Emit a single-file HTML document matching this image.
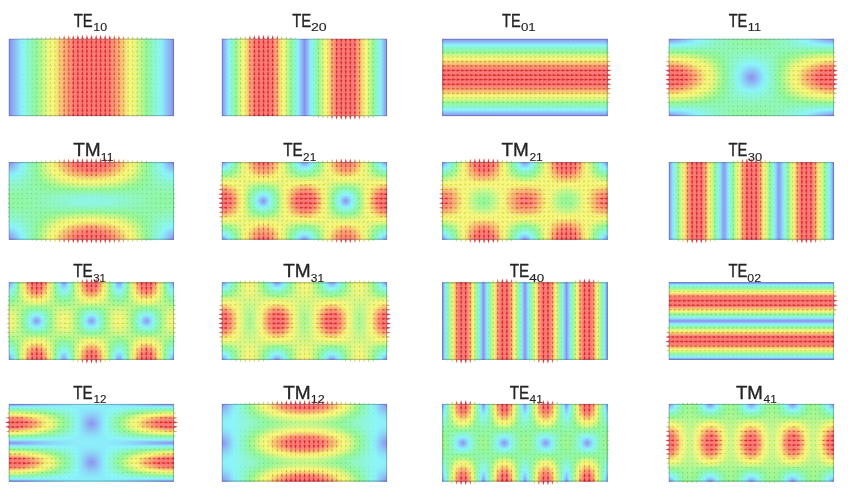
<!DOCTYPE html>
<html><head><meta charset="utf-8"><title>Rectangular waveguide modes</title>
<style>
html,body{margin:0;padding:0;background:#fff}
#r{position:relative;width:848px;height:493px;overflow:hidden;background:#fff;font-family:"Liberation Sans",sans-serif}
.p{position:absolute;overflow:hidden}
.p i{display:block;height:1px;position:relative}
.p i::before,.p i::after{content:"";position:absolute;top:0;height:1px;width:83px}
.p i::before{left:0;background:linear-gradient(90deg,var(--g))}
.p i::after{right:0;background:linear-gradient(270deg,var(--g))}
svg{position:absolute;left:0;top:0}
text{font-family:"Liberation Sans",sans-serif;fill:#222}
.aa{--g:#8e96f1,#8e9cf1,#8ea5f2,#8db0f3,#8dbaf4,#8dc5f5,#8dcff6,#8dd9f7,#8ce3f8,#8cedf9,#8cf5f9,#8df5f1,#8ef5e9,#8ff5e1,#8ff5da,#90f5d3,#91f5cc,#91f6c6,#92f6c1,#93f6bc,#93f6b7,#93f6b3,#94f6af,#94f6ac,#94f6aa,#95f6a8,#95f6a7,#95f6a6,#95f6a6}
.ab{--g:#8ea7f2,#8da9f3,#8daff3,#8db7f4,#8dc0f5,#8dc9f6,#8dd3f7,#8cdcf8,#8ce6f9,#8ceff9,#8cf5f7,#8df5ef,#8ef5e7,#8ff5e0,#8ff5d9,#90f5d2,#91f5cc,#91f6c6,#92f6c0,#93f6bb,#93f6b7,#93f6b3,#94f6b0,#94f6ad,#94f6aa,#95f6a8,#95f6a7,#95f6a6,#95f6a6}
.ac{--g:#8db8f4,#8db9f4,#8dbdf5,#8dc3f5,#8dcaf6,#8dd1f7,#8dd9f7,#8ce2f8,#8ceaf9,#8cf3fa,#8df5f4,#8df5ed,#8ef5e5,#8ff5de,#90f5d7,#90f5d1,#91f5cb,#92f6c5,#92f6c0,#93f6bb,#93f6b7,#93f6b3,#94f6b0,#94f6ad,#94f6ab,#95f6a9,#95f6a8,#95f6a7,#95f6a7}
.ad{--g:#8dc9f6,#8dcaf6,#8dccf6,#8dd0f6,#8dd6f7,#8cdcf8,#8ce3f8,#8ceaf9,#8cf1fa,#8cf5f7,#8df5f0,#8ef5e9,#8ff5e2,#8ff5dc,#90f5d5,#90f5cf,#91f6ca,#92f6c4,#92f6c0,#93f6bb,#93f6b7,#93f6b3,#94f6b0,#94f6ae,#94f6ab,#94f6aa,#95f6a8,#95f6a8,#95f6a8}
.ae{--g:#8dd9f7,#8ddaf7,#8cdcf8,#8cdff8,#8ce3f8,#8ce8f9,#8cedf9,#8cf3fa,#8cf5f6,#8df5f0,#8ef5ea,#8ef5e4,#8ff5de,#90f5d8,#90f5d3,#91f5cd,#91f6c8,#92f6c3,#92f6bf,#93f6bb,#93f6b7,#93f6b4,#94f6b1,#94f6ae,#94f6ac,#94f6ab,#94f6aa,#95f6a9,#95f6a9}
.af{--g:#8ceaf9,#8ceaf9,#8cecf9,#8ceef9,#8cf1fa,#8cf5fa,#8cf5f6,#8df5f2,#8df5ed,#8ef5e8,#8ef5e3,#8ff5de,#8ff5d9,#90f5d4,#90f5cf,#91f5cb,#91f6c6,#92f6c2,#92f6be,#93f6ba,#93f6b7,#93f6b4,#94f6b1,#94f6af,#94f6ad,#94f6ac,#94f6ab,#94f6aa,#94f6aa}
.ag{--g:#8cf5f5,#8df5f5,#8df5f4,#8df5f3,#8df5f0,#8df5ee,#8ef5eb,#8ef5e7,#8ef5e4,#8ff5e0,#8ff5dc,#90f5d8,#90f5d4,#90f5d0,#91f5cc,#91f6c8,#92f6c4,#92f6c0,#92f6bd,#93f6ba,#93f6b7,#93f6b4,#94f6b2,#94f6b0,#94f6af,#94f6ad,#94f6ad,#94f6ac,#94f6ac}
.ah{--g:#8ef5e7,#8ef5e6,#8ef5e6,#8ef5e5,#8ef5e3,#8ff5e1,#8ff5df,#8ff5dd,#8ff5da,#90f5d7,#90f5d4,#90f5d1,#91f5ce,#91f6ca,#91f6c7,#92f6c4,#92f6c1,#92f6be,#93f6bc,#93f6b9,#93f6b7,#93f6b5,#93f6b3,#94f6b2,#94f6b0,#94f6af,#94f6af,#94f6ae,#94f6ae}
.ai{--g:#90f5d8,#90f5d8,#90f5d7,#90f5d7,#90f5d6,#90f5d4,#90f5d3,#90f5d1,#90f5cf,#91f5ce,#91f5cb,#91f6c9,#91f6c7,#92f6c5,#92f6c3,#92f6c0,#92f6be,#92f6bc,#93f6ba,#93f6b9,#93f6b7,#93f6b5,#93f6b4,#93f6b3,#94f6b2,#94f6b1,#94f6b1,#94f6b1,#94f6b0}
.aj{--g:#91f6c9,#91f6c9,#91f6c9,#91f6c9,#91f6c8,#91f6c8,#91f6c7,#91f6c6,#92f6c5,#92f6c4,#92f6c3,#92f6c1,#92f6c0,#92f6bf,#92f6be,#92f6bc,#93f6bb,#93f6ba,#93f6b9,#93f6b8,#93f6b7,#93f6b6,#93f6b5,#93f6b5,#93f6b4,#93f6b4,#93f6b3,#93f6b3,#93f6b3}
.ak{--g:#93f6bb,#93f6bb,#93f6bb,#93f6bb,#93f6bb,#93f6bb,#93f6bb,#93f6ba,#93f6ba,#93f6ba,#93f6ba,#93f6b9,#93f6b9,#93f6b9,#93f6b9,#93f6b8,#93f6b8,#93f6b8,#93f6b7,#93f6b7,#93f6b7,#93f6b7,#93f6b6,#93f6b6,#93f6b6,#93f6b6,#93f6b6,#93f6b6,#93f6b6}
.al{--g:#94f6ad,#94f6ad,#94f6ad,#94f6ae,#94f6ae,#94f6ae,#94f6ae,#94f6af,#94f6af,#94f6b0,#94f6b1,#94f6b1,#94f6b2,#94f6b2,#93f6b3,#93f6b4,#93f6b4,#93f6b5,#93f6b6,#93f6b6,#93f6b7,#93f6b7,#93f6b8,#93f6b8,#93f6b9,#93f6b9,#93f6b9,#93f6b9,#93f6b9}
.am{--g:#96f69f,#96f6a0,#95f6a0,#95f6a0,#95f6a1,#95f6a2,#95f6a2,#95f6a4,#95f6a5,#95f6a6,#95f6a7,#95f6a9,#94f6aa,#94f6ac,#94f6ae,#94f6af,#94f6b1,#94f6b2,#93f6b4,#93f6b5,#93f6b7,#93f6b8,#93f6b9,#93f6ba,#93f6bb,#93f6bc,#93f6bc,#92f6bc,#92f6bd}
.an{--g:#a1f698,#a1f698,#a1f698,#a0f699,#9ff699,#9df699,#9bf69a,#99f69a,#97f69b,#96f69c,#96f69e,#95f6a0,#95f6a3,#95f6a5,#95f6a8,#94f6aa,#94f6ad,#94f6b0,#94f6b2,#93f6b5,#93f6b7,#93f6b9,#93f6bb,#92f6bc,#92f6be,#92f6bf,#92f6c0,#92f6c0,#92f6c0}
.ao{--g:#b2f694,#b1f694,#b1f695,#b0f695,#aef695,#acf696,#aaf696,#a7f697,#a4f698,#a1f698,#9ef699,#9af69a,#96f69b,#96f69f,#95f6a2,#95f6a6,#94f6a9,#94f6ad,#94f6b0,#93f6b4,#93f6b7,#93f6ba,#92f6bc,#92f6bf,#92f6c1,#92f6c2,#92f6c3,#92f6c4,#92f6c4}
.ap{--g:#c2f691,#c1f691,#c1f691,#bff691,#bef692,#bbf692,#b8f693,#b5f694,#b1f694,#adf695,#a9f696,#a4f698,#9ff699,#9af69a,#96f69c,#95f6a1,#95f6a5,#94f6aa,#94f6ae,#94f6b3,#93f6b7,#93f6bb,#92f6be,#92f6c1,#92f6c4,#91f6c6,#91f6c7,#91f6c8,#91f6c8}
.aq{--g:#d1f68d,#d1f68d,#d0f68d,#cef68d,#ccf68e,#caf68f,#c6f68f,#c2f690,#bef691,#b9f693,#b4f694,#aef695,#a8f697,#a2f698,#9bf69a,#96f69c,#95f6a2,#95f6a7,#94f6ac,#94f6b2,#93f6b7,#93f6bc,#92f6c0,#92f6c4,#91f6c7,#91f6ca,#91f5cb,#91f5cd,#91f5cd}
.ar{--g:#e0f689,#e0f689,#dff68a,#ddf68a,#dbf68b,#d8f68b,#d4f68c,#d0f68d,#cbf68e,#c5f690,#bff691,#b8f693,#b1f694,#aaf696,#a2f698,#9bf69a,#96f69e,#95f6a4,#94f6ab,#94f6b1,#93f6b7,#92f6bc,#92f6c2,#91f6c6,#91f6ca,#91f5ce,#90f5d0,#90f5d1,#90f5d2}
.as{--g:#eff686,#eef686,#edf686,#ebf687,#e9f687,#e5f688,#e1f689,#dcf68a,#d7f68c,#d0f68d,#caf68f,#c2f690,#baf692,#b2f694,#a9f696,#a0f698,#97f69b,#95f6a1,#95f6a9,#94f6b0,#93f6b7,#92f6bd,#92f6c4,#91f6c9,#91f5ce,#90f5d2,#90f5d4,#90f5d6,#90f5d6}
.at{--g:#f6f684,#f6f684,#f6f684,#f6f684,#f6f684,#f2f685,#eef686,#e8f687,#e2f689,#dbf68a,#d4f68c,#ccf68e,#c3f690,#baf692,#b0f695,#a6f697,#9cf69a,#96f69e,#95f6a7,#94f6af,#93f6b7,#92f6be,#92f6c5,#91f5cc,#90f5d1,#90f5d6,#8ff5d9,#8ff5db,#8ff5dc}
.au{--g:#f6f684,#f6f684,#f6f684,#f6f684,#f6f684,#f6f684,#f6f684,#f4f684,#edf686,#e6f688,#def68a,#d5f68c,#cbf68e,#c1f691,#b7f693,#acf696,#a1f698,#96f69c,#95f6a5,#94f6ae,#93f6b7,#92f6bf,#91f6c7,#91f5cf,#90f5d5,#8ff5da,#8ff5de,#8ff5e0,#8ff5e1}
.av{--g:#f6f084,#f6f184,#f6f384,#f6f684,#f6f684,#f6f684,#f6f684,#f6f684,#f6f684,#f0f685,#e7f688,#def68a,#d4f68c,#c9f68f,#bdf692,#b1f694,#a5f697,#99f69a,#95f6a3,#94f6ad,#93f6b7,#92f6c0,#91f6c9,#90f5d1,#90f5d9,#8ff5df,#8ef5e3,#8ef5e6,#8ef5e6}
.aw{--g:#f7e182,#f7e282,#f7e482,#f7e783,#f6ec83,#f6f284,#f6f684,#f6f684,#f6f684,#f6f684,#f0f685,#e6f688,#dbf68a,#d0f68d,#c4f690,#b7f693,#aaf696,#9cf69a,#95f6a1,#94f6ac,#93f6b7,#92f6c1,#91f5cb,#90f5d4,#8ff5dc,#8ef5e3,#8ef5e8,#8ef5eb,#8df5ec}
.ax{--g:#f7d281,#f7d381,#f7d581,#f7d882,#f7dd82,#f7e482,#f6eb83,#f6f484,#f6f684,#f6f684,#f6f684,#eef686,#e3f689,#d7f68c,#caf68f,#bcf692,#aef695,#9ff699,#96f69f,#94f6ab,#93f6b7,#92f6c2,#91f5cd,#90f5d7,#8ff5e0,#8ef5e8,#8df5ee,#8df5f1,#8df5f2}
.ay{--g:#f8c480,#f8c580,#f8c780,#f7cb80,#f7d081,#f7d781,#f7df82,#f6e883,#f6f384,#f6f684,#f6f684,#f6f684,#eaf687,#ddf68a,#cff68d,#c1f691,#b2f694,#a3f698,#96f69e,#94f6aa,#93f6b7,#92f6c3,#91f5cf,#8ff5da,#8ef5e4,#8df5ed,#8df5f3,#8cf5f7,#8cf5f8}
.az{--g:#f8b77f,#f8b87f,#f8ba7f,#f8be7f,#f8c380,#f7ca80,#f7d381,#f7dd82,#f6e883,#f6f484,#f6f684,#f6f684,#f1f685,#e3f689,#d5f68c,#c5f690,#b6f693,#a5f697,#96f69c,#95f6a9,#93f6b7,#92f6c4,#90f5d1,#8ff5dd,#8ef5e8,#8df5f1,#8cf5f9,#8cf2fa,#8cf0fa}
.ba{--g:#f9ab7e,#f8ab7e,#f8ae7e,#f8b27e,#f8b87f,#f8bf7f,#f8c780,#f7d281,#f7dd82,#f6eb83,#f6f684,#f6f684,#f6f684,#e9f687,#daf68b,#caf68f,#b9f693,#a8f697,#97f69b,#95f6a8,#93f6b7,#92f6c5,#90f5d2,#8ff5e0,#8ef5ec,#8cf5f6,#8cf0fa,#8cebf9,#8ce9f9}
.bb{--g:#f99f7d,#f9a07d,#f9a37d,#f9a77d,#f8ad7e,#f8b47f,#f8bd7f,#f8c880,#f7d481,#f7e182,#f6f084,#f6f684,#f6f684,#eef686,#def68a,#cef68e,#bdf692,#abf696,#99f69a,#95f6a8,#93f6b7,#92f6c5,#90f5d4,#8ff5e2,#8df5ef,#8cf4fa,#8ceaf9,#8ce4f8,#8ce2f8}
.bc{--g:#f9957c,#f9967c,#f9987c,#f99d7d,#f9a37d,#f9aa7e,#f8b47e,#f8be7f,#f7cb80,#f7d982,#f6e883,#f6f684,#f6f684,#f3f685,#e3f689,#d2f68d,#c0f691,#adf695,#9af69a,#95f6a7,#93f6b7,#91f6c6,#90f5d6,#8ef5e5,#8df5f3,#8ceff9,#8ce4f8,#8cddf8,#8ddbf7}
.bd{--g:#fa8b7b,#fa8c7b,#f98f7b,#f9937c,#f9997c,#f9a17d,#f9ab7e,#f8b67f,#f8c380,#f7d181,#f7e182,#f6f384,#f6f684,#f6f684,#e7f688,#d5f68c,#c3f690,#b0f695,#9cf69a,#95f6a6,#93f6b7,#91f6c7,#90f5d7,#8ef5e7,#8cf5f6,#8ceaf9,#8cdef8,#8dd6f7,#8dd4f7}
.be{--g:#fa837a,#fa847a,#fa867b,#fa8b7b,#f9917c,#f9997c,#f9a37d,#f8af7e,#f8bc7f,#f7ca80,#f7db82,#f6ec83,#f6f684,#f6f684,#eaf687,#d8f68b,#c5f690,#b2f694,#9df699,#95f6a6,#93f6b7,#91f6c8,#90f5d9,#8ef5e9,#8cf5fa,#8ce5f8,#8dd8f7,#8dcff6,#8dccf6}
.bf{--g:#fa7e7a,#fa7e7a,#fa7f7a,#fa847a,#fa8a7b,#f9927c,#f99c7d,#f9a87d,#f8b57f,#f8c480,#f7d581,#f6e783,#f6f684,#f6f684,#edf686,#dbf68b,#c8f68f,#b3f694,#9ff699,#95f6a5,#93f6b6,#91f6c8,#8ff5da,#8ef5eb,#8cf2fa,#8ce1f8,#8dd2f7,#8dc8f6,#8dc5f5}
.bg{--g:#fa7e7a,#fa7e7a,#fa7e7a,#fa7e7a,#fa847a,#fa8c7b,#f9967c,#f9a27d,#f8b07e,#f8bf7f,#f7d081,#f7e282,#f6f684,#f6f684,#f0f685,#ddf68a,#caf68f,#b5f694,#a0f699,#95f6a5,#93f6b6,#91f6c9,#8ff5db,#8df5ed,#8ceff9,#8cddf8,#8dccf6,#8dc1f5,#8dbdf5}
.bh{--g:#fa7e7a,#fa7e7a,#fa7e7a,#fa7e7a,#fa7e7a,#fa877b,#f9917c,#f99d7d,#f9ab7e,#f8ba7f,#f7cc80,#f7de82,#f6f384,#f6f684,#f2f685,#dff689,#cbf68e,#b6f693,#a1f698,#95f6a4,#93f6b6,#91f6c9,#8ff5dc,#8df5ef,#8cedf9,#8dd9f7,#8dc7f6,#8dbaf4,#8db6f4}
.bi{--g:#fa7e7a,#fa7e7a,#fa7e7a,#fa7e7a,#fa7e7a,#fa827a,#fa8d7b,#f9997c,#f9a77d,#f8b77f,#f8c880,#f7db82,#f6f083,#f6f684,#f4f684,#e1f689,#cdf68e,#b7f693,#a1f698,#95f6a4,#93f6b6,#91f6c9,#8ff5dd,#8df5f0,#8cebf9,#8dd6f7,#8dc2f5,#8db3f4,#8daef3}
.bj{--g:#fa7e7a,#fa7e7a,#fa7e7a,#fa7e7a,#fa7e7a,#fa7f7a,#fa897b,#f9967c,#f9a47d,#f8b47e,#f8c580,#f7d882,#f6ed83,#f6f684,#f6f684,#e2f689,#cef68e,#b8f693,#a2f698,#95f6a4,#93f6b6,#91f6ca,#8ff5dd,#8df5f1,#8ce9f9,#8dd3f7,#8dbef5,#8dacf3,#8ea6f2}
.bk{--g:#fa7e7a,#fa7e7a,#fa7e7a,#fa7e7a,#fa7e7a,#fa7e7a,#fa877b,#f9947c,#f9a27d,#f8b27e,#f8c380,#f7d781,#f6ec83,#f6f684,#f6f684,#e3f688,#cff68d,#b9f693,#a3f698,#95f6a3,#93f6b6,#91f6ca,#8ff5de,#8df5f2,#8ce7f9,#8dd1f7,#8dbbf4,#8ea7f2,#8e9ef2}
.bl{--g:#fa7e7a,#fa7e7a,#fa7e7a,#fa7e7a,#fa7e7a,#fa7e7a,#fa867b,#f9927c,#f9a07d,#f8b07e,#f8c280,#f7d681,#f6ea83,#f6f684,#f6f684,#e4f688,#cff68d,#b9f693,#a3f698,#95f6a3,#93f6b6,#91f6ca,#8ff5de,#8df5f3,#8ce7f9,#8dd0f6,#8db9f4,#8ea3f2,#8e97f1}
.bm{--g:#fa7e7a,#fa7e7a,#fa7e7a,#fa7e7a,#fa7e7a,#fa7e7a,#fa857b,#f9927c,#f9a07d,#f8b07e,#f8c280,#f7d581,#f6ea83,#f6f684,#f6f684,#e4f688,#cff68d,#b9f692,#a3f698,#95f6a3,#93f6b6,#91f6ca,#8ff5de,#8df5f3,#8ce6f9,#8dd0f6,#8db9f4,#8ea1f2,#8e92f0}
.bn{--g:#8e92f0,#8ea6f2,#8dbdf5,#8dd4f7,#8ceaf9,#8df5ef,#8ff5db,#91f6c7,#93f6b3,#95f6a0,#a7f697,#bdf692,#d3f68c,#e7f688,#f6f684,#f6f684,#f7e783,#f7d281,#f8bf7f,#f8ad7e,#f99e7d,#f9907b,#fa837a,#fa7e7a,#fa7e7a,#fa7e7a,#fa7e7a,#fa7e7a,#fa7e7a}
.bo{--g:#8e9af1,#8da8f3,#8dbef5,#8dd4f7,#8cebf9,#8df5ef,#8ff5db,#91f6c7,#93f6b3,#95f6a0,#a7f697,#bdf692,#d2f68d,#e7f688,#f6f684,#f6f684,#f6e783,#f7d281,#f8bf7f,#f8ae7e,#f99e7d,#f9907c,#fa847b,#fa7e7a,#fa7e7a,#fa7e7a,#fa7e7a,#fa7e7a,#fa7e7a}
.bp{--g:#8ea2f2,#8dacf3,#8dc0f5,#8dd6f7,#8cecf9,#8df5ee,#8ff5da,#91f6c6,#93f6b3,#95f6a0,#a6f697,#bdf692,#d2f68d,#e6f688,#f6f684,#f6f684,#f6e883,#f7d481,#f8c180,#f8af7e,#f9a07d,#f9927c,#fa867b,#fa7e7a,#fa7e7a,#fa7e7a,#fa7e7a,#fa7e7a,#fa7e7a}
.bq{--g:#8da9f3,#8db2f3,#8dc3f5,#8dd8f7,#8cedf9,#8df5ed,#8ff5da,#91f6c6,#93f6b3,#95f6a1,#a6f697,#bcf692,#d1f68d,#e5f688,#f6f684,#f6f684,#f6ea83,#f7d681,#f8c380,#f8b27e,#f9a27d,#f9947c,#fa887b,#fa7e7a,#fa7e7a,#fa7e7a,#fa7e7a,#fa7e7a,#fa7e7a}
.br{--g:#8db1f3,#8db8f4,#8dc7f6,#8ddbf7,#8ceff9,#8df5ec,#8ff5d9,#91f6c6,#93f6b3,#95f6a1,#a5f697,#bbf692,#d0f68d,#e4f688,#f6f684,#f6f684,#f6ed83,#f7d882,#f8c680,#f8b57f,#f9a57d,#f9987c,#fa8c7b,#fa827a,#fa7e7a,#fa7e7a,#fa7e7a,#fa7e7a,#fa7e7a}
.bs{--g:#8db9f4,#8dbef5,#8dccf6,#8cdef8,#8cf1fa,#8ef5eb,#90f5d8,#92f6c5,#93f6b3,#95f6a1,#a5f698,#baf692,#cff68d,#e2f689,#f5f684,#f6f684,#f6f083,#f7dc82,#f7c980,#f8b87f,#f9a97e,#f99c7c,#f9907b,#fa867b,#fa7e7a,#fa7e7a,#fa7e7a,#fa7e7a,#fa7e7a}
.bt{--g:#8dc0f5,#8dc5f5,#8dd1f7,#8ce2f8,#8cf4fa,#8ef5e9,#90f5d7,#92f6c5,#93f6b3,#95f6a1,#a4f698,#b9f693,#cdf68e,#e1f689,#f3f685,#f6f684,#f6f384,#f7df82,#f7cd81,#f8bd7f,#f8ae7e,#f9a07d,#f9957c,#fa8b7b,#fa837a,#fa7e7a,#fa7e7a,#fa7e7a,#fa7e7a}
.bu{--g:#8dc8f6,#8dccf6,#8dd7f7,#8ce6f9,#8cf5f8,#8ef5e7,#90f5d6,#92f6c4,#93f6b3,#95f6a2,#a3f698,#b7f693,#cbf68e,#def68a,#f0f685,#f6f684,#f6f684,#f7e482,#f7d281,#f8c280,#f8b37e,#f9a67d,#f99b7c,#f9917c,#fa897b,#fa837a,#fa7f7a,#fa7e7a,#fa7e7a}
.bv{--g:#8dcff6,#8dd3f7,#8cdcf8,#8ceaf9,#8cf5f5,#8ef5e5,#90f5d5,#92f6c4,#93f6b3,#95f6a2,#a2f698,#b6f693,#c9f68f,#dcf68a,#edf686,#f6f684,#f6f684,#f6e983,#f7d881,#f8c880,#f8b97f,#f8ac7e,#f9a17d,#f9987c,#f9907b,#fa8a7b,#fa867b,#fa837a,#fa837a}
.bw{--g:#8dd7f7,#8ddaf7,#8ce2f8,#8ceff9,#8df5f2,#8ef5e3,#90f5d3,#92f6c3,#93f6b3,#95f6a3,#a0f699,#b4f694,#c7f68f,#d9f68b,#eaf687,#f6f684,#f6f684,#f6ef83,#f7de82,#f7ce81,#f8c07f,#f8b37e,#f9a87e,#f99f7d,#f9987c,#f9927c,#f98e7b,#fa8b7b,#fa8b7b}
.bx{--g:#8cdef8,#8ce0f8,#8ce8f9,#8cf3fa,#8df5ef,#8ff5e1,#90f5d2,#92f6c2,#94f6b3,#95f6a3,#9ff699,#b2f694,#c4f690,#d6f68c,#e7f688,#f6f684,#f6f684,#f6f584,#f7e483,#f7d581,#f8c780,#f8bb7f,#f8b07e,#f9a77d,#f9a07d,#f99a7c,#f9967c,#f9947c,#f9937c}
.by{--g:#8ce5f8,#8ce7f9,#8ceef9,#8cf5f7,#8ef5eb,#8ff5de,#90f5d0,#92f6c1,#94f6b3,#95f6a4,#9df699,#b0f695,#c1f691,#d2f68d,#e3f689,#f2f685,#f6f684,#f6f684,#f6ec83,#f7dd82,#f7cf81,#f8c480,#f8b97f,#f8b07e,#f9a97e,#f9a47d,#f9a07d,#f99e7d,#f99d7d}
.bz{--g:#8cecf9,#8ceef9,#8cf4fa,#8df5f3,#8ef5e8,#8ff5dc,#91f5ce,#92f6c1,#94f6b2,#95f6a4,#9cf69a,#adf695,#bef691,#cff68d,#def68a,#edf686,#f6f684,#f6f684,#f6f484,#f7e583,#f7d882,#f7cd81,#f8c380,#f8ba7f,#f8b37e,#f8ae7e,#f9aa7e,#f9a87d,#f9a77d}
.ca{--g:#8cf3fa,#8cf4fa,#8cf5f6,#8df5ee,#8ef5e4,#8ff5d9,#91f5cd,#92f6c0,#94f6b2,#95f6a5,#9af69a,#abf696,#bbf692,#cbf68e,#daf68b,#e8f687,#f6f684,#f6f684,#f6f684,#f6ee83,#f7e282,#f7d781,#f7cd81,#f8c580,#f8be7f,#f8b97f,#f8b57f,#f8b37e,#f8b27e}
.cb{--g:#8cf5f6,#8df5f5,#8df5f0,#8ef5e9,#8ff5e1,#90f5d6,#91f5cb,#92f6bf,#94f6b2,#95f6a6,#99f69a,#a8f697,#b8f693,#c7f68f,#d5f68c,#e3f689,#f0f685,#f6f684,#f6f684,#f6f684,#f6ec83,#f7e182,#f7d881,#f7d081,#f7c980,#f8c480,#f8c180,#f8bf7f,#f8be7f}
.cc{--g:#8df5f0,#8df5ef,#8ef5eb,#8ef5e5,#8ff5dd,#90f5d3,#91f6c9,#92f6be,#94f6b2,#95f6a6,#97f69b,#a6f697,#b4f694,#c2f690,#d0f68d,#ddf68a,#e9f687,#f5f684,#f6f684,#f6f684,#f6f684,#f6ec83,#f7e382,#f7dc82,#f7d581,#f7d181,#f7cd81,#f7cb80,#f7cb80}
.cd{--g:#8ef5ea,#8ef5e9,#8ef5e6,#8ff5e0,#8ff5d9,#90f5d1,#91f6c7,#92f6bd,#94f6b2,#95f6a7,#96f69c,#a3f698,#b0f695,#bef691,#cbf68e,#d7f68b,#e3f689,#eef686,#f6f684,#f6f684,#f6f684,#f6f684,#f6ef83,#f6e883,#f7e282,#f7de82,#f7da82,#f7d982,#f7d882}
.ce{--g:#8ef5e5,#8ef5e4,#8ff5e1,#8ff5dc,#90f5d6,#91f5ce,#92f6c5,#93f6bc,#94f6b2,#95f6a8,#96f69d,#a0f699,#adf696,#b9f693,#c5f690,#d1f68d,#dcf68a,#e6f688,#f0f685,#f6f684,#f6f684,#f6f684,#f6f684,#f6f584,#f6ef83,#f6eb83,#f6e883,#f7e683,#f7e683}
.cf{--g:#8ff5df,#8ff5df,#8ff5dc,#90f5d8,#90f5d2,#91f5cb,#92f6c3,#93f6bb,#94f6b2,#95f6a9,#96f69f,#9df699,#a9f697,#b4f694,#c0f691,#caf68e,#d5f68c,#def68a,#e7f687,#f0f685,#f6f684,#f6f684,#f6f684,#f6f684,#f6f684,#f6f684,#f6f684,#f6f584,#f6f484}
.cg{--g:#8ff5da,#8ff5d9,#90f5d7,#90f5d3,#91f5ce,#91f6c8,#92f6c1,#93f6ba,#94f6b2,#94f6a9,#95f6a1,#9af69a,#a5f697,#aff695,#baf692,#c4f690,#cdf68e,#d6f68c,#dff68a,#e7f688,#eef686,#f4f685,#f6f684,#f6f684,#f6f684,#f6f684,#f6f684,#f6f684,#f6f684}
.ch{--g:#90f5d5,#90f5d5,#90f5d3,#90f5cf,#91f5cb,#92f6c6,#92f6c0,#93f6b9,#94f6b2,#94f6aa,#95f6a2,#97f69b,#a1f698,#aaf696,#b4f694,#bdf692,#c6f690,#cef68e,#d6f68c,#ddf68a,#e3f688,#e9f687,#eef686,#f3f685,#f6f684,#f6f684,#f6f684,#f6f684,#f6f684}
.ci{--g:#90f5d0,#90f5d0,#91f5ce,#91f5cb,#91f6c8,#92f6c3,#92f6be,#93f6b8,#94f6b1,#94f6ab,#95f6a4,#96f69d,#9df699,#a5f697,#aef695,#b6f693,#bef691,#c6f690,#cdf68e,#d3f68c,#d9f68b,#def68a,#e3f689,#e7f688,#eaf687,#edf686,#eef686,#f0f686,#f0f685}
.cj{--g:#91f5cc,#91f5cb,#91f6ca,#91f6c8,#92f6c4,#92f6c1,#93f6bc,#93f6b7,#94f6b1,#94f6ac,#95f6a5,#96f69f,#98f69a,#a0f699,#a8f697,#aff695,#b6f693,#bdf692,#c3f690,#c9f68f,#cef68d,#d3f68c,#d7f68b,#dbf68a,#def68a,#e0f689,#e2f689,#e3f689,#e3f689}
.ck{--g:#91f6c8,#91f6c7,#91f6c6,#92f6c4,#92f6c1,#92f6be,#93f6ba,#93f6b6,#94f6b1,#94f6ac,#95f6a7,#95f6a2,#96f69c,#9bf69a,#a2f698,#a8f697,#aef695,#b4f694,#baf692,#bff691,#c4f690,#c8f68f,#ccf68e,#cff68d,#d1f68d,#d3f68c,#d5f68c,#d6f68c,#d6f68c}
.cl{--g:#92f6c3,#92f6c3,#92f6c2,#92f6c1,#92f6be,#93f6bc,#93f6b9,#93f6b5,#94f6b1,#94f6ad,#95f6a9,#95f6a4,#96f6a0,#96f69b,#9cf69a,#a1f698,#a6f697,#acf696,#b0f695,#b5f694,#b9f693,#bdf692,#c0f691,#c2f690,#c5f690,#c7f68f,#c8f68f,#c8f68f,#c9f68f}
.cm{--g:#92f6c0,#92f6bf,#92f6bf,#92f6bd,#93f6bc,#93f6b9,#93f6b7,#93f6b4,#94f6b1,#94f6ae,#94f6aa,#95f6a6,#95f6a3,#96f69f,#96f69b,#9af69a,#9ff699,#a3f698,#a7f697,#abf696,#aef695,#b1f695,#b4f694,#b6f693,#b8f693,#b9f693,#baf692,#bbf692,#bbf692}
.cn{--g:#93f6bc,#93f6bc,#93f6bb,#93f6ba,#93f6b9,#93f6b7,#93f6b5,#93f6b3,#94f6b1,#94f6ae,#94f6ac,#95f6a9,#95f6a6,#95f6a3,#95f6a0,#96f69d,#97f69b,#9af69a,#9df699,#a0f699,#a3f698,#a5f697,#a8f697,#aaf696,#abf696,#acf696,#adf695,#aef695,#aef695}
.co{--g:#93f6b9,#93f6b9,#93f6b8,#93f6b7,#93f6b7,#93f6b5,#93f6b4,#94f6b3,#94f6b1,#94f6af,#94f6ad,#94f6ab,#95f6a9,#95f6a7,#95f6a5,#95f6a3,#95f6a0,#96f69f,#96f69d,#96f69b,#98f69a,#9af69a,#9cf69a,#9df699,#9ef699,#9ff699,#a0f699,#a0f699,#a0f699}
.cp{--g:#93f6b6,#93f6b5,#93f6b5,#93f6b5,#93f6b4,#93f6b4,#94f6b3,#94f6b2,#94f6b1,#94f6b0,#94f6ae,#94f6ad,#94f6ac,#94f6aa,#95f6a9,#95f6a8,#95f6a6,#95f6a5,#95f6a4,#95f6a3,#95f6a2,#95f6a1,#95f6a0,#96f69f,#96f69f,#96f69e,#96f69e,#96f69e,#96f69e}
.cq{--g:#94f6b3,#94f6b3,#94f6b3,#94f6b2,#94f6b2,#94f6b2,#94f6b2,#94f6b1,#94f6b1,#94f6b0,#94f6b0,#94f6af,#94f6ae,#94f6ae,#94f6ad,#94f6ad,#94f6ac,#94f6ab,#94f6ab,#94f6aa,#94f6aa,#94f6aa,#95f6a9,#95f6a9,#95f6a9,#95f6a8,#95f6a8,#95f6a8,#95f6a8}
.cr{--g:#94f6b0,#94f6b0,#94f6b0,#94f6b0,#94f6b0,#94f6b0,#94f6b0,#94f6b0,#94f6b1,#94f6b1,#94f6b1,#94f6b1,#94f6b1,#94f6b1,#94f6b1,#94f6b1,#94f6b1,#94f6b2,#94f6b2,#94f6b2,#94f6b2,#94f6b2,#94f6b2,#94f6b2,#94f6b2,#94f6b2,#94f6b2,#94f6b2,#94f6b2}
.cs{--g:#94f6ae,#94f6ae,#94f6ae,#94f6ae,#94f6af,#94f6af,#94f6af,#94f6b0,#94f6b0,#94f6b1,#94f6b2,#94f6b3,#93f6b3,#93f6b4,#93f6b5,#93f6b6,#93f6b6,#93f6b7,#93f6b8,#93f6b9,#93f6b9,#93f6ba,#93f6bb,#93f6bb,#93f6bb,#93f6bc,#93f6bc,#93f6bc,#93f6bc}
.ct{--g:#94f6ac,#94f6ac,#94f6ac,#94f6ad,#94f6ad,#94f6ae,#94f6ae,#94f6af,#94f6b0,#94f6b2,#93f6b3,#93f6b4,#93f6b5,#93f6b7,#93f6b8,#93f6ba,#93f6bb,#92f6bc,#92f6be,#92f6bf,#92f6c0,#92f6c1,#92f6c2,#92f6c3,#92f6c4,#92f6c5,#92f6c5,#92f6c5,#92f6c5}
.cu{--g:#94f6aa,#94f6aa,#94f6ab,#94f6ab,#94f6ac,#94f6ad,#94f6ae,#94f6af,#94f6b0,#94f6b2,#93f6b4,#93f6b5,#93f6b7,#93f6b9,#93f6bb,#92f6bd,#92f6bf,#92f6c1,#92f6c3,#92f6c5,#91f6c7,#91f6c8,#91f6ca,#91f5cb,#91f5cc,#91f5cd,#91f5ce,#91f5ce,#91f5ce}
.cv{--g:#95f6a9,#95f6a9,#95f6a9,#94f6aa,#94f6ab,#94f6ac,#94f6ad,#94f6af,#94f6b0,#94f6b2,#93f6b4,#93f6b6,#93f6b9,#93f6bb,#92f6be,#92f6c0,#92f6c3,#92f6c5,#91f6c8,#91f6ca,#91f5cc,#91f5ce,#90f5d0,#90f5d2,#90f5d3,#90f5d4,#90f5d5,#90f5d5,#90f5d6}
.cw{--g:#95f6a8,#95f6a8,#95f6a8,#95f6a9,#94f6aa,#94f6ab,#94f6ad,#94f6ae,#94f6b0,#94f6b2,#93f6b5,#93f6b7,#93f6ba,#92f6bd,#92f6c0,#92f6c3,#92f6c6,#91f6c9,#91f5cc,#91f5ce,#90f5d1,#90f5d3,#90f5d6,#90f5d8,#8ff5d9,#8ff5db,#8ff5db,#8ff5dc,#8ff5dc}
.cx{--g:#95f6a7,#95f6a7,#95f6a7,#95f6a8,#95f6a9,#94f6ab,#94f6ac,#94f6ae,#94f6b0,#94f6b3,#93f6b5,#93f6b8,#93f6bb,#92f6be,#92f6c1,#92f6c5,#91f6c8,#91f5cb,#91f5cf,#90f5d2,#90f5d5,#90f5d7,#8ff5da,#8ff5dc,#8ff5de,#8ff5df,#8ff5e1,#8ff5e1,#8ff5e1}
.cy{--g:#95f6a6,#95f6a6,#95f6a7,#95f6a8,#95f6a9,#94f6aa,#94f6ac,#94f6ae,#94f6b0,#93f6b3,#93f6b6,#93f6b9,#93f6bc,#92f6bf,#92f6c2,#91f6c6,#91f6ca,#91f5cd,#90f5d1,#90f5d4,#90f5d7,#8ff5da,#8ff5dd,#8ff5df,#8ff5e1,#8ef5e3,#8ef5e4,#8ef5e5,#8ef5e5}
.cz{--g:#95f6a6,#95f6a6,#95f6a6,#95f6a7,#95f6a8,#94f6aa,#94f6ac,#94f6ae,#94f6b0,#93f6b3,#93f6b6,#93f6b9,#93f6bc,#92f6bf,#92f6c3,#91f6c7,#91f6ca,#91f5ce,#90f5d2,#90f5d5,#90f5d8,#8ff5dc,#8ff5de,#8ff5e1,#8ef5e3,#8ef5e5,#8ef5e6,#8ef5e7,#8ef5e7}
.da{--g:#8e96f1,#8dbbf4,#8ce5f8,#8ff5e2,#92f6bc,#98f69a,#c2f691,#e8f687,#f6f684,#f7dc82,#f8bd7f,#f9a47d,#f9937c,#fa887b,#fa857b,#fa8a7b,#f9957c,#f9a87e,#f8c280,#f7e282,#f6f684,#e2f689,#bbf692,#96f69f,#92f6c3,#8ef5e8,#8cdef8,#8db3f4,#8e99f1}
.db{--g:#8ea7f2,#8dc0f5,#8ce8f9,#8ff5e0,#93f6bc,#99f69a,#c2f690,#e8f687,#f6f684,#f7dd82,#f8be7f,#f9a57d,#f9947c,#fa897b,#fa867b,#fa8b7b,#f9967c,#f9a97e,#f8c280,#f7e382,#f6f684,#e2f689,#bbf692,#96f69e,#92f6c2,#8ef5e6,#8ce1f8,#8dbaf4,#8da8f3}
.dc{--g:#8db7f4,#8dcaf6,#8ceef9,#8ff5dd,#93f6ba,#9af69a,#c3f690,#e8f687,#f6f684,#f7de82,#f8bf7f,#f9a77d,#f9957c,#fa8b7b,#fa887b,#fa8c7b,#f9987c,#f9aa7e,#f8c480,#f7e382,#f6f684,#e2f689,#bcf692,#96f69d,#92f6c0,#8ef5e3,#8ce7f9,#8dc5f5,#8db8f4}
.dd{--g:#8dc8f6,#8dd6f7,#8cf5fa,#8ff5d9,#93f6b7,#9cf699,#c4f690,#e8f687,#f6f684,#f7df82,#f8c180,#f9a97e,#f9987c,#f98e7b,#fa8b7b,#f98f7b,#f99a7c,#f8ad7e,#f8c580,#f7e583,#f6f684,#e2f689,#bdf692,#96f69b,#92f6bd,#8ff5df,#8ceff9,#8dd2f7,#8dc8f6}
.de{--g:#8dd8f7,#8ce3f8,#8df5f2,#90f5d3,#93f6b3,#9ff699,#c5f690,#e8f687,#f6f684,#f7e182,#f8c380,#f8ac7e,#f99b7c,#f9927c,#f98f7b,#f9937c,#f99e7d,#f8b07e,#f8c880,#f7e683,#f6f684,#e3f689,#bff691,#99f69a,#93f6b9,#90f5d9,#8cf5f6,#8ce0f8,#8dd9f7}
.df{--g:#8ce9f9,#8cf2fa,#8ef5e8,#91f5cd,#94f6af,#a3f698,#c7f68f,#e9f687,#f6f684,#f7e382,#f8c680,#f8b07e,#f9a07d,#f9967c,#f9937c,#f9977c,#f9a27d,#f8b37e,#f7cb80,#f6e883,#f6f684,#e3f689,#c1f691,#9cf69a,#93f6b4,#90f5d2,#8df5ec,#8ceff9,#8ce9f9}
.dg{--g:#8cf5f7,#8df5f0,#8ff5de,#92f6c5,#94f6aa,#a6f697,#c9f68f,#e9f687,#f6f684,#f7e683,#f7ca80,#f8b57f,#f9a57d,#f99c7c,#f9997c,#f99d7d,#f9a77d,#f8b87f,#f7ce81,#f6eb83,#f6f684,#e4f688,#c3f690,#a1f698,#94f6af,#91f6ca,#8ff5e1,#8df5f2,#8cf5f6}
.dh{--g:#8ef5e8,#8ff5e2,#90f5d3,#92f6bd,#95f6a4,#abf696,#cbf68e,#e9f687,#f6f684,#f6e983,#f7cf81,#f8ba7f,#f9ab7e,#f9a27d,#f99f7d,#f9a37d,#f8ad7e,#f8bd7f,#f7d381,#f6ee83,#f6f684,#e4f688,#c6f690,#a5f697,#95f6a9,#92f6c1,#90f5d6,#8ef5e4,#8ef5e8}
.di{--g:#8ff5d9,#90f5d5,#91f6c7,#93f6b4,#96f69e,#b0f695,#cdf68e,#eaf687,#f6f684,#f6ec83,#f7d481,#f8c07f,#f8b27e,#f9a97e,#f9a77d,#f9aa7e,#f8b47e,#f8c380,#f7d781,#f6f184,#f6f684,#e5f688,#c8f68f,#abf696,#95f6a2,#93f6b8,#91f6ca,#90f5d6,#8ff5d9}
.dj{--g:#91f5cb,#91f6c7,#93f6bc,#94f6ab,#9af69a,#b5f694,#d0f68d,#eaf687,#f6f684,#f6f084,#f7d982,#f8c780,#f8b97f,#f8b17e,#f8af7e,#f8b27e,#f8bb7f,#f7c980,#f7dd82,#f6f584,#f6f684,#e6f688,#cbf68e,#b0f695,#96f69b,#94f6af,#92f6be,#91f6c8,#91f5cb}
.dk{--g:#92f6bd,#93f6ba,#94f6b0,#95f6a2,#a3f698,#bbf692,#d3f68c,#eaf687,#f6f684,#f6f484,#f7df82,#f7ce81,#f8c280,#f8ba7f,#f8b87f,#f8bb7f,#f8c480,#f7d181,#f7e282,#f6f684,#f6f684,#e7f688,#cff68d,#b6f693,#9ff699,#95f6a5,#94f6b2,#93f6bb,#92f6bd}
.dl{--g:#94f6af,#94f6ac,#95f6a5,#99f69a,#acf696,#c0f691,#d6f68c,#ebf687,#f6f684,#f6f684,#f7e683,#f7d681,#f7cb80,#f8c480,#f8c280,#f8c580,#f7cd81,#f7d982,#f6e983,#f6f684,#f6f684,#e8f687,#d2f68d,#bdf692,#a8f697,#96f69b,#95f6a6,#94f6ad,#94f6af}
.dm{--g:#95f6a2,#96f69f,#99f69a,#a5f697,#b5f694,#c7f68f,#d9f68b,#ecf687,#f6f684,#f6f684,#f6ed83,#f7df82,#f7d581,#f7cf81,#f7cd81,#f7d081,#f7d681,#f7e182,#f6f083,#f6f684,#f6f684,#e8f687,#d6f68c,#c4f690,#b2f694,#a3f698,#97f69b,#95f6a0,#95f6a2}
.dn{--g:#9ef699,#a1f698,#a7f697,#b1f694,#bef691,#cdf68e,#ddf68a,#ecf686,#f6f684,#f6f684,#f6f484,#f6e883,#f7e082,#f7da82,#f7d982,#f7db82,#f7e182,#f6ea83,#f6f684,#f6f684,#f6f684,#eaf687,#daf68b,#caf68e,#bcf692,#aff695,#a6f697,#a0f699,#9ef699}
.do{--g:#aff695,#b0f695,#b5f693,#bdf692,#c8f68f,#d3f68c,#e0f689,#edf686,#f6f684,#f6f684,#f6f684,#f6f284,#f6eb83,#f7e783,#f7e583,#f6e783,#f6ec83,#f6f484,#f6f684,#f6f684,#f6f684,#ebf687,#def68a,#d1f68d,#c6f690,#bcf692,#b4f694,#b0f695,#aff695}
.dp{--g:#bff691,#c0f691,#c4f690,#c9f68f,#d1f68d,#daf68b,#e4f688,#edf686,#f6f684,#f6f684,#f6f684,#f6f684,#f6f684,#f6f484,#f6f384,#f6f484,#f6f684,#f6f684,#f6f684,#f6f684,#f5f684,#ecf686,#e2f689,#d8f68b,#d0f68d,#c8f68f,#c3f690,#bff691,#bff691}
.dq{--g:#cef68e,#cff68d,#d1f68d,#d5f68c,#daf68b,#e1f689,#e7f688,#eef686,#f5f684,#f6f684,#f6f684,#f6f684,#f6f684,#f6f684,#f6f684,#f6f684,#f6f684,#f6f684,#f6f684,#f6f684,#f3f685,#edf686,#e6f688,#dff689,#daf68b,#d5f68c,#d1f68d,#cff68d,#cef68e}
.dr{--g:#ddf68a,#ddf68a,#dff68a,#e1f689,#e4f688,#e7f688,#ebf687,#eff686,#f2f685,#f6f684,#f6f684,#f6f684,#f6f684,#f6f684,#f6f684,#f6f684,#f6f684,#f6f684,#f6f684,#f5f684,#f2f685,#eef686,#eaf687,#e6f688,#e3f688,#e1f689,#dff68a,#ddf68a,#ddf68a}
.ds{--g:#ebf687,#ecf687,#ecf686,#ecf686,#edf686,#eef686,#eef686,#eff686,#f0f685,#f1f685,#f1f685,#f2f685,#f2f685,#f3f685,#f3f685,#f3f685,#f2f685,#f2f685,#f1f685,#f1f685,#f0f685,#eff686,#eef686,#edf686,#edf686,#ecf686,#ecf686,#ecf687,#ebf687}
.dt{--g:#f6f684,#f6f684,#f6f684,#f6f684,#f6f684,#f4f684,#f2f685,#f0f685,#eef686,#ecf686,#eaf687,#e8f687,#e7f688,#e6f688,#e6f688,#e6f688,#e7f688,#e8f687,#eaf687,#ecf686,#eef686,#f0f685,#f2f685,#f4f684,#f6f684,#f6f684,#f6f684,#f6f684,#f6f684}
.du{--g:#f6f684,#f6f684,#f6f684,#f6f684,#f6f684,#f6f684,#f6f684,#f0f685,#ebf687,#e6f688,#e2f689,#def68a,#dbf68a,#daf68b,#d9f68b,#daf68b,#dcf68a,#dff68a,#e3f689,#e7f688,#ecf686,#f1f685,#f6f684,#f6f684,#f6f684,#f6f684,#f6f684,#f6f684,#f6f684}
.dv{--g:#f6f584,#f6f684,#f6f684,#f6f684,#f6f684,#f6f684,#f6f684,#f1f685,#e9f687,#e1f689,#daf68b,#d4f68c,#cff68d,#ccf68e,#cbf68e,#cdf68e,#d0f68d,#d5f68c,#dbf68a,#e2f689,#eaf687,#f3f685,#f6f684,#f6f684,#f6f684,#f6f684,#f6f684,#f6f684,#f6f584}
.dw{--g:#f7e583,#f7e783,#f6eb83,#f6f284,#f6f684,#f6f684,#f6f684,#f2f685,#e7f688,#dcf68a,#d2f68d,#c9f68f,#c3f690,#bff691,#bdf692,#bff691,#c4f690,#caf68e,#d3f68c,#def68a,#e9f687,#f4f685,#f6f684,#f6f684,#f6f684,#f6f084,#f6ea83,#f7e683,#f7e583}
.dx{--g:#f7d681,#f7d882,#f7dd82,#f7e583,#f6f184,#f6f684,#f6f684,#f2f685,#e4f688,#d6f68c,#caf68f,#bef691,#b6f693,#b0f695,#aff695,#b1f695,#b7f693,#c0f691,#ccf68e,#d9f68b,#e7f688,#f5f684,#f6f684,#f6f684,#f6ef83,#f7e482,#f7dc82,#f7d881,#f7d681}
.dy{--g:#f8c880,#f7ca80,#f7d081,#f7da82,#f6e783,#f6f684,#f6f684,#f3f685,#e2f689,#d1f68d,#c1f691,#b3f694,#a9f697,#a2f698,#a0f699,#a3f698,#aaf696,#b6f693,#c4f690,#d4f68c,#e5f688,#f6f684,#f6f684,#f6f484,#f7e583,#f7d882,#f7cf81,#f7ca80,#f8c880}
.dz{--g:#f8bb7f,#f8bd7f,#f8c480,#f7cf81,#f7de82,#f6f184,#f6f684,#f4f685,#e0f689,#ccf68e,#b9f693,#a8f697,#9bf69a,#96f69e,#96f6a0,#96f69d,#9df699,#abf696,#bcf692,#cff68d,#e3f688,#f6f684,#f6f684,#f6ed83,#f7db82,#f7cd81,#f8c380,#f8bd7f,#f8bb7f}
.ea{--g:#f8af7e,#f8b17e,#f8b97f,#f8c580,#f7d681,#f6ea83,#f6f684,#f4f684,#def68a,#c7f68f,#b1f695,#9df699,#95f6a2,#94f6aa,#94f6ac,#95f6a9,#95f6a0,#a0f698,#b5f694,#cbf68e,#e2f689,#f6f684,#f6f684,#f7e683,#f7d281,#f8c280,#f8b77f,#f8b07e,#f8af7e}
.eb{--g:#f9a37d,#f9a67d,#f8ae7e,#f8bb7f,#f7ce81,#f7e483,#f6f684,#f5f684,#dcf68a,#c2f690,#a9f696,#96f69e,#94f6ac,#93f6b6,#93f6b9,#93f6b5,#94f6aa,#96f69b,#adf695,#c6f68f,#e0f689,#f6f684,#f6f684,#f7e082,#f7ca80,#f8b97f,#f8ac7e,#f9a57d,#f9a37d}
.ec{--g:#f9997c,#f99b7c,#f9a47d,#f8b37e,#f8c680,#f7df82,#f6f684,#f5f684,#daf68b,#bef692,#a2f698,#95f6a6,#93f6b7,#92f6c2,#91f6c6,#92f6c1,#93f6b5,#95f6a3,#a6f697,#c2f690,#dff68a,#f6f684,#f6f684,#f7da82,#f8c280,#f8b07e,#f9a27d,#f99b7c,#f9997c}
.ed{--g:#f98f7b,#f9927c,#f99b7c,#f9aa7e,#f8bf7f,#f7da82,#f6f684,#f6f684,#d8f68b,#b9f693,#9af69a,#94f6af,#92f6c2,#91f5cf,#90f5d3,#91f5cd,#92f6bf,#94f6ab,#9ff699,#bef691,#ddf68a,#f6f684,#f6f384,#f7d581,#f8bb7f,#f9a77d,#f9997c,#f9917c,#f98f7b}
.ee{--g:#fa867b,#fa897b,#f9937c,#f9a37d,#f8b97f,#f7d581,#f6f684,#f6f684,#d6f68c,#b5f694,#96f69d,#93f6b7,#91f5cd,#8ff5dc,#8ff5e1,#8ff5da,#91f6c9,#94f6b3,#99f69a,#bbf692,#dcf68a,#f6f684,#f6f083,#f7d081,#f8b57f,#f9a07d,#f9917c,#fa887b,#fa867b}
.ef{--g:#fa7e7a,#fa827a,#fa8c7b,#f99d7d,#f8b47e,#f7d181,#f6f384,#f6f684,#d5f68c,#b1f694,#95f6a2,#92f6be,#90f5d7,#8ef5e9,#8df5ee,#8ef5e6,#90f5d3,#93f6ba,#96f69d,#b7f693,#dbf68b,#f6f684,#f6ed83,#f7cb80,#f8af7e,#f9997c,#fa8a7b,#fa817a,#fa7e7a}
.eg{--g:#fa7e7a,#fa7e7a,#fa857b,#f9977c,#f8af7e,#f7cd81,#f6f184,#f6f684,#d3f68c,#aef695,#95f6a7,#92f6c5,#8ff5e1,#8df5f5,#8cf3fa,#8df5f3,#8ff5dd,#92f6c0,#95f6a2,#b4f694,#daf68b,#f6f684,#f6eb83,#f8c880,#f9aa7e,#f9937c,#fa837a,#fa7e7a,#fa7e7a}
.eh{--g:#fa7e7a,#fa7e7a,#fa807a,#f9927c,#f9ab7e,#f7ca80,#f6ef83,#f6f684,#d2f68d,#abf696,#94f6ab,#91f5cc,#8ef5ea,#8cedf9,#8ce3f8,#8cf0fa,#8ef5e6,#91f6c6,#95f6a6,#b2f694,#d9f68b,#f6f684,#f6e883,#f8c480,#f9a67d,#f98e7b,#fa7e7a,#fa7e7a,#fa7e7a}
.ei{--g:#fa7e7a,#fa7e7a,#fa7e7a,#f98e7b,#f9a77d,#f8c780,#f6ed83,#f6f684,#d1f68d,#a8f697,#94f6af,#90f5d2,#8df5f3,#8cdff8,#8dd4f7,#8ce3f8,#8df5ee,#91f5cc,#95f6a9,#aff695,#d8f68b,#f6f684,#f7e783,#f8c180,#f9a27d,#fa8a7b,#fa7e7a,#fa7e7a,#fa7e7a}
.ej{--g:#fa7e7a,#fa7e7a,#fa7e7a,#fa8a7b,#f9a47d,#f8c580,#f6ec83,#f6f684,#d0f68d,#a6f697,#94f6b2,#90f5d6,#8cf4fa,#8dd3f7,#8dc5f5,#8dd8f7,#8df5f5,#90f5d0,#94f6ac,#adf695,#d7f68b,#f6f684,#f7e583,#f8bf7f,#f99f7d,#fa877b,#fa7e7a,#fa7e7a,#fa7e7a}
.ek{--g:#fa7e7a,#fa7e7a,#fa7e7a,#fa887b,#f9a27d,#f8c380,#f6eb83,#f6f684,#d0f68d,#a5f698,#93f6b4,#8ff5da,#8ceef9,#8dc7f6,#8db5f4,#8dcdf6,#8cf5fa,#90f5d4,#94f6ae,#acf696,#d7f68b,#f6f684,#f7e483,#f8bd7f,#f99d7d,#fa847b,#fa7e7a,#fa7e7a,#fa7e7a}
.el{--g:#fa7e7a,#fa7e7a,#fa7e7a,#fa867b,#f9a17d,#f8c280,#f6eb83,#f6f684,#cff68d,#a3f698,#93f6b6,#8ff5dd,#8ce9f9,#8dbef5,#8ea6f2,#8dc5f5,#8cf1fa,#90f5d6,#94f6af,#abf696,#d7f68c,#f6f684,#f7e382,#f8bc7f,#f99c7c,#fa827a,#fa7e7a,#fa7e7a,#fa7e7a}
.em{--g:#fa7e7a,#fa7e7a,#fa7e7a,#fa857b,#f9a07d,#f8c280,#f6ea83,#f6f684,#cff68d,#a3f698,#93f6b6,#8ff5de,#8ce7f9,#8db9f4,#8e97f1,#8dc1f5,#8ceef9,#90f5d7,#94f6b0,#abf696,#d6f68c,#f6f684,#f7e382,#f8bc7f,#f99b7c,#fa827a,#fa7e7a,#fa7e7a,#fa7e7a}
.en{--g:#8e96f1,#8dbdf5,#8ceaf9,#8ff5db,#93f6b4,#a5f697,#d1f68d,#f6f684,#f6e983,#f8c180,#f99f7d,#fa857b,#fa7e7a,#fa7e7a,#fa7e7a,#fa7e7a,#fa7e7a,#fa857b,#f99f7d,#f8c180,#f6e983,#f6f684,#d1f68d,#a5f697,#93f6b4,#8ff5db,#8ceaf9,#8dbdf5,#8e96f1}
.eo{--g:#8ea5f2,#8dc2f5,#8cecf9,#8ff5da,#93f6b3,#a6f697,#d2f68d,#f6f684,#f6e983,#f8c180,#f9a07d,#fa867b,#fa7e7a,#fa7e7a,#fa7e7a,#fa7e7a,#fa7e7a,#fa867b,#f9a07d,#f8c180,#f6e983,#f6f684,#d2f68d,#a6f697,#93f6b3,#8ff5da,#8cecf9,#8dc2f5,#8ea5f2}
.ep{--g:#8db5f4,#8dcaf6,#8cf1fa,#90f5d7,#94f6b2,#a7f697,#d2f68d,#f6f684,#f6e983,#f8c280,#f9a17d,#fa877b,#fa7e7a,#fa7e7a,#fa7e7a,#fa7e7a,#fa7e7a,#fa877b,#f9a17d,#f8c280,#f6e983,#f6f684,#d2f68d,#a7f697,#94f6b2,#90f5d7,#8cf1fa,#8dcaf6,#8db5f4}
.eq{--g:#8dc5f5,#8dd5f7,#8cf5f8,#90f5d4,#94f6af,#a9f696,#d3f68c,#f6f684,#f6e983,#f8c380,#f9a27d,#fa897b,#fa7e7a,#fa7e7a,#fa7e7a,#fa7e7a,#fa7e7a,#fa897b,#f9a27d,#f8c380,#f6e983,#f6f684,#d3f68c,#a9f696,#94f6af,#90f5d4,#8cf5f8,#8dd5f7,#8dc5f5}
.er{--g:#8dd4f7,#8ce1f8,#8df5f0,#91f5cf,#94f6ac,#acf696,#d4f68c,#f6f684,#f6ea83,#f8c480,#f9a47d,#fa8b7b,#fa7e7a,#fa7e7a,#fa7e7a,#fa7e7a,#fa7e7a,#fa8b7b,#f9a47d,#f8c480,#f6ea83,#f6f684,#d4f68c,#acf696,#94f6ac,#91f5cf,#8df5f0,#8ce1f8,#8dd4f7}
.es{--g:#8ce3f8,#8ceef9,#8ef5e8,#91f6c9,#95f6a8,#aef695,#d6f68c,#f6f684,#f6eb83,#f8c680,#f9a77d,#f98e7b,#fa7e7a,#fa7e7a,#fa7e7a,#fa7e7a,#fa7e7a,#f98e7b,#f9a77d,#f8c680,#f6eb83,#f6f684,#d6f68c,#aef695,#95f6a8,#91f6c9,#8ef5e8,#8ceef9,#8ce3f8}
.et{--g:#8cf3fa,#8df5f4,#8ff5df,#92f6c3,#95f6a4,#b2f694,#d8f68b,#f6f684,#f6ec83,#f8c880,#f9a97e,#f9917c,#fa807a,#fa7e7a,#fa7e7a,#fa7e7a,#fa807a,#f9917c,#f9a97e,#f8c880,#f6ec83,#f6f684,#d8f68b,#b2f694,#95f6a4,#92f6c3,#8ff5df,#8df5f4,#8cf3fa}
.eu{--g:#8df5ee,#8ef5e7,#90f5d5,#93f6bb,#96f69f,#b6f693,#daf68b,#f6f684,#f6ec83,#f7ca80,#f8ad7e,#f9967c,#fa857b,#fa7e7a,#fa7e7a,#fa7e7a,#fa857b,#f9967c,#f8ad7e,#f7ca80,#f6ec83,#f6f684,#daf68b,#b6f693,#96f69f,#93f6bb,#90f5d5,#8ef5e7,#8df5ee}
.ev{--g:#8ff5e1,#8ff5db,#91f6ca,#93f6b4,#98f69b,#baf692,#dcf68a,#f6f684,#f6ee83,#f7cc81,#f8b17e,#f99a7c,#fa8a7b,#fa807a,#fa7e7a,#fa807a,#fa8a7b,#f99a7c,#f8b17e,#f7cc81,#f6ee83,#f6f684,#dcf68a,#baf692,#98f69b,#93f6b4,#91f6ca,#8ff5db,#8ff5e1}
.ew{--g:#90f5d3,#91f5ce,#92f6c0,#94f6ac,#9ff699,#bff691,#dff68a,#f6f684,#f6ef83,#f7cf81,#f8b57f,#f99f7d,#f9907b,#fa877b,#fa837a,#fa877b,#f9907b,#f99f7d,#f8b57f,#f7cf81,#f6ef83,#f6f684,#dff68a,#bff691,#9ff699,#94f6ac,#92f6c0,#91f5ce,#90f5d3}
.ex{--g:#91f6c6,#92f6c1,#93f6b5,#95f6a3,#a7f697,#c4f690,#e1f689,#f6f684,#f6f084,#f7d281,#f8b97f,#f9a57d,#f9967c,#f98d7b,#fa8a7b,#f98d7b,#f9967c,#f9a57d,#f8b97f,#f7d281,#f6f084,#f6f684,#e1f689,#c4f690,#a7f697,#95f6a3,#93f6b5,#92f6c1,#91f6c6}
.ey{--g:#93f6b9,#93f6b5,#94f6aa,#96f69b,#aff695,#c9f68f,#e4f688,#f6f684,#f6f184,#f7d681,#f8be7f,#f8ab7e,#f99d7d,#f9957c,#f9927c,#f9957c,#f99d7d,#f8ab7e,#f8be7f,#f7d681,#f6f184,#f6f684,#e4f688,#c9f68f,#aff695,#96f69b,#94f6aa,#93f6b5,#93f6b9}
.ez{--g:#94f6ac,#95f6a9,#96f6a0,#a2f698,#b7f693,#cff68d,#e7f688,#f6f684,#f6f384,#f7d982,#f8c480,#f8b27e,#f9a57d,#f99d7d,#f99b7c,#f99d7d,#f9a57d,#f8b27e,#f8c480,#f7d982,#f6f384,#f6f684,#e7f688,#cff68d,#b7f693,#a2f698,#96f6a0,#95f6a9,#94f6ac}
.fa{--g:#96f6a0,#96f69d,#9ef699,#adf696,#bff691,#d4f68c,#eaf687,#f6f684,#f6f584,#f7dd82,#f7c980,#f8b97f,#f8ad7e,#f9a67d,#f9a47d,#f9a67d,#f8ad7e,#f8b97f,#f7c980,#f7dd82,#f6f584,#f6f684,#eaf687,#d4f68c,#bff691,#adf696,#9ef699,#96f69d,#96f6a0}
.fb{--g:#a0f699,#a3f698,#abf696,#b8f693,#c8f68f,#daf68b,#edf686,#f6f684,#f6f684,#f7e182,#f7cf81,#f8c180,#f8b67f,#f8af7e,#f8ad7e,#f8af7e,#f8b67f,#f8c180,#f7cf81,#f7e182,#f6f684,#f6f684,#edf686,#daf68b,#c8f68f,#b8f693,#abf696,#a3f698,#a0f699}
.fc{--g:#aff695,#b1f695,#b8f693,#c3f690,#d1f68d,#e0f689,#f1f685,#f6f684,#f6f684,#f7e583,#f7d581,#f8c880,#f8bf7f,#f8b97f,#f8b77f,#f8b97f,#f8bf7f,#f8c880,#f7d581,#f7e583,#f6f684,#f6f684,#f1f685,#e0f689,#d1f68d,#c3f690,#b8f693,#b1f695,#aff695}
.fd{--g:#bdf692,#bff691,#c5f690,#cef68e,#d9f68b,#e6f688,#f4f684,#f6f684,#f6f684,#f6ea83,#f7dc82,#f7d181,#f8c880,#f8c380,#f8c180,#f8c380,#f8c880,#f7d181,#f7dc82,#f6ea83,#f6f684,#f6f684,#f4f684,#e6f688,#d9f68b,#cef68e,#c5f690,#bff691,#bdf692}
.fe{--g:#cbf68e,#cdf68e,#d1f68d,#d8f68b,#e2f689,#ecf686,#f6f684,#f6f684,#f6f684,#f6ee83,#f7e382,#f7d982,#f7d281,#f7ce81,#f7cc81,#f7ce81,#f7d281,#f7d982,#f7e382,#f6ee83,#f6f684,#f6f684,#f6f684,#ecf686,#e2f689,#d8f68b,#d1f68d,#cdf68e,#cbf68e}
.ff{--g:#d9f68b,#daf68b,#def68a,#e3f689,#eaf687,#f2f685,#f6f684,#f6f684,#f6f684,#f6f384,#f6ea83,#f7e282,#f7dc82,#f7d982,#f7d881,#f7d982,#f7dc82,#f7e282,#f6ea83,#f6f384,#f6f684,#f6f684,#f6f684,#f2f685,#eaf687,#e3f689,#def68a,#daf68b,#d9f68b}
.fg{--g:#e6f688,#e7f688,#e9f687,#edf686,#f2f685,#f6f684,#f6f684,#f6f684,#f6f684,#f6f684,#f6f184,#f6eb83,#f7e783,#f7e483,#f7e382,#f7e483,#f7e783,#f6eb83,#f6f184,#f6f684,#f6f684,#f6f684,#f6f684,#f6f684,#f2f685,#edf686,#e9f687,#e7f688,#e6f688}
.fh{--g:#f3f685,#f3f685,#f5f684,#f6f684,#f6f684,#f6f684,#f6f684,#f6f684,#f6f684,#f6f684,#f6f684,#f6f484,#f6f184,#f6f083,#f6ef83,#f6f083,#f6f184,#f6f484,#f6f684,#f6f684,#f6f684,#f6f684,#f6f684,#f6f684,#f6f684,#f6f684,#f5f684,#f3f685,#f3f685}
.fi{--g:#f6f684,#f6f684,#f6f684,#f6f684,#f6f684,#f6f684,#f6f684,#f6f684,#f6f684,#f6f684,#f6f684,#f6f684,#f6f684,#f6f684,#f6f684,#f6f684,#f6f684,#f6f684,#f6f684,#f6f684,#f6f684,#f6f684,#f6f684,#f6f684,#f6f684,#f6f684,#f6f684,#f6f684,#f6f684}
.fj{--g:#f6f684,#f6f684,#f6f684,#f6f684,#f6f684,#f6f684,#f6f684,#f6f684,#f6f684,#f6f684,#f6f684,#f6f684,#f6f684,#f6f684,#f6f684,#f6f684,#f6f684,#f6f684,#f6f684,#f6f684,#f6f684,#f6f684,#f6f684,#f6f684,#f6f684,#f6f684,#f6f684,#f6f684,#f6f684}
.fk{--g:#f6f384,#f6f384,#f6f484,#f6f684,#f6f684,#f6f684,#f6f684,#f6f684,#f6f684,#f6f684,#f6f684,#f6f684,#f6f684,#f6f684,#f6f684,#f6f684,#f6f684,#f6f684,#f6f684,#f6f684,#f6f684,#f6f684,#f6f684,#f6f684,#f6f684,#f6f684,#f6f484,#f6f384,#f6f384}
.fl{--g:#f7e583,#f7e683,#f6e883,#f6eb83,#f6f083,#f6f584,#f6f684,#f6f684,#f6f684,#f6f684,#f6f684,#f6f684,#f4f684,#f2f685,#f2f685,#f2f685,#f4f684,#f6f684,#f6f684,#f6f684,#f6f684,#f6f684,#f6f684,#f6f584,#f6f083,#f6eb83,#f6e883,#f7e683,#f7e583}
.fm{--g:#f7d982,#f7da82,#f7dd82,#f7e182,#f6e883,#f6ef83,#f6f684,#f6f684,#f6f684,#f6f684,#f6f684,#f0f685,#ecf686,#e9f687,#e8f687,#e9f687,#ecf686,#f0f685,#f6f684,#f6f684,#f6f684,#f6f684,#f6f684,#f6ef83,#f6e883,#f7e182,#f7dd82,#f7da82,#f7d982}
.fn{--g:#f7cd81,#f7ce81,#f7d281,#f7d881,#f7e082,#f6e983,#f6f484,#f6f684,#f6f684,#f6f684,#f0f685,#e9f687,#e3f688,#e0f689,#dff68a,#e0f689,#e3f688,#e9f687,#f0f685,#f6f684,#f6f684,#f6f684,#f6f484,#f6e983,#f7e082,#f7d881,#f7d281,#f7ce81,#f7cd81}
.fo{--g:#f8c280,#f8c480,#f8c880,#f7cf81,#f7d882,#f7e482,#f6f184,#f6f684,#f6f684,#f5f684,#ebf687,#e2f689,#dbf68a,#d7f68b,#d5f68c,#d7f68b,#dbf68a,#e2f689,#ebf687,#f5f684,#f6f684,#f6f684,#f6f184,#f7e482,#f7d882,#f7cf81,#f8c880,#f8c480,#f8c280}
.fp{--g:#f8b87f,#f8ba7f,#f8bf7f,#f8c780,#f7d181,#f7de82,#f6ee83,#f6f684,#f6f684,#f2f685,#e6f688,#dcf68a,#d3f68c,#cef68e,#ccf68e,#cef68e,#d3f68c,#dcf68a,#e6f688,#f2f685,#f6f684,#f6f684,#f6ee83,#f7de82,#f7d181,#f8c780,#f8bf7f,#f8ba7f,#f8b87f}
.fq{--g:#f8af7e,#f8b17e,#f8b67f,#f8bf7f,#f7cb80,#f7da82,#f6eb83,#f6f684,#f6f684,#eff686,#e1f689,#d5f68c,#ccf68e,#c6f690,#c4f690,#c6f690,#ccf68e,#d5f68c,#e1f689,#eff686,#f6f684,#f6f684,#f6eb83,#f7da82,#f7cb80,#f8bf7f,#f8b67f,#f8b17e,#f8af7e}
.fr{--g:#f9a77d,#f9a97e,#f8af7e,#f8b87f,#f8c580,#f7d581,#f6e883,#f6f684,#f6f684,#edf686,#ddf68a,#d0f68d,#c5f690,#bef691,#bcf692,#bef691,#c5f690,#d0f68d,#ddf68a,#edf686,#f6f684,#f6f684,#f6e883,#f7d581,#f8c580,#f8b87f,#f8af7e,#f9a97e,#f9a77d}
.fs{--g:#f99f7d,#f9a27d,#f9a87d,#f8b27e,#f8c080,#f7d281,#f7e683,#f6f684,#f6f684,#eaf687,#d9f68b,#caf68f,#bef691,#b7f693,#b4f694,#b7f693,#bef691,#caf68f,#d9f68b,#eaf687,#f6f684,#f6f684,#f7e683,#f7d281,#f8c080,#f8b27e,#f9a87d,#f9a27d,#f99f7d}
.ft{--g:#f9997c,#f99b7c,#f9a27d,#f8ad7e,#f8bc7f,#f7ce81,#f7e382,#f6f684,#f6f684,#e8f687,#d6f68c,#c5f690,#b8f693,#b0f695,#adf695,#b0f695,#b8f693,#c5f690,#d6f68c,#e8f687,#f6f684,#f6f684,#f7e382,#f7ce81,#f8bc7f,#f8ad7e,#f9a27d,#f99b7c,#f9997c}
.fu{--g:#f9937c,#f9967c,#f99d7d,#f9a87e,#f8b87f,#f7cb80,#f7e282,#f6f684,#f6f684,#e6f688,#d2f68d,#c1f691,#b3f694,#aaf696,#a7f697,#aaf696,#b3f694,#c1f691,#d2f68d,#e6f688,#f6f684,#f6f684,#f7e282,#f7cb80,#f8b87f,#f9a87e,#f99d7d,#f9967c,#f9937c}
.fv{--g:#f98f7b,#f9917c,#f9987c,#f9a47d,#f8b57f,#f8c980,#f7e082,#f6f684,#f6f684,#e5f688,#d0f68d,#bdf692,#aef695,#a5f697,#a1f698,#a5f697,#aef695,#bdf692,#d0f68d,#e5f688,#f6f684,#f6f684,#f7e082,#f8c980,#f8b57f,#f9a47d,#f9987c,#f9917c,#f98f7b}
.fw{--g:#fa8b7b,#f98d7b,#f9957c,#f9a17d,#f8b27e,#f8c780,#f7df82,#f6f684,#f6f684,#e3f688,#cef68e,#baf692,#abf696,#a1f698,#9df699,#a1f698,#abf696,#baf692,#cef68e,#e3f688,#f6f684,#f6f684,#f7df82,#f8c780,#f8b27e,#f9a17d,#f9957c,#f98d7b,#fa8b7b}
.fx{--g:#fa887b,#fa8b7b,#f9927c,#f99f7d,#f8b07e,#f8c580,#f7de82,#f6f684,#f6f684,#e2f689,#ccf68e,#b8f693,#a8f697,#9df699,#9af69a,#9df699,#a8f697,#b8f693,#ccf68e,#e2f689,#f6f684,#f6f684,#f7de82,#f8c580,#f8b07e,#f99f7d,#f9927c,#fa8b7b,#fa887b}
.fy{--g:#fa867b,#fa897b,#f9917c,#f99d7d,#f8af7e,#f8c480,#f7dd82,#f6f684,#f6f684,#e2f689,#cbf68e,#b6f693,#a6f697,#9bf69a,#97f69b,#9bf69a,#a6f697,#b6f693,#cbf68e,#e2f689,#f6f684,#f6f684,#f7dd82,#f8c480,#f8af7e,#f99d7d,#f9917c,#fa897b,#fa867b}
.fz{--g:#fa857b,#fa887b,#f9907b,#f99c7d,#f8ae7e,#f8c480,#f7dd82,#f6f684,#f6f684,#e1f689,#caf68e,#b6f693,#a5f697,#9af69a,#96f69b,#9af69a,#a5f697,#b6f693,#caf68e,#e1f689,#f6f684,#f6f684,#f7dd82,#f8c480,#f8ae7e,#f99c7d,#f9907b,#fa887b,#fa857b}
.ga{--g:#8e94f1,#8dd4f7,#8ff5db,#95f6a0,#d3f68c,#f6f684,#f8bf7f,#f9907b,#fa7e7a,#fa7e7a,#fa7e7a,#fa7e7a,#f9a37d,#f7d982,#f4f684,#b6f693,#93f6ba,#8cf5f6,#8db5f4,#8daef3,#8cf2fa,#92f6c0,#aef695,#eef686,#f7df82,#f9a87d,#fa807a,#fa7e7a,#fa7e7a}
.gb{--g:#8ea0f2,#8dd5f7,#8ff5da,#95f6a0,#d3f68c,#f6f684,#f8bf7f,#f9907c,#fa7e7a,#fa7e7a,#fa7e7a,#fa7e7a,#f9a37d,#f7d982,#f4f684,#b6f693,#93f6b9,#8df5f5,#8db8f4,#8db2f3,#8cf3fa,#92f6c0,#aff695,#eef686,#f7e082,#f9a97e,#fa817a,#fa7e7a,#fa7e7a}
.gc{--g:#8dabf3,#8dd9f7,#8ff5d9,#96f6a0,#d2f68d,#f6f684,#f8c180,#f9927c,#fa7e7a,#fa7e7a,#fa7e7a,#fa7f7a,#f9a57d,#f7da82,#f4f685,#b6f693,#93f6b9,#8df5f3,#8dbef5,#8db9f4,#8cf5fa,#92f6bf,#aff695,#edf686,#f7e182,#f9aa7e,#fa827a,#fa7e7a,#fa7e7a}
.gd{--g:#8db7f4,#8cdef8,#90f5d7,#96f69f,#d2f68d,#f6f684,#f8c380,#f9957c,#fa7e7a,#fa7e7a,#fa7e7a,#fa827a,#f9a77d,#f7dc82,#f3f685,#b6f693,#93f6b8,#8df5f1,#8dc6f5,#8dc1f5,#8cf5f7,#92f6be,#aff695,#edf686,#f7e382,#f8ac7e,#fa857b,#fa7e7a,#fa7e7a}
.ge{--g:#8dc2f5,#8ce4f8,#90f5d5,#96f69e,#d2f68d,#f6f684,#f8c680,#f9987c,#fa7e7a,#fa7e7a,#fa7e7a,#fa867b,#f9aa7e,#f7df82,#f2f685,#b6f693,#93f6b6,#8df5ed,#8dcff6,#8dcbf6,#8df5f3,#93f6bc,#aff695,#ecf686,#f7e583,#f8af7e,#fa897b,#fa7e7a,#fa7e7a}
.gf{--g:#8dcef6,#8cebf9,#90f5d2,#96f69d,#d1f68d,#f6f684,#f8c980,#f99c7d,#fa7f7a,#fa7e7a,#fa7e7a,#fa8a7b,#f8ae7e,#f7e182,#f1f685,#b6f693,#93f6b5,#8ef5e9,#8dd8f7,#8dd5f7,#8df5ee,#93f6ba,#aff695,#ebf687,#f6e883,#f8b37e,#f98d7b,#fa7e7a,#fa7e7a}
.gg{--g:#8dd9f7,#8cf2fa,#91f5cf,#96f69c,#d0f68d,#f6f684,#f7cd81,#f9a17d,#fa857b,#fa7e7a,#fa7e7a,#f98f7b,#f8b37e,#f7e583,#eff686,#b6f693,#94f6b3,#8ef5e4,#8ce2f8,#8cdff8,#8ef5e9,#93f6b8,#b0f695,#e9f687,#f6eb83,#f8b87f,#f9937c,#fa7e7a,#fa7e7a}
.gh{--g:#8ce5f8,#8cf5f5,#91f5cb,#96f69b,#d0f68d,#f6f684,#f7d281,#f9a77d,#fa8b7b,#fa7f7a,#fa827a,#f9967c,#f8b87f,#f6e983,#edf686,#b6f693,#94f6b1,#8ff5df,#8cecf9,#8ce9f9,#8ef5e4,#93f6b6,#b0f695,#e8f687,#f6ef83,#f8bd7f,#f9997c,#fa847a,#fa7e7a}
.gi{--g:#8cf0f9,#8df5ee,#91f6c7,#97f69b,#cff68d,#f6f684,#f7d781,#f8ae7e,#f9937c,#fa877b,#fa8a7b,#f99d7d,#f8be7f,#f6ee83,#ecf687,#b7f693,#94f6ae,#8ff5da,#8cf5f9,#8cf4fa,#8ff5de,#93f6b3,#b1f695,#e6f688,#f6f384,#f8c380,#f9a07d,#fa8b7b,#fa867b}
.gj{--g:#8df5f5,#8ef5e6,#92f6c2,#99f69a,#cef68e,#f6f684,#f7dd82,#f8b57f,#f99b7c,#f98f7b,#f9937c,#f9a57d,#f8c580,#f6f384,#e9f687,#b7f693,#94f6ab,#90f5d4,#8df5f0,#8df5f2,#90f5d8,#94f6b0,#b1f695,#e4f688,#f6f684,#f7ca80,#f9a87d,#f9947c,#f98f7b}
.gk{--g:#8ef5eb,#8ff5de,#92f6be,#9bf69a,#cdf68e,#f6f684,#f7e482,#f8bd7f,#f9a47d,#f9997c,#f99c7d,#f8ae7e,#f7cd81,#f6f684,#e7f688,#b7f693,#95f6a9,#91f5ce,#8ef5e7,#8ef5e8,#90f5d1,#94f6ad,#b2f694,#e2f689,#f6f684,#f7d181,#f8b17e,#f99e7d,#f9997c}
.gl{--g:#8ff5e1,#90f5d6,#93f6b9,#9df699,#ccf68e,#f6f684,#f6eb83,#f8c680,#f8ae7e,#f9a47d,#f9a77d,#f8b77f,#f7d581,#f6f684,#e4f688,#b7f693,#95f6a6,#91f6c7,#8ff5dd,#8ff5df,#91f6ca,#94f6aa,#b2f694,#e0f689,#f6f684,#f7d982,#f8ba7f,#f9a87d,#f9a37d}
.gm{--g:#90f5d7,#91f5ce,#93f6b4,#a0f699,#cbf68e,#f3f685,#f6f284,#f7d081,#f8b97f,#f8af7e,#f8b27e,#f8c280,#f7de82,#f6f684,#e2f689,#b8f693,#95f6a3,#92f6c1,#90f5d4,#90f5d5,#92f6c4,#95f6a6,#b3f694,#ddf68a,#f6f684,#f7e282,#f8c480,#f8b37e,#f8af7e}
.gn{--g:#91f5ce,#92f6c6,#94f6af,#a2f698,#c9f68f,#eff686,#f6f684,#f7da82,#f8c580,#f8bc7f,#f8be7f,#f7cd81,#f6e883,#f6f684,#dff68a,#b8f693,#96f69f,#93f6ba,#91f5cb,#91f5cc,#92f6bd,#95f6a3,#b4f694,#dbf68b,#f6f684,#f6eb83,#f7cf81,#f8bf7f,#f8bb7f}
.go{--g:#92f6c5,#92f6be,#94f6aa,#a4f698,#c8f68f,#ebf687,#f6f684,#f7e683,#f7d281,#f8c980,#f7cb80,#f7d982,#f6f284,#f6f684,#dcf68a,#b8f693,#96f69c,#93f6b4,#92f6c3,#92f6c3,#93f6b6,#96f69f,#b4f694,#d8f68b,#f6f684,#f6f584,#f7db82,#f7cc81,#f8c880}
.gp{--g:#93f6bc,#93f6b6,#95f6a5,#a7f697,#c7f68f,#e6f688,#f6f684,#f6f184,#f7df82,#f7d781,#f7d982,#f7e683,#f6f684,#f6f684,#d8f68b,#b8f693,#99f69a,#94f6ae,#93f6ba,#93f6bb,#94f6af,#96f69b,#b5f694,#d5f68c,#f3f685,#f6f684,#f6e883,#f7da82,#f7d781}
.gq{--g:#93f6b3,#94f6ae,#95f6a0,#a9f696,#c5f690,#e1f689,#f6f684,#f6f684,#f6ed83,#f7e683,#f6e883,#f6f384,#f6f684,#eff686,#d5f68c,#b9f693,#9df699,#95f6a7,#94f6b2,#94f6b2,#95f6a9,#9bf69a,#b6f693,#d2f68d,#edf686,#f6f684,#f6f584,#f6e983,#f7e583}
.gr{--g:#94f6ab,#95f6a7,#96f69b,#acf696,#c4f690,#dcf68a,#f2f685,#f6f684,#f6f684,#f6f584,#f6f684,#f6f684,#f6f684,#e9f687,#d2f68d,#b9f693,#a2f698,#95f6a1,#94f6aa,#94f6aa,#95f6a2,#9ff699,#b6f693,#cff68d,#e6f688,#f6f684,#f6f684,#f6f684,#f6f584}
.gs{--g:#95f6a3,#96f69f,#9df699,#aef695,#c3f690,#d7f68b,#e9f687,#f6f684,#f6f684,#f6f684,#f6f684,#f6f684,#f2f685,#e2f689,#cef68e,#b9f693,#a6f697,#96f69b,#95f6a2,#95f6a2,#96f69c,#a4f698,#b7f693,#ccf68e,#e0f689,#f1f685,#f6f684,#f6f684,#f6f684}
.gt{--g:#96f69b,#99f69a,#a3f698,#b1f695,#c1f691,#d2f68d,#e1f689,#edf686,#f5f684,#f6f684,#f6f684,#f2f685,#e8f687,#daf68b,#caf68e,#baf692,#aaf696,#9ef699,#97f69b,#97f69b,#9df699,#a9f697,#b8f693,#c9f68f,#d9f68b,#e7f688,#f1f685,#f6f684,#f6f684}
.gu{--g:#9ff699,#a2f698,#a9f696,#b3f694,#c0f691,#ccf68e,#d8f68b,#e2f689,#e8f687,#ebf687,#eaf687,#e6f688,#def68a,#d3f68c,#c7f68f,#baf692,#aef695,#a5f697,#a0f699,#a0f699,#a4f698,#adf695,#b9f693,#c5f690,#d2f68d,#ddf68a,#e5f688,#eaf687,#ebf687}
.gv{--g:#a8f697,#aaf696,#aff695,#b6f693,#bef691,#c7f68f,#cff68d,#d6f68c,#dbf68b,#ddf68a,#dcf68a,#d9f68b,#d3f68c,#ccf68e,#c3f690,#baf692,#b2f694,#acf696,#a9f696,#a9f697,#acf696,#b2f694,#b9f693,#c2f690,#cbf68e,#d3f68c,#d8f68b,#dcf68a,#ddf68a}
.gw{--g:#b1f695,#b2f694,#b4f694,#b8f693,#bdf692,#c2f691,#c6f68f,#caf68f,#cdf68e,#cef68e,#cef68e,#ccf68e,#c9f68f,#c4f690,#bff691,#bbf692,#b6f693,#b3f694,#b1f694,#b1f694,#b3f694,#b6f693,#baf692,#bff691,#c4f690,#c8f68f,#cbf68e,#cdf68e,#cef68e}
.gx{--g:#b9f693,#b9f693,#baf692,#baf692,#bbf692,#bcf692,#bdf692,#bef691,#bef691,#bff691,#bef691,#bef691,#bef692,#bdf692,#bcf692,#bbf692,#baf692,#baf692,#b9f693,#b9f693,#baf692,#baf692,#bbf692,#bcf692,#bdf692,#bdf692,#bef691,#bef691,#bff691}
.gy{--g:#c1f691,#c0f691,#bff691,#bdf692,#baf692,#b7f693,#b4f694,#b1f694,#b0f695,#aff695,#aff695,#b0f695,#b2f694,#b5f694,#b8f693,#bbf692,#bef691,#c0f691,#c1f691,#c1f691,#c0f691,#bef691,#bcf692,#b9f693,#b5f693,#b3f694,#b0f695,#aff695,#aff695}
.gz{--g:#c8f68f,#c7f68f,#c4f690,#bff691,#b9f693,#b2f694,#abf696,#a5f697,#a0f699,#9ef699,#9ff699,#a2f698,#a7f697,#aef695,#b5f694,#bcf692,#c1f691,#c6f690,#c8f68f,#c8f68f,#c6f690,#c2f690,#bcf692,#b5f693,#aef695,#a8f697,#a3f698,#9ff699,#9ef699}
.ha{--g:#cff68d,#cdf68e,#c9f68f,#c1f691,#b7f693,#acf696,#a1f698,#98f69b,#96f69f,#95f6a2,#95f6a1,#96f69d,#9cf69a,#a6f697,#b1f694,#bcf692,#c5f690,#cbf68e,#cff68d,#cff68d,#ccf68e,#c6f690,#bdf692,#b2f694,#a7f697,#9df699,#96f69c,#95f6a1,#95f6a2}
.hb{--g:#d5f68c,#d3f68c,#cdf68e,#c3f690,#b6f693,#a7f697,#98f69a,#95f6a4,#94f6ab,#94f6af,#94f6ae,#95f6a8,#96f69f,#9ff699,#aef695,#bcf692,#c8f68f,#d0f68d,#d5f68c,#d5f68c,#d1f68d,#c9f68f,#bdf692,#b0f695,#a1f698,#96f69e,#95f6a7,#94f6ae,#94f6af}
.hc{--g:#dbf68a,#d9f68b,#d1f68d,#c5f690,#b5f694,#a3f698,#95f6a0,#94f6ae,#93f6b8,#92f6bd,#93f6bb,#93f6b4,#95f6a8,#98f69b,#abf696,#bcf692,#cbf68e,#d5f68c,#dbf68b,#dbf68b,#d6f68c,#ccf68e,#bef691,#adf696,#9af69a,#95f6a6,#94f6b3,#93f6bb,#92f6bd}
.hd{--g:#e1f689,#def68a,#d5f68c,#c6f68f,#b4f694,#9ef699,#95f6a7,#93f6b8,#92f6c4,#91f5cb,#91f6c9,#92f6bf,#94f6b0,#96f69f,#a8f697,#bdf692,#cdf68e,#d9f68b,#e0f689,#e0f689,#daf68b,#cff68d,#bff691,#aaf696,#96f69d,#94f6af,#92f6be,#91f6c8,#91f5cb}
.he{--g:#e6f688,#e2f689,#d8f68b,#c8f68f,#b3f694,#9af69a,#94f6ad,#92f6c1,#90f5d1,#8ff5d9,#90f5d7,#91f5cb,#93f6b9,#95f6a4,#a5f697,#bdf692,#d0f68d,#ddf68a,#e4f688,#e5f688,#def68a,#d2f68d,#bff691,#a8f697,#95f6a1,#93f6b6,#91f6c9,#90f5d6,#8ff5d9}
.hf{--g:#eaf687,#e6f688,#dbf68a,#c9f68f,#b2f694,#96f69b,#93f6b3,#91f5cb,#8ff5de,#8ef5e7,#8ef5e5,#90f5d6,#92f6c0,#95f6a8,#a3f698,#bdf692,#d2f68d,#e1f689,#e9f687,#e9f687,#e2f689,#d4f68c,#bff691,#a6f697,#95f6a6,#92f6be,#90f5d4,#8ef5e3,#8ef5e8}
.hg{--g:#eef686,#eaf687,#def68a,#cbf68e,#b1f695,#96f69e,#93f6b9,#90f5d4,#8ef5ea,#8cf5f6,#8df5f2,#8ff5e1,#91f6c8,#94f6ad,#a0f699,#bdf692,#d4f68c,#e4f688,#ecf686,#edf686,#e5f688,#d6f68c,#c0f691,#a4f698,#94f6aa,#92f6c5,#8ff5de,#8df5f1,#8cf5f6}
.hh{--g:#f1f685,#edf686,#e0f689,#ccf68e,#b0f695,#95f6a1,#92f6be,#8ff5dc,#8cf5f6,#8ce9f9,#8ceef9,#8ef5eb,#91f5cf,#94f6b0,#9ef699,#bdf692,#d6f68c,#e7f688,#f0f686,#f0f685,#e8f687,#d8f68b,#c0f691,#a2f698,#94f6ad,#91f5cb,#8ef5e8,#8cf0fa,#8ce9f9}
.hi{--g:#f4f685,#eff686,#e2f689,#cdf68e,#b0f695,#95f6a3,#92f6c2,#8ef5e3,#8cedf9,#8dd9f7,#8ce0f8,#8df5f5,#90f5d4,#93f6b4,#9df699,#bdf692,#d7f68b,#e9f687,#f2f685,#f3f685,#eaf687,#d9f68b,#c1f691,#a1f698,#94f6b0,#90f5d1,#8df5f1,#8ce2f8,#8dd9f7}
.hj{--g:#f6f684,#f1f685,#e4f688,#cdf68e,#aff695,#95f6a4,#91f6c6,#8ef5e9,#8ce2f8,#8dc9f6,#8dd1f7,#8cf2fa,#8ff5d9,#93f6b6,#9bf69a,#bdf692,#d8f68b,#ebf687,#f4f684,#f5f684,#ecf686,#dbf68b,#c1f691,#9ff699,#93f6b3,#90f5d6,#8cf5f9,#8dd4f7,#8dc8f6}
.hk{--g:#f6f684,#f3f685,#e5f688,#cef68e,#aff695,#95f6a6,#91f6c9,#8df5ee,#8dd8f7,#8dbaf4,#8dc4f5,#8ceaf9,#8ff5dd,#93f6b9,#9af69a,#bef692,#d9f68b,#ecf686,#f6f684,#f6f684,#eef686,#dcf68a,#c1f691,#9ef699,#93f6b5,#8ff5d9,#8ceff9,#8dc8f6,#8db8f4}
.hl{--g:#f6f684,#f4f685,#e5f688,#cef68e,#aef695,#95f6a7,#91f6ca,#8df5f2,#8dd1f6,#8daaf3,#8db9f4,#8ce5f8,#8ff5e0,#93f6ba,#9af69a,#bef692,#daf68b,#edf686,#f6f684,#f6f684,#eff686,#dcf68a,#c1f691,#9ef699,#93f6b6,#8ff5dc,#8ceaf9,#8dbef5,#8da8f3}
.hm{--g:#f6f684,#f4f684,#e6f688,#cef68d,#aef695,#95f6a7,#91f5cb,#8df5f4,#8dcdf6,#8e9ef2,#8db2f4,#8ce2f8,#8ff5e1,#93f6bb,#99f69a,#bef692,#daf68b,#edf686,#f6f684,#f6f684,#eff686,#dcf68a,#c1f691,#9ef699,#93f6b7,#8ff5dd,#8ce7f9,#8db8f4,#8e9af1}
.hn{--g:#8e96f1,#8dc0f5,#8ceff9,#90f5d6,#94f6b1,#a4f698,#c6f68f,#e0f689,#f1f685,#f6f684,#f6f684,#ebf687,#d6f68c,#b8f693,#96f69e,#92f6c1,#8ef5e8,#8ddaf7,#8dabf3,#8ea5f2,#8dd5f7,#8df5ed,#92f6c5,#95f6a1,#b4f694,#d3f68c,#e9f687,#f6f684,#f6f684}
.ho{--g:#8ea7f2,#8dc5f5,#8cf1fa,#90f5d5,#94f6b0,#a5f697,#c7f68f,#e0f689,#f1f685,#f6f684,#f6f684,#ebf687,#d6f68c,#b8f693,#96f69d,#92f6c0,#8ef5e7,#8cddf8,#8db3f4,#8daff3,#8dd9f7,#8ef5eb,#92f6c4,#95f6a1,#b5f694,#d3f68c,#e9f687,#f6f684,#f6f684}
.hp{--g:#8db7f4,#8dcef6,#8cf5f9,#90f5d2,#94f6ae,#a6f697,#c7f68f,#e0f689,#f1f685,#f6f684,#f6f684,#ebf687,#d6f68c,#b9f693,#96f69c,#92f6be,#8ef5e3,#8ce4f8,#8dbff5,#8dbdf5,#8cdff8,#8ef5e8,#92f6c2,#96f6a0,#b5f693,#d3f68c,#e9f687,#f5f684,#f6f684}
.hq{--g:#8dc8f6,#8dd9f7,#8df5f3,#91f5cf,#94f6ac,#a7f697,#c7f68f,#e0f689,#f0f685,#f6f684,#f5f684,#eaf687,#d6f68c,#baf692,#96f69b,#93f6bb,#8ff5df,#8cecf9,#8dcef6,#8dccf6,#8ce8f9,#8ef5e3,#92f6bf,#96f69e,#b6f693,#d3f68c,#e8f687,#f5f684,#f6f684}
.hr{--g:#8dd8f7,#8ce6f9,#8ef5eb,#91f6ca,#94f6a9,#a9f696,#c8f68f,#e0f689,#f0f686,#f6f684,#f5f684,#eaf687,#d6f68c,#bbf692,#99f69a,#93f6b8,#8ff5d9,#8cf5f9,#8cddf8,#8ddbf7,#8cf3fa,#8ff5dd,#93f6bb,#96f69c,#b8f693,#d4f68c,#e8f687,#f4f685,#f6f684}
.hs{--g:#8ce9f9,#8cf4fa,#8ef5e3,#92f6c4,#95f6a6,#abf696,#c9f68f,#e0f689,#eff686,#f6f684,#f4f685,#e9f687,#d7f68c,#bcf692,#9cf69a,#93f6b3,#90f5d2,#8df5ef,#8cecf9,#8cebf9,#8df5f1,#90f5d5,#93f6b7,#98f69a,#b9f693,#d4f68c,#e8f687,#f3f685,#f6f684}
.ht{--g:#8cf5f7,#8df5ee,#8ff5d9,#92f6be,#95f6a2,#aef695,#caf68f,#e0f689,#eef686,#f4f684,#f3f685,#e9f687,#d7f68b,#bef691,#a0f699,#94f6ae,#91f6ca,#8ef5e4,#8df5f4,#8df5f5,#8ef5e6,#91f5cd,#94f6b2,#9cf69a,#bbf692,#d4f68c,#e7f688,#f2f685,#f5f684}
.hu{--g:#8ef5e8,#8ff5e1,#91f5cf,#93f6b7,#96f69e,#b1f695,#cbf68e,#dff689,#edf686,#f3f685,#f1f685,#e8f687,#d7f68b,#c0f691,#a4f698,#95f6a9,#92f6c2,#90f5d8,#8ef5e6,#8ef5e7,#8ff5da,#92f6c5,#94f6ac,#a1f698,#bdf692,#d5f68c,#e6f688,#f1f685,#f3f685}
.hv{--g:#8ff5d9,#90f5d4,#92f6c4,#94f6b0,#99f69a,#b4f694,#ccf68e,#dff689,#ecf686,#f1f685,#f0f686,#e7f688,#d7f68b,#c2f690,#a8f697,#95f6a3,#93f6b9,#91f5cc,#90f5d8,#90f5d8,#91f5ce,#93f6bc,#95f6a5,#a5f697,#c0f691,#d5f68c,#e6f688,#eff686,#f1f685}
.hw{--g:#91f5cb,#91f6c6,#93f6ba,#95f6a8,#9ff699,#b8f693,#cef68e,#dff68a,#eaf687,#eff686,#eef686,#e6f688,#d8f68b,#c5f690,#adf695,#96f69d,#94f6b0,#92f6c0,#91f6ca,#91f6ca,#92f6c2,#94f6b2,#96f69f,#abf696,#c2f690,#d6f68c,#e5f688,#edf686,#f0f686}
.hx{--g:#92f6bd,#93f6b9,#94f6af,#96f69f,#a6f697,#bcf692,#cff68d,#dff68a,#e9f687,#eef686,#ecf686,#e5f688,#d8f68b,#c7f68f,#b3f694,#9df699,#95f6a6,#93f6b4,#93f6bc,#92f6bc,#93f6b5,#95f6a8,#9af69a,#b0f695,#c5f690,#d7f68c,#e4f688,#ecf686,#eef686}
.hy{--g:#94f6af,#94f6ac,#95f6a3,#9bf69a,#aef695,#c0f691,#d1f68d,#def68a,#e7f688,#ebf687,#eaf687,#e4f688,#d9f68b,#caf68f,#b8f693,#a5f697,#96f69d,#95f6a8,#94f6ae,#94f6af,#95f6a9,#96f69e,#a3f698,#b6f693,#c8f68f,#d7f68b,#e3f689,#eaf687,#ecf687}
.hz{--g:#95f6a2,#96f69f,#99f69a,#a6f697,#b5f693,#c5f690,#d3f68c,#def68a,#e6f688,#e9f687,#e8f687,#e3f689,#d9f68b,#cdf68e,#bef691,#aef695,#a0f699,#96f69c,#95f6a1,#95f6a1,#96f69d,#9ff699,#adf696,#bcf692,#cbf68e,#d8f68b,#e2f689,#e8f687,#e9f687}
.ia{--g:#9ef699,#a1f698,#a7f697,#b1f694,#bdf692,#c9f68f,#d4f68c,#def68a,#e4f688,#e7f688,#e6f688,#e1f689,#daf68b,#d0f68d,#c4f690,#b8f693,#adf696,#a4f698,#9ff699,#9ff699,#a3f698,#abf696,#b6f693,#c3f690,#cef68d,#d9f68b,#e1f689,#e6f688,#e7f688}
.ib{--g:#aff695,#b0f695,#b5f694,#bcf692,#c5f690,#cef68e,#d6f68c,#ddf68a,#e2f689,#e4f688,#e3f688,#e0f689,#daf68b,#d3f68c,#caf68f,#c1f691,#b9f693,#b3f694,#aff695,#aff695,#b2f694,#b8f693,#c0f691,#c9f68f,#d2f68d,#daf68b,#e0f689,#e3f688,#e4f688}
.ic{--g:#bff691,#c0f691,#c3f690,#c7f68f,#cdf68e,#d3f68c,#d8f68b,#ddf68a,#e0f689,#e1f689,#e1f689,#dff68a,#dbf68a,#d6f68c,#d0f68d,#caf68e,#c5f690,#c1f691,#bff691,#bff691,#c1f691,#c5f690,#caf68f,#cff68d,#d5f68c,#daf68b,#def68a,#e1f689,#e2f689}
.id{--g:#cef68e,#cff68d,#d0f68d,#d2f68d,#d5f68c,#d8f68b,#daf68b,#dcf68a,#def68a,#dff68a,#def68a,#ddf68a,#dcf68a,#d9f68b,#d6f68c,#d3f68c,#d1f68d,#cff68d,#cef68e,#cef68e,#cff68d,#d1f68d,#d3f68c,#d6f68c,#d9f68b,#dbf68a,#ddf68a,#def68a,#dff68a}
.ie{--g:#ddf68a,#ddf68a,#ddf68a,#ddf68a,#ddf68a,#dcf68a,#dcf68a,#dcf68a,#dcf68a,#dcf68a,#dcf68a,#dcf68a,#dcf68a,#dcf68a,#dcf68a,#ddf68a,#ddf68a,#ddf68a,#ddf68a,#ddf68a,#ddf68a,#ddf68a,#ddf68a,#dcf68a,#dcf68a,#dcf68a,#dcf68a,#dcf68a,#dcf68a}
.if{--g:#ebf687,#ebf687,#e9f687,#e7f688,#e4f688,#e1f689,#def68a,#dcf68a,#daf68b,#d9f68b,#d9f68b,#daf68b,#ddf68a,#dff689,#e3f689,#e6f688,#e8f687,#eaf687,#ebf687,#ebf687,#eaf687,#e9f687,#e6f688,#e3f689,#e0f689,#ddf68a,#dbf68b,#d9f68b,#d9f68b}
.ig{--g:#f6f684,#f6f684,#f6f684,#f1f685,#ecf686,#e6f688,#e0f689,#dbf68a,#d8f68b,#d6f68c,#d6f68c,#d9f68b,#ddf68a,#e3f689,#e9f687,#eef686,#f3f685,#f6f684,#f6f684,#f6f684,#f6f684,#f4f684,#eff686,#e9f687,#e3f688,#def68a,#d9f68b,#d7f68c,#d6f68c}
.ih{--g:#f6f684,#f6f684,#f6f684,#f6f684,#f3f685,#ebf687,#e2f689,#dbf68b,#d6f68c,#d3f68c,#d4f68c,#d8f68b,#def68a,#e6f688,#eff686,#f6f684,#f6f684,#f6f684,#f6f684,#f6f684,#f6f684,#f6f684,#f6f684,#f0f686,#e7f688,#dff68a,#d8f68b,#d4f68c,#d3f68c}
.ii{--g:#f6f584,#f6f684,#f6f684,#f6f684,#f6f684,#eff686,#e4f688,#daf68b,#d3f68c,#d0f68d,#d1f68d,#d6f68c,#def68a,#e9f687,#f4f684,#f6f684,#f6f684,#f6f684,#f6f684,#f6f584,#f6f684,#f6f684,#f6f684,#f6f684,#eaf687,#e0f689,#d7f68b,#d1f68d,#d0f68d}
.ij{--g:#f7e583,#f6e883,#f6f083,#f6f684,#f6f684,#f4f685,#e6f688,#daf68b,#d1f68d,#cdf68e,#cef68e,#d5f68c,#dff689,#ecf686,#f6f684,#f6f684,#f6f684,#f6ec83,#f7e683,#f7e683,#f6eb83,#f6f584,#f6f684,#f6f684,#eef686,#e0f689,#d6f68c,#cff68d,#cdf68e}
.ik{--g:#f7d681,#f7da82,#f7e382,#f6f184,#f6f684,#f6f684,#e8f687,#daf68b,#cff68d,#caf68f,#ccf68e,#d3f68c,#e0f689,#eff686,#f6f684,#f6f684,#f6ea83,#f7de82,#f7d781,#f7d781,#f7dd82,#f6e883,#f6f684,#f6f684,#f1f685,#e1f689,#d4f68c,#ccf68e,#caf68f}
.il{--g:#f8c880,#f7cc80,#f7d681,#f7e683,#f6f684,#f6f684,#eaf687,#d9f68b,#cdf68e,#c7f68f,#c9f68f,#d2f68d,#e0f689,#f2f685,#f6f684,#f6f184,#f7de82,#f7d181,#f7c980,#f7c980,#f7d081,#f7dd82,#f6ef83,#f6f684,#f4f684,#e2f689,#d3f68c,#caf68f,#c7f68f}
.im{--g:#f8bb7f,#f8bf7f,#f7ca80,#f7dc82,#f6f384,#f6f684,#ecf687,#d9f68b,#cbf68e,#c4f690,#c6f68f,#d0f68d,#e1f689,#f5f684,#f6f684,#f6e883,#f7d381,#f8c480,#f8bc7f,#f8bc7f,#f8c380,#f7d181,#f7e683,#f6f684,#f6f684,#e3f689,#d2f68d,#c7f68f,#c4f690}
.in{--g:#f8af7e,#f8b37e,#f8bf7f,#f7d381,#f6ec83,#f6f684,#edf686,#d8f68b,#c9f68f,#c2f691,#c4f690,#cff68d,#e1f689,#f6f684,#f6f684,#f7e082,#f7c980,#f8b97f,#f8b07e,#f8b07e,#f8b77f,#f8c780,#f7dd82,#f6f684,#f6f684,#e3f688,#d1f68d,#c5f690,#c1f691}
.io{--g:#f9a37d,#f9a87d,#f8b57f,#f7ca80,#f7e583,#f6f684,#eff686,#d8f68b,#c7f68f,#bff691,#c1f691,#cef68e,#e2f689,#f6f684,#f6f684,#f7d882,#f8c07f,#f8ae7e,#f9a57d,#f9a47d,#f8ac7e,#f8bd7f,#f7d581,#f6f384,#f6f684,#e4f688,#d0f68d,#c2f690,#bff691}
.ip{--g:#f9997c,#f99d7d,#f8ab7e,#f8c280,#f7df82,#f6f684,#f0f685,#d8f68b,#c5f690,#bdf692,#bff691,#cdf68e,#e2f689,#f6f684,#f6f184,#f7d181,#f8b77f,#f9a47d,#f99a7c,#f9997c,#f9a27d,#f8b47f,#f7ce81,#f6ed83,#f6f684,#e5f688,#cff68d,#c0f691,#bcf692}
.iq{--g:#f98f7b,#f9947c,#f9a37d,#f8ba7f,#f7d982,#f6f684,#f2f685,#d7f68b,#c4f690,#baf692,#bdf692,#cbf68e,#e3f689,#f6f684,#f6ec83,#f7ca80,#f8af7e,#f99b7c,#f9907c,#f9907b,#f9997c,#f8ac7e,#f8c780,#f6e883,#f6f684,#e5f688,#cef68e,#bef691,#baf692}
.ir{--g:#fa867b,#fa8b7b,#f99b7c,#f8b37e,#f7d381,#f6f684,#f3f685,#d7f68b,#c2f690,#b8f693,#bbf692,#caf68e,#e3f689,#f6f684,#f6e783,#f8c480,#f9a77d,#f9937c,#fa887b,#fa877b,#f9917c,#f9a57d,#f8c180,#f7e382,#f6f684,#e6f688,#cdf68e,#bcf692,#b8f693}
.is{--g:#fa7e7a,#fa847a,#f9947c,#f8ad7e,#f7cf81,#f6f584,#f4f684,#d7f68b,#c1f691,#b6f693,#b9f693,#caf68f,#e3f688,#f6f684,#f7e482,#f8bf7f,#f9a17d,#fa8b7b,#fa807a,#fa7f7a,#fa897b,#f99e7d,#f8bb7f,#f7df82,#f6f684,#e6f688,#ccf68e,#baf692,#b6f693}
.it{--g:#fa7e7a,#fa7e7a,#f98d7b,#f9a87d,#f7ca80,#f6f284,#f5f684,#d7f68b,#c0f691,#b4f694,#b8f693,#c9f68f,#e4f688,#f6f684,#f7e082,#f8ba7f,#f99b7c,#fa857b,#fa7e7a,#fa7e7a,#fa837a,#f9987c,#f8b67f,#f7dc82,#f6f684,#e7f688,#cbf68e,#b9f693,#b4f694}
.iu{--g:#fa7e7a,#fa7e7a,#fa887b,#f9a37d,#f8c780,#f6f083,#f6f684,#d7f68c,#bef691,#b3f694,#b6f693,#c8f68f,#e4f688,#f6f684,#f7dd82,#f8b67f,#f9967c,#fa7f7a,#fa7e7a,#fa7e7a,#fa7e7a,#f9937c,#f8b27e,#f7d982,#f6f684,#e7f688,#cbf68e,#b7f693,#b2f694}
.iv{--g:#fa7e7a,#fa7e7a,#fa847a,#f99f7d,#f8c480,#f6ee83,#f6f684,#d6f68c,#bef692,#b1f694,#b5f694,#c7f68f,#e4f688,#f6f684,#f7da82,#f8b27e,#f9927c,#fa7e7a,#fa7e7a,#fa7e7a,#fa7e7a,#f98f7b,#f8af7e,#f7d681,#f6f684,#e8f687,#caf68f,#b6f693,#b1f695}
.iw{--g:#fa7e7a,#fa7e7a,#fa807a,#f99c7d,#f8c180,#f6ec83,#f6f684,#d6f68c,#bdf692,#b0f695,#b4f694,#c7f68f,#e4f688,#f6f684,#f7d882,#f8b07e,#f98e7b,#fa7e7a,#fa7e7a,#fa7e7a,#fa7e7a,#fa8b7b,#f8ac7e,#f7d481,#f6f684,#e8f687,#caf68f,#b5f693,#b0f695}
.ix{--g:#fa7e7a,#fa7e7a,#fa7e7a,#f99a7c,#f8bf7f,#f6eb83,#f6f684,#d6f68c,#bcf692,#b0f695,#b3f694,#c6f68f,#e4f688,#f6f684,#f7d781,#f8ae7e,#fa8c7b,#fa7e7a,#fa7e7a,#fa7e7a,#fa7e7a,#fa897b,#f9aa7e,#f7d281,#f6f684,#e8f687,#c9f68f,#b5f694,#aff695}
.iy{--g:#fa7e7a,#fa7e7a,#fa7e7a,#f9987c,#f8be7f,#f6ea83,#f6f684,#d6f68c,#bcf692,#aff695,#b3f694,#c6f68f,#e5f688,#f6f684,#f7d681,#f8ac7e,#fa8a7b,#fa7e7a,#fa7e7a,#fa7e7a,#fa7e7a,#fa877b,#f9a87e,#f7d181,#f6f684,#e8f687,#c9f68f,#b4f694,#aff695}
.iz{--g:#fa7e7a,#fa7e7a,#fa7e7a,#f9977c,#f8bd7f,#f6ea83,#f6f684,#d6f68c,#bcf692,#aff695,#b3f694,#c6f68f,#e5f688,#f6f684,#f7d581,#f8ac7e,#fa897b,#fa7e7a,#fa7e7a,#fa7e7a,#fa7e7a,#fa867b,#f9a77d,#f7d181,#f6f684,#e8f687,#c9f68f,#b4f694,#aef695}
.ja{--g:#8e9ff2,#8e9ff2,#8ea2f2,#8ea5f2,#8da9f3,#8dadf3,#8db2f3,#8db6f4,#8dbbf4,#8dbff5,#8dc4f5,#8dc8f6,#8dccf6,#8dd0f6,#8dd4f7,#8dd8f7,#8ddbf7,#8cdef8,#8ce1f8,#8ce4f8,#8ce6f9,#8ce8f9,#8ceaf9,#8cecf9,#8cedf9,#8ceef9,#8ceff9,#8ceff9,#8ceff9}
.jb{--g:#8dc0f5,#8dc0f5,#8dc1f5,#8dc2f5,#8dc3f5,#8dc5f5,#8dc7f6,#8dc9f6,#8dcbf6,#8dcef6,#8dd1f6,#8dd3f7,#8dd6f7,#8dd8f7,#8ddbf7,#8cddf8,#8ce0f8,#8ce2f8,#8ce4f8,#8ce6f9,#8ce8f9,#8ce9f9,#8cebf9,#8cecf9,#8cedf9,#8ceef9,#8ceef9,#8ceef9,#8ceef9}
.jc{--g:#8ce0f8,#8ce0f8,#8ce1f8,#8ce1f8,#8ce1f8,#8ce1f8,#8ce2f8,#8ce2f8,#8ce3f8,#8ce4f8,#8ce4f8,#8ce5f8,#8ce6f9,#8ce6f9,#8ce7f9,#8ce8f9,#8ce9f9,#8ce9f9,#8ceaf9,#8ceaf9,#8cebf9,#8cecf9,#8cecf9,#8cecf9,#8cedf9,#8cedf9,#8cedf9,#8cedf9,#8cedf9}
.jd{--g:#8df5ef,#8df5ef,#8df5f0,#8df5f0,#8df5f0,#8df5f1,#8df5f1,#8df5f2,#8df5f3,#8df5f4,#8df5f5,#8cf5f5,#8cf5f7,#8cf5f8,#8cf5f9,#8cf5fa,#8cf4fa,#8cf3fa,#8cf2fa,#8cf1fa,#8cf0f9,#8ceff9,#8ceef9,#8cedf9,#8cecf9,#8cecf9,#8cecf9,#8cebf9,#8cebf9}
.je{--g:#90f5d2,#90f5d2,#90f5d3,#90f5d3,#90f5d4,#90f5d5,#90f5d7,#90f5d9,#8ff5da,#8ff5dc,#8ff5df,#8ff5e1,#8ef5e4,#8ef5e6,#8ef5e9,#8df5ec,#8df5ef,#8df5f2,#8df5f4,#8cf5f7,#8cf5fa,#8cf3fa,#8cf0fa,#8ceef9,#8cecf9,#8cebf9,#8ceaf9,#8ce9f9,#8ce9f9}
.jf{--g:#93f6b6,#93f6b6,#93f6b7,#93f6b8,#93f6b9,#93f6bb,#92f6bd,#92f6bf,#92f6c2,#92f6c5,#91f6c9,#91f5cc,#90f5d0,#90f5d4,#90f5d9,#8ff5dd,#8ff5e2,#8ef5e6,#8ef5eb,#8df5f0,#8df5f4,#8cf5f8,#8cf3fa,#8ceff9,#8cecf9,#8ce9f9,#8ce7f9,#8ce6f9,#8ce6f9}
.jg{--g:#96f69b,#96f69b,#96f69c,#96f69d,#96f69f,#95f6a1,#95f6a4,#95f6a7,#94f6ab,#94f6af,#93f6b3,#93f6b8,#92f6bd,#92f6c3,#91f6c8,#91f5ce,#90f5d4,#8ff5db,#8ff5e1,#8ef5e7,#8df5ee,#8df5f4,#8cf5f9,#8cf0fa,#8cebf9,#8ce7f9,#8ce4f8,#8ce3f8,#8ce2f8}
.jh{--g:#b7f693,#b6f693,#b5f694,#b3f694,#b1f695,#adf695,#a9f696,#a4f698,#9ff699,#99f69a,#96f69e,#95f6a4,#94f6ab,#94f6b1,#93f6b8,#92f6c0,#91f6c7,#91f5cf,#90f5d7,#8ff5df,#8ef5e7,#8df5ef,#8cf5f6,#8cf2fa,#8cebf9,#8ce5f8,#8ce1f8,#8cdff8,#8cdef8}
.ji{--g:#d6f68c,#d5f68c,#d4f68c,#d2f68d,#cff68d,#cbf68e,#c6f690,#c0f691,#baf692,#b3f694,#abf696,#a2f698,#99f69a,#95f6a1,#95f6a9,#94f6b1,#93f6bb,#92f6c4,#91f5cd,#90f5d7,#8ff5e1,#8ef5ea,#8df5f3,#8cf3fa,#8ceaf9,#8ce3f8,#8cdef8,#8ddaf7,#8dd9f7}
.jj{--g:#f3f685,#f2f685,#f1f685,#eef686,#ebf687,#e6f688,#e1f689,#daf68b,#d3f68c,#cbf68e,#c2f690,#b9f693,#aef695,#a3f698,#97f69b,#95f6a4,#94f6ae,#93f6b9,#92f6c4,#91f5cf,#8ff5da,#8ef5e5,#8df5f0,#8cf4fa,#8ceaf9,#8ce1f8,#8ddaf7,#8dd5f7,#8dd4f7}
.jk{--g:#f6f684,#f6f684,#f6f684,#f6f684,#f6f684,#f6f684,#f6f684,#f3f685,#ebf687,#e2f689,#d8f68b,#cdf68e,#c2f690,#b6f693,#a8f697,#9bf69a,#95f6a3,#94f6af,#93f6bb,#91f6c7,#90f5d4,#8ff5e1,#8df5ed,#8cf5f9,#8ce9f9,#8cdef8,#8dd6f7,#8dd0f6,#8dcef6}
.jl{--g:#f7de82,#f7de82,#f7e182,#f7e583,#f6ea83,#f6f184,#f6f684,#f6f684,#f6f684,#f6f684,#ecf686,#e1f689,#d4f68c,#c7f68f,#b8f693,#a9f696,#9af69a,#95f6a5,#94f6b3,#92f6c0,#91f5ce,#8ff5dc,#8ef5ea,#8cf5f8,#8ce9f9,#8cdcf8,#8dd1f7,#8dcaf6,#8dc8f6}
.jm{--g:#f8c280,#f8c280,#f8c580,#f8c980,#f7ce81,#f7d681,#f7de82,#f6e983,#f6f484,#f6f684,#f6f684,#f2f685,#e4f688,#d6f68c,#c7f68f,#b7f693,#a6f697,#96f69d,#94f6ab,#93f6ba,#91f6c9,#90f5d8,#8ef5e8,#8cf5f7,#8ce8f9,#8dd9f7,#8dcdf6,#8dc4f5,#8dc2f5}
.jn{--g:#f9a97e,#f9aa7e,#f8ac7e,#f8b07e,#f8b67f,#f8be7f,#f8c780,#f7d281,#f7df82,#f6ec83,#f6f684,#f6f684,#f3f685,#e4f688,#d3f68c,#c2f690,#b0f695,#9ef699,#95f6a4,#93f6b4,#92f6c4,#90f5d5,#8ef5e5,#8cf5f6,#8ce8f9,#8dd7f7,#8dc9f6,#8dbef5,#8dbbf4}
.jo{--g:#f9947c,#f9947c,#f9977c,#f99c7c,#f9a27d,#f9aa7e,#f8b37e,#f8bf7f,#f7cc80,#f7da82,#f6ea83,#f6f684,#f6f684,#eff686,#def68a,#ccf68e,#baf692,#a6f697,#96f69e,#94f6af,#92f6c0,#90f5d2,#8ef5e3,#8df5f5,#8ce7f9,#8dd5f7,#8dc4f5,#8db8f4,#8db4f4}
.jp{--g:#fa827a,#fa837a,#fa867b,#fa8a7b,#f9917c,#f9997c,#f9a37d,#f8af7e,#f8bc7f,#f7cb80,#f7dc82,#f6ee83,#f6f684,#f6f684,#e7f687,#d5f68c,#c1f691,#adf695,#98f69b,#94f6ab,#92f6bd,#91f5cf,#8ff5e1,#8df5f4,#8ce7f9,#8dd3f7,#8dc1f5,#8db2f3,#8dadf3}
.jq{--g:#fa7e7a,#fa7e7a,#fa7e7a,#fa7e7a,#fa837a,#fa8c7b,#f9967c,#f9a27d,#f8b07e,#f8bf7f,#f7d181,#f7e382,#f6f684,#f6f684,#eff686,#dbf68a,#c7f68f,#b2f694,#9df699,#95f6a8,#93f6ba,#91f5cd,#8ff5e0,#8df5f4,#8ce7f9,#8dd2f7,#8dbdf5,#8dacf3,#8ea6f2}
.jr{--g:#fa7e7a,#fa7e7a,#fa7e7a,#fa7e7a,#fa7e7a,#fa827a,#fa8d7b,#f9997c,#f9a77d,#f8b77f,#f8c880,#f7db82,#f6f084,#f6f684,#f4f685,#e0f689,#ccf68e,#b6f693,#a0f699,#95f6a5,#93f6b8,#91f5cb,#8ff5df,#8df5f3,#8ce7f9,#8dd1f6,#8dbbf4,#8ea7f2,#8e9ef2}
.js{--g:#fa7e7a,#fa7e7a,#fa7e7a,#fa7e7a,#fa7e7a,#fa7e7a,#fa877b,#f9947c,#f9a27d,#f8b27e,#f8c380,#f7d781,#f6ec83,#f6f684,#f6f684,#e3f689,#cef68d,#b9f693,#a2f698,#95f6a4,#93f6b7,#91f6ca,#8ff5de,#8df5f3,#8ce6f9,#8dd0f6,#8db9f4,#8ea3f2,#8e97f1}
.jt{--g:#fa7e7a,#fa7e7a,#fa7e7a,#fa7e7a,#fa7e7a,#fa7e7a,#fa857b,#f9927c,#f9a07d,#f8b07e,#f8c280,#f7d581,#f6ea83,#f6f684,#f6f684,#e4f688,#cff68d,#b9f692,#a3f698,#95f6a3,#93f6b6,#91f6ca,#8ff5de,#8df5f3,#8ce6f9,#8dd0f6,#8db9f4,#8ea1f2,#8e92f0}
.ju{--g:#fa7e7a,#fa7e7a,#fa7e7a,#fa7e7a,#fa7e7a,#fa7e7a,#fa877b,#f9947c,#f9a27d,#f8b27e,#f8c380,#f7d781,#f6ec83,#f6f684,#f6f684,#e3f689,#cef68d,#b9f693,#a2f698,#95f6a4,#93f6b7,#91f6ca,#8ff5de,#8df5f3,#8ce6f9,#8dd0f6,#8db9f4,#8ea3f2,#8e97f1}
.jv{--g:#fa7e7a,#fa7e7a,#fa7e7a,#fa7e7a,#fa7e7a,#fa827a,#fa8d7b,#f9997c,#f9a77d,#f8b77f,#f8c880,#f7db82,#f6f084,#f6f684,#f4f685,#e0f689,#ccf68e,#b6f693,#a0f699,#95f6a5,#93f6b8,#91f5cb,#8ff5df,#8df5f3,#8ce7f9,#8dd1f6,#8dbbf4,#8ea7f2,#8e9ef2}
.jw{--g:#fa7e7a,#fa7e7a,#fa7e7a,#fa7e7a,#fa837a,#fa8c7b,#f9967c,#f9a27d,#f8b07e,#f8bf7f,#f7d181,#f7e382,#f6f684,#f6f684,#eff686,#dbf68a,#c7f68f,#b2f694,#9df699,#95f6a8,#93f6ba,#91f5cd,#8ff5e0,#8df5f4,#8ce7f9,#8dd2f7,#8dbdf5,#8dacf3,#8ea6f2}
.jx{--g:#fa827a,#fa837a,#fa867b,#fa8a7b,#f9917c,#f9997c,#f9a37d,#f8af7e,#f8bc7f,#f7cb80,#f7dc82,#f6ee83,#f6f684,#f6f684,#e7f687,#d5f68c,#c1f691,#adf695,#98f69b,#94f6ab,#92f6bd,#91f5cf,#8ff5e1,#8df5f4,#8ce7f9,#8dd3f7,#8dc1f5,#8db2f3,#8dadf3}
.jy{--g:#f9947c,#f9947c,#f9977c,#f99c7c,#f9a27d,#f9aa7e,#f8b37e,#f8bf7f,#f7cc80,#f7da82,#f6ea83,#f6f684,#f6f684,#eff686,#def68a,#ccf68e,#baf692,#a6f697,#96f69e,#94f6af,#92f6c0,#90f5d2,#8ef5e3,#8df5f5,#8ce7f9,#8dd5f7,#8dc4f5,#8db8f4,#8db4f4}
.jz{--g:#f9a97e,#f9aa7e,#f8ac7e,#f8b07e,#f8b67f,#f8be7f,#f8c780,#f7d281,#f7df82,#f6ec83,#f6f684,#f6f684,#f3f685,#e4f688,#d3f68c,#c2f690,#b0f695,#9ef699,#95f6a4,#93f6b4,#92f6c4,#90f5d5,#8ef5e5,#8cf5f6,#8ce8f9,#8dd7f7,#8dc9f6,#8dbef5,#8dbbf4}
.ka{--g:#f8c280,#f8c280,#f8c580,#f8c980,#f7ce81,#f7d681,#f7de82,#f6e983,#f6f484,#f6f684,#f6f684,#f2f685,#e4f688,#d6f68c,#c7f68f,#b7f693,#a6f697,#96f69d,#94f6ab,#93f6ba,#91f6c9,#90f5d8,#8ef5e8,#8cf5f7,#8ce8f9,#8dd9f7,#8dcdf6,#8dc4f5,#8dc2f5}
.kb{--g:#f7de82,#f7de82,#f7e182,#f7e583,#f6ea83,#f6f184,#f6f684,#f6f684,#f6f684,#f6f684,#ecf686,#e1f689,#d4f68c,#c7f68f,#b8f693,#a9f696,#9af69a,#95f6a5,#94f6b3,#92f6c0,#91f5ce,#8ff5dc,#8ef5ea,#8cf5f8,#8ce9f9,#8cdcf8,#8dd1f7,#8dcaf6,#8dc8f6}
.kc{--g:#f6f684,#f6f684,#f6f684,#f6f684,#f6f684,#f6f684,#f6f684,#f3f685,#ebf687,#e2f689,#d8f68b,#cdf68e,#c2f690,#b6f693,#a8f697,#9bf69a,#95f6a3,#94f6af,#93f6bb,#91f6c7,#90f5d4,#8ff5e1,#8df5ed,#8cf5f9,#8ce9f9,#8cdef8,#8dd6f7,#8dd0f6,#8dcef6}
.kd{--g:#f3f685,#f2f685,#f1f685,#eef686,#ebf687,#e6f688,#e1f689,#daf68b,#d3f68c,#cbf68e,#c2f690,#b9f693,#aef695,#a3f698,#97f69b,#95f6a4,#94f6ae,#93f6b9,#92f6c4,#91f5cf,#8ff5da,#8ef5e5,#8df5f0,#8cf4fa,#8ceaf9,#8ce1f8,#8ddaf7,#8dd5f7,#8dd4f7}
.ke{--g:#d6f68c,#d5f68c,#d4f68c,#d2f68d,#cff68d,#cbf68e,#c6f690,#c0f691,#baf692,#b3f694,#abf696,#a2f698,#99f69a,#95f6a1,#95f6a9,#94f6b1,#93f6bb,#92f6c4,#91f5cd,#90f5d7,#8ff5e1,#8ef5ea,#8df5f3,#8cf3fa,#8ceaf9,#8ce3f8,#8cdef8,#8ddaf7,#8dd9f7}
.kf{--g:#b7f693,#b6f693,#b5f694,#b3f694,#b1f695,#adf695,#a9f696,#a4f698,#9ff699,#99f69a,#96f69e,#95f6a4,#94f6ab,#94f6b1,#93f6b8,#92f6c0,#91f6c7,#91f5cf,#90f5d7,#8ff5df,#8ef5e7,#8df5ef,#8cf5f6,#8cf2fa,#8cebf9,#8ce5f8,#8ce1f8,#8cdff8,#8cdef8}
.kg{--g:#96f69b,#96f69b,#96f69c,#96f69d,#96f69f,#95f6a1,#95f6a4,#95f6a7,#94f6ab,#94f6af,#93f6b3,#93f6b8,#92f6bd,#92f6c3,#91f6c8,#91f5ce,#90f5d4,#8ff5db,#8ff5e1,#8ef5e7,#8df5ee,#8df5f4,#8cf5f9,#8cf0fa,#8cebf9,#8ce7f9,#8ce4f8,#8ce3f8,#8ce2f8}
.kh{--g:#93f6b6,#93f6b6,#93f6b7,#93f6b8,#93f6b9,#93f6bb,#92f6bd,#92f6bf,#92f6c2,#92f6c5,#91f6c9,#91f5cc,#90f5d0,#90f5d4,#90f5d9,#8ff5dd,#8ff5e2,#8ef5e6,#8ef5eb,#8df5f0,#8df5f4,#8cf5f8,#8cf3fa,#8ceff9,#8cecf9,#8ce9f9,#8ce7f9,#8ce6f9,#8ce6f9}
.ki{--g:#90f5d2,#90f5d2,#90f5d3,#90f5d3,#90f5d4,#90f5d5,#90f5d7,#90f5d9,#8ff5da,#8ff5dc,#8ff5df,#8ff5e1,#8ef5e4,#8ef5e6,#8ef5e9,#8df5ec,#8df5ef,#8df5f2,#8df5f4,#8cf5f7,#8cf5fa,#8cf3fa,#8cf0fa,#8ceef9,#8cecf9,#8cebf9,#8ceaf9,#8ce9f9,#8ce9f9}
.kj{--g:#8df5ef,#8df5ef,#8df5f0,#8df5f0,#8df5f0,#8df5f1,#8df5f1,#8df5f2,#8df5f3,#8df5f4,#8df5f5,#8cf5f5,#8cf5f7,#8cf5f8,#8cf5f9,#8cf5fa,#8cf4fa,#8cf3fa,#8cf2fa,#8cf1fa,#8cf0f9,#8ceff9,#8ceef9,#8cedf9,#8cecf9,#8cecf9,#8cecf9,#8cebf9,#8cebf9}
.kk{--g:#8ce0f8,#8ce0f8,#8ce1f8,#8ce1f8,#8ce1f8,#8ce1f8,#8ce2f8,#8ce2f8,#8ce3f8,#8ce4f8,#8ce4f8,#8ce5f8,#8ce6f9,#8ce6f9,#8ce7f9,#8ce8f9,#8ce9f9,#8ce9f9,#8ceaf9,#8ceaf9,#8cebf9,#8cecf9,#8cecf9,#8cecf9,#8cedf9,#8cedf9,#8cedf9,#8cedf9,#8cedf9}
.kl{--g:#8dc0f5,#8dc0f5,#8dc1f5,#8dc2f5,#8dc3f5,#8dc5f5,#8dc7f6,#8dc9f6,#8dcbf6,#8dcef6,#8dd1f6,#8dd3f7,#8dd6f7,#8dd8f7,#8ddbf7,#8cddf8,#8ce0f8,#8ce2f8,#8ce4f8,#8ce6f9,#8ce8f9,#8ce9f9,#8cebf9,#8cecf9,#8cedf9,#8ceef9,#8ceef9,#8ceef9,#8ceef9}
.km{--g:#8e9ff2,#8e9ff2,#8ea2f2,#8ea5f2,#8da9f3,#8dadf3,#8db2f3,#8db6f4,#8dbbf4,#8dbff5,#8dc4f5,#8dc8f6,#8dccf6,#8dd0f6,#8dd4f7,#8dd8f7,#8ddbf7,#8cdef8,#8ce1f8,#8ce4f8,#8ce6f9,#8ce8f9,#8ceaf9,#8cecf9,#8cedf9,#8ceef9,#8ceff9,#8ceff9,#8ceff9}
.kn{--g:#8e92f0,#8ea6f2,#8dbdf5,#8dd3f7,#8ceaf9,#8df5ef,#8ff5db,#91f6c7,#93f6b3,#95f6a0,#a7f697,#bdf692,#d3f68c,#e7f688,#f6f684,#f6f684,#f7e783,#f7d281,#f8bf7f,#f8ad7e,#f99e7d,#f9907b,#fa847a,#fa7e7a,#fa7e7a,#fa7e7a,#fa7e7a,#fa7e7a,#fa7e7a}
.ko{--g:#8e9af1,#8da8f3,#8dbef5,#8dd4f7,#8cebf9,#8df5ef,#8ff5db,#91f6c7,#93f6b4,#95f6a1,#a6f697,#bcf692,#d2f68d,#e6f688,#f6f684,#f6f684,#f6e983,#f7d481,#f8c180,#f8b07e,#f9a07d,#f9927c,#fa867b,#fa7e7a,#fa7e7a,#fa7e7a,#fa7e7a,#fa7e7a,#fa7e7a}
.kp{--g:#8ea1f2,#8dacf3,#8dc0f5,#8dd5f7,#8cebf9,#8df5ef,#8ff5db,#91f6c8,#93f6b5,#95f6a2,#a4f698,#baf692,#cff68d,#e4f688,#f6f684,#f6f684,#f6ec83,#f7d881,#f8c580,#f8b47e,#f9a47d,#f9977c,#fa8b7b,#fa817a,#fa7e7a,#fa7e7a,#fa7e7a,#fa7e7a,#fa7e7a}
.kq{--g:#8da9f3,#8db1f3,#8dc3f5,#8dd7f7,#8cecf9,#8df5ef,#8ff5dc,#91f6c9,#93f6b6,#95f6a3,#a2f698,#b7f693,#ccf68e,#e0f689,#f3f685,#f6f684,#f6f284,#f7de82,#f7cb80,#f8ba7f,#f8ab7e,#f99e7d,#f9927c,#fa887b,#fa807a,#fa7e7a,#fa7e7a,#fa7e7a,#fa7e7a}
.kr{--g:#8db0f3,#8db7f4,#8dc6f5,#8dd9f7,#8cedf9,#8df5ef,#8ff5dc,#91f6ca,#93f6b7,#95f6a6,#9ff699,#b4f694,#c8f68f,#dcf68a,#eef686,#f6f684,#f6f684,#f7e683,#f7d381,#f8c380,#f8b47e,#f9a77d,#f99b7c,#f9917c,#fa897b,#fa837a,#fa7f7a,#fa7e7a,#fa7e7a}
.ks{--g:#8db8f4,#8dbdf5,#8dcaf6,#8ddbf7,#8ceef9,#8df5ef,#8ff5dd,#91f5cb,#93f6b9,#95f6a8,#9bf69a,#aff695,#c3f690,#d6f68c,#e8f687,#f6f684,#f6f684,#f6ef83,#f7dd82,#f7cd81,#f8bf7f,#f8b27e,#f9a67d,#f99d7d,#f9957c,#f98f7b,#fa8b7b,#fa887b,#fa887b}
.kt{--g:#8dbff5,#8dc3f5,#8dcef6,#8cdef8,#8ceff9,#8df5ef,#8ff5de,#91f5cd,#93f6bc,#94f6ab,#96f69b,#aaf696,#bdf692,#d0f68d,#e1f689,#f2f685,#f6f684,#f6f684,#f6e983,#f7d982,#f7cb80,#f8be7f,#f8b37e,#f9aa7e,#f9a37d,#f99d7d,#f9997c,#f9967c,#f9967c}
.ku{--g:#8dc5f5,#8dc9f6,#8dd3f7,#8ce0f8,#8cf0fa,#8df5ef,#8ff5df,#91f5cf,#92f6be,#94f6ae,#96f69f,#a4f698,#b7f693,#c8f68f,#d9f68b,#e9f687,#f6f684,#f6f684,#f6f684,#f7e783,#f7d982,#f7cd81,#f8c280,#f8b97f,#f8b27e,#f8ac7e,#f9a87e,#f9a67d,#f9a67d}
.kv{--g:#8dcbf6,#8dcff6,#8dd7f7,#8ce3f8,#8cf2fa,#8df5ef,#8ff5e0,#90f5d0,#92f6c1,#94f6b2,#95f6a3,#9ef699,#aff695,#c0f691,#d0f68d,#e0f689,#eef686,#f6f684,#f6f684,#f6f584,#f6e883,#f7dd82,#f7d381,#f7ca80,#f8c380,#f8bd7f,#f8ba7f,#f8b77f,#f8b77f}
.kw{--g:#8dd1f7,#8dd4f7,#8ddbf7,#8ce6f9,#8cf3fa,#8df5ef,#8ff5e1,#90f5d2,#92f6c4,#93f6b6,#95f6a8,#97f69b,#a8f697,#b8f693,#c7f68f,#d6f68c,#e3f688,#f0f685,#f6f684,#f6f684,#f6f684,#f6ee83,#f7e482,#f7dc82,#f7d581,#f7d081,#f7cc81,#f7ca80,#f7c980}
.kx{--g:#8dd7f7,#8dd9f7,#8cdff8,#8ce9f9,#8cf4fa,#8df5ef,#8ff5e2,#90f5d5,#91f6c7,#93f6ba,#94f6ad,#96f6a0,#a0f699,#aff695,#bef692,#cbf68e,#d8f68b,#e5f688,#f0f685,#f6f684,#f6f684,#f6f684,#f6f684,#f6ee83,#f6e883,#f7e382,#f7df82,#f7dd82,#f7dd82}
.ky{--g:#8cdcf8,#8cdef8,#8ce3f8,#8cebf9,#8cf5f9,#8df5ee,#8ef5e3,#90f5d7,#91f6ca,#92f6be,#94f6b1,#95f6a5,#98f69b,#a6f697,#b4f694,#c1f691,#cdf68e,#d9f68b,#e3f688,#edf686,#f6f684,#f6f684,#f6f684,#f6f684,#f6f684,#f6f684,#f6f384,#f6f184,#f6f184}
.kz{--g:#8ce0f8,#8ce2f8,#8ce6f9,#8ceef9,#8cf5f8,#8df5ee,#8ef5e4,#90f5d9,#91f5cd,#92f6c2,#93f6b6,#94f6ab,#95f6a0,#9df699,#aaf696,#b6f693,#c2f690,#cdf68e,#d7f68b,#e0f689,#e8f687,#f0f686,#f6f684,#f6f684,#f6f684,#f6f684,#f6f684,#f6f684,#f6f684}
.la{--g:#8ce4f8,#8ce5f8,#8ceaf9,#8cf0fa,#8cf5f7,#8df5ee,#8ef5e5,#8ff5da,#90f5d0,#92f6c5,#93f6bb,#94f6b0,#95f6a6,#96f69c,#a1f698,#acf696,#b7f693,#c1f691,#cbf68e,#d3f68c,#dbf68a,#e2f689,#e8f687,#edf686,#f2f685,#f5f684,#f6f684,#f6f684,#f6f684}
.lb{--g:#8ce7f9,#8ce9f9,#8cecf9,#8cf2fa,#8cf5f6,#8df5ee,#8ef5e5,#8ff5dc,#90f5d2,#91f6c9,#92f6bf,#93f6b5,#94f6ab,#95f6a2,#98f69a,#a3f698,#adf695,#b7f693,#c0f691,#c8f68f,#cff68d,#d6f68c,#dbf68a,#e0f689,#e4f688,#e7f688,#e9f687,#ebf687,#ebf687}
.lc{--g:#8ceaf9,#8cebf9,#8ceef9,#8cf3fa,#8cf5f5,#8df5ee,#8ef5e6,#8ff5de,#90f5d5,#91f5cc,#92f6c2,#93f6b9,#94f6b0,#95f6a8,#96f69f,#9bf69a,#a4f698,#adf695,#b6f693,#bdf692,#c4f690,#caf68e,#d0f68d,#d4f68c,#d8f68b,#dbf68a,#ddf68a,#def68a,#dff68a}
.ld{--g:#8cecf9,#8cedf9,#8cf0fa,#8cf5fa,#8df5f5,#8df5ee,#8ef5e7,#8ff5df,#90f5d6,#91f5ce,#92f6c5,#92f6bd,#93f6b4,#94f6ac,#95f6a4,#96f69d,#9df699,#a5f697,#adf695,#b5f694,#bbf692,#c1f691,#c6f68f,#cbf68e,#cef68e,#d1f68d,#d3f68c,#d4f68c,#d4f68c}
.le{--g:#8ceef9,#8ceff9,#8cf1fa,#8cf5f9,#8df5f4,#8df5ee,#8ef5e7,#8ff5e0,#90f5d8,#90f5d0,#91f6c8,#92f6bf,#93f6b7,#94f6b0,#95f6a8,#95f6a1,#97f69b,#a0f699,#a7f697,#aef695,#b4f694,#baf692,#bff691,#c3f690,#c7f68f,#c9f68f,#cbf68e,#ccf68e,#cdf68e}
.lf{--g:#8ceff9,#8cf0f9,#8cf2fa,#8cf5f9,#8df5f4,#8df5ee,#8ef5e7,#8ff5e0,#90f5d9,#90f5d1,#91f6c9,#92f6c1,#93f6b9,#94f6b2,#94f6aa,#95f6a3,#96f69d,#9cf69a,#a3f698,#aaf696,#b0f695,#b6f693,#bbf692,#bff691,#c2f690,#c5f690,#c6f68f,#c7f68f,#c8f68f}
.lg{--g:#8ceff9,#8cf0fa,#8cf2fa,#8cf5f9,#8df5f4,#8df5ee,#8ef5e7,#8ff5e0,#8ff5d9,#90f5d1,#91f6c9,#92f6c2,#93f6ba,#94f6b2,#94f6ab,#95f6a4,#96f69e,#9bf69a,#a2f698,#a9f697,#aff695,#b4f694,#b9f693,#bdf692,#c0f691,#c3f690,#c5f690,#c6f690,#c6f690}
.lh{--g:#8ceff9,#8cf0f9,#8cf2fa,#8cf5f9,#8df5f4,#8df5ee,#8ef5e7,#8ff5e0,#90f5d9,#90f5d1,#91f6c9,#92f6c1,#93f6b9,#94f6b2,#94f6aa,#95f6a3,#96f69d,#9cf69a,#a3f698,#aaf696,#b0f695,#b6f693,#bbf692,#bff691,#c2f690,#c5f690,#c6f68f,#c7f68f,#c8f68f}
.li{--g:#8ceef9,#8ceff9,#8cf1fa,#8cf5f9,#8df5f4,#8df5ee,#8ef5e7,#8ff5e0,#90f5d8,#90f5d0,#91f6c8,#92f6bf,#93f6b7,#94f6b0,#95f6a8,#95f6a1,#97f69b,#a0f699,#a7f697,#aef695,#b4f694,#baf692,#bff691,#c3f690,#c7f68f,#c9f68f,#cbf68e,#ccf68e,#cdf68e}
.lj{--g:#8cecf9,#8cedf9,#8cf0fa,#8cf5fa,#8df5f5,#8df5ee,#8ef5e7,#8ff5df,#90f5d6,#91f5ce,#92f6c5,#92f6bd,#93f6b4,#94f6ac,#95f6a4,#96f69d,#9df699,#a5f697,#adf695,#b5f694,#bbf692,#c1f691,#c6f68f,#cbf68e,#cef68e,#d1f68d,#d3f68c,#d4f68c,#d4f68c}
.lk{--g:#8ceaf9,#8cebf9,#8ceef9,#8cf3fa,#8cf5f5,#8df5ee,#8ef5e6,#8ff5de,#90f5d5,#91f5cc,#92f6c2,#93f6b9,#94f6b0,#95f6a8,#96f69f,#9bf69a,#a4f698,#adf695,#b6f693,#bdf692,#c4f690,#caf68e,#d0f68d,#d4f68c,#d8f68b,#dbf68a,#ddf68a,#def68a,#dff68a}
.ll{--g:#8ce7f9,#8ce9f9,#8cecf9,#8cf2fa,#8cf5f6,#8df5ee,#8ef5e5,#8ff5dc,#90f5d2,#91f6c9,#92f6bf,#93f6b5,#94f6ab,#95f6a2,#98f69a,#a3f698,#adf695,#b7f693,#c0f691,#c8f68f,#cff68d,#d6f68c,#dbf68a,#e0f689,#e4f688,#e7f688,#e9f687,#ebf687,#ebf687}
.lm{--g:#8ce4f8,#8ce5f8,#8ceaf9,#8cf0fa,#8cf5f7,#8df5ee,#8ef5e5,#8ff5da,#90f5d0,#92f6c5,#93f6bb,#94f6b0,#95f6a6,#96f69c,#a1f698,#acf696,#b7f693,#c1f691,#cbf68e,#d3f68c,#dbf68a,#e2f689,#e8f687,#edf686,#f2f685,#f5f684,#f6f684,#f6f684,#f6f684}
.ln{--g:#8ce0f8,#8ce2f8,#8ce6f9,#8ceef9,#8cf5f8,#8df5ee,#8ef5e4,#90f5d9,#91f5cd,#92f6c2,#93f6b6,#94f6ab,#95f6a0,#9df699,#aaf696,#b6f693,#c2f690,#cdf68e,#d7f68b,#e0f689,#e8f687,#f0f686,#f6f684,#f6f684,#f6f684,#f6f684,#f6f684,#f6f684,#f6f684}
.lo{--g:#8cdcf8,#8cdef8,#8ce3f8,#8cebf9,#8cf5f9,#8df5ee,#8ef5e3,#90f5d7,#91f6ca,#92f6be,#94f6b1,#95f6a5,#98f69b,#a6f697,#b4f694,#c1f691,#cdf68e,#d9f68b,#e3f688,#edf686,#f6f684,#f6f684,#f6f684,#f6f684,#f6f684,#f6f684,#f6f384,#f6f184,#f6f184}
.lp{--g:#8dd7f7,#8dd9f7,#8cdff8,#8ce9f9,#8cf4fa,#8df5ef,#8ff5e2,#90f5d5,#91f6c7,#93f6ba,#94f6ad,#96f6a0,#a0f699,#aff695,#bef692,#cbf68e,#d8f68b,#e5f688,#f0f685,#f6f684,#f6f684,#f6f684,#f6f684,#f6ee83,#f6e883,#f7e382,#f7df82,#f7dd82,#f7dd82}
.lq{--g:#8dd1f7,#8dd4f7,#8ddbf7,#8ce6f9,#8cf3fa,#8df5ef,#8ff5e1,#90f5d2,#92f6c4,#93f6b6,#95f6a8,#97f69b,#a8f697,#b8f693,#c7f68f,#d6f68c,#e3f688,#f0f685,#f6f684,#f6f684,#f6f684,#f6ee83,#f7e482,#f7dc82,#f7d581,#f7d081,#f7cc81,#f7ca80,#f7c980}
.lr{--g:#8dcbf6,#8dcff6,#8dd7f7,#8ce3f8,#8cf2fa,#8df5ef,#8ff5e0,#90f5d0,#92f6c1,#94f6b2,#95f6a3,#9ef699,#aff695,#c0f691,#d0f68d,#e0f689,#eef686,#f6f684,#f6f684,#f6f584,#f6e883,#f7dd82,#f7d381,#f7ca80,#f8c380,#f8bd7f,#f8ba7f,#f8b77f,#f8b77f}
.ls{--g:#8dc5f5,#8dc9f6,#8dd3f7,#8ce0f8,#8cf0fa,#8df5ef,#8ff5df,#91f5cf,#92f6be,#94f6ae,#96f69f,#a4f698,#b7f693,#c8f68f,#d9f68b,#e9f687,#f6f684,#f6f684,#f6f684,#f7e783,#f7d982,#f7cd81,#f8c280,#f8b97f,#f8b27e,#f8ac7e,#f9a87e,#f9a67d,#f9a67d}
.lt{--g:#8dbff5,#8dc3f5,#8dcef6,#8cdef8,#8ceff9,#8df5ef,#8ff5de,#91f5cd,#93f6bc,#94f6ab,#96f69b,#aaf696,#bdf692,#d0f68d,#e1f689,#f2f685,#f6f684,#f6f684,#f6e983,#f7d982,#f7cb80,#f8be7f,#f8b37e,#f9aa7e,#f9a37d,#f99d7d,#f9997c,#f9967c,#f9967c}
.lu{--g:#8db8f4,#8dbdf5,#8dcaf6,#8ddbf7,#8ceef9,#8df5ef,#8ff5dd,#91f5cb,#93f6b9,#95f6a8,#9bf69a,#aff695,#c3f690,#d6f68c,#e8f687,#f6f684,#f6f684,#f6ef83,#f7dd82,#f7cd81,#f8bf7f,#f8b27e,#f9a67d,#f99d7d,#f9957c,#f98f7b,#fa8b7b,#fa887b,#fa887b}
.lv{--g:#8db0f3,#8db7f4,#8dc6f5,#8dd9f7,#8cedf9,#8df5ef,#8ff5dc,#91f6ca,#93f6b7,#95f6a6,#9ff699,#b4f694,#c8f68f,#dcf68a,#eef686,#f6f684,#f6f684,#f7e683,#f7d381,#f8c380,#f8b47e,#f9a77d,#f99b7c,#f9917c,#fa897b,#fa837a,#fa7f7a,#fa7e7a,#fa7e7a}
.lw{--g:#8da9f3,#8db1f3,#8dc3f5,#8dd7f7,#8cecf9,#8df5ef,#8ff5dc,#91f6c9,#93f6b6,#95f6a3,#a2f698,#b7f693,#ccf68e,#e0f689,#f3f685,#f6f684,#f6f284,#f7de82,#f7cb80,#f8ba7f,#f8ab7e,#f99e7d,#f9927c,#fa887b,#fa807a,#fa7e7a,#fa7e7a,#fa7e7a,#fa7e7a}
.lx{--g:#8ea1f2,#8dacf3,#8dc0f5,#8dd5f7,#8cebf9,#8df5ef,#8ff5db,#91f6c8,#93f6b5,#95f6a2,#a4f698,#baf692,#cff68d,#e4f688,#f6f684,#f6f684,#f6ec83,#f7d881,#f8c580,#f8b47e,#f9a47d,#f9977c,#fa8b7b,#fa817a,#fa7e7a,#fa7e7a,#fa7e7a,#fa7e7a,#fa7e7a}
.ly{--g:#8e9af1,#8da8f3,#8dbef5,#8dd4f7,#8cebf9,#8df5ef,#8ff5db,#91f6c7,#93f6b4,#95f6a1,#a6f697,#bcf692,#d2f68d,#e6f688,#f6f684,#f6f684,#f6e983,#f7d481,#f8c180,#f8b07e,#f9a07d,#f9927c,#fa867b,#fa7e7a,#fa7e7a,#fa7e7a,#fa7e7a,#fa7e7a,#fa7e7a}
.lz{--g:#8e92f0,#8ea6f2,#8dbdf5,#8dd3f7,#8ceaf9,#8df5ef,#8ff5db,#91f6c7,#93f6b3,#95f6a0,#a7f697,#bdf692,#d3f68c,#e7f688,#f6f684,#f6f684,#f7e783,#f7d281,#f8bf7f,#f8ad7e,#f99e7d,#f9907b,#fa847a,#fa7e7a,#fa7e7a,#fa7e7a,#fa7e7a,#fa7e7a,#fa7e7a}
.ma{--g:#8e92f0,#8ceaf9,#93f6b4,#d1f68d,#f6e983,#f99f7d,#fa7e7a,#fa7e7a,#fa7e7a,#f99f7d,#f6e983,#d1f68d,#93f6b4,#8ceaf9,#8e92f0,#8ceaf9,#93f6b4,#d1f68d,#f6e983,#f99f7d,#fa7e7a,#fa7e7a,#fa7e7a,#f99f7d,#f6e983,#d1f68d,#93f6b4,#8ceaf9,#8e92f0}
.mb{--g:#8e9bf1,#8ceaf9,#93f6b4,#d1f68d,#f6e983,#f9a07d,#fa7e7a,#fa7e7a,#fa7e7a,#f9a07d,#f6e983,#d1f68d,#93f6b4,#8ceaf9,#8e9bf1,#8ceaf9,#93f6b4,#d1f68d,#f6e983,#f9a07d,#fa7e7a,#fa7e7a,#fa7e7a,#f9a07d,#f6e983,#d1f68d,#93f6b4,#8ceaf9,#8e9bf1}
.mc{--g:#8ea4f2,#8cecf9,#93f6b4,#d0f68d,#f6eb83,#f9a27d,#fa7e7a,#fa7e7a,#fa7e7a,#f9a27d,#f6eb83,#d0f68d,#93f6b4,#8cecf9,#8ea4f2,#8cecf9,#93f6b4,#d0f68d,#f6eb83,#f9a27d,#fa7e7a,#fa7e7a,#fa7e7a,#f9a27d,#f6eb83,#d0f68d,#93f6b4,#8cecf9,#8ea4f2}
.md{--g:#8dadf3,#8ceef9,#93f6b4,#d0f68d,#f6ec83,#f9a47d,#fa7e7a,#fa7e7a,#fa7e7a,#f9a47d,#f6ec83,#d0f68d,#93f6b4,#8ceef9,#8dadf3,#8ceef9,#93f6b4,#d0f68d,#f6ec83,#f9a47d,#fa7e7a,#fa7e7a,#fa7e7a,#f9a47d,#f6ec83,#d0f68d,#93f6b4,#8ceef9,#8dadf3}
.me{--g:#8db5f4,#8cf0fa,#93f6b4,#cff68d,#f6ef83,#f9a87d,#fa7e7a,#fa7e7a,#fa7e7a,#f9a87d,#f6ef83,#cff68d,#93f6b4,#8cf0fa,#8db5f4,#8cf0fa,#93f6b4,#cff68d,#f6ef83,#f9a87d,#fa7e7a,#fa7e7a,#fa7e7a,#f9a87d,#f6ef83,#cff68d,#93f6b4,#8cf0fa,#8db5f4}
.mf{--g:#8dbef5,#8cf3fa,#93f6b3,#cdf68e,#f6f284,#f8ac7e,#fa807a,#fa7e7a,#fa807a,#f8ac7e,#f6f284,#cdf68e,#93f6b3,#8cf3fa,#8dbef5,#8cf3fa,#93f6b3,#cdf68e,#f6f284,#f8ac7e,#fa807a,#fa7e7a,#fa807a,#f8ac7e,#f6f284,#cdf68e,#93f6b3,#8cf3fa,#8dbef5}
.mg{--g:#8dc7f5,#8cf5f9,#93f6b3,#ccf68e,#f6f684,#f8b17e,#fa867b,#fa7e7a,#fa867b,#f8b17e,#f6f684,#ccf68e,#93f6b3,#8cf5f9,#8dc7f5,#8cf5f9,#93f6b3,#ccf68e,#f6f684,#f8b17e,#fa867b,#fa7e7a,#fa867b,#f8b17e,#f6f684,#ccf68e,#93f6b3,#8cf5f9,#8dc7f5}
.mh{--g:#8dcff6,#8cf5f5,#94f6b3,#caf68f,#f6f684,#f8b77f,#fa8c7b,#fa7e7a,#fa8c7b,#f8b77f,#f6f684,#caf68f,#94f6b3,#8cf5f5,#8dcff6,#8cf5f5,#94f6b3,#caf68f,#f6f684,#f8b77f,#fa8c7b,#fa7e7a,#fa8c7b,#f8b77f,#f6f684,#caf68f,#94f6b3,#8cf5f5,#8dcff6}
.mi{--g:#8dd7f7,#8df5f2,#94f6b2,#c8f68f,#f6f684,#f8bd7f,#f9947c,#fa867b,#f9947c,#f8bd7f,#f6f684,#c8f68f,#94f6b2,#8df5f2,#8dd7f7,#8df5f2,#94f6b2,#c8f68f,#f6f684,#f8bd7f,#f9947c,#fa867b,#f9947c,#f8bd7f,#f6f684,#c8f68f,#94f6b2,#8df5f2,#8dd7f7}
.mj{--g:#8ce0f8,#8df5ee,#94f6b2,#c5f690,#f6f684,#f8c580,#f99c7d,#f98f7b,#f99c7d,#f8c580,#f6f684,#c5f690,#94f6b2,#8df5ee,#8ce0f8,#8df5ee,#94f6b2,#c5f690,#f6f684,#f8c580,#f99c7d,#f98f7b,#f99c7d,#f8c580,#f6f684,#c5f690,#94f6b2,#8df5ee,#8ce0f8}
.mk{--g:#8ce8f9,#8ef5e9,#94f6b1,#c3f690,#f6f684,#f7cd81,#f9a67d,#f9997c,#f9a67d,#f7cd81,#f6f684,#c3f690,#94f6b1,#8ef5e9,#8ce8f9,#8ef5e9,#94f6b1,#c3f690,#f6f684,#f7cd81,#f9a67d,#f9997c,#f9a67d,#f7cd81,#f6f684,#c3f690,#94f6b1,#8ef5e9,#8ce8f9}
.ml{--g:#8cf0f9,#8ef5e5,#94f6b1,#c0f691,#f6f684,#f7d681,#f8b07e,#f9a37d,#f8b07e,#f7d681,#f6f684,#c0f691,#94f6b1,#8ef5e5,#8cf0f9,#8ef5e5,#94f6b1,#c0f691,#f6f684,#f7d681,#f8b07e,#f9a37d,#f8b07e,#f7d681,#f6f684,#c0f691,#94f6b1,#8ef5e5,#8cf0f9}
.mm{--g:#8cf5f8,#8ff5e1,#94f6b0,#bdf692,#f6f684,#f7df82,#f8bb7f,#f8af7e,#f8bb7f,#f7df82,#f6f684,#bdf692,#94f6b0,#8ff5e1,#8cf5f8,#8ff5e1,#94f6b0,#bdf692,#f6f684,#f7df82,#f8bb7f,#f8af7e,#f8bb7f,#f7df82,#f6f684,#bdf692,#94f6b0,#8ff5e1,#8cf5f8}
.mn{--g:#8df5f1,#8ff5dc,#94f6b0,#baf692,#f1f685,#f6ea83,#f8c780,#f8bb7f,#f8c780,#f6ea83,#f1f685,#baf692,#94f6b0,#8ff5dc,#8df5f1,#8ff5dc,#94f6b0,#baf692,#f1f685,#f6ea83,#f8c780,#f8bb7f,#f8c780,#f6ea83,#f1f685,#baf692,#94f6b0,#8ff5dc,#8df5f1}
.mo{--g:#8ef5ea,#90f5d8,#94f6af,#b7f693,#ebf687,#f6f584,#f7d481,#f8c880,#f7d481,#f6f584,#ebf687,#b7f693,#94f6af,#90f5d8,#8ef5ea,#90f5d8,#94f6af,#b7f693,#ebf687,#f6f584,#f7d481,#f8c880,#f7d481,#f6f584,#ebf687,#b7f693,#94f6af,#90f5d8,#8ef5ea}
.mp{--g:#8ef5e3,#90f5d3,#94f6ae,#b3f694,#e4f688,#f6f684,#f7e182,#f7d681,#f7e182,#f6f684,#e4f688,#b3f694,#94f6ae,#90f5d3,#8ef5e3,#90f5d3,#94f6ae,#b3f694,#e4f688,#f6f684,#f7e182,#f7d681,#f7e182,#f6f684,#e4f688,#b3f694,#94f6ae,#90f5d3,#8ef5e3}
.mq{--g:#8ff5dd,#91f5cf,#94f6ae,#b0f695,#ddf68a,#f6f684,#f6ef83,#f7e583,#f6ef83,#f6f684,#ddf68a,#b0f695,#94f6ae,#91f5cf,#8ff5dd,#91f5cf,#94f6ae,#b0f695,#ddf68a,#f6f684,#f6ef83,#f7e583,#f6ef83,#f6f684,#ddf68a,#b0f695,#94f6ae,#91f5cf,#8ff5dd}
.mr{--g:#90f5d7,#91f6ca,#94f6ad,#acf696,#d6f68c,#f6f684,#f6f684,#f6f584,#f6f684,#f6f684,#d6f68c,#acf696,#94f6ad,#91f6ca,#90f5d7,#91f6ca,#94f6ad,#acf696,#d6f68c,#f6f684,#f6f684,#f6f584,#f6f684,#f6f684,#d6f68c,#acf696,#94f6ad,#91f6ca,#90f5d7}
.ms{--g:#90f5d0,#91f6c6,#94f6ac,#a8f697,#cef68e,#edf686,#f6f684,#f6f684,#f6f684,#edf686,#cef68e,#a8f697,#94f6ac,#91f6c6,#90f5d0,#91f6c6,#94f6ac,#a8f697,#cef68e,#edf686,#f6f684,#f6f684,#f6f684,#edf686,#cef68e,#a8f697,#94f6ac,#91f6c6,#90f5d0}
.mt{--g:#91f5cb,#92f6c2,#94f6ac,#a4f698,#c6f68f,#e2f689,#f3f685,#f6f684,#f3f685,#e2f689,#c6f68f,#a4f698,#94f6ac,#92f6c2,#91f5cb,#92f6c2,#94f6ac,#a4f698,#c6f68f,#e2f689,#f3f685,#f6f684,#f3f685,#e2f689,#c6f68f,#a4f698,#94f6ac,#92f6c2,#91f5cb}
.mu{--g:#92f6c5,#92f6be,#94f6ab,#a0f699,#bef691,#d6f68c,#e6f688,#ebf687,#e6f688,#d6f68c,#bef691,#a0f699,#94f6ab,#92f6be,#92f6c5,#92f6be,#94f6ab,#a0f699,#bef691,#d6f68c,#e6f688,#ebf687,#e6f688,#d6f68c,#bef691,#a0f699,#94f6ab,#92f6be,#92f6c5}
.mv{--g:#92f6c0,#93f6ba,#94f6aa,#9cf69a,#b6f693,#cbf68e,#d8f68b,#ddf68a,#d8f68b,#cbf68e,#b6f693,#9cf69a,#94f6aa,#93f6ba,#92f6c0,#93f6ba,#94f6aa,#9cf69a,#b6f693,#cbf68e,#d8f68b,#ddf68a,#d8f68b,#cbf68e,#b6f693,#9cf69a,#94f6aa,#93f6ba,#92f6c0}
.mw{--g:#93f6ba,#93f6b6,#94f6aa,#98f69b,#adf695,#bff691,#caf68f,#cef68e,#caf68f,#bff691,#adf695,#98f69b,#94f6aa,#93f6b6,#93f6ba,#93f6b6,#94f6aa,#98f69b,#adf695,#bff691,#caf68f,#cef68e,#caf68f,#bff691,#adf695,#98f69b,#94f6aa,#93f6b6,#93f6ba}
.mx{--g:#93f6b6,#94f6b2,#95f6a9,#96f69d,#a4f698,#b2f694,#bbf692,#bff691,#bbf692,#b2f694,#a4f698,#96f69d,#95f6a9,#94f6b2,#93f6b6,#94f6b2,#95f6a9,#96f69d,#a4f698,#b2f694,#bbf692,#bff691,#bbf692,#b2f694,#a4f698,#96f69d,#95f6a9,#94f6b2,#93f6b6}
.my{--g:#94f6b1,#94f6af,#95f6a8,#96f6a0,#9cf69a,#a6f697,#acf696,#aff695,#acf696,#a6f697,#9cf69a,#96f6a0,#95f6a8,#94f6af,#94f6b1,#94f6af,#95f6a8,#96f6a0,#9cf69a,#a6f697,#acf696,#aff695,#acf696,#a6f697,#9cf69a,#96f6a0,#95f6a8,#94f6af,#94f6b1}
.mz{--g:#94f6ad,#94f6ab,#95f6a8,#95f6a3,#96f69d,#99f69a,#9df699,#9ef699,#9df699,#99f69a,#96f69d,#95f6a3,#95f6a8,#94f6ab,#94f6ad,#94f6ab,#95f6a8,#95f6a3,#96f69d,#99f69a,#9df699,#9ef699,#9df699,#99f69a,#96f69d,#95f6a3,#95f6a8,#94f6ab,#94f6ad}
.na{--g:#95f6a9,#95f6a8,#95f6a7,#95f6a6,#95f6a4,#95f6a3,#95f6a2,#95f6a2,#95f6a2,#95f6a3,#95f6a4,#95f6a6,#95f6a7,#95f6a8,#95f6a9,#95f6a8,#95f6a7,#95f6a6,#95f6a4,#95f6a3,#95f6a2,#95f6a2,#95f6a2,#95f6a3,#95f6a4,#95f6a6,#95f6a7,#95f6a8,#95f6a9}
.nb{--g:#95f6a5,#95f6a5,#95f6a7,#95f6a9,#94f6ab,#94f6ad,#94f6af,#94f6af,#94f6af,#94f6ad,#94f6ab,#95f6a9,#95f6a7,#95f6a5,#95f6a5,#95f6a5,#95f6a7,#95f6a9,#94f6ab,#94f6ad,#94f6af,#94f6af,#94f6af,#94f6ad,#94f6ab,#95f6a9,#95f6a7,#95f6a5,#95f6a5}
.nc{--g:#95f6a1,#95f6a3,#95f6a6,#94f6ac,#94f6b2,#93f6b7,#93f6bc,#92f6bd,#93f6bc,#93f6b7,#94f6b2,#94f6ac,#95f6a6,#95f6a3,#95f6a1,#95f6a3,#95f6a6,#94f6ac,#94f6b2,#93f6b7,#93f6bc,#92f6bd,#93f6bc,#93f6b7,#94f6b2,#94f6ac,#95f6a6,#95f6a3,#95f6a1}
.nd{--g:#96f69e,#95f6a0,#95f6a6,#94f6ae,#93f6b8,#92f6c2,#91f6c9,#91f5cb,#91f6c9,#92f6c2,#93f6b8,#94f6ae,#95f6a6,#95f6a0,#96f69e,#95f6a0,#95f6a6,#94f6ae,#93f6b8,#92f6c2,#91f6c9,#91f5cb,#91f6c9,#92f6c2,#93f6b8,#94f6ae,#95f6a6,#95f6a0,#96f69e}
.ne{--g:#96f69b,#96f69e,#95f6a5,#94f6b1,#92f6be,#91f5cc,#90f5d6,#8ff5d9,#90f5d6,#91f5cc,#92f6be,#94f6b1,#95f6a5,#96f69e,#96f69b,#96f69e,#95f6a5,#94f6b1,#92f6be,#91f5cc,#90f5d6,#8ff5d9,#90f5d6,#91f5cc,#92f6be,#94f6b1,#95f6a5,#96f69e,#96f69b}
.nf{--g:#99f69a,#96f69c,#95f6a5,#93f6b3,#92f6c4,#90f5d5,#8ef5e3,#8ef5e8,#8ef5e3,#90f5d5,#92f6c4,#93f6b3,#95f6a5,#96f69c,#99f69a,#96f69c,#95f6a5,#93f6b3,#92f6c4,#90f5d5,#8ef5e3,#8ef5e8,#8ef5e3,#90f5d5,#92f6c4,#93f6b3,#95f6a5,#96f69c,#99f69a}
.ng{--g:#9cf69a,#97f69b,#95f6a5,#93f6b5,#91f6c9,#8ff5df,#8df5f0,#8cf5f7,#8df5f0,#8ff5df,#91f6c9,#93f6b5,#95f6a5,#97f69b,#9cf69a,#97f69b,#95f6a5,#93f6b5,#91f6c9,#8ff5df,#8df5f0,#8cf5f7,#8df5f0,#8ff5df,#91f6c9,#93f6b5,#95f6a5,#97f69b,#9cf69a}
.nh{--g:#9ef699,#99f69a,#95f6a4,#93f6b7,#91f5ce,#8ef5e7,#8cf2fa,#8ce9f9,#8cf2fa,#8ef5e7,#91f5ce,#93f6b7,#95f6a4,#99f69a,#9ef699,#99f69a,#95f6a4,#93f6b7,#91f5ce,#8ef5e7,#8cf2fa,#8ce9f9,#8cf2fa,#8ef5e7,#91f5ce,#93f6b7,#95f6a4,#99f69a,#9ef699}
.ni{--g:#a0f699,#9bf69a,#95f6a4,#93f6b8,#90f5d2,#8df5ef,#8ce5f8,#8dd8f7,#8ce5f8,#8df5ef,#90f5d2,#93f6b8,#95f6a4,#9bf69a,#a0f699,#9bf69a,#95f6a4,#93f6b8,#90f5d2,#8df5ef,#8ce5f8,#8dd8f7,#8ce5f8,#8df5ef,#90f5d2,#93f6b8,#95f6a4,#9bf69a,#a0f699}
.nj{--g:#a2f698,#9cf69a,#95f6a4,#93f6ba,#90f5d6,#8cf5f6,#8dd8f7,#8dc8f6,#8dd8f7,#8cf5f6,#90f5d6,#93f6ba,#95f6a4,#9cf69a,#a2f698,#9cf69a,#95f6a4,#93f6ba,#90f5d6,#8cf5f6,#8dd8f7,#8dc8f6,#8dd8f7,#8cf5f6,#90f5d6,#93f6ba,#95f6a4,#9cf69a,#a2f698}
.nk{--g:#a3f698,#9df699,#95f6a4,#93f6bb,#90f5d9,#8cf3fa,#8dcdf6,#8db7f4,#8dcdf6,#8cf3fa,#90f5d9,#93f6bb,#95f6a4,#9df699,#a3f698,#9df699,#95f6a4,#93f6bb,#90f5d9,#8cf3fa,#8dcdf6,#8db7f4,#8dcdf6,#8cf3fa,#90f5d9,#93f6bb,#95f6a4,#9df699,#a3f698}
.nl{--g:#a4f698,#9ef699,#95f6a4,#93f6bb,#8ff5da,#8ceff9,#8dc4f5,#8ea7f2,#8dc4f5,#8ceff9,#8ff5da,#93f6bb,#95f6a4,#9ef699,#a4f698,#9ef699,#95f6a4,#93f6bb,#8ff5da,#8ceff9,#8dc4f5,#8ea7f2,#8dc4f5,#8ceff9,#8ff5da,#93f6bb,#95f6a4,#9ef699,#a4f698}
.nm{--g:#a4f698,#9ef699,#95f6a4,#93f6bb,#8ff5db,#8cedf9,#8dbff5,#8e96f1,#8dbff5,#8cedf9,#8ff5db,#93f6bb,#95f6a4,#9ef699,#a4f698,#9ef699,#95f6a4,#93f6bb,#8ff5db,#8cedf9,#8dbff5,#8e96f1,#8dbff5,#8cedf9,#8ff5db,#93f6bb,#95f6a4,#9ef699,#a4f698}
.nn{--g:#8e96f1,#8dc0f5,#8ceef9,#8ff5db,#93f6bb,#95f6a3,#9ff699,#a4f698,#9df699,#95f6a5,#92f6bd,#8ff5de,#8ceaf9,#8dbcf4,#8e97f1,#8dc4f5,#8cf1fa,#90f5d8,#93f6b8,#95f6a1,#9ff699,#a4f698,#9cf69a,#95f6a6,#92f6c0,#8ff5e1,#8ce6f9,#8db8f4,#8e9af1}
.no{--g:#8ea7f2,#8dc5f5,#8cf0fa,#8ff5d9,#93f6ba,#95f6a3,#9ff699,#a5f698,#9ef699,#95f6a4,#92f6bc,#8ff5dc,#8cecf9,#8dc1f5,#8ea7f2,#8dc8f6,#8cf4fa,#90f5d7,#93f6b8,#95f6a1,#a0f699,#a4f698,#9cf699,#95f6a6,#92f6bf,#8ff5df,#8ce9f9,#8dbef5,#8da8f3}
.np{--g:#8db7f4,#8dcdf6,#8cf4fa,#90f5d7,#93f6b9,#95f6a2,#9ff699,#a5f697,#9ef699,#95f6a3,#93f6bb,#8ff5da,#8cf1fa,#8dcaf6,#8db8f4,#8dd1f6,#8cf5f7,#90f5d4,#93f6b7,#95f6a0,#a0f699,#a5f697,#9df699,#95f6a5,#92f6bd,#8ff5dd,#8ceef9,#8dc8f6,#8db8f4}
.nq{--g:#8dc8f6,#8dd9f7,#8df5f5,#90f5d4,#93f6b7,#95f6a1,#a0f699,#a5f697,#9ff699,#95f6a2,#93f6b9,#90f5d6,#8cf5f7,#8dd6f7,#8dc8f6,#8cdbf8,#8df5f2,#90f5d1,#93f6b5,#96f69f,#a1f698,#a5f697,#9ef699,#95f6a4,#93f6bb,#8ff5d9,#8cf5fa,#8dd4f7,#8dc8f6}
.nr{--g:#8dd8f7,#8ce6f8,#8df5ed,#90f5cf,#93f6b4,#96f6a0,#a1f698,#a6f697,#a0f699,#95f6a1,#93f6b6,#90f5d2,#8df5f0,#8ce4f8,#8dd8f7,#8ce8f9,#8ef5eb,#91f5cd,#94f6b2,#96f69e,#a2f698,#a6f697,#9ff699,#95f6a3,#93f6b9,#90f5d4,#8df5f2,#8ce2f8,#8dd9f7}
.ns{--g:#8ce9f9,#8cf3fa,#8ef5e5,#91f6ca,#94f6b1,#96f69e,#a2f698,#a7f697,#a1f698,#96f69f,#93f6b3,#91f5cc,#8ef5e7,#8cf1fa,#8ce9f9,#8cf5fa,#8ef5e3,#91f6c8,#94f6af,#96f69d,#a3f698,#a7f697,#a0f699,#95f6a1,#93f6b5,#91f5cf,#8ef5e9,#8cf0fa,#8ce9f9}
.nt{--g:#8cf5f7,#8df5ef,#8ff5dc,#92f6c4,#94f6ae,#96f69c,#a3f698,#a8f697,#a2f698,#96f69d,#94f6af,#91f6c6,#8ff5dd,#8df5f0,#8cf5f7,#8df5ee,#8ff5da,#92f6c2,#94f6ac,#96f69b,#a4f698,#a7f697,#a1f698,#96f69f,#94f6b1,#91f6c8,#8ff5df,#8df5f1,#8cf5f6}
.nu{--g:#8ef5e8,#8ff5e2,#90f5d2,#92f6bd,#94f6aa,#98f69b,#a4f698,#a9f697,#a4f698,#96f69b,#94f6ab,#92f6bf,#90f5d3,#8ef5e3,#8ef5e8,#8ff5e1,#90f5d0,#93f6bc,#95f6a8,#99f69a,#a5f697,#a8f697,#a3f698,#96f69c,#94f6ad,#92f6c1,#90f5d5,#8ef5e4,#8ef5e8}
.nv{--g:#8ff5d9,#90f5d4,#91f6c7,#93f6b6,#95f6a5,#9bf69a,#a6f697,#aaf696,#a5f697,#99f69a,#95f6a7,#93f6b8,#91f6c9,#90f5d5,#8ff5d9,#90f5d4,#91f6c6,#93f6b5,#95f6a4,#9cf69a,#a7f697,#aaf696,#a5f698,#98f69b,#95f6a8,#93f6b9,#91f6ca,#90f5d6,#8ff5d9}
.nw{--g:#91f5cb,#91f6c7,#92f6bd,#94f6af,#95f6a1,#9ef699,#a8f697,#abf696,#a7f697,#9df699,#95f6a2,#94f6b0,#92f6be,#91f6c8,#91f5cb,#91f6c7,#93f6bc,#94f6ae,#96f69f,#9ff699,#a8f697,#abf696,#a6f697,#9cf69a,#95f6a3,#94f6b1,#92f6bf,#91f6c8,#91f5cb}
.nx{--g:#92f6bd,#93f6ba,#94f6b2,#95f6a7,#96f69c,#a2f698,#aaf696,#acf696,#a9f696,#a1f698,#96f69c,#95f6a8,#93f6b3,#93f6bb,#92f6bd,#93f6ba,#94f6b1,#95f6a6,#96f69b,#a2f698,#aaf696,#acf696,#a9f697,#a0f699,#96f69d,#95f6a9,#93f6b4,#93f6bb,#92f6bd}
.ny{--g:#94f6af,#94f6ad,#95f6a7,#96f69f,#9cf69a,#a5f697,#acf696,#aef695,#abf696,#a5f697,#9bf69a,#96f6a0,#95f6a8,#94f6ad,#94f6af,#94f6ad,#95f6a7,#96f69e,#9df699,#a6f697,#acf696,#aef695,#abf696,#a4f698,#9af69a,#95f6a0,#95f6a8,#94f6ae,#94f6af}
.nz{--g:#95f6a2,#95f6a0,#96f69c,#9bf69a,#a3f698,#a9f696,#aef695,#aff695,#adf695,#a9f696,#a2f698,#9bf69a,#96f69d,#95f6a0,#95f6a2,#95f6a0,#96f69c,#9cf69a,#a3f698,#aaf696,#aef695,#aff695,#adf695,#a8f697,#a2f698,#9af69a,#96f69d,#95f6a1,#95f6a2}
.oa{--g:#9ef699,#9ff699,#a2f698,#a6f697,#aaf696,#adf695,#b0f695,#b1f695,#b0f695,#adf695,#a9f696,#a5f697,#a2f698,#9ff699,#9ef699,#9ff699,#a2f698,#a6f697,#aaf696,#aef695,#b0f695,#b1f695,#b0f695,#adf696,#a9f696,#a5f697,#a1f698,#9ff699,#9ef699}
.ob{--g:#aff695,#aff695,#aff695,#b0f695,#b1f695,#b2f694,#b2f694,#b2f694,#b2f694,#b2f694,#b1f695,#b0f695,#aff695,#aff695,#aff695,#aff695,#aff695,#b0f695,#b1f695,#b2f694,#b2f694,#b2f694,#b2f694,#b2f694,#b1f695,#b0f695,#aff695,#aff695,#aff695}
.oc{--g:#bff691,#bef691,#bdf692,#baf692,#b8f693,#b6f693,#b4f694,#b4f694,#b5f694,#b6f693,#b8f693,#bbf692,#bdf692,#bef691,#bff691,#bef691,#bcf692,#baf692,#b8f693,#b6f693,#b4f694,#b4f694,#b5f694,#b6f693,#b8f693,#bbf692,#bdf692,#bef691,#bff691}
.od{--g:#cef68e,#cdf68e,#caf68f,#c5f690,#bff691,#baf692,#b7f693,#b6f693,#b7f693,#bbf692,#c0f691,#c5f690,#caf68f,#cdf68e,#cef68e,#cdf68e,#c9f68f,#c4f690,#bff691,#baf692,#b7f693,#b6f693,#b7f693,#bbf692,#c0f691,#c6f690,#caf68e,#cdf68e,#cef68e}
.oe{--g:#ddf68a,#dbf68a,#d6f68c,#cff68d,#c6f68f,#bff691,#b9f693,#b7f693,#baf692,#bff691,#c7f68f,#cff68d,#d7f68b,#dcf68a,#ddf68a,#dbf68a,#d6f68c,#cef68e,#c6f690,#bef691,#b9f693,#b7f693,#baf692,#c0f691,#c8f68f,#d0f68d,#d7f68b,#dcf68a,#ddf68a}
.of{--g:#ebf687,#e9f687,#e2f689,#d9f68b,#cdf68e,#c3f690,#bcf692,#b9f693,#bcf692,#c4f690,#cef68d,#daf68b,#e3f689,#eaf687,#ebf687,#e9f687,#e2f689,#d8f68b,#ccf68e,#c2f690,#bbf692,#b9f693,#bdf692,#c5f690,#cff68d,#daf68b,#e4f688,#eaf687,#ebf687}
.og{--g:#f6f684,#f6f684,#eef686,#e2f689,#d4f68c,#c7f68f,#bef691,#bbf692,#bff691,#c8f68f,#d6f68c,#e3f688,#eff686,#f6f684,#f6f684,#f6f684,#eef686,#e1f689,#d3f68c,#c6f68f,#bef692,#bbf692,#bff691,#c9f68f,#d7f68b,#e5f688,#f0f685,#f6f684,#f6f684}
.oh{--g:#f6f684,#f6f684,#f6f684,#ecf686,#dbf68a,#ccf68e,#c0f691,#bdf692,#c1f691,#cdf68e,#ddf68a,#edf686,#f6f684,#f6f684,#f6f684,#f6f684,#f6f684,#eaf687,#daf68b,#caf68e,#c0f691,#bdf692,#c2f690,#cef68e,#def68a,#eef686,#f6f684,#f6f684,#f6f684}
.oi{--g:#f6f584,#f6f684,#f6f684,#f5f684,#e2f689,#d0f68d,#c3f690,#bef691,#c4f690,#d1f68d,#e3f688,#f6f684,#f6f684,#f6f684,#f6f584,#f6f684,#f6f684,#f3f685,#e0f689,#cef68d,#c2f690,#bef691,#c4f690,#d3f68c,#e5f688,#f6f684,#f6f684,#f6f684,#f6f584}
.oj{--g:#f7e583,#f6eb83,#f6f684,#f6f684,#e8f687,#d4f68c,#c5f690,#c0f691,#c6f690,#d5f68c,#eaf687,#f6f684,#f6f684,#f6ea83,#f7e583,#f6ec83,#f6f684,#f6f684,#e6f688,#d2f68d,#c4f690,#c0f691,#c7f68f,#d7f68b,#ecf686,#f6f684,#f6f684,#f6e983,#f7e583}
.ok{--g:#f7d681,#f7dc82,#f6ed83,#f6f684,#eef686,#d8f68b,#c7f68f,#c2f691,#c8f68f,#d9f68b,#f0f685,#f6f684,#f6eb83,#f7db82,#f7d681,#f7dd82,#f6ef83,#f6f684,#ecf686,#d6f68c,#c6f68f,#c2f691,#c9f68f,#dbf68a,#f2f685,#f6f684,#f6ea83,#f7da82,#f7d781}
.ol{--g:#f8c880,#f7cf81,#f7e182,#f6f684,#f4f684,#dbf68a,#c9f68f,#c3f690,#cbf68e,#ddf68a,#f6f684,#f6f684,#f7df82,#f7ce81,#f8c880,#f7d081,#f7e382,#f6f684,#f2f685,#daf68b,#c8f68f,#c3f690,#ccf68e,#dff689,#f6f684,#f6f684,#f7dd82,#f7cd81,#f8c880}
.om{--g:#f8bb7f,#f8c280,#f7d581,#f6f384,#f6f684,#dff689,#ccf68e,#c5f690,#cdf68e,#e1f689,#f6f684,#f6f084,#f7d381,#f8c180,#f8bb7f,#f8c380,#f7d881,#f6f684,#f6f684,#ddf68a,#caf68e,#c5f690,#cef68e,#e3f688,#f6f684,#f6ee83,#f7d181,#f8c07f,#f8bb7f}
.on{--g:#f8af7e,#f8b67f,#f7cb80,#f6ea83,#f6f684,#e2f689,#cef68e,#c6f68f,#cff68d,#e5f688,#f6f684,#f6e783,#f8c880,#f8b57f,#f8af7e,#f8b77f,#f7cd81,#f6ed83,#f6f684,#e0f689,#ccf68e,#c6f68f,#d0f68d,#e7f688,#f6f684,#f7e483,#f8c680,#f8b47e,#f8af7e}
.oo{--g:#f9a37d,#f9ab7e,#f8c180,#f7e282,#f6f684,#e6f688,#cff68d,#c8f68f,#d1f68d,#e8f687,#f6f684,#f7df82,#f8be7f,#f9aa7e,#f9a37d,#f8ac7e,#f8c380,#f7e583,#f6f684,#e3f688,#cef68e,#c8f68f,#d2f68d,#eaf687,#f6f684,#f7db82,#f8bc7f,#f9a87e,#f9a37d}
.op{--g:#f9997c,#f9a07d,#f8b77f,#f7da82,#f6f684,#e9f687,#d1f68d,#c9f68f,#d3f68c,#ebf687,#f6f684,#f7d781,#f8b57f,#f99f7d,#f9997c,#f9a27d,#f8ba7f,#f7dd82,#f6f684,#e6f688,#d0f68d,#c9f68f,#d4f68c,#eef686,#f6f684,#f7d381,#f8b27e,#f99e7d,#f9997c}
.oq{--g:#f98f7b,#f9977c,#f8af7e,#f7d381,#f6f684,#ebf687,#d3f68c,#caf68f,#d4f68c,#eef686,#f6f684,#f7cf81,#f8ac7e,#f9967c,#f98f7b,#f9987c,#f8b17e,#f7d681,#f6f684,#e9f687,#d1f68d,#caf68f,#d6f68c,#f1f685,#f6f684,#f7cc80,#f9aa7e,#f9957c,#f98f7b}
.or{--g:#fa867b,#f98f7b,#f9a77d,#f7cc81,#f6f684,#eef686,#d4f68c,#cbf68e,#d6f68c,#f1f685,#f6f584,#f8c980,#f9a47d,#f98d7b,#fa867b,#f9907b,#f9aa7e,#f7d081,#f6f684,#ebf687,#d3f68c,#cbf68e,#d8f68b,#f3f685,#f6f184,#f8c580,#f9a27d,#fa8c7b,#fa867b}
.os{--g:#fa7e7a,#fa877b,#f9a07d,#f8c680,#f6f584,#f0f685,#d6f68c,#ccf68e,#d7f68b,#f3f685,#f6f184,#f8c380,#f99d7d,#fa857b,#fa7e7a,#fa887b,#f9a37d,#f7ca80,#f6f684,#eef686,#d4f68c,#ccf68e,#d9f68b,#f6f684,#f6ed83,#f8bf7f,#f99b7c,#fa847b,#fa7e7a}
.ot{--g:#fa7e7a,#fa807a,#f99a7c,#f8c180,#f6f184,#f2f685,#d7f68b,#cdf68e,#d8f68b,#f5f684,#f6ed83,#f8be7f,#f9977c,#fa7f7a,#fa7e7a,#fa827a,#f99d7d,#f8c580,#f6f584,#eff686,#d5f68c,#cdf68e,#daf68b,#f6f684,#f6e983,#f8ba7f,#f9957c,#fa7e7a,#fa7e7a}
.ou{--g:#fa7e7a,#fa7e7a,#f9957c,#f8bd7f,#f6ed83,#f4f684,#d8f68b,#cef68e,#daf68b,#f6f684,#f6e983,#f8b97f,#f9927c,#fa7e7a,#fa7e7a,#fa7e7a,#f9987c,#f8c180,#f6f284,#f1f685,#d6f68c,#cef68e,#dbf68a,#f6f684,#f7e583,#f8b57f,#f98f7b,#fa7e7a,#fa7e7a}
.ov{--g:#fa7e7a,#fa7e7a,#f9907c,#f8b97f,#f6eb83,#f5f684,#d9f68b,#cef68e,#daf68b,#f6f684,#f7e683,#f8b57f,#f98e7b,#fa7e7a,#fa7e7a,#fa7e7a,#f9937c,#f8bd7f,#f6ef83,#f2f685,#d7f68b,#cef68d,#dcf68a,#f6f684,#f7e282,#f8b27e,#fa8b7b,#fa7e7a,#fa7e7a}
.ow{--g:#fa7e7a,#fa7e7a,#fa8d7b,#f8b67f,#f6e883,#f6f684,#d9f68b,#cff68d,#dbf68a,#f6f684,#f7e483,#f8b27e,#fa8a7b,#fa7e7a,#fa7e7a,#fa7e7a,#f9907b,#f8ba7f,#f6ed83,#f4f685,#d8f68b,#cff68d,#ddf68a,#f6f684,#f7e082,#f8af7e,#fa877b,#fa7e7a,#fa7e7a}
.ox{--g:#fa7e7a,#fa7e7a,#fa8a7b,#f8b47f,#f7e783,#f6f684,#daf68b,#cff68d,#dcf68a,#f6f684,#f7e282,#f8b07e,#fa877b,#fa7e7a,#fa7e7a,#fa7e7a,#f98d7b,#f8b87f,#f6eb83,#f4f684,#d8f68b,#cff68d,#def68a,#f6f684,#f7de82,#f8ac7e,#fa847b,#fa7e7a,#fa7e7a}
.oy{--g:#fa7e7a,#fa7e7a,#fa887b,#f8b37e,#f7e683,#f6f684,#daf68b,#cff68d,#dcf68a,#f6f684,#f7e182,#f8af7e,#fa867b,#fa7e7a,#fa7e7a,#fa7e7a,#fa8c7b,#f8b77f,#f6ea83,#f5f684,#d8f68b,#d0f68d,#def68a,#f6f684,#f7dd82,#f9ab7e,#fa837a,#fa7e7a,#fa7e7a}
.oz{--g:#fa7e7a,#fa7e7a,#fa887b,#f8b27e,#f7e583,#f6f684,#daf68b,#d0f68d,#dcf68a,#f6f684,#f7e182,#f8ae7e,#fa857b,#fa7e7a,#fa7e7a,#fa7e7a,#fa8b7b,#f8b67f,#f6e983,#f5f684,#d9f68b,#d0f68d,#def68a,#f6f684,#f7dc82,#f9aa7e,#fa827a,#fa7e7a,#fa7e7a}
</style></head><body><div id="r">
<div class="p" style="left:9px;top:39px;width:165px;height:77px;background:linear-gradient(90deg,#8e8ef0,#8e9ef2,#8daef3,#8dbef5,#8dcef6,#8cdef8,#8ceef9,#8df5f2,#8ef5e4,#90f5d5,#91f6c8,#93f6ba,#94f6ac,#96f69f,#a1f698,#b1f695,#c0f691,#cff68d,#def68a,#ecf686,#f6f684,#f6f684,#f6f684,#f7e683,#f7d881,#f7ca80,#f8bd7f,#f8b17e,#f9a57d,#f99b7c,#f9917c,#fa887b,#fa807a,#fa7e7a,#fa7e7a,#fa7e7a,#fa7e7a,#fa7e7a,#fa7e7a,#fa7e7a,#fa7e7a,#fa7e7a,#fa7e7a,#fa7e7a,#fa7e7a,#fa7e7a,#fa7e7a,#fa7e7a,#fa807a,#fa887b,#f9917c,#f99b7c,#f9a57d,#f8b17e,#f8bd7f,#f7ca80,#f7d881,#f7e683,#f6f684,#f6f684,#f6f684,#ecf686,#def68a,#cff68d,#c0f691,#b1f695,#a1f698,#96f69f,#94f6ac,#93f6ba,#91f6c8,#90f5d5,#8ef5e4,#8df5f2,#8ceef9,#8cdef8,#8dcef6,#8dbef5,#8daef3,#8e9ef2,#8e8ef0)"></div>
<div class="p" style="left:222px;top:39px;width:165px;height:77px;background:linear-gradient(90deg,#8e8ef0,#8daef3,#8dcef6,#8ceef9,#8ef5e4,#91f6c8,#94f6ac,#a1f698,#c0f691,#def68a,#f6f684,#f6f684,#f7d881,#f8bd7f,#f9a57d,#f9917c,#fa807a,#fa7e7a,#fa7e7a,#fa7e7a,#fa7e7a,#fa7e7a,#fa7e7a,#fa7e7a,#fa807a,#f9917c,#f9a57d,#f8bd7f,#f7d881,#f6f684,#f6f684,#def68a,#c0f691,#a1f698,#94f6ac,#91f6c8,#8ef5e4,#8ceef9,#8dcef6,#8daef3,#8e8ef0,#8daef3,#8dcef6,#8ceef9,#8ef5e4,#91f6c8,#94f6ac,#a1f698,#c0f691,#def68a,#f6f684,#f6f684,#f7d881,#f8bd7f,#f9a57d,#f9917c,#fa807a,#fa7e7a,#fa7e7a,#fa7e7a,#fa7e7a,#fa7e7a,#fa7e7a,#fa7e7a,#fa807a,#f9917c,#f9a57d,#f8bd7f,#f7d881,#f6f684,#f6f684,#def68a,#c0f691,#a1f698,#94f6ac,#91f6c8,#8ef5e4,#8ceef9,#8dcef6,#8daef3,#8e8ef0)"></div>
<div class="p" style="left:442px;top:39px;width:166px;height:77px;background:linear-gradient(180deg,#8e8ef0,#8e9ef2,#8daef3,#8dbef5,#8dcef6,#8cdef8,#8ceef9,#8df5f2,#8ef5e4,#90f5d5,#91f6c8,#93f6ba,#94f6ac,#96f69f,#a1f698,#b1f695,#c0f691,#cff68d,#def68a,#ecf686,#f6f684,#f6f684,#f6f684,#f7e683,#f7d881,#f7ca80,#f8bd7f,#f8b17e,#f9a57d,#f99b7c,#f9917c,#fa887b,#fa807a,#fa7e7a,#fa7e7a,#fa7e7a,#fa7e7a,#fa7e7a,#fa7e7a,#fa7e7a,#fa7e7a,#fa7e7a,#fa7e7a,#fa7e7a,#fa7e7a,#fa7e7a,#fa7e7a,#fa7e7a,#fa807a,#fa887b,#f9917c,#f99b7c,#f9a57d,#f8b17e,#f8bd7f,#f7ca80,#f7d881,#f7e683,#f6f684,#f6f684,#f6f684,#ecf686,#def68a,#cff68d,#c0f691,#b1f695,#a1f698,#96f69f,#94f6ac,#93f6ba,#91f6c8,#90f5d5,#8ef5e4,#8df5f2,#8ceef9,#8cdef8,#8dcef6,#8dbef5,#8daef3,#8e9ef2,#8e8ef0)"></div>
<div class="p" style="left:669px;top:39px;width:165px;height:77px"><i class="aa"></i><i class="ab"></i><i class="ac"></i><i class="ad"></i><i class="ae"></i><i class="af"></i><i class="ag"></i><i class="ah"></i><i class="ai"></i><i class="aj"></i><i class="ak"></i><i class="al"></i><i class="am"></i><i class="an"></i><i class="ao"></i><i class="ap"></i><i class="aq"></i><i class="ar"></i><i class="as"></i><i class="at"></i><i class="au"></i><i class="av"></i><i class="aw"></i><i class="ax"></i><i class="ay"></i><i class="az"></i><i class="ba"></i><i class="bb"></i><i class="bc"></i><i class="bd"></i><i class="be"></i><i class="bf"></i><i class="bg"></i><i class="bh"></i><i class="bi"></i><i class="bj"></i><i class="bk"></i><i class="bl"></i><i class="bm"></i><i class="bl"></i><i class="bk"></i><i class="bj"></i><i class="bi"></i><i class="bh"></i><i class="bg"></i><i class="bf"></i><i class="be"></i><i class="bd"></i><i class="bc"></i><i class="bb"></i><i class="ba"></i><i class="az"></i><i class="ay"></i><i class="ax"></i><i class="aw"></i><i class="av"></i><i class="au"></i><i class="at"></i><i class="as"></i><i class="ar"></i><i class="aq"></i><i class="ap"></i><i class="ao"></i><i class="an"></i><i class="am"></i><i class="al"></i><i class="ak"></i><i class="aj"></i><i class="ai"></i><i class="ah"></i><i class="ag"></i><i class="af"></i><i class="ae"></i><i class="ad"></i><i class="ac"></i><i class="ab"></i><i class="aa"></i></div>
<div class="p" style="left:9px;top:162px;width:165px;height:78px"><i class="bn"></i><i class="bo"></i><i class="bp"></i><i class="bq"></i><i class="br"></i><i class="bs"></i><i class="bt"></i><i class="bu"></i><i class="bv"></i><i class="bw"></i><i class="bx"></i><i class="by"></i><i class="bz"></i><i class="ca"></i><i class="cb"></i><i class="cc"></i><i class="cd"></i><i class="ce"></i><i class="cf"></i><i class="cg"></i><i class="ch"></i><i class="ci"></i><i class="cj"></i><i class="ck"></i><i class="cl"></i><i class="cm"></i><i class="cn"></i><i class="co"></i><i class="cp"></i><i class="cq"></i><i class="cr"></i><i class="cs"></i><i class="ct"></i><i class="cu"></i><i class="cv"></i><i class="cw"></i><i class="cx"></i><i class="cy"></i><i class="cz"></i><i class="cz"></i><i class="cy"></i><i class="cx"></i><i class="cw"></i><i class="cv"></i><i class="cu"></i><i class="ct"></i><i class="cs"></i><i class="cr"></i><i class="cq"></i><i class="cp"></i><i class="co"></i><i class="cn"></i><i class="cm"></i><i class="cl"></i><i class="ck"></i><i class="cj"></i><i class="ci"></i><i class="ch"></i><i class="cg"></i><i class="cf"></i><i class="ce"></i><i class="cd"></i><i class="cc"></i><i class="cb"></i><i class="ca"></i><i class="bz"></i><i class="by"></i><i class="bx"></i><i class="bw"></i><i class="bv"></i><i class="bu"></i><i class="bt"></i><i class="bs"></i><i class="br"></i><i class="bq"></i><i class="bp"></i><i class="bo"></i><i class="bn"></i></div>
<div class="p" style="left:222px;top:162px;width:165px;height:78px"><i class="da"></i><i class="db"></i><i class="dc"></i><i class="dd"></i><i class="de"></i><i class="df"></i><i class="dg"></i><i class="dh"></i><i class="di"></i><i class="dj"></i><i class="dk"></i><i class="dl"></i><i class="dm"></i><i class="dn"></i><i class="do"></i><i class="dp"></i><i class="dq"></i><i class="dr"></i><i class="ds"></i><i class="dt"></i><i class="du"></i><i class="dv"></i><i class="dw"></i><i class="dx"></i><i class="dy"></i><i class="dz"></i><i class="ea"></i><i class="eb"></i><i class="ec"></i><i class="ed"></i><i class="ee"></i><i class="ef"></i><i class="eg"></i><i class="eh"></i><i class="ei"></i><i class="ej"></i><i class="ek"></i><i class="el"></i><i class="em"></i><i class="em"></i><i class="el"></i><i class="ek"></i><i class="ej"></i><i class="ei"></i><i class="eh"></i><i class="eg"></i><i class="ef"></i><i class="ee"></i><i class="ed"></i><i class="ec"></i><i class="eb"></i><i class="ea"></i><i class="dz"></i><i class="dy"></i><i class="dx"></i><i class="dw"></i><i class="dv"></i><i class="du"></i><i class="dt"></i><i class="ds"></i><i class="dr"></i><i class="dq"></i><i class="dp"></i><i class="do"></i><i class="dn"></i><i class="dm"></i><i class="dl"></i><i class="dk"></i><i class="dj"></i><i class="di"></i><i class="dh"></i><i class="dg"></i><i class="df"></i><i class="de"></i><i class="dd"></i><i class="dc"></i><i class="db"></i><i class="da"></i></div>
<div class="p" style="left:442px;top:162px;width:166px;height:78px"><i class="en"></i><i class="eo"></i><i class="ep"></i><i class="eq"></i><i class="er"></i><i class="es"></i><i class="et"></i><i class="eu"></i><i class="ev"></i><i class="ew"></i><i class="ex"></i><i class="ey"></i><i class="ez"></i><i class="fa"></i><i class="fb"></i><i class="fc"></i><i class="fd"></i><i class="fe"></i><i class="ff"></i><i class="fg"></i><i class="fh"></i><i class="fi"></i><i class="fj"></i><i class="fk"></i><i class="fl"></i><i class="fm"></i><i class="fn"></i><i class="fo"></i><i class="fp"></i><i class="fq"></i><i class="fr"></i><i class="fs"></i><i class="ft"></i><i class="fu"></i><i class="fv"></i><i class="fw"></i><i class="fx"></i><i class="fy"></i><i class="fz"></i><i class="fz"></i><i class="fy"></i><i class="fx"></i><i class="fw"></i><i class="fv"></i><i class="fu"></i><i class="ft"></i><i class="fs"></i><i class="fr"></i><i class="fq"></i><i class="fp"></i><i class="fo"></i><i class="fn"></i><i class="fm"></i><i class="fl"></i><i class="fk"></i><i class="fj"></i><i class="fi"></i><i class="fh"></i><i class="fg"></i><i class="ff"></i><i class="fe"></i><i class="fd"></i><i class="fc"></i><i class="fb"></i><i class="fa"></i><i class="ez"></i><i class="ey"></i><i class="ex"></i><i class="ew"></i><i class="ev"></i><i class="eu"></i><i class="et"></i><i class="es"></i><i class="er"></i><i class="eq"></i><i class="ep"></i><i class="eo"></i><i class="en"></i></div>
<div class="p" style="left:669px;top:162px;width:165px;height:78px;background:linear-gradient(90deg,#8e8ef0,#8dbef5,#8ceef9,#90f5d5,#94f6ac,#b1f695,#def68a,#f6f684,#f7d881,#f8b17e,#f9917c,#fa7e7a,#fa7e7a,#fa7e7a,#fa7e7a,#fa7e7a,#fa807a,#f99b7c,#f8bd7f,#f7e683,#f6f684,#cff68d,#a1f698,#93f6ba,#8ef5e4,#8cdef8,#8daef3,#8e9ef2,#8dcef6,#8df5f2,#91f6c8,#96f69f,#c0f691,#ecf686,#f6f684,#f7ca80,#f9a57d,#fa887b,#fa7e7a,#fa7e7a,#fa7e7a,#fa7e7a,#fa7e7a,#fa887b,#f9a57d,#f7ca80,#f6f684,#ecf686,#c0f691,#96f69f,#91f6c8,#8df5f2,#8dcef6,#8e9ef2,#8daef3,#8cdef8,#8ef5e4,#93f6ba,#a1f698,#cff68d,#f6f684,#f7e683,#f8bd7f,#f99b7c,#fa807a,#fa7e7a,#fa7e7a,#fa7e7a,#fa7e7a,#fa7e7a,#f9917c,#f8b17e,#f7d881,#f6f684,#def68a,#b1f695,#94f6ac,#90f5d5,#8ceef9,#8dbef5,#8e8ef0)"></div>
<div class="p" style="left:9px;top:282px;width:165px;height:78px"><i class="ga"></i><i class="gb"></i><i class="gc"></i><i class="gd"></i><i class="ge"></i><i class="gf"></i><i class="gg"></i><i class="gh"></i><i class="gi"></i><i class="gj"></i><i class="gk"></i><i class="gl"></i><i class="gm"></i><i class="gn"></i><i class="go"></i><i class="gp"></i><i class="gq"></i><i class="gr"></i><i class="gs"></i><i class="gt"></i><i class="gu"></i><i class="gv"></i><i class="gw"></i><i class="gx"></i><i class="gy"></i><i class="gz"></i><i class="ha"></i><i class="hb"></i><i class="hc"></i><i class="hd"></i><i class="he"></i><i class="hf"></i><i class="hg"></i><i class="hh"></i><i class="hi"></i><i class="hj"></i><i class="hk"></i><i class="hl"></i><i class="hm"></i><i class="hm"></i><i class="hl"></i><i class="hk"></i><i class="hj"></i><i class="hi"></i><i class="hh"></i><i class="hg"></i><i class="hf"></i><i class="he"></i><i class="hd"></i><i class="hc"></i><i class="hb"></i><i class="ha"></i><i class="gz"></i><i class="gy"></i><i class="gx"></i><i class="gw"></i><i class="gv"></i><i class="gu"></i><i class="gt"></i><i class="gs"></i><i class="gr"></i><i class="gq"></i><i class="gp"></i><i class="go"></i><i class="gn"></i><i class="gm"></i><i class="gl"></i><i class="gk"></i><i class="gj"></i><i class="gi"></i><i class="gh"></i><i class="gg"></i><i class="gf"></i><i class="ge"></i><i class="gd"></i><i class="gc"></i><i class="gb"></i><i class="ga"></i></div>
<div class="p" style="left:222px;top:282px;width:165px;height:78px"><i class="hn"></i><i class="ho"></i><i class="hp"></i><i class="hq"></i><i class="hr"></i><i class="hs"></i><i class="ht"></i><i class="hu"></i><i class="hv"></i><i class="hw"></i><i class="hx"></i><i class="hy"></i><i class="hz"></i><i class="ia"></i><i class="ib"></i><i class="ic"></i><i class="id"></i><i class="ie"></i><i class="if"></i><i class="ig"></i><i class="ih"></i><i class="ii"></i><i class="ij"></i><i class="ik"></i><i class="il"></i><i class="im"></i><i class="in"></i><i class="io"></i><i class="ip"></i><i class="iq"></i><i class="ir"></i><i class="is"></i><i class="it"></i><i class="iu"></i><i class="iv"></i><i class="iw"></i><i class="ix"></i><i class="iy"></i><i class="iz"></i><i class="iz"></i><i class="iy"></i><i class="ix"></i><i class="iw"></i><i class="iv"></i><i class="iu"></i><i class="it"></i><i class="is"></i><i class="ir"></i><i class="iq"></i><i class="ip"></i><i class="io"></i><i class="in"></i><i class="im"></i><i class="il"></i><i class="ik"></i><i class="ij"></i><i class="ii"></i><i class="ih"></i><i class="ig"></i><i class="if"></i><i class="ie"></i><i class="id"></i><i class="ic"></i><i class="ib"></i><i class="ia"></i><i class="hz"></i><i class="hy"></i><i class="hx"></i><i class="hw"></i><i class="hv"></i><i class="hu"></i><i class="ht"></i><i class="hs"></i><i class="hr"></i><i class="hq"></i><i class="hp"></i><i class="ho"></i><i class="hn"></i></div>
<div class="p" style="left:442px;top:282px;width:166px;height:78px;background:linear-gradient(90deg,#8e8ef0,#8dcef6,#8ef5e4,#94f6ac,#c0f691,#f6f684,#f7d881,#f9a57d,#fa807a,#fa7e7a,#fa7e7a,#fa7e7a,#fa807a,#f9a57d,#f7d881,#f6f684,#c0f691,#94f6ac,#8ef5e4,#8dcef6,#8e8ef0,#8dcef6,#8ef5e4,#94f6ac,#c0f691,#f6f684,#f7d881,#f9a57d,#fa807a,#fa7e7a,#fa7e7a,#fa7e7a,#fa807a,#f9a57d,#f7d881,#f6f684,#c0f691,#94f6ac,#8ef5e4,#8dcef6,#8e8ef0,#8dcef6,#8ef5e4,#94f6ac,#c0f691,#f6f684,#f7d881,#f9a57d,#fa807a,#fa7e7a,#fa7e7a,#fa7e7a,#fa807a,#f9a57d,#f7d881,#f6f684,#c0f691,#94f6ac,#8ef5e4,#8dcef6,#8e8ef0,#8dcef6,#8ef5e4,#94f6ac,#c0f691,#f6f684,#f7d881,#f9a57d,#fa807a,#fa7e7a,#fa7e7a,#fa7e7a,#fa807a,#f9a57d,#f7d881,#f6f684,#c0f691,#94f6ac,#8ef5e4,#8dcef6,#8e8ef0)"></div>
<div class="p" style="left:669px;top:282px;width:165px;height:78px;background:linear-gradient(180deg,#8e8ef0,#8daef3,#8dcef6,#8ceef9,#8ef5e4,#91f6c8,#94f6ac,#a1f698,#c0f691,#def68a,#f6f684,#f6f684,#f7d881,#f8bd7f,#f9a57d,#f9917c,#fa807a,#fa7e7a,#fa7e7a,#fa7e7a,#fa7e7a,#fa7e7a,#fa7e7a,#fa7e7a,#fa807a,#f9917c,#f9a57d,#f8bd7f,#f7d881,#f6f684,#f6f684,#def68a,#c0f691,#a1f698,#94f6ac,#91f6c8,#8ef5e4,#8ceef9,#8dcef6,#8daef3,#8e8ef0,#8daef3,#8dcef6,#8ceef9,#8ef5e4,#91f6c8,#94f6ac,#a1f698,#c0f691,#def68a,#f6f684,#f6f684,#f7d881,#f8bd7f,#f9a57d,#f9917c,#fa807a,#fa7e7a,#fa7e7a,#fa7e7a,#fa7e7a,#fa7e7a,#fa7e7a,#fa7e7a,#fa807a,#f9917c,#f9a57d,#f8bd7f,#f7d881,#f6f684,#f6f684,#def68a,#c0f691,#a1f698,#94f6ac,#91f6c8,#8ef5e4,#8ceef9,#8dcef6,#8daef3,#8e8ef0)"></div>
<div class="p" style="left:9px;top:404px;width:165px;height:78px"><i class="ja"></i><i class="jb"></i><i class="jc"></i><i class="jd"></i><i class="je"></i><i class="jf"></i><i class="jg"></i><i class="jh"></i><i class="ji"></i><i class="jj"></i><i class="jk"></i><i class="jl"></i><i class="jm"></i><i class="jn"></i><i class="jo"></i><i class="jp"></i><i class="jq"></i><i class="jr"></i><i class="js"></i><i class="jt"></i><i class="ju"></i><i class="jv"></i><i class="jw"></i><i class="jx"></i><i class="jy"></i><i class="jz"></i><i class="ka"></i><i class="kb"></i><i class="kc"></i><i class="kd"></i><i class="ke"></i><i class="kf"></i><i class="kg"></i><i class="kh"></i><i class="ki"></i><i class="kj"></i><i class="kk"></i><i class="kl"></i><i class="km"></i><i class="km"></i><i class="kl"></i><i class="kk"></i><i class="kj"></i><i class="ki"></i><i class="kh"></i><i class="kg"></i><i class="kf"></i><i class="ke"></i><i class="kd"></i><i class="kc"></i><i class="kb"></i><i class="ka"></i><i class="jz"></i><i class="jy"></i><i class="jx"></i><i class="jw"></i><i class="jv"></i><i class="ju"></i><i class="jt"></i><i class="js"></i><i class="jr"></i><i class="jq"></i><i class="jp"></i><i class="jo"></i><i class="jn"></i><i class="jm"></i><i class="jl"></i><i class="jk"></i><i class="jj"></i><i class="ji"></i><i class="jh"></i><i class="jg"></i><i class="jf"></i><i class="je"></i><i class="jd"></i><i class="jc"></i><i class="jb"></i><i class="ja"></i></div>
<div class="p" style="left:222px;top:404px;width:165px;height:78px"><i class="kn"></i><i class="ko"></i><i class="kp"></i><i class="kq"></i><i class="kr"></i><i class="ks"></i><i class="kt"></i><i class="ku"></i><i class="kv"></i><i class="kw"></i><i class="kx"></i><i class="ky"></i><i class="kz"></i><i class="la"></i><i class="lb"></i><i class="lc"></i><i class="ld"></i><i class="le"></i><i class="lf"></i><i class="lg"></i><i class="lh"></i><i class="li"></i><i class="lj"></i><i class="lk"></i><i class="ll"></i><i class="lm"></i><i class="ln"></i><i class="lo"></i><i class="lp"></i><i class="lq"></i><i class="lr"></i><i class="ls"></i><i class="lt"></i><i class="lu"></i><i class="lv"></i><i class="lw"></i><i class="lx"></i><i class="ly"></i><i class="lz"></i><i class="lz"></i><i class="ly"></i><i class="lx"></i><i class="lw"></i><i class="lv"></i><i class="lu"></i><i class="lt"></i><i class="ls"></i><i class="lr"></i><i class="lq"></i><i class="lp"></i><i class="lo"></i><i class="ln"></i><i class="lm"></i><i class="ll"></i><i class="lk"></i><i class="lj"></i><i class="li"></i><i class="lh"></i><i class="lg"></i><i class="lf"></i><i class="le"></i><i class="ld"></i><i class="lc"></i><i class="lb"></i><i class="la"></i><i class="kz"></i><i class="ky"></i><i class="kx"></i><i class="kw"></i><i class="kv"></i><i class="ku"></i><i class="kt"></i><i class="ks"></i><i class="kr"></i><i class="kq"></i><i class="kp"></i><i class="ko"></i><i class="kn"></i></div>
<div class="p" style="left:442px;top:404px;width:166px;height:78px"><i class="ma"></i><i class="mb"></i><i class="mc"></i><i class="md"></i><i class="me"></i><i class="mf"></i><i class="mg"></i><i class="mh"></i><i class="mi"></i><i class="mj"></i><i class="mk"></i><i class="ml"></i><i class="mm"></i><i class="mn"></i><i class="mo"></i><i class="mp"></i><i class="mq"></i><i class="mr"></i><i class="ms"></i><i class="mt"></i><i class="mu"></i><i class="mv"></i><i class="mw"></i><i class="mx"></i><i class="my"></i><i class="mz"></i><i class="na"></i><i class="nb"></i><i class="nc"></i><i class="nd"></i><i class="ne"></i><i class="nf"></i><i class="ng"></i><i class="nh"></i><i class="ni"></i><i class="nj"></i><i class="nk"></i><i class="nl"></i><i class="nm"></i><i class="nm"></i><i class="nl"></i><i class="nk"></i><i class="nj"></i><i class="ni"></i><i class="nh"></i><i class="ng"></i><i class="nf"></i><i class="ne"></i><i class="nd"></i><i class="nc"></i><i class="nb"></i><i class="na"></i><i class="mz"></i><i class="my"></i><i class="mx"></i><i class="mw"></i><i class="mv"></i><i class="mu"></i><i class="mt"></i><i class="ms"></i><i class="mr"></i><i class="mq"></i><i class="mp"></i><i class="mo"></i><i class="mn"></i><i class="mm"></i><i class="ml"></i><i class="mk"></i><i class="mj"></i><i class="mi"></i><i class="mh"></i><i class="mg"></i><i class="mf"></i><i class="me"></i><i class="md"></i><i class="mc"></i><i class="mb"></i><i class="ma"></i></div>
<div class="p" style="left:669px;top:404px;width:165px;height:78px"><i class="nn"></i><i class="no"></i><i class="np"></i><i class="nq"></i><i class="nr"></i><i class="ns"></i><i class="nt"></i><i class="nu"></i><i class="nv"></i><i class="nw"></i><i class="nx"></i><i class="ny"></i><i class="nz"></i><i class="oa"></i><i class="ob"></i><i class="oc"></i><i class="od"></i><i class="oe"></i><i class="of"></i><i class="og"></i><i class="oh"></i><i class="oi"></i><i class="oj"></i><i class="ok"></i><i class="ol"></i><i class="om"></i><i class="on"></i><i class="oo"></i><i class="op"></i><i class="oq"></i><i class="or"></i><i class="os"></i><i class="ot"></i><i class="ou"></i><i class="ov"></i><i class="ow"></i><i class="ox"></i><i class="oy"></i><i class="oz"></i><i class="oz"></i><i class="oy"></i><i class="ox"></i><i class="ow"></i><i class="ov"></i><i class="ou"></i><i class="ot"></i><i class="os"></i><i class="or"></i><i class="oq"></i><i class="op"></i><i class="oo"></i><i class="on"></i><i class="om"></i><i class="ol"></i><i class="ok"></i><i class="oj"></i><i class="oi"></i><i class="oh"></i><i class="og"></i><i class="of"></i><i class="oe"></i><i class="od"></i><i class="oc"></i><i class="ob"></i><i class="oa"></i><i class="nz"></i><i class="ny"></i><i class="nx"></i><i class="nw"></i><i class="nv"></i><i class="nu"></i><i class="nt"></i><i class="ns"></i><i class="nr"></i><i class="nq"></i><i class="np"></i><i class="no"></i><i class="nn"></i></div>
<svg width="848" height="493" viewBox="0 0 848 493">
<g opacity=".99" font-size="100" stroke="#222" stroke-width=".3"><text transform="translate(73.67 26.60) scale(0.1484 0.1860)" stroke-width="0.35" vector-effect="non-scaling-stroke">TE</text><text transform="translate(93.35 31.20) scale(0.1244 0.1148)" stroke-width="0.15" vector-effect="non-scaling-stroke">10</text>
<text transform="translate(292.17 26.60) scale(0.1484 0.1860)" stroke-width="0.35" vector-effect="non-scaling-stroke">TE</text><text transform="translate(310.99 31.20) scale(0.1417 0.1148)" stroke-width="0.15" vector-effect="non-scaling-stroke">20</text>
<text transform="translate(502.08 26.60) scale(0.1459 0.1860)" stroke-width="0.35" vector-effect="non-scaling-stroke">TE</text><text transform="translate(520.88 31.20) scale(0.1328 0.1148)" stroke-width="0.15" vector-effect="non-scaling-stroke">01</text>
<text transform="translate(728.68 26.60) scale(0.1459 0.1860)" stroke-width="0.35" vector-effect="non-scaling-stroke">TE</text><text transform="translate(747.83 31.20) scale(0.1271 0.1148)" stroke-width="0.15" vector-effect="non-scaling-stroke">11</text>
<text transform="translate(73.18 156.30) scale(0.1910 0.1860)" stroke-width="0.35" vector-effect="non-scaling-stroke">TM</text><text transform="translate(100.77 160.80) scale(0.1221 0.1148)" stroke-width="0.15" vector-effect="non-scaling-stroke">11</text>
<text transform="translate(283.27 156.30) scale(0.1517 0.1860)" stroke-width="0.35" vector-effect="non-scaling-stroke">TE</text><text transform="translate(303.11 160.80) scale(0.1175 0.1148)" stroke-width="0.15" vector-effect="non-scaling-stroke">21</text>
<text transform="translate(501.58 156.30) scale(0.1888 0.1860)" stroke-width="0.35" vector-effect="non-scaling-stroke">TM</text><text transform="translate(529.40 160.80) scale(0.1204 0.1148)" stroke-width="0.15" vector-effect="non-scaling-stroke">21</text>
<text transform="translate(728.48 156.30) scale(0.1467 0.1860)" stroke-width="0.35" vector-effect="non-scaling-stroke">TE</text><text transform="translate(747.71 160.80) scale(0.1295 0.1148)" stroke-width="0.15" vector-effect="non-scaling-stroke">30</text>
<text transform="translate(73.27 277.10) scale(0.1517 0.1860)" stroke-width="0.35" vector-effect="non-scaling-stroke">TE</text><text transform="translate(93.27 281.50) scale(0.1141 0.1148)" stroke-width="0.15" vector-effect="non-scaling-stroke">31</text>
<text transform="translate(283.18 277.10) scale(0.1910 0.1860)" stroke-width="0.35" vector-effect="non-scaling-stroke">TM</text><text transform="translate(310.85 281.50) scale(0.1190 0.1148)" stroke-width="0.15" vector-effect="non-scaling-stroke">31</text>
<text transform="translate(509.76 277.10) scale(0.1525 0.1860)" stroke-width="0.35" vector-effect="non-scaling-stroke">TE</text><text transform="translate(529.29 281.50) scale(0.1343 0.1148)" stroke-width="0.15" vector-effect="non-scaling-stroke">40</text>
<text transform="translate(728.48 277.10) scale(0.1467 0.1860)" stroke-width="0.35" vector-effect="non-scaling-stroke">TE</text><text transform="translate(747.32 281.50) scale(0.1232 0.1148)" stroke-width="0.15" vector-effect="non-scaling-stroke">02</text>
<text transform="translate(73.27 398.50) scale(0.1517 0.1860)" stroke-width="0.35" vector-effect="non-scaling-stroke">TE</text><text transform="translate(93.41 403.10) scale(0.1166 0.1148)" stroke-width="0.15" vector-effect="non-scaling-stroke">12</text>
<text transform="translate(283.18 398.50) scale(0.1910 0.1860)" stroke-width="0.35" vector-effect="non-scaling-stroke">TM</text><text transform="translate(310.74 403.10) scale(0.1258 0.1148)" stroke-width="0.15" vector-effect="non-scaling-stroke">12</text>
<text transform="translate(509.76 398.50) scale(0.1525 0.1860)" stroke-width="0.35" vector-effect="non-scaling-stroke">TE</text><text transform="translate(529.53 403.10) scale(0.1192 0.1148)" stroke-width="0.15" vector-effect="non-scaling-stroke">41</text>
<text transform="translate(735.94 398.50) scale(0.1862 0.1860)" stroke-width="0.35" vector-effect="non-scaling-stroke">TM</text><text transform="translate(763.53 403.10) scale(0.1188 0.1148)" stroke-width="0.15" vector-effect="non-scaling-stroke">41</text>
</g>
<defs><filter id="bl" x="0" y="0" width="848" height="493" filterUnits="userSpaceOnUse"><feGaussianBlur stdDeviation=".8"/></filter>
<g id="ar">
<g id="h0"><path fill="#58e5e8" d="M22.6 115.9l.9 0 -.4 -1.1zM22.6 111.4l.9 0 -.4 -1.1zM22.6 106.8l.9 0 -.4 -1.1zM22.6 102.3l.9 0 -.4 -1.1zM22.6 97.8l.9 0 -.4 -1.1zM22.6 93.3l.9 0 -.4 -1.1zM22.6 88.7l.9 0 -.4 -1.1zM22.6 84.2l.9 0 -.4 -1.1zM22.6 79.7l.9 0 -.4 -1.1zM22.6 75.1l.9 0 -.4 -1.1zM22.6 70.6l.9 0 -.4 -1.1zM22.6 66.1l.9 0 -.4 -1.1zM22.6 61.5l.9 0 -.4 -1.1zM22.6 57l.9 0 -.4 -1.1zM22.6 52.5l.9 0 -.4 -1.1zM22.6 48l.9 0 -.4 -1.1zM22.6 43.4l.9 0 -.4 -1.1zM22.6 38.9l.9 0 -.4 -1.1z"/><path fill="#57e4c0" d="M27.1 115.9l1 0 -.5 -1.4zM27.1 111.4l1 0 -.5 -1.4zM27.1 106.8l1 0 -.5 -1.4zM27.1 102.3l1 0 -.5 -1.4zM27.1 97.8l1 0 -.5 -1.4zM27.1 93.3l1 0 -.5 -1.4zM27.1 88.7l1 0 -.5 -1.4zM27.1 84.2l1 0 -.5 -1.4zM27.1 79.7l1 0 -.5 -1.4zM27.1 75.1l1 0 -.5 -1.4zM27.1 70.6l1 0 -.5 -1.4zM27.1 66.1l1 0 -.5 -1.4zM27.1 61.5l1 0 -.5 -1.4zM27.1 57l1 0 -.5 -1.4zM27.1 52.5l1 0 -.5 -1.4zM27.1 48l1 0 -.5 -1.4zM27.1 43.4l1 0 -.5 -1.4zM27.1 38.9l1 0 -.5 -1.4z"/><path fill="#4fe291" d="M31.6 115.9l1.1 0 -.6 -1.8zM31.6 111.4l1.1 0 -.6 -1.8zM31.6 106.8l1.1 0 -.6 -1.8zM31.6 102.3l1.1 0 -.6 -1.8zM31.6 97.8l1.1 0 -.6 -1.8zM31.6 93.3l1.1 0 -.6 -1.8zM31.6 88.7l1.1 0 -.6 -1.8zM31.6 84.2l1.1 0 -.6 -1.8zM31.6 79.7l1.1 0 -.6 -1.8zM31.6 75.1l1.1 0 -.6 -1.8zM31.6 70.6l1.1 0 -.6 -1.8zM31.6 66.1l1.1 0 -.6 -1.8zM31.6 61.5l1.1 0 -.6 -1.8zM31.6 57l1.1 0 -.6 -1.8zM31.6 52.5l1.1 0 -.6 -1.8zM31.6 48l1.1 0 -.6 -1.8zM31.6 43.4l1.1 0 -.6 -1.8zM31.6 38.9l1.1 0 -.6 -1.8z"/><path fill="#47df5f" d="M36.1 115.9l1.3 0 -.6 -2.1zM36.1 111.4l1.3 0 -.6 -2.1zM36.1 106.8l1.3 0 -.6 -2.1zM36.1 102.3l1.3 0 -.6 -2.1zM36.1 97.8l1.3 0 -.6 -2.1zM36.1 93.3l1.3 0 -.6 -2.1zM36.1 88.7l1.3 0 -.6 -2.1zM36.1 84.2l1.3 0 -.6 -2.1zM36.1 79.7l1.3 0 -.6 -2.1zM36.1 75.1l1.3 0 -.6 -2.1zM36.1 70.6l1.3 0 -.6 -2.1zM36.1 66.1l1.3 0 -.6 -2.1zM36.1 61.5l1.3 0 -.6 -2.1zM36.1 57l1.3 0 -.6 -2.1zM36.1 52.5l1.3 0 -.6 -2.1zM36.1 48l1.3 0 -.6 -2.1zM36.1 43.4l1.3 0 -.6 -2.1zM36.1 38.9l1.3 0 -.6 -2.1z"/><path fill="#8cda32" d="M40.6 115.9l1.4 0 -.7 -2.4zM45.1 115.9l1.5 0 -.8 -2.7zM40.6 111.4l1.4 0 -.7 -2.4zM45.1 111.4l1.5 0 -.8 -2.7zM40.6 106.8l1.4 0 -.7 -2.4zM45.1 106.8l1.5 0 -.8 -2.7zM40.6 102.3l1.4 0 -.7 -2.4zM45.1 102.3l1.5 0 -.8 -2.7zM40.6 97.8l1.4 0 -.7 -2.4zM45.1 97.8l1.5 0 -.8 -2.7zM40.6 93.3l1.4 0 -.7 -2.4zM45.1 93.3l1.5 0 -.8 -2.7zM40.6 88.7l1.4 0 -.7 -2.4zM45.1 88.7l1.5 0 -.8 -2.7zM40.6 84.2l1.4 0 -.7 -2.4zM45.1 84.2l1.5 0 -.8 -2.7zM40.6 79.7l1.4 0 -.7 -2.4zM45.1 79.7l1.5 0 -.8 -2.7zM40.6 75.1l1.4 0 -.7 -2.4zM45.1 75.1l1.5 0 -.8 -2.7zM40.6 70.6l1.4 0 -.7 -2.4zM45.1 70.6l1.5 0 -.8 -2.7zM40.6 66.1l1.4 0 -.7 -2.4zM45.1 66.1l1.5 0 -.8 -2.7zM40.6 61.5l1.4 0 -.7 -2.4zM45.1 61.5l1.5 0 -.8 -2.7zM40.6 57l1.4 0 -.7 -2.4zM45.1 57l1.5 0 -.8 -2.7zM40.6 52.5l1.4 0 -.7 -2.4zM45.1 52.5l1.5 0 -.8 -2.7zM40.6 48l1.4 0 -.7 -2.4zM45.1 48l1.5 0 -.8 -2.7zM40.6 43.4l1.4 0 -.7 -2.4zM45.1 43.4l1.5 0 -.8 -2.7zM40.6 38.9l1.4 0 -.7 -2.4zM45.1 38.9l1.5 0 -.8 -2.7z"/><path fill="#c4d728" d="M49.6 115.9l1.6 0 -.8 -3zM49.6 111.4l1.6 0 -.8 -3zM49.6 106.8l1.6 0 -.8 -3zM49.6 102.3l1.6 0 -.8 -3zM49.6 97.8l1.6 0 -.8 -3zM49.6 93.3l1.6 0 -.8 -3zM49.6 88.7l1.6 0 -.8 -3zM49.6 84.2l1.6 0 -.8 -3zM49.6 79.7l1.6 0 -.8 -3zM49.6 75.1l1.6 0 -.8 -3zM49.6 70.6l1.6 0 -.8 -3zM49.6 66.1l1.6 0 -.8 -3zM49.6 61.5l1.6 0 -.8 -3zM49.6 57l1.6 0 -.8 -3zM49.6 52.5l1.6 0 -.8 -3zM49.6 48l1.6 0 -.8 -3zM49.6 43.4l1.6 0 -.8 -3zM49.6 38.9l1.6 0 -.8 -3z"/><path fill="#d4d41f" d="M54.1 115.9l1.7 0 -.9 -3.2zM54.1 111.4l1.7 0 -.9 -3.2zM54.1 106.8l1.7 0 -.9 -3.2zM54.1 102.3l1.7 0 -.9 -3.2zM54.1 97.8l1.7 0 -.9 -3.2zM54.1 93.3l1.7 0 -.9 -3.2zM54.1 88.7l1.7 0 -.9 -3.2zM54.1 84.2l1.7 0 -.9 -3.2zM54.1 79.7l1.7 0 -.9 -3.2zM54.1 75.1l1.7 0 -.9 -3.2zM54.1 70.6l1.7 0 -.9 -3.2zM54.1 66.1l1.7 0 -.9 -3.2zM54.1 61.5l1.7 0 -.9 -3.2zM54.1 57l1.7 0 -.9 -3.2zM54.1 52.5l1.7 0 -.9 -3.2zM54.1 48l1.7 0 -.9 -3.2zM54.1 43.4l1.7 0 -.9 -3.2zM54.1 38.9l1.7 0 -.9 -3.2z"/><path fill="#d29819" d="M58.7 115.9l1.8 0 -.9 -3.4zM58.7 111.4l1.8 0 -.9 -3.4zM58.7 106.8l1.8 0 -.9 -3.4zM58.7 102.3l1.8 0 -.9 -3.4zM58.7 97.8l1.8 0 -.9 -3.4zM58.7 93.3l1.8 0 -.9 -3.4zM58.7 88.7l1.8 0 -.9 -3.4zM58.7 84.2l1.8 0 -.9 -3.4zM58.7 79.7l1.8 0 -.9 -3.4zM58.7 75.1l1.8 0 -.9 -3.4zM58.7 70.6l1.8 0 -.9 -3.4zM58.7 66.1l1.8 0 -.9 -3.4zM58.7 61.5l1.8 0 -.9 -3.4zM58.7 57l1.8 0 -.9 -3.4zM58.7 52.5l1.8 0 -.9 -3.4zM58.7 48l1.8 0 -.9 -3.4zM58.7 43.4l1.8 0 -.9 -3.4zM58.7 38.9l1.8 0 -.9 -3.4z"/><path fill="#d25419" d="M63.2 115.9l1.9 0 -.9 -3.6zM67.7 115.9l2 0 -1 -3.8zM63.2 111.4l1.9 0 -.9 -3.6zM67.7 111.4l2 0 -1 -3.8zM63.2 106.8l1.9 0 -.9 -3.6zM67.7 106.8l2 0 -1 -3.8zM63.2 102.3l1.9 0 -.9 -3.6zM67.7 102.3l2 0 -1 -3.8zM63.2 97.8l1.9 0 -.9 -3.6zM67.7 97.8l2 0 -1 -3.8zM63.2 93.3l1.9 0 -.9 -3.6zM67.7 93.3l2 0 -1 -3.8zM63.2 88.7l1.9 0 -.9 -3.6zM67.7 88.7l2 0 -1 -3.8zM63.2 84.2l1.9 0 -.9 -3.6zM67.7 84.2l2 0 -1 -3.8zM63.2 79.7l1.9 0 -.9 -3.6zM67.7 79.7l2 0 -1 -3.8zM63.2 75.1l1.9 0 -.9 -3.6zM67.7 75.1l2 0 -1 -3.8zM63.2 70.6l1.9 0 -.9 -3.6zM67.7 70.6l2 0 -1 -3.8zM63.2 66.1l1.9 0 -.9 -3.6zM67.7 66.1l2 0 -1 -3.8zM63.2 61.5l1.9 0 -.9 -3.6zM67.7 61.5l2 0 -1 -3.8zM63.2 57l1.9 0 -.9 -3.6zM67.7 57l2 0 -1 -3.8zM63.2 52.5l1.9 0 -.9 -3.6zM67.7 52.5l2 0 -1 -3.8zM63.2 48l1.9 0 -.9 -3.6zM67.7 48l2 0 -1 -3.8zM63.2 43.4l1.9 0 -.9 -3.6zM67.7 43.4l2 0 -1 -3.8zM63.2 38.9l1.9 0 -.9 -3.6zM67.7 38.9l2 0 -1 -3.8z"/><path fill="#d21919" d="M72.3 115.9l2 0 -1 -3.9zM76.8 115.9l2.1 0 -1 -4.1zM81.4 115.9l2.1 0 -1 -4.1zM85.9 115.9l2.1 0 -1.1 -4.2zM72.3 111.4l2 0 -1 -3.9zM76.8 111.4l2.1 0 -1 -4.1zM81.4 111.4l2.1 0 -1 -4.1zM85.9 111.4l2.1 0 -1.1 -4.2zM72.3 106.8l2 0 -1 -3.9zM76.8 106.8l2.1 0 -1 -4.1zM81.4 106.8l2.1 0 -1 -4.1zM85.9 106.8l2.1 0 -1.1 -4.2zM72.3 102.3l2 0 -1 -3.9zM76.8 102.3l2.1 0 -1 -4.1zM81.4 102.3l2.1 0 -1 -4.1zM85.9 102.3l2.1 0 -1.1 -4.2zM72.3 97.8l2 0 -1 -3.9zM76.8 97.8l2.1 0 -1 -4.1zM81.4 97.8l2.1 0 -1 -4.1zM85.9 97.8l2.1 0 -1.1 -4.2zM72.3 93.3l2 0 -1 -3.9zM76.8 93.3l2.1 0 -1 -4.1zM81.4 93.3l2.1 0 -1 -4.1zM85.9 93.3l2.1 0 -1.1 -4.2zM72.3 88.7l2 0 -1 -3.9zM76.8 88.7l2.1 0 -1 -4.1zM81.4 88.7l2.1 0 -1 -4.1zM85.9 88.7l2.1 0 -1.1 -4.2zM72.3 84.2l2 0 -1 -3.9zM76.8 84.2l2.1 0 -1 -4.1zM81.4 84.2l2.1 0 -1 -4.1zM85.9 84.2l2.1 0 -1.1 -4.2zM72.3 79.7l2 0 -1 -3.9zM76.8 79.7l2.1 0 -1 -4.1zM81.4 79.7l2.1 0 -1 -4.1zM85.9 79.7l2.1 0 -1.1 -4.2zM72.3 75.1l2 0 -1 -3.9zM76.8 75.1l2.1 0 -1 -4.1zM81.4 75.1l2.1 0 -1 -4.1zM85.9 75.1l2.1 0 -1.1 -4.2zM72.3 70.6l2 0 -1 -3.9zM76.8 70.6l2.1 0 -1 -4.1zM81.4 70.6l2.1 0 -1 -4.1zM85.9 70.6l2.1 0 -1.1 -4.2zM72.3 66.1l2 0 -1 -3.9zM76.8 66.1l2.1 0 -1 -4.1zM81.4 66.1l2.1 0 -1 -4.1zM85.9 66.1l2.1 0 -1.1 -4.2zM72.3 61.5l2 0 -1 -3.9zM76.8 61.5l2.1 0 -1 -4.1zM81.4 61.5l2.1 0 -1 -4.1zM85.9 61.5l2.1 0 -1.1 -4.2zM72.3 57l2 0 -1 -3.9zM76.8 57l2.1 0 -1 -4.1zM81.4 57l2.1 0 -1 -4.1zM85.9 57l2.1 0 -1.1 -4.2zM72.3 52.5l2 0 -1 -3.9zM76.8 52.5l2.1 0 -1 -4.1zM81.4 52.5l2.1 0 -1 -4.1zM85.9 52.5l2.1 0 -1.1 -4.2zM72.3 48l2 0 -1 -3.9zM76.8 48l2.1 0 -1 -4.1zM81.4 48l2.1 0 -1 -4.1zM85.9 48l2.1 0 -1.1 -4.2zM72.3 43.4l2 0 -1 -3.9zM76.8 43.4l2.1 0 -1 -4.1zM81.4 43.4l2.1 0 -1 -4.1zM85.9 43.4l2.1 0 -1.1 -4.2zM72.3 38.9l2 0 -1 -3.9zM76.8 38.9l2.1 0 -1 -4.1zM81.4 38.9l2.1 0 -1 -4.1zM85.9 38.9l2.1 0 -1.1 -4.2z"/></g><use href="#h0" transform="matrix(-1 0 0 1 183.1 0)"/><path fill="#d21919" d="M90.5 115.9l2.1 0 -1.1 -4.2zM90.5 111.4l2.1 0 -1.1 -4.2zM90.5 106.8l2.1 0 -1.1 -4.2zM90.5 102.3l2.1 0 -1.1 -4.2zM90.5 97.8l2.1 0 -1.1 -4.2zM90.5 93.3l2.1 0 -1.1 -4.2zM90.5 88.7l2.1 0 -1.1 -4.2zM90.5 84.2l2.1 0 -1.1 -4.2zM90.5 79.7l2.1 0 -1.1 -4.2zM90.5 75.1l2.1 0 -1.1 -4.2zM90.5 70.6l2.1 0 -1.1 -4.2zM90.5 66.1l2.1 0 -1.1 -4.2zM90.5 61.5l2.1 0 -1.1 -4.2zM90.5 57l2.1 0 -1.1 -4.2zM90.5 52.5l2.1 0 -1.1 -4.2zM90.5 48l2.1 0 -1.1 -4.2zM90.5 43.4l2.1 0 -1.1 -4.2zM90.5 38.9l2.1 0 -1.1 -4.2z"/>
<g id="h1"><path fill="#57e4c0" d="M231 115.9l1 0 -.5 -1.4zM295 115.9l1 0 -.5 -1.4zM314.3 115.9l-1 0 .5 1.4zM378.3 115.9l-1 0 .5 1.4zM231 111.4l1 0 -.5 -1.4zM295 111.4l1 0 -.5 -1.4zM314.3 111.4l-1 0 .5 1.4zM378.3 111.4l-1 0 .5 1.4zM231 106.8l1 0 -.5 -1.4zM295 106.8l1 0 -.5 -1.4zM314.3 106.8l-1 0 .5 1.4zM378.3 106.8l-1 0 .5 1.4zM231 102.3l1 0 -.5 -1.4zM295 102.3l1 0 -.5 -1.4zM314.3 102.3l-1 0 .5 1.4zM378.3 102.3l-1 0 .5 1.4zM231 97.8l1 0 -.5 -1.4zM295 97.8l1 0 -.5 -1.4zM314.3 97.8l-1 0 .5 1.4zM378.3 97.8l-1 0 .5 1.4zM231 93.3l1 0 -.5 -1.4zM295 93.3l1 0 -.5 -1.4zM314.3 93.3l-1 0 .5 1.4zM378.3 93.3l-1 0 .5 1.4zM231 88.7l1 0 -.5 -1.4zM295 88.7l1 0 -.5 -1.4zM314.3 88.7l-1 0 .5 1.4zM378.3 88.7l-1 0 .5 1.4zM231 84.2l1 0 -.5 -1.4zM295 84.2l1 0 -.5 -1.4zM314.3 84.2l-1 0 .5 1.4zM378.3 84.2l-1 0 .5 1.4zM231 79.7l1 0 -.5 -1.4zM295 79.7l1 0 -.5 -1.4zM314.3 79.7l-1 0 .5 1.4zM378.3 79.7l-1 0 .5 1.4z"/><path fill="#47df5f" d="M235.5 115.9l1.3 0 -.6 -2.1zM290.3 115.9l1.3 0 -.6 -2.1zM235.5 111.4l1.3 0 -.6 -2.1zM290.3 111.4l1.3 0 -.6 -2.1zM235.5 106.8l1.3 0 -.6 -2.1zM290.3 106.8l1.3 0 -.6 -2.1zM235.5 102.3l1.3 0 -.6 -2.1zM290.3 102.3l1.3 0 -.6 -2.1zM235.5 97.8l1.3 0 -.6 -2.1zM290.3 97.8l1.3 0 -.6 -2.1zM235.5 93.3l1.3 0 -.6 -2.1zM290.3 93.3l1.3 0 -.6 -2.1zM235.5 88.7l1.3 0 -.6 -2.1zM290.3 88.7l1.3 0 -.6 -2.1zM235.5 84.2l1.3 0 -.6 -2.1zM290.3 84.2l1.3 0 -.6 -2.1zM235.5 79.7l1.3 0 -.6 -2.1zM290.3 79.7l1.3 0 -.6 -2.1z"/><path fill="#5adc3e" d="M319 115.9l-1.3 0 .6 2.1zM373.8 115.9l-1.3 0 .6 2.1zM319 111.4l-1.3 0 .6 2.1zM373.8 111.4l-1.3 0 .6 2.1zM319 106.8l-1.3 0 .6 2.1zM373.8 106.8l-1.3 0 .6 2.1zM319 102.3l-1.3 0 .6 2.1zM373.8 102.3l-1.3 0 .6 2.1zM319 97.8l-1.3 0 .6 2.1zM373.8 97.8l-1.3 0 .6 2.1zM319 93.3l-1.3 0 .6 2.1zM373.8 93.3l-1.3 0 .6 2.1zM319 88.7l-1.3 0 .6 2.1zM373.8 88.7l-1.3 0 .6 2.1zM319 84.2l-1.3 0 .6 2.1zM373.8 84.2l-1.3 0 .6 2.1zM319 79.7l-1.3 0 .6 2.1zM373.8 79.7l-1.3 0 .6 2.1z"/><path fill="#8cda32" d="M239.9 115.9l1.5 0 -.8 -2.7zM285.6 115.9l1.5 0 -.8 -2.7zM323.7 115.9l-1.5 0 .8 2.7zM369.4 115.9l-1.5 0 .8 2.7zM239.9 111.4l1.5 0 -.8 -2.7zM285.6 111.4l1.5 0 -.8 -2.7zM323.7 111.4l-1.5 0 .8 2.7zM369.4 111.4l-1.5 0 .8 2.7zM239.9 106.8l1.5 0 -.8 -2.7zM285.6 106.8l1.5 0 -.8 -2.7zM323.7 106.8l-1.5 0 .8 2.7zM369.4 106.8l-1.5 0 .8 2.7zM239.9 102.3l1.5 0 -.8 -2.7zM285.6 102.3l1.5 0 -.8 -2.7zM323.7 102.3l-1.5 0 .8 2.7zM369.4 102.3l-1.5 0 .8 2.7zM239.9 97.8l1.5 0 -.8 -2.7zM285.6 97.8l1.5 0 -.8 -2.7zM323.7 97.8l-1.5 0 .8 2.7zM369.4 97.8l-1.5 0 .8 2.7zM239.9 93.3l1.5 0 -.8 -2.7zM285.6 93.3l1.5 0 -.8 -2.7zM323.7 93.3l-1.5 0 .8 2.7zM369.4 93.3l-1.5 0 .8 2.7zM239.9 88.7l1.5 0 -.8 -2.7zM285.6 88.7l1.5 0 -.8 -2.7zM323.7 88.7l-1.5 0 .8 2.7zM369.4 88.7l-1.5 0 .8 2.7zM239.9 84.2l1.5 0 -.8 -2.7zM285.6 84.2l1.5 0 -.8 -2.7zM323.7 84.2l-1.5 0 .8 2.7zM369.4 84.2l-1.5 0 .8 2.7zM239.9 79.7l1.5 0 -.8 -2.7zM285.6 79.7l1.5 0 -.8 -2.7zM323.7 79.7l-1.5 0 .8 2.7zM369.4 79.7l-1.5 0 .8 2.7z"/><path fill="#d4d41f" d="M244.4 115.9l1.7 0 -.9 -3.2zM280.9 115.9l1.7 0 -.9 -3.2zM328.4 115.9l-1.7 0 .9 3.2zM364.9 115.9l-1.7 0 .9 3.2zM244.4 111.4l1.7 0 -.9 -3.2zM280.9 111.4l1.7 0 -.9 -3.2zM328.4 111.4l-1.7 0 .9 3.2zM364.9 111.4l-1.7 0 .9 3.2zM244.4 106.8l1.7 0 -.9 -3.2zM280.9 106.8l1.7 0 -.9 -3.2zM328.4 106.8l-1.7 0 .9 3.2zM364.9 106.8l-1.7 0 .9 3.2zM244.4 102.3l1.7 0 -.9 -3.2zM280.9 102.3l1.7 0 -.9 -3.2zM328.4 102.3l-1.7 0 .9 3.2zM364.9 102.3l-1.7 0 .9 3.2zM244.4 97.8l1.7 0 -.9 -3.2zM280.9 97.8l1.7 0 -.9 -3.2zM328.4 97.8l-1.7 0 .9 3.2zM364.9 97.8l-1.7 0 .9 3.2zM244.4 93.3l1.7 0 -.9 -3.2zM280.9 93.3l1.7 0 -.9 -3.2zM328.4 93.3l-1.7 0 .9 3.2zM364.9 93.3l-1.7 0 .9 3.2zM244.4 88.7l1.7 0 -.9 -3.2zM280.9 88.7l1.7 0 -.9 -3.2zM328.4 88.7l-1.7 0 .9 3.2zM364.9 88.7l-1.7 0 .9 3.2zM244.4 84.2l1.7 0 -.9 -3.2zM280.9 84.2l1.7 0 -.9 -3.2zM328.4 84.2l-1.7 0 .9 3.2zM364.9 84.2l-1.7 0 .9 3.2zM244.4 79.7l1.7 0 -.9 -3.2zM280.9 79.7l1.7 0 -.9 -3.2zM328.4 79.7l-1.7 0 .9 3.2zM364.9 79.7l-1.7 0 .9 3.2z"/><path fill="#d25419" d="M248.9 115.9l1.9 0 -.9 -3.6zM276.3 115.9l1.9 0 -.9 -3.6zM333 115.9l-1.9 0 .9 3.6zM360.4 115.9l-1.9 0 .9 3.6zM248.9 111.4l1.9 0 -.9 -3.6zM276.3 111.4l1.9 0 -.9 -3.6zM333 111.4l-1.9 0 .9 3.6zM360.4 111.4l-1.9 0 .9 3.6zM248.9 106.8l1.9 0 -.9 -3.6zM276.3 106.8l1.9 0 -.9 -3.6zM333 106.8l-1.9 0 .9 3.6zM360.4 106.8l-1.9 0 .9 3.6zM248.9 102.3l1.9 0 -.9 -3.6zM276.3 102.3l1.9 0 -.9 -3.6zM333 102.3l-1.9 0 .9 3.6zM360.4 102.3l-1.9 0 .9 3.6zM248.9 97.8l1.9 0 -.9 -3.6zM276.3 97.8l1.9 0 -.9 -3.6zM333 97.8l-1.9 0 .9 3.6zM360.4 97.8l-1.9 0 .9 3.6zM248.9 93.3l1.9 0 -.9 -3.6zM276.3 93.3l1.9 0 -.9 -3.6zM333 93.3l-1.9 0 .9 3.6zM360.4 93.3l-1.9 0 .9 3.6zM248.9 88.7l1.9 0 -.9 -3.6zM276.3 88.7l1.9 0 -.9 -3.6zM333 88.7l-1.9 0 .9 3.6zM360.4 88.7l-1.9 0 .9 3.6zM248.9 84.2l1.9 0 -.9 -3.6zM276.3 84.2l1.9 0 -.9 -3.6zM333 84.2l-1.9 0 .9 3.6zM360.4 84.2l-1.9 0 .9 3.6zM248.9 79.7l1.9 0 -.9 -3.6zM276.3 79.7l1.9 0 -.9 -3.6zM333 79.7l-1.9 0 .9 3.6zM360.4 79.7l-1.9 0 .9 3.6z"/><path fill="#d21919" d="M253.4 115.9l2 0 -1 -3.9zM257.9 115.9l2.1 0 -1 -4.1zM262.5 115.9l2.1 0 -1.1 -4.2zM267 115.9l2.1 0 -1 -4.1zM271.7 115.9l2 0 -1 -3.9zM337.6 115.9l-2 0 1 3.9zM342.3 115.9l-2.1 0 1 4.1zM346.8 115.9l-2.1 0 1.1 4.2zM351.4 115.9l-2.1 0 1 4.1zM355.9 115.9l-2 0 1 3.9zM253.4 111.4l2 0 -1 -3.9zM257.9 111.4l2.1 0 -1 -4.1zM262.5 111.4l2.1 0 -1.1 -4.2zM267 111.4l2.1 0 -1 -4.1zM271.7 111.4l2 0 -1 -3.9zM337.6 111.4l-2 0 1 3.9zM342.3 111.4l-2.1 0 1 4.1zM346.8 111.4l-2.1 0 1.1 4.2zM351.4 111.4l-2.1 0 1 4.1zM355.9 111.4l-2 0 1 3.9zM253.4 106.8l2 0 -1 -3.9zM257.9 106.8l2.1 0 -1 -4.1zM262.5 106.8l2.1 0 -1.1 -4.2zM267 106.8l2.1 0 -1 -4.1zM271.7 106.8l2 0 -1 -3.9zM337.6 106.8l-2 0 1 3.9zM342.3 106.8l-2.1 0 1 4.1zM346.8 106.8l-2.1 0 1.1 4.2zM351.4 106.8l-2.1 0 1 4.1zM355.9 106.8l-2 0 1 3.9zM253.4 102.3l2 0 -1 -3.9zM257.9 102.3l2.1 0 -1 -4.1zM262.5 102.3l2.1 0 -1.1 -4.2zM267 102.3l2.1 0 -1 -4.1zM271.7 102.3l2 0 -1 -3.9zM337.6 102.3l-2 0 1 3.9zM342.3 102.3l-2.1 0 1 4.1zM346.8 102.3l-2.1 0 1.1 4.2zM351.4 102.3l-2.1 0 1 4.1zM355.9 102.3l-2 0 1 3.9zM253.4 97.8l2 0 -1 -3.9zM257.9 97.8l2.1 0 -1 -4.1zM262.5 97.8l2.1 0 -1.1 -4.2zM267 97.8l2.1 0 -1 -4.1zM271.7 97.8l2 0 -1 -3.9zM337.6 97.8l-2 0 1 3.9zM342.3 97.8l-2.1 0 1 4.1zM346.8 97.8l-2.1 0 1.1 4.2zM351.4 97.8l-2.1 0 1 4.1zM355.9 97.8l-2 0 1 3.9zM253.4 93.3l2 0 -1 -3.9zM257.9 93.3l2.1 0 -1 -4.1zM262.5 93.3l2.1 0 -1.1 -4.2zM267 93.3l2.1 0 -1 -4.1zM271.7 93.3l2 0 -1 -3.9zM337.6 93.3l-2 0 1 3.9zM342.3 93.3l-2.1 0 1 4.1zM346.8 93.3l-2.1 0 1.1 4.2zM351.4 93.3l-2.1 0 1 4.1zM355.9 93.3l-2 0 1 3.9zM253.4 88.7l2 0 -1 -3.9zM257.9 88.7l2.1 0 -1 -4.1zM262.5 88.7l2.1 0 -1.1 -4.2zM267 88.7l2.1 0 -1 -4.1zM271.7 88.7l2 0 -1 -3.9zM337.6 88.7l-2 0 1 3.9zM342.3 88.7l-2.1 0 1 4.1zM346.8 88.7l-2.1 0 1.1 4.2zM351.4 88.7l-2.1 0 1 4.1zM355.9 88.7l-2 0 1 3.9zM253.4 84.2l2 0 -1 -3.9zM257.9 84.2l2.1 0 -1 -4.1zM262.5 84.2l2.1 0 -1.1 -4.2zM267 84.2l2.1 0 -1 -4.1zM271.7 84.2l2 0 -1 -3.9zM337.6 84.2l-2 0 1 3.9zM342.3 84.2l-2.1 0 1 4.1zM346.8 84.2l-2.1 0 1.1 4.2zM351.4 84.2l-2.1 0 1 4.1zM355.9 84.2l-2 0 1 3.9zM253.4 79.7l2 0 -1 -3.9zM257.9 79.7l2.1 0 -1 -4.1zM262.5 79.7l2.1 0 -1.1 -4.2zM267 79.7l2.1 0 -1 -4.1zM271.7 79.7l2 0 -1 -3.9zM337.6 79.7l-2 0 1 3.9zM342.3 79.7l-2.1 0 1 4.1zM346.8 79.7l-2.1 0 1.1 4.2zM351.4 79.7l-2.1 0 1 4.1zM355.9 79.7l-2 0 1 3.9z"/></g><use href="#h1" transform="matrix(-1 0 0 -1 609.3 154.8)"/>
<g id="h2"><path fill="#4fe291" d="M442.9 106.3l0 1 1.5 -.5zM447.5 106.3l0 1 1.5 -.5zM452 106.3l0 1 1.5 -.5zM456.6 106.3l0 1 1.5 -.5zM461.2 106.3l0 1 1.5 -.5zM465.7 106.3l0 1 1.5 -.5zM470.3 106.3l0 1 1.5 -.5zM474.9 106.3l0 1 1.5 -.5zM479.5 106.3l0 1 1.5 -.5zM484 106.3l0 1 1.5 -.5zM488.6 106.3l0 1 1.5 -.5zM493.2 106.3l0 1 1.5 -.5zM497.7 106.3l0 1 1.5 -.5zM502.3 106.3l0 1 1.5 -.5zM506.9 106.3l0 1 1.5 -.5zM511.4 106.3l0 1 1.5 -.5zM516 106.3l0 1 1.5 -.5zM520.6 106.3l0 1 1.5 -.5zM525.2 106.3l0 1 1.5 -.5zM529.7 106.3l0 1 1.5 -.5zM534.3 106.3l0 1 1.5 -.5zM538.9 106.3l0 1 1.5 -.5zM543.4 106.3l0 1 1.5 -.5zM548 106.3l0 1 1.5 -.5zM552.6 106.3l0 1 1.5 -.5zM557.1 106.3l0 1 1.5 -.5zM561.7 106.3l0 1 1.5 -.5zM566.3 106.3l0 1 1.5 -.5zM570.8 106.3l0 1 1.5 -.5zM575.4 106.3l0 1 1.5 -.5zM580 106.3l0 1 1.5 -.5zM584.6 106.3l0 1 1.5 -.5zM589.1 106.3l0 1 1.5 -.5zM593.7 106.3l0 1 1.5 -.5zM598.3 106.3l0 1 1.5 -.5zM602.8 106.3l0 1 1.5 -.5zM607.4 106.3l0 1 1.5 -.5z"/><path fill="#5adc3e" d="M442.9 101.6l0 1.3 2.2 -.7zM447.5 101.6l0 1.3 2.2 -.7zM452 101.6l0 1.3 2.2 -.7zM456.6 101.6l0 1.3 2.2 -.7zM461.2 101.6l0 1.3 2.2 -.7zM465.7 101.6l0 1.3 2.2 -.7zM470.3 101.6l0 1.3 2.2 -.7zM474.9 101.6l0 1.3 2.2 -.7zM479.5 101.6l0 1.3 2.2 -.7zM484 101.6l0 1.3 2.2 -.7zM488.6 101.6l0 1.3 2.2 -.7zM493.2 101.6l0 1.3 2.2 -.7zM497.7 101.6l0 1.3 2.2 -.7zM502.3 101.6l0 1.3 2.2 -.7zM506.9 101.6l0 1.3 2.2 -.7zM511.4 101.6l0 1.3 2.2 -.7zM516 101.6l0 1.3 2.2 -.7zM520.6 101.6l0 1.3 2.2 -.7zM525.2 101.6l0 1.3 2.2 -.7zM529.7 101.6l0 1.3 2.2 -.7zM534.3 101.6l0 1.3 2.2 -.7zM538.9 101.6l0 1.3 2.2 -.7zM543.4 101.6l0 1.3 2.2 -.7zM548 101.6l0 1.3 2.2 -.7zM552.6 101.6l0 1.3 2.2 -.7zM557.1 101.6l0 1.3 2.2 -.7zM561.7 101.6l0 1.3 2.2 -.7zM566.3 101.6l0 1.3 2.2 -.7zM570.8 101.6l0 1.3 2.2 -.7zM575.4 101.6l0 1.3 2.2 -.7zM580 101.6l0 1.3 2.2 -.7zM584.6 101.6l0 1.3 2.2 -.7zM589.1 101.6l0 1.3 2.2 -.7zM593.7 101.6l0 1.3 2.2 -.7zM598.3 101.6l0 1.3 2.2 -.7zM602.8 101.6l0 1.3 2.2 -.7zM607.4 101.6l0 1.3 2.2 -.7z"/><path fill="#c4d728" d="M442.9 97l0 1.6 2.8 -.8zM447.5 97l0 1.6 2.8 -.8zM452 97l0 1.6 2.8 -.8zM456.6 97l0 1.6 2.8 -.8zM461.2 97l0 1.6 2.8 -.8zM465.7 97l0 1.6 2.8 -.8zM470.3 97l0 1.6 2.8 -.8zM474.9 97l0 1.6 2.8 -.8zM479.5 97l0 1.6 2.8 -.8zM484 97l0 1.6 2.8 -.8zM488.6 97l0 1.6 2.8 -.8zM493.2 97l0 1.6 2.8 -.8zM497.7 97l0 1.6 2.8 -.8zM502.3 97l0 1.6 2.8 -.8zM506.9 97l0 1.6 2.8 -.8zM511.4 97l0 1.6 2.8 -.8zM516 97l0 1.6 2.8 -.8zM520.6 97l0 1.6 2.8 -.8zM525.2 97l0 1.6 2.8 -.8zM529.7 97l0 1.6 2.8 -.8zM534.3 97l0 1.6 2.8 -.8zM538.9 97l0 1.6 2.8 -.8zM543.4 97l0 1.6 2.8 -.8zM548 97l0 1.6 2.8 -.8zM552.6 97l0 1.6 2.8 -.8zM557.1 97l0 1.6 2.8 -.8zM561.7 97l0 1.6 2.8 -.8zM566.3 97l0 1.6 2.8 -.8zM570.8 97l0 1.6 2.8 -.8zM575.4 97l0 1.6 2.8 -.8zM580 97l0 1.6 2.8 -.8zM584.6 97l0 1.6 2.8 -.8zM589.1 97l0 1.6 2.8 -.8zM593.7 97l0 1.6 2.8 -.8zM598.3 97l0 1.6 2.8 -.8zM602.8 97l0 1.6 2.8 -.8zM607.4 97l0 1.6 2.8 -.8z"/><path fill="#d29819" d="M442.9 92.4l0 1.8 3.4 -.9zM447.5 92.4l0 1.8 3.4 -.9zM452 92.4l0 1.8 3.4 -.9zM456.6 92.4l0 1.8 3.4 -.9zM461.2 92.4l0 1.8 3.4 -.9zM465.7 92.4l0 1.8 3.4 -.9zM470.3 92.4l0 1.8 3.4 -.9zM474.9 92.4l0 1.8 3.4 -.9zM479.5 92.4l0 1.8 3.4 -.9zM484 92.4l0 1.8 3.4 -.9zM488.6 92.4l0 1.8 3.4 -.9zM493.2 92.4l0 1.8 3.4 -.9zM497.7 92.4l0 1.8 3.4 -.9zM502.3 92.4l0 1.8 3.4 -.9zM506.9 92.4l0 1.8 3.4 -.9zM511.4 92.4l0 1.8 3.4 -.9zM516 92.4l0 1.8 3.4 -.9zM520.6 92.4l0 1.8 3.4 -.9zM525.2 92.4l0 1.8 3.4 -.9zM529.7 92.4l0 1.8 3.4 -.9zM534.3 92.4l0 1.8 3.4 -.9zM538.9 92.4l0 1.8 3.4 -.9zM543.4 92.4l0 1.8 3.4 -.9zM548 92.4l0 1.8 3.4 -.9zM552.6 92.4l0 1.8 3.4 -.9zM557.1 92.4l0 1.8 3.4 -.9zM561.7 92.4l0 1.8 3.4 -.9zM566.3 92.4l0 1.8 3.4 -.9zM570.8 92.4l0 1.8 3.4 -.9zM575.4 92.4l0 1.8 3.4 -.9zM580 92.4l0 1.8 3.4 -.9zM584.6 92.4l0 1.8 3.4 -.9zM589.1 92.4l0 1.8 3.4 -.9zM593.7 92.4l0 1.8 3.4 -.9zM598.3 92.4l0 1.8 3.4 -.9zM602.8 92.4l0 1.8 3.4 -.9zM607.4 92.4l0 1.8 3.4 -.9z"/><path fill="#d25419" d="M442.9 87.8l0 1.9 3.8 -1zM447.5 87.8l0 1.9 3.8 -1zM452 87.8l0 1.9 3.8 -1zM456.6 87.8l0 1.9 3.8 -1zM461.2 87.8l0 1.9 3.8 -1zM465.7 87.8l0 1.9 3.8 -1zM470.3 87.8l0 1.9 3.8 -1zM474.9 87.8l0 1.9 3.8 -1zM479.5 87.8l0 1.9 3.8 -1zM484 87.8l0 1.9 3.8 -1zM488.6 87.8l0 1.9 3.8 -1zM493.2 87.8l0 1.9 3.8 -1zM497.7 87.8l0 1.9 3.8 -1zM502.3 87.8l0 1.9 3.8 -1zM506.9 87.8l0 1.9 3.8 -1zM511.4 87.8l0 1.9 3.8 -1zM516 87.8l0 1.9 3.8 -1zM520.6 87.8l0 1.9 3.8 -1zM525.2 87.8l0 1.9 3.8 -1zM529.7 87.8l0 1.9 3.8 -1zM534.3 87.8l0 1.9 3.8 -1zM538.9 87.8l0 1.9 3.8 -1zM543.4 87.8l0 1.9 3.8 -1zM548 87.8l0 1.9 3.8 -1zM552.6 87.8l0 1.9 3.8 -1zM557.1 87.8l0 1.9 3.8 -1zM561.7 87.8l0 1.9 3.8 -1zM566.3 87.8l0 1.9 3.8 -1zM570.8 87.8l0 1.9 3.8 -1zM575.4 87.8l0 1.9 3.8 -1zM580 87.8l0 1.9 3.8 -1zM584.6 87.8l0 1.9 3.8 -1zM589.1 87.8l0 1.9 3.8 -1zM593.7 87.8l0 1.9 3.8 -1zM598.3 87.8l0 1.9 3.8 -1zM602.8 87.8l0 1.9 3.8 -1zM607.4 87.8l0 1.9 3.8 -1z"/><path fill="#d21919" d="M442.9 83.2l0 2.1 4 -1zM447.5 83.2l0 2.1 4 -1zM452 83.2l0 2.1 4 -1zM456.6 83.2l0 2.1 4 -1zM461.2 83.2l0 2.1 4 -1zM465.7 83.2l0 2.1 4 -1zM470.3 83.2l0 2.1 4 -1zM474.9 83.2l0 2.1 4 -1zM479.5 83.2l0 2.1 4 -1zM484 83.2l0 2.1 4 -1zM488.6 83.2l0 2.1 4 -1zM493.2 83.2l0 2.1 4 -1zM497.7 83.2l0 2.1 4 -1zM502.3 83.2l0 2.1 4 -1zM506.9 83.2l0 2.1 4 -1zM511.4 83.2l0 2.1 4 -1zM516 83.2l0 2.1 4 -1zM520.6 83.2l0 2.1 4 -1zM525.2 83.2l0 2.1 4 -1zM529.7 83.2l0 2.1 4 -1zM534.3 83.2l0 2.1 4 -1zM538.9 83.2l0 2.1 4 -1zM543.4 83.2l0 2.1 4 -1zM548 83.2l0 2.1 4 -1zM552.6 83.2l0 2.1 4 -1zM557.1 83.2l0 2.1 4 -1zM561.7 83.2l0 2.1 4 -1zM566.3 83.2l0 2.1 4 -1zM570.8 83.2l0 2.1 4 -1zM575.4 83.2l0 2.1 4 -1zM580 83.2l0 2.1 4 -1zM584.6 83.2l0 2.1 4 -1zM589.1 83.2l0 2.1 4 -1zM593.7 83.2l0 2.1 4 -1zM598.3 83.2l0 2.1 4 -1zM602.8 83.2l0 2.1 4 -1zM607.4 83.2l0 2.1 4 -1zM442.9 78.6l0 2.1 4.2 -1.1zM447.5 78.6l0 2.1 4.2 -1.1zM452 78.6l0 2.1 4.2 -1.1zM456.6 78.6l0 2.1 4.2 -1.1zM461.2 78.6l0 2.1 4.2 -1.1zM465.7 78.6l0 2.1 4.2 -1.1zM470.3 78.6l0 2.1 4.2 -1.1zM474.9 78.6l0 2.1 4.2 -1.1zM479.5 78.6l0 2.1 4.2 -1.1zM484 78.6l0 2.1 4.2 -1.1zM488.6 78.6l0 2.1 4.2 -1.1zM493.2 78.6l0 2.1 4.2 -1.1zM497.7 78.6l0 2.1 4.2 -1.1zM502.3 78.6l0 2.1 4.2 -1.1zM506.9 78.6l0 2.1 4.2 -1.1zM511.4 78.6l0 2.1 4.2 -1.1zM516 78.6l0 2.1 4.2 -1.1zM520.6 78.6l0 2.1 4.2 -1.1zM525.2 78.6l0 2.1 4.2 -1.1zM529.7 78.6l0 2.1 4.2 -1.1zM534.3 78.6l0 2.1 4.2 -1.1zM538.9 78.6l0 2.1 4.2 -1.1zM543.4 78.6l0 2.1 4.2 -1.1zM548 78.6l0 2.1 4.2 -1.1zM552.6 78.6l0 2.1 4.2 -1.1zM557.1 78.6l0 2.1 4.2 -1.1zM561.7 78.6l0 2.1 4.2 -1.1zM566.3 78.6l0 2.1 4.2 -1.1zM570.8 78.6l0 2.1 4.2 -1.1zM575.4 78.6l0 2.1 4.2 -1.1zM580 78.6l0 2.1 4.2 -1.1zM584.6 78.6l0 2.1 4.2 -1.1zM589.1 78.6l0 2.1 4.2 -1.1zM593.7 78.6l0 2.1 4.2 -1.1zM598.3 78.6l0 2.1 4.2 -1.1zM602.8 78.6l0 2.1 4.2 -1.1zM607.4 78.6l0 2.1 4.2 -1.1z"/></g><use href="#h2" transform="matrix(1 0 0 -1 0 154.8)"/>
<g id="h3"><g id="q3"><path fill="#58e5e8" d="M700.8 115.9l.9 0 -.4 -1.1zM691.8 111.7l.7 -.6 -1 -.5zM696.3 111.6l.8 -.5 -1 -.7zM742.1 89l.7 -.5 -1 -.6zM737.6 84.6l.4 -.8 -1.2 -.1zM737.8 80.1l.1 -.9 -1.2 .3z"/><path fill="#57e4c0" d="M705.4 115.9l.9 0 -.5 -1.3zM709.9 115.9l1 0 -.5 -1.4zM700.9 111.6l.8 -.5 -1 -.9zM705.4 111.6l.9 -.4 -1 -1zM709.9 111.6l1 -.4 -1 -1.2zM746.5 97.9l1 -.2 -.8 -1.4zM737.4 93.6l.8 -.6 -1.3 -.8zM742 93.5l.9 -.4 -1 -1zM746.5 93.4l.9 -.2 -.7 -1.1zM737.5 89.1l.6 -.7 -1.3 -.5zM733.1 84.7l.4 -1 -1.6 0zM733.2 80.2l.1 -1 -1.5 .3z"/><path fill="#4fe291" d="M714.5 115.9l1 0 -.5 -1.5zM719 115.9l1.1 0 -.5 -1.6zM723.6 115.9l1.1 0 -.6 -1.7zM728.1 115.9l1.2 0 -.6 -1.8zM714.5 111.5l1 -.3 -1 -1.3zM719 111.5l1.1 -.3 -1 -1.4zM723.6 111.5l1.1 -.3 -.9 -1.6zM728.1 111.5l1.1 -.2 -.9 -1.7zM669.3 107.4l0 -1 -1.5 .5zM673.8 107.4l.1 -1 -1.6 .4zM678.3 107.4l.2 -1 -1.6 .2zM682.8 107.3l.3 -1 -1.6 0zM687.4 107.3l.4 -1 -1.6 -.1zM691.9 107.3l.5 -.9 -1.6 -.3zM696.4 107.3l.6 -.9 -1.6 -.5zM700.9 107.3l.7 -.8 -1.6 -.6zM705.5 107.2l.8 -.8 -1.6 -.8zM710 107.2l.9 -.7 -1.5 -1zM714.5 107.2l.9 -.6 -1.4 -1.1zM719.1 107.1l1 -.6 -1.4 -1.2zM723.6 107.1l1 -.5 -1.3 -1.4zM728.2 107l1.1 -.4 -1.2 -1.5zM728.2 102.6l1 -.6 -1.4 -1.2zM732.8 102.6l1 -.5 -1.3 -1.3zM737.3 102.5l1.1 -.4 -1.1 -1.4zM741.9 102.4l1.1 -.3 -.9 -1.5zM746.4 102.4l1.1 -.1 -.7 -1.6zM728.3 98.2l.9 -.8 -1.6 -.9zM732.8 98.1l.9 -.6 -1.4 -1.1zM737.4 98l1 -.5 -1.2 -1.2zM741.9 98l1 -.3 -1 -1.3zM728.4 93.7l.7 -.9 -1.8 -.6zM732.9 93.6l.8 -.8 -1.5 -.7zM728.4 89.2l.5 -1 -1.8 -.3zM733 89.2l.6 -.9 -1.6 -.4zM728.5 84.7l.3 -1.1 -1.9 .1zM728.6 80.2l.1 -1.1 -1.8 .4z"/><path fill="#47df5f" d="M732.7 115.9l1.2 0 -.6 -1.9zM737.2 115.9l1.2 0 -.6 -1.9zM741.8 115.9l1.2 0 -.6 -2zM746.4 115.9l1.2 0 -.6 -2zM732.7 111.5l1.2 -.2 -.8 -1.7zM737.2 111.4l1.2 -.1 -.8 -1.8zM741.8 111.4l1.2 -.1 -.7 -1.9zM746.4 111.4l1.2 0 -.7 -1.9zM732.7 107l1.1 -.3 -1.1 -1.6zM737.3 107l1.1 -.3 -1 -1.7zM741.8 106.9l1.2 -.2 -.8 -1.7zM746.4 106.9l1.2 -.1 -.7 -1.8zM696.5 102.9l.5 -1.2 -2.2 -.3zM701 102.9l.6 -1.1 -2.1 -.4zM705.5 102.8l.7 -1 -2 -.6zM710.1 102.8l.7 -1 -1.9 -.7zM714.6 102.8l.8 -.9 -1.8 -.8zM719.1 102.7l.9 -.8 -1.7 -1zM723.7 102.7l.9 -.7 -1.6 -1.1zM719.2 98.3l.7 -1 -2 -.7zM723.7 98.2l.8 -.9 -1.8 -.8zM723.8 93.8l.6 -1 -2 -.5zM723.9 89.3l.5 -1.2 -2.1 -.2zM724 84.8l.3 -1.2 -2.2 .1zM724.1 80.3l.1 -1.3 -2.1 .5z"/><path fill="#5adc3e" d="M669.3 103l0 -1.3 -2.2 .7zM673.8 103l.1 -1.3 -2.2 .5zM678.4 103l.2 -1.3 -2.3 .4zM682.9 103l.3 -1.3 -2.3 .2zM687.4 102.9l.3 -1.3 -2.3 .1zM691.9 102.9l.4 -1.2 -2.2 -.1zM705.6 98.4l.6 -1.3 -2.4 -.3zM710.1 98.4l.6 -1.2 -2.3 -.4zM714.7 98.3l.7 -1.1 -2.2 -.6zM714.7 93.9l.5 -1.3 -2.4 -.3zM719.3 93.8l.6 -1.2 -2.2 -.4zM719.3 89.4l.4 -1.3 -2.4 -.1zM719.4 84.9l.3 -1.4 -2.4 .2z"/><path fill="#8cda32" d="M692 98.5l.4 -1.5 -2.7 .1zM696.5 98.5l.4 -1.4 -2.7 0zM701 98.5l.5 -1.3 -2.6 -.2zM705.6 94l.4 -1.4 -2.8 0zM710.2 93.9l.5 -1.4 -2.6 -.2zM714.8 89.4l.4 -1.4 -2.6 0zM714.9 84.9l.2 -1.5 -2.7 .3zM715 80.4l.1 -1.5 -2.7 .6zM719.5 80.4l.1 -1.4 -2.4 .5z"/><path fill="#c4d728" d="M669.3 98.6l0 -1.6 -2.8 .8zM673.8 98.6l.1 -1.6 -2.9 .7zM678.4 98.6l.1 -1.6 -2.9 .5zM682.9 98.5l.2 -1.5 -2.8 .4zM687.4 98.5l.3 -1.5 -2.8 .2zM696.6 94l.3 -1.6 -3.1 .2zM701.1 94l.4 -1.5 -2.9 .1zM705.7 89.5l.3 -1.6 -3 .2zM710.2 89.5l.4 -1.5 -2.8 .1zM710.3 85l.2 -1.6 -3 .4zM710.4 80.5l.1 -1.6 -3 .7z"/><path fill="#d4d41f" d="M682.9 94.1l.2 -1.7 -3.3 .6zM687.5 94.1l.2 -1.7 -3.3 .4zM692 94.1l.3 -1.6 -3.2 .3zM696.6 89.6l.2 -1.7 -3.4 .4zM701.1 89.6l.3 -1.7 -3.2 .3zM705.8 85l.2 -1.7 -3.2 .5zM705.8 80.5l.1 -1.7 -3.2 .7z"/><path fill="#d29819" d="M669.3 94.1l0 -1.8 -3.4 .9zM673.8 94.1l.1 -1.8 -3.4 .8zM678.4 94.1l.1 -1.8 -3.4 .7zM687.5 89.6l.2 -1.9 -3.6 .6zM692 89.6l.2 -1.8 -3.5 .5zM696.6 85.1l.1 -1.8 -3.6 .6zM701.2 85.1l.2 -1.8 -3.4 .6zM701.3 80.6l.1 -1.8 -3.5 .8z"/><path fill="#d25419" d="M669.3 89.7l0 -1.9 -3.8 1zM673.8 89.7l0 -1.9 -3.8 .9zM678.4 89.7l.1 -1.9 -3.7 .8zM682.9 89.7l.1 -1.9 -3.7 .7zM687.5 85.2l.1 -2 -3.8 .8zM692.1 85.1l.1 -1.9 -3.7 .7zM692.1 80.6l0 -2 -3.8 .9zM696.7 80.6l0 -1.9 -3.6 .9z"/><path fill="#d21919" d="M669.3 85.2l0 -2.1 -4 1zM673.9 85.2l0 -2 -4 1zM678.4 85.2l0 -2 -4 .9zM683 85.2l.1 -2 -3.9 .9zM669.3 80.7l0 -2.1 -4.2 1.1zM673.9 80.7l0 -2.1 -4.2 1zM678.4 80.7l0 -2.1 -4.1 1zM683 80.7l0 -2.1 -4.1 1zM687.6 80.7l0 -2 -3.9 .9z"/></g><use href="#q3" transform="matrix(-1 0 0 1 1503.1 0)"/><path fill="#58e5e8" d="M751.1 93.3l.9 0 -.5 -1.2z"/><path fill="#57e4c0" d="M751 97.8l1 0 -.5 -1.5z"/><path fill="#4fe291" d="M751 102.3l1.1 0 -.6 -1.7z"/><path fill="#47df5f" d="M750.9 115.9l1.2 0 -.6 -2zM750.9 111.4l1.2 0 -.6 -1.9zM751 106.8l1.2 0 -.6 -1.8z"/></g><use href="#h3" transform="matrix(1 0 0 -1 0 154.8)"/>
<g id="h4"><g id="q4"><path fill="#58e5e8" d="M23.4 239.4l-.9 0 .4 1.1zM23.4 235l-.8 -.3 .1 1.2zM9.3 226.2l0 -.9 -1 .4zM14 226.2l-.3 -.8 -.9 .7z"/><path fill="#57e4c0" d="M28.1 239.4l-1 0 .5 1.4zM28.1 235l-1 -.2 .2 1.5zM23.4 230.6l-.8 -.5 -.3 1.3zM18.7 226.2l-.5 -.8 -.8 1zM23.3 226.2l-.7 -.7 -.7 1.3zM9.3 221.8l0 -1 -1.3 .5zM14 221.8l-.2 -1 -1.2 .8zM18.6 221.7l-.4 -.9 -1.1 1z"/><path fill="#4fe291" d="M32.7 239.4l-1.1 0 .6 1.8zM32.7 235l-1.1 -.2 .2 1.9zM28 230.6l-.9 -.5 -.2 1.6zM32.7 230.6l-1.1 -.4 -.1 1.9zM28 226.1l-.8 -.7 -.6 1.6zM23.3 221.7l-.6 -.9 -1 1.2zM27.9 221.7l-.7 -.8 -.9 1.5zM9.3 217.3l0 -1.1 -1.6 .5zM13.9 217.3l-.1 -1.1 -1.5 .8zM18.6 217.3l-.3 -1 -1.4 1zM23.2 217.3l-.4 -1 -1.3 1.2zM27.9 217.2l-.6 -1 -1.2 1.4zM9.3 212.8l0 -1.1 -1.8 .6zM13.9 212.8l-.1 -1.1 -1.7 .7zM18.5 212.8l-.2 -1.1 -1.6 .9zM50.7 208.2l-.6 -.9 -1.1 1.3zM55.3 208.1l-.6 -.8 -.9 1.3zM59.9 208.1l-.7 -.8 -.8 1.3zM64.5 208l-.7 -.7 -.6 1.3zM69.1 208l-.8 -.6 -.4 1.3zM73.7 207.9l-.8 -.5 -.2 1.3zM78.3 207.9l-.8 -.4 -.1 1.3zM82.8 207.8l-.9 -.3 .1 1.3zM87.4 207.8l-.9 -.1 .3 1.2zM41.4 203.7l-.1 -1.1 -1.5 .8zM45.9 203.7l-.2 -1 -1.4 .8zM50.5 203.7l-.2 -1 -1.3 .8zM55.1 203.6l-.2 -.9 -1.2 .8zM59.7 203.6l-.2 -.9 -1 .8zM64.3 203.6l-.3 -.8 -.8 .7z"/><path fill="#47df5f" d="M37.4 239.4l-1.3 0 .6 2.1zM37.3 235l-1.3 -.2 .3 2.2zM37.3 230.5l-1.2 -.4 0 2.1zM32.6 226.1l-1 -.6 -.5 1.8zM37.3 226.1l-1.1 -.6 -.3 2.1zM32.6 221.7l-.8 -.8 -.8 1.7zM37.2 221.6l-1 -.7 -.7 1.9zM32.5 217.2l-.7 -.9 -1.1 1.5zM37.1 217.2l-.8 -.9 -1 1.7zM41.7 217.2l-.9 -.8 -.8 1.9zM23.2 212.8l-.3 -1.1 -1.6 1zM27.8 212.8l-.4 -1.1 -1.5 1.2zM32.4 212.7l-.5 -1 -1.4 1.3zM37 212.7l-.6 -1 -1.2 1.4zM41.6 212.7l-.7 -.9 -1.1 1.5zM46.2 212.7l-.8 -.9 -1 1.6zM50.8 212.6l-.8 -.8 -.8 1.7zM55.5 212.6l-.9 -.7 -.7 1.8zM60.1 212.5l-1 -.7 -.5 1.9zM64.7 212.5l-1 -.6 -.4 1.9zM9.3 208.3l0 -1.2 -1.9 .6zM13.9 208.3l-.1 -1.2 -1.9 .7zM18.5 208.3l-.1 -1.2 -1.8 .8zM23.1 208.3l-.2 -1.2 -1.7 .9zM27.7 208.3l-.3 -1.1 -1.7 1zM32.3 208.3l-.3 -1.1 -1.6 1zM36.9 208.2l-.4 -1.1 -1.5 1.1zM41.5 208.2l-.4 -1 -1.3 1.2zM46.1 208.2l-.5 -1 -1.2 1.2zM9.3 203.8l0 -1.2 -2 .6zM13.9 203.8l0 -1.2 -2 .6zM18.5 203.8l0 -1.2 -1.9 .7zM23 203.8l-.1 -1.2 -1.9 .7zM27.6 203.8l-.1 -1.2 -1.8 .7zM32.2 203.7l-.1 -1.2 -1.7 .7zM36.8 203.7l-.1 -1.1 -1.6 .8z"/><path fill="#5adc3e" d="M42 235l-1.4 -.2 .4 2.5zM41.9 230.5l-1.3 -.3 .1 2.4zM41.9 226.1l-1.2 -.5 -.2 2.3zM41.8 221.6l-1.1 -.7 -.5 2.1zM46.5 221.6l-1.2 -.6 -.4 2.3zM46.4 217.1l-1 -.7 -.7 2zM51 217.1l-1.1 -.7 -.6 2.1zM55.6 217.1l-1.2 -.6 -.4 2.2zM69.2 212.5l-1.1 -.5 -.2 1.9zM73.8 212.4l-1.1 -.4 0 2zM78.4 212.4l-1.1 -.3 .1 2zM83 212.3l-1.2 -.2 .3 1.9zM87.6 212.3l-1.2 -.1 .4 1.9z"/><path fill="#8cda32" d="M42 239.4l-1.4 0 .7 2.4zM46.6 239.4l-1.5 0 .8 2.7zM46.6 234.9l-1.5 -.2 .5 2.7zM46.6 230.5l-1.4 -.3 .2 2.7zM46.5 226l-1.3 -.5 -.1 2.5zM51.1 226l-1.4 -.4 0 2.7zM51.1 221.6l-1.3 -.6 -.3 2.5zM55.7 221.5l-1.4 -.5 -.2 2.6zM60.2 217l-1.2 -.5 -.3 2.3zM64.8 217l-1.3 -.5 -.1 2.4zM69.4 216.9l-1.3 -.4 0 2.5zM74 216.9l-1.4 -.3 .1 2.5zM78.5 216.9l-1.4 -.2 .3 2.6zM83.1 216.8l-1.4 -.2 .4 2.6z"/><path fill="#c4d728" d="M51.2 239.4l-1.6 0 .8 3zM51.2 234.9l-1.6 -.1 .5 3zM51.2 230.5l-1.5 -.3 .3 2.9zM55.8 226l-1.5 -.4 .1 2.9zM60.3 221.5l-1.4 -.4 0 2.8zM64.9 221.5l-1.5 -.4 .1 2.9zM69.5 221.4l-1.6 -.3 .2 3zM87.7 216.8l-1.4 -.1 .6 2.6z"/><path fill="#d4d41f" d="M55.9 239.4l-1.7 0 .9 3.2zM55.8 234.9l-1.7 -.1 .6 3.2zM55.8 230.5l-1.6 -.3 .4 3.1zM60.4 230.5l-1.7 -.2 .4 3.3zM60.4 226l-1.6 -.3 .2 3.1zM65 226l-1.7 -.3 .3 3.2zM74.1 221.4l-1.6 -.3 .3 3zM78.7 221.4l-1.6 -.2 .5 3.1zM83.2 221.3l-1.7 -.1 .6 3.1zM87.8 221.3l-1.7 -.1 .7 3.1z"/><path fill="#d29819" d="M60.5 239.4l-1.8 0 .9 3.4zM60.5 234.9l-1.8 -.1 .7 3.4zM65.1 234.9l-1.9 -.1 .8 3.6zM65 230.4l-1.8 -.2 .5 3.5zM69.6 230.4l-1.9 -.2 .6 3.6zM69.6 225.9l-1.7 -.2 .4 3.4zM74.2 225.9l-1.8 -.2 .5 3.5zM78.8 225.9l-1.8 -.1 .6 3.5zM83.3 225.9l-1.8 -.1 .7 3.6z"/><path fill="#d25419" d="M65.1 239.4l-1.9 0 .9 3.6zM69.7 239.4l-2 0 1 3.8zM69.7 234.9l-1.9 -.1 .8 3.8zM74.3 234.9l-2 -.1 .9 3.9zM74.2 230.4l-1.9 -.1 .7 3.7zM78.8 230.4l-2 -.1 .8 3.8zM83.4 230.4l-2 -.1 .9 3.9zM87.9 225.8l-1.9 0 .8 3.6z"/><path fill="#d21919" d="M74.3 239.4l-2 0 1 3.9zM78.9 239.4l-2.1 0 1 4.1zM83.5 239.4l-2.1 0 1 4.1zM88 239.4l-2.1 0 1.1 4.2zM78.9 234.9l-2 0 .9 4zM83.4 234.9l-2.1 0 1 4.1zM88 234.9l-2.1 0 1 4.1zM88 230.4l-2 0 .9 3.9z"/></g><use href="#q4" transform="matrix(-1 0 0 1 183.1 0)"/><path fill="#4fe291" d="M92 207.7l-.9 0 .4 1.1z"/><path fill="#5adc3e" d="M92.1 212.2l-1.2 0 .6 1.9z"/><path fill="#c4d728" d="M92.3 216.8l-1.5 0 .7 2.5z"/><path fill="#d4d41f" d="M92.4 221.3l-1.7 0 .8 3.1z"/><path fill="#d25419" d="M92.5 225.8l-1.9 0 .9 3.6z"/><path fill="#d21919" d="M92.6 239.4l-2.1 0 1.1 4.2zM92.6 234.9l-2.1 0 1 4.1zM92.6 230.3l-2 0 1 3.9z"/></g><use href="#h4" transform="matrix(1 0 0 -1 0 401.8)"/>
<g id="h5"><path fill="#58e5e8" d="M226.7 235.2l.6 -.6 -1 -.4zM299.8 234.6l.6 .6 .5 -1zM309.5 234.6l-.6 .6 1 .4zM382.6 235.2l-.6 -.6 -.5 1zM263.1 207.7l.9 0 -.4 -1.1zM346.2 207.7l-.9 0 .4 1.1z"/><path fill="#57e4c0" d="M231 239.4l1 0 -.5 -1.4zM295 239.4l1 0 -.5 -1.4zM314.3 239.4l-1 0 .5 1.4zM378.3 239.4l-1 0 .5 1.4zM258.6 208l.8 -.5 -1.1 -.8zM267.7 207.4l.8 .5 .3 -1.3zM341.6 207.4l-.8 .5 1.1 .8zM350.7 208l-.8 -.5 -.3 1.3zM254.3 203.7l.2 -1 -1.6 .2zM272.5 202.7l.2 1 1.3 -.8zM336.8 202.7l-.2 1 1.6 -.2zM355 203.7l-.2 -1 -1.3 .8z"/><path fill="#4fe291" d="M231.1 235.1l.9 -.5 -1.2 -1.1zM295.1 234.6l.9 .5 .3 -1.6zM314.2 234.6l-.9 .5 1.2 1.1zM378.2 235.1l-.9 -.5 -.3 1.6zM222.4 230.9l0 -1 -1.5 .5zM226.8 230.8l.4 -1 -1.7 -.1zM299.9 229.8l.4 1 1.3 -1.1zM304.6 229.8l0 1 1.5 -.5zM309.4 229.8l-.4 1 1.7 .1zM382.5 230.8l-.4 -1 -1.3 1.1zM386.9 230.9l0 -1 -1.5 .5zM263 212.2l1.1 0 -.6 -1.8zM346.3 212.2l-1.1 0 .6 1.8zM254.1 208.1l.7 -.9 -1.7 -.6zM272.3 207.2l.7 .9 1 -1.5zM337 207.2l-.7 .9 1.7 .6zM355.2 208.1l-.7 -.9 -1 1.5z"/><path fill="#47df5f" d="M235.5 239.4l1.2 0 -.6 -2zM290.3 239.4l1.2 0 -.6 -2zM319 239.4l-1.2 0 .6 2zM373.8 239.4l-1.2 0 .6 2zM235.5 235.1l1.2 -.4 -1.3 -1.7zM290.3 234.7l1.2 .4 .1 -2.2zM319 234.7l-1.2 .4 1.3 1.7zM373.8 235.1l-1.2 -.4 -.1 2.2zM231.1 230.8l.8 -.9 -1.8 -.8zM295.1 229.9l.8 .9 1 -1.7zM314.2 229.9l-.8 .9 1.8 .8zM378.2 230.8l-.8 -.9 -1 1.7zM253.9 212.6l1 -.8 -1.8 -1.3zM258.4 212.4l1.1 -.4 -1.2 -1.5zM267.5 212l1.1 .4 .1 -1.9zM272.2 211.8l1 .8 .8 -2.1zM337.1 211.8l-1 .8 1.8 1.3zM341.8 212l-1.1 .4 1.2 1.5zM350.9 212.4l-1.1 -.4 -.1 1.9zM355.4 212.6l-1 -.8 -.8 2.1z"/><path fill="#5adc3e" d="M235.6 230.7l1.1 -.8 -1.9 -1.5zM290.4 230l1.1 .8 .8 -2.2zM318.9 230l-1.1 .8 1.9 1.5zM373.7 230.7l-1.1 -.8 -.8 2.2zM222.4 226.5l0 -1.3 -2.2 .7zM226.8 226.5l.3 -1.3 -2.4 .1zM231.2 226.4l.7 -1.2 -2.4 -.5zM295.2 225.2l.7 1.2 1.7 -1.8zM299.9 225.2l.3 1.3 2 -1.2zM304.6 225.1l0 1.3 2.2 -.7zM309.4 225.2l-.3 1.3 2.4 -.1zM314.1 225.2l-.7 1.2 2.4 .5zM378.1 226.4l-.7 -1.2 -1.7 1.8zM382.5 226.5l-.3 -1.3 -2 1.2zM386.9 226.5l0 -1.3 -2.2 .7zM262.8 216.8l1.4 0 -.7 -2.4zM346.5 216.8l-1.4 0 .7 2.4zM249.5 208.3l.6 -1.2 -2.3 -.3zM277 207.1l.6 1.2 1.7 -1.5zM332.3 207.1l-.6 1.2 2.3 .3zM359.8 208.3l-.6 -1.2 -1.7 1.5zM249.7 203.8l.2 -1.3 -2.2 .3zM277.1 202.5l.2 1.3 2 -1zM332.2 202.5l-.2 1.3 2.2 -.3zM359.6 203.8l-.2 -1.3 -2 1z"/><path fill="#8cda32" d="M239.9 239.4l1.5 0 -.7 -2.5zM285.6 239.4l1.5 0 -.7 -2.5zM323.7 239.4l-1.5 0 .7 2.5zM369.4 239.4l-1.5 0 .7 2.5zM240 235l1.4 -.3 -1.3 -2.3zM285.7 234.7l1.4 .3 -.1 -2.7zM323.6 234.7l-1.4 .3 1.3 2.3zM369.3 235l-1.4 -.3 .1 2.7zM240 230.7l1.3 -.7 -1.8 -2zM285.7 230l1.3 .7 .5 -2.7zM323.6 230l-1.3 .7 1.8 2zM369.3 230.7l-1.3 -.7 -.5 2.7zM235.6 226.4l1 -1.1 -2.4 -1.1zM290.5 225.3l1 1.1 1.4 -2.2zM318.8 225.3l-1 1.1 2.4 1.1zM373.7 226.4l-1 -1.1 -1.4 2.2zM249.2 217.2l1.2 -.9 -2.3 -1.6zM253.7 217.1l1.3 -.7 -1.8 -1.9zM258.3 216.9l1.4 -.3 -1.3 -2.2zM267.4 216.6l1.4 .3 -.1 -2.5zM272 216.4l1.3 .7 .5 -2.6zM276.6 216.3l1.2 .9 1.1 -2.5zM332.7 216.3l-1.2 .9 2.3 1.6zM337.3 216.4l-1.3 .7 1.8 1.9zM341.9 216.6l-1.4 .3 1.3 2.2zM351 216.9l-1.4 -.3 .1 2.5zM355.6 217.1l-1.3 -.7 -.5 2.6zM360.1 217.2l-1.2 -.9 -1.1 2.5zM249.4 212.8l.9 -1.1 -2.3 -1zM276.8 211.7l.9 1.1 1.4 -2.1zM332.5 211.7l-.9 1.1 2.3 1zM359.9 212.8l-.9 -1.1 -1.4 2.1z"/><path fill="#c4d728" d="M244.5 230.6l1.5 -.5 -1.7 -2.6zM281 230.1l1.5 .5 .2 -3.1zM328.3 230.1l-1.5 .5 1.7 2.6zM364.8 230.6l-1.5 -.5 -.2 3.1zM240.1 226.3l1.2 -.9 -2.3 -1.7zM244.5 226.2l1.4 -.8 -2.1 -2.2zM281.1 225.4l1.4 .8 .7 -3zM285.8 225.3l1.2 .9 1.1 -2.6zM323.5 225.3l-1.2 .9 2.3 1.7zM328.2 225.4l-1.4 .8 2.1 2.2zM364.8 226.2l-1.4 -.8 -.7 3zM369.2 226.3l-1.2 -.9 -1.1 2.6zM222.4 222.1l0 -1.6 -2.8 .8zM226.8 222.1l.3 -1.5 -2.9 .3zM231.3 222l.6 -1.5 -2.9 -.3zM235.7 222l.8 -1.4 -2.9 -.8zM240.2 221.9l1 -1.2 -2.7 -1.3zM244.6 221.8l1.2 -1 -2.4 -1.7zM249.1 221.7l1.4 -.8 -2.1 -2.1zM253.6 221.5l1.5 -.5 -1.7 -2.5zM258.2 221.4l1.6 -.3 -1.3 -2.7zM262.7 221.3l1.6 0 -.8 -2.9zM267.3 221.1l1.6 .3 -.3 -3zM271.9 221l1.5 .5 .2 -3zM276.5 220.9l1.4 .8 .7 -2.9zM281.2 220.8l1.2 1 1.2 -2.7zM285.9 220.7l1 1.2 1.6 -2.5zM290.5 220.6l.8 1.4 2 -2.1zM295.2 220.5l.6 1.5 2.4 -1.7zM299.9 220.5l.3 1.5 2.6 -1.3zM304.6 220.5l0 1.6 2.8 -.8zM309.4 220.5l-.3 1.5 2.9 -.3zM314.1 220.5l-.6 1.5 2.9 .3zM318.8 220.6l-.8 1.4 2.9 .8zM323.4 220.7l-1 1.2 2.7 1.3zM328.1 220.8l-1.2 1 2.4 1.7zM332.8 220.9l-1.4 .8 2.1 2.1zM337.4 221l-1.5 .5 1.7 2.5zM342 221.1l-1.6 .3 1.3 2.7zM346.6 221.3l-1.6 0 .8 2.9zM351.1 221.4l-1.6 -.3 .3 3zM355.7 221.5l-1.5 -.5 -.2 3zM360.2 221.7l-1.4 -.8 -.7 2.9zM364.7 221.8l-1.2 -1 -1.2 2.7zM369.1 221.9l-1 -1.2 -1.6 2.5zM373.6 222l-.8 -1.4 -2 2.1zM378 222l-.6 -1.5 -2.4 1.7zM382.5 222.1l-.3 -1.5 -2.6 1.3zM386.9 222.1l0 -1.6 -2.8 .8zM240.3 217.5l.8 -1.4 -3 -.8zM244.7 217.4l1 -1.2 -2.7 -1.2zM281.3 216.2l1 1.2 1.6 -2.4zM286 216.1l.8 1.4 2.1 -2.2zM323.3 216.1l-.8 1.4 3 .8zM328 216.2l-1 1.2 2.7 1.2zM364.6 217.4l-1 -1.2 -1.6 2.4zM369 217.5l-.8 -1.4 -2.1 2.2zM244.9 212.9l.8 -1.4 -2.8 -.7zM281.4 211.5l.8 1.4 2 -2zM327.9 211.5l-.8 1.4 2.8 .7zM364.4 212.9l-.8 -1.4 -2 2zM245 208.4l.5 -1.5 -2.8 -.1zM281.6 207l.5 1.5 2.4 -1.6zM327.7 207l-.5 1.5 2.8 .1zM364.3 208.4l-.5 -1.5 -2.4 1.6zM245.2 203.9l.2 -1.5 -2.8 .5zM281.7 202.4l.2 1.5 2.6 -1zM327.6 202.4l-.2 1.5 2.8 -.5zM364.1 203.9l-.2 -1.5 -2.6 1z"/><path fill="#d4d41f" d="M244.4 239.4l1.7 0 -.8 -3zM281 239.4l1.7 0 -.8 -3zM328.3 239.4l-1.7 0 .8 3zM364.9 239.4l-1.7 0 .8 3zM244.4 235l1.6 -.3 -1.3 -2.8zM281 234.7l1.6 .3 -.3 -3.1zM328.3 234.7l-1.6 .3 1.3 2.8zM364.9 235l-1.6 -.3 .3 3.1zM249 230.5l1.7 -.4 -1.6 -3zM276.4 230.1l1.7 .4 -.1 -3.4zM332.9 230.1l-1.7 .4 1.6 3zM360.3 230.5l-1.7 -.4 .1 3.4zM249 226.1l1.6 -.6 -1.9 -2.6zM253.5 226l1.7 -.4 -1.6 -3zM271.8 225.6l1.7 .4 -.1 -3.4zM276.4 225.5l1.6 .6 .3 -3.2zM332.9 225.5l-1.6 .6 1.9 2.6zM337.5 225.6l-1.7 .4 1.6 3zM355.8 226l-1.7 -.4 .1 3.4zM360.3 226.1l-1.6 -.6 -.3 3.2zM231.3 217.6l.4 -1.7 -3.4 0zM235.8 217.5l.6 -1.6 -3.2 -.4zM290.6 216l.6 1.6 2.6 -2zM295.3 215.9l.4 1.7 2.9 -1.7zM314 215.9l-.4 1.7 3.4 0zM318.7 216l-.6 1.6 3.2 .4zM373.5 217.5l-.6 -1.6 -2.6 2zM378 217.6l-.4 -1.7 -2.9 1.7zM240.4 213l.6 -1.6 -3.2 -.4zM286.1 211.4l.6 1.6 2.6 -1.9zM323.2 211.4l-.6 1.6 3.2 .4zM368.9 213l-.6 -1.6 -2.6 1.9zM240.5 208.5l.4 -1.7 -3.3 .1zM286.2 206.9l.4 1.7 2.9 -1.5zM323.1 206.9l-.4 1.7 3.3 -.1zM368.8 208.5l-.4 -1.7 -2.9 1.5zM240.6 204l.1 -1.7 -3.3 .6zM286.3 202.3l.1 1.7 3.1 -1.1zM323 202.3l-.1 1.7 3.3 -.6zM368.7 204l-.1 -1.7 -3.1 1.1z"/><path fill="#d29819" d="M248.9 239.4l1.8 0 -.9 -3.4zM276.3 239.4l1.8 0 -.9 -3.4zM333 239.4l-1.8 0 .9 3.4zM360.4 239.4l-1.8 0 .9 3.4zM248.9 235l1.8 -.2 -1.3 -3.3zM276.3 234.8l1.8 .2 -.5 -3.5zM333 234.8l-1.8 .2 1.3 3.3zM360.4 235l-1.8 -.2 .5 3.5zM253.5 230.5l1.8 -.3 -1.4 -3.3zM271.8 230.2l1.8 .3 -.4 -3.6zM337.5 230.2l-1.8 .3 1.4 3.3zM355.8 230.5l-1.8 -.3 .4 3.6zM258.1 225.9l1.8 -.2 -1.3 -3.2zM262.6 225.8l1.8 0 -.9 -3.4zM267.2 225.7l1.8 .2 -.5 -3.4zM342.1 225.7l-1.8 .2 1.3 3.2zM346.7 225.8l-1.8 0 .9 3.4zM351.2 225.9l-1.8 -.2 .5 3.4zM222.4 217.6l0 -1.8 -3.4 .9zM226.9 217.6l.2 -1.8 -3.4 .5zM300 215.9l.2 1.8 3.2 -1.3zM304.6 215.9l0 1.8 3.4 -.9zM309.3 215.9l-.2 1.8 3.4 -.5zM382.4 217.6l-.2 -1.8 -3.2 1.3zM386.9 217.6l0 -1.8 -3.4 .9zM231.4 213.1l.3 -1.8 -3.7 .3zM235.9 213.1l.5 -1.7 -3.5 0zM290.7 211.4l.5 1.7 3 -1.7zM295.4 211.3l.3 1.8 3.4 -1.5zM313.9 211.3l-.3 1.8 3.7 -.3zM318.6 211.4l-.5 1.7 3.5 0zM373.4 213.1l-.5 -1.7 -3 1.7zM377.9 213.1l-.3 -1.8 -3.4 1.5zM236 208.6l.3 -1.8 -3.6 .4zM290.8 206.8l.3 1.8 3.4 -1.5zM318.5 206.8l-.3 1.8 3.6 -.4zM373.3 208.6l-.3 -1.8 -3.4 1.5z"/><path fill="#d25419" d="M253.4 239.4l1.9 0 -1 -3.7zM271.7 239.4l1.9 0 -1 -3.7zM337.6 239.4l-1.9 0 1 3.7zM355.9 239.4l-1.9 0 1 3.7zM253.4 234.9l1.9 -.1 -1.2 -3.6zM258 234.9l2 -.1 -1.1 -3.8zM262.5 234.9l2 0 -1 -3.9zM267.1 234.8l2 .1 -.9 -3.9zM271.7 234.8l1.9 .1 -.7 -3.7zM337.6 234.8l-1.9 .1 1.2 3.6zM342.2 234.8l-2 .1 1.1 3.8zM346.8 234.9l-2 0 1 3.9zM351.3 234.9l-2 -.1 .9 3.9zM355.9 234.9l-1.9 -.1 .7 3.7zM258 230.4l1.9 -.1 -1.2 -3.6zM262.6 230.3l1.9 0 -1 -3.7zM267.1 230.3l1.9 .1 -.7 -3.7zM342.2 230.3l-1.9 .1 1.2 3.6zM346.7 230.3l-1.9 0 1 3.7zM351.3 230.4l-1.9 -.1 .7 3.7zM222.4 213.2l0 -1.9 -3.8 1zM226.9 213.2l.2 -1.9 -3.8 .7zM300 211.3l.2 1.9 3.6 -1.3zM304.6 211.3l0 1.9 3.8 -1zM309.3 211.3l-.2 1.9 3.8 -.7zM382.4 213.2l-.2 -1.9 -3.6 1.3zM386.9 213.2l0 -1.9 -3.8 1zM231.4 208.7l.2 -2 -3.9 .6zM295.4 206.7l.2 2 3.7 -1.3zM313.9 206.7l-.2 2 3.9 -.6zM377.9 208.7l-.2 -2 -3.7 1.3zM236.1 204.1l.1 -1.9 -3.7 .8zM290.9 202.2l.1 1.9 3.6 -1.1zM318.4 202.2l-.1 1.9 3.7 -.8zM373.2 204.1l-.1 -1.9 -3.6 1.1z"/><path fill="#d21919" d="M258 239.4l2 0 -1 -3.9zM262.5 239.4l2 0 -1 -4zM267.1 239.4l2 0 -1 -3.9zM342.2 239.4l-2 0 1 3.9zM346.8 239.4l-2 0 1 4zM351.3 239.4l-2 0 1 3.9zM222.4 208.7l0 -2.1 -4 1zM226.9 208.7l.1 -2 -4 .8zM300 206.7l.1 2 3.9 -1.2zM304.6 206.7l0 2.1 4 -1zM309.3 206.7l-.1 2 4 -.8zM382.4 208.7l-.1 -2 -3.9 1.2zM386.9 208.7l0 -2.1 -4 1zM222.4 204.2l0 -2.1 -4.2 1.1zM227 204.2l0 -2.1 -4.1 1zM231.5 204.2l.1 -2 -4 .9zM295.5 202.2l.1 2 3.9 -1.1zM300.1 202.1l0 2.1 4.1 -1.1zM304.6 202.1l0 2.1 4.2 -1.1zM309.2 202.1l0 2.1 4.1 -1zM313.8 202.2l-.1 2 4 -.9zM377.8 204.2l-.1 -2 -3.9 1.1zM382.3 204.2l0 -2.1 -4.1 1.1zM386.9 204.2l0 -2.1 -4.2 1.1z"/></g><use href="#h5" transform="matrix(1 0 0 -1 0 401.8)"/>
<g id="h6"><path fill="#58e5e8" d="M447.8 235.2l-.6 -.6 -.4 1zM520.9 234.6l-.6 .6 1 .4zM529.4 234.6l.6 .6 .4 -1zM602.5 235.2l.6 -.6 -1 -.4z"/><path fill="#57e4c0" d="M452.5 239.4l-1 0 .5 1.4zM516.5 239.4l-1 0 .5 1.4zM533.8 239.4l1 0 -.5 -1.4zM597.8 239.4l1 0 -.5 -1.4zM442.9 230.8l0 -1 -1.4 .5zM525.2 229.8l0 1 1.4 -.5zM607.4 230.8l0 -1 -1.4 .5z"/><path fill="#4fe291" d="M452.5 235.1l-1 -.5 -.2 1.6zM516.5 234.6l-1 .5 1.2 1.2zM533.8 234.6l1 .5 .2 -1.6zM597.8 235.1l1 -.5 -1.2 -1.2zM447.7 230.8l-.5 -1 -1.2 1.2zM520.8 229.9l-.5 1 1.6 .2zM529.5 229.9l.5 1 1.2 -1.2zM602.6 230.8l.5 -1 -1.6 -.2z"/><path fill="#47df5f" d="M457.2 239.4l-1.3 0 .6 2.1zM512.1 239.4l-1.3 0 .6 2.1zM452.5 230.8l-.8 -.8 -.9 1.8zM516.4 229.9l-.8 .8 1.8 .9zM533.9 229.9l.8 .8 .9 -1.8zM597.8 230.8l.8 -.8 -1.8 -.9zM442.9 226.4l0 -1.3 -2.1 .6zM525.2 225.2l0 1.3 2.1 -.6zM607.4 226.4l0 -1.3 -2.1 .6z"/><path fill="#5adc3e" d="M538.2 239.4l1.3 0 -.6 -2.1zM593.1 239.4l1.3 0 -.6 -2.1zM457.2 235.1l-1.2 -.4 0 2.3zM512.1 234.7l-1.2 .4 1.3 1.9zM538.2 234.7l1.2 .4 0 -2.3zM593.1 235.1l1.2 -.4 -1.3 -1.9zM457.2 230.7l-1.2 -.7 -.7 2.3zM512 230l-1.2 .7 1.8 1.6zM538.3 230l1.2 .7 .7 -2.3zM593.1 230.7l1.2 -.7 -1.8 -1.6zM447.7 226.4l-.4 -1.2 -1.9 1.2zM452.4 226.4l-.7 -1.2 -1.6 1.8zM516.4 225.2l-.7 1.2 2.3 .6zM520.8 225.2l-.4 1.2 2.2 0zM529.5 225.2l.4 1.2 1.9 -1.2zM533.9 225.2l.7 1.2 1.6 -1.8zM597.9 226.4l.7 -1.2 -2.3 -.6zM602.6 226.4l.4 -1.2 -2.2 0zM479.9 207.9l-.8 -.5 -.2 1.4zM484.5 207.7l-.9 0 .4 1.1zM489 207.5l-.8 .5 1.1 .9zM561.3 207.5l.8 .5 .2 -1.4zM565.8 207.7l.9 0 -.4 -1.1zM570.4 207.9l.8 -.5 -1.1 -.9zM479 202.7h1v1h-1zM483.5 202.7h1v1h-1zM488.1 202.7h1v1h-1zM561.2 202.7h1v1h-1zM565.8 202.7h1v1h-1zM570.3 202.7h1v1h-1z"/><path fill="#8cda32" d="M461.9 239.4l-1.5 0 .8 2.7zM507.6 239.4l-1.5 0 .8 2.7zM542.7 239.4l1.5 0 -.8 -2.7zM588.4 239.4l1.5 0 -.8 -2.7zM457.1 226.3l-1 -1 -1.3 2.3zM512 225.3l-1 1 2.3 1.3zM538.3 225.3l1 1 1.3 -2.3zM593.2 226.3l1 -1 -2.3 -1.3zM442.9 222l0 -1.5 -2.7 .8zM447.6 222l-.3 -1.5 -2.5 1.3zM520.7 220.5l-.3 1.5 2.8 -.2zM525.2 220.5l0 1.5 2.7 -.8zM529.6 220.5l.3 1.5 2.5 -1.3zM602.7 222l.3 -1.5 -2.8 .2zM607.4 222l0 -1.5 -2.7 .8zM480 212.4l-1.2 -.4 0 2zM484.6 212.2l-1.2 0 .6 1.9zM489.2 212l-1.2 .4 1.2 1.7zM561.1 212l1.2 .4 0 -2zM565.7 212.2l1.2 0 -.6 -1.9zM570.3 212.4l1.2 -.4 -1.2 -1.7zM475.2 208.1l-.7 -.9 -.9 1.5zM493.5 207.3l-.7 .9 1.7 .6zM556.8 207.3l.7 .9 .9 -1.5zM575.1 208.1l.7 -.9 -1.7 -.6zM470.4 203.8l-.2 -1.2 -1.9 .9zM475 203.6l-.3 -1 -1.2 .8zM493.3 202.7l-.3 1 1.5 -.1zM497.8 202.6l-.2 1.2 2.1 -.3zM552.5 202.6l.2 1.2 1.9 -.9zM557 202.7l.3 1 1.2 -.8zM575.3 203.6l.3 -1 -1.5 .1zM579.9 203.8l.2 -1.2 -2.1 .3z"/><path fill="#c4d728" d="M461.9 235l-1.5 -.3 .2 2.8zM507.6 234.7l-1.5 .3 1.3 2.5zM542.7 234.7l1.5 .3 -.2 -2.8zM588.4 235l1.5 -.3 -1.3 -2.5zM461.9 230.6l-1.4 -.6 -.4 2.8zM507.6 230l-1.4 .6 1.8 2.2zM542.7 230l1.4 .6 .4 -2.8zM588.4 230.6l1.4 -.6 -1.8 -2.2zM461.8 226.3l-1.3 -.9 -1 2.7zM507.5 225.4l-1.3 .9 2.2 1.9zM542.8 225.4l1.3 .9 1 -2.7zM588.5 226.3l1.3 -.9 -2.2 -1.9zM452.3 222l-.6 -1.4 -2.2 1.8zM457 221.9l-.9 -1.3 -1.9 2.2zM461.7 221.8l-1.1 -1.1 -1.5 2.6zM507.4 220.7l-1.1 1.1 2.6 1.4zM511.9 220.6l-.9 1.3 2.7 .9zM516.3 220.6l-.6 1.4 2.8 .4zM534 220.6l.6 1.4 2.2 -1.8zM538.4 220.6l.9 1.3 1.9 -2.2zM542.9 220.7l1.1 1.1 1.5 -2.6zM588.6 221.8l1.1 -1.1 -2.6 -1.4zM593.3 221.9l.9 -1.3 -2.7 -.9zM598 222l.6 -1.4 -2.8 -.4zM470.8 212.7l-.9 -1 -1.3 2.1zM475.4 212.6l-1.1 -.7 -.7 2.1zM493.7 211.9l-1.1 .7 1.7 1.4zM498.2 211.7l-.9 1 2.2 1.1zM552.1 211.7l.9 1 1.3 -2.1zM556.6 211.9l1.1 .7 .7 -2.1zM574.9 212.6l1.1 -.7 -1.7 -1.4zM579.5 212.7l.9 -1 -2.2 -1.1zM470.6 208.3l-.6 -1.2 -1.6 1.6zM498 207.1l-.6 1.2 2.2 .4zM552.3 207.1l.6 1.2 1.6 -1.6zM579.7 208.3l.6 -1.2 -2.2 -.4z"/><path fill="#d4d41f" d="M466.6 239.4l-1.7 0 .9 3.2zM503.2 239.4l-1.7 0 .9 3.2zM547.1 239.4l1.7 0 -.9 -3.2zM583.7 239.4l1.7 0 -.9 -3.2zM466.6 235l-1.7 -.3 .4 3.3zM503.2 234.7l-1.7 .3 1.3 3zM547.1 234.7l1.7 .3 -.4 -3.3zM583.7 235l1.7 -.3 -1.3 -3zM466.6 230.6l-1.6 -.5 -.1 3.2zM503.1 230.1l-1.6 .5 1.7 2.8zM547.2 230.1l1.6 .5 .1 -3.2zM583.7 230.6l1.6 -.5 -1.7 -2.8zM466.5 226.2l-1.5 -.7 -.6 3.1zM503 225.4l-1.5 .7 2.1 2.4zM547.3 225.4l1.5 .7 .6 -3.1zM583.8 226.2l1.5 -.7 -2.1 -2.4zM466.4 221.8l-1.3 -.9 -1.1 2.8zM471.1 221.6l-1.5 -.7 -.6 3.1zM498.5 220.9l-1.5 .7 2.1 2.3zM503 220.8l-1.3 .9 2.4 1.9zM547.3 220.8l1.3 .9 1.1 -2.8zM551.8 220.9l1.5 .7 .6 -3.1zM579.2 221.6l1.5 -.7 -2.1 -2.3zM583.9 221.8l1.3 -.9 -2.4 -1.9zM442.9 217.6l0 -1.7 -3.2 .9zM447.6 217.6l-.2 -1.7 -3 1.3zM452.3 217.6l-.5 -1.6 -2.7 1.7zM457 217.5l-.7 -1.5 -2.4 2zM461.6 217.4l-.9 -1.3 -2 2.3zM466.3 217.3l-1.1 -1.1 -1.5 2.5zM470.9 217.2l-1.2 -.9 -1 2.6zM475.6 217.1l-1.4 -.6 -.4 2.7zM480.2 216.9l-1.4 -.3 .2 2.6zM484.8 216.8l-1.5 0 .7 2.5zM489.3 216.6l-1.4 .3 1.3 2.3zM493.8 216.4l-1.4 .6 1.8 2.1zM498.4 216.3l-1.2 .9 2.2 1.7zM502.8 216.2l-1.1 1.1 2.6 1.4zM507.3 216.1l-.9 1.3 2.9 1zM511.8 216l-.7 1.5 3.1 .5zM516.2 215.9l-.5 1.6 3.2 .1zM520.7 215.9l-.2 1.7 3.2 -.4zM525.2 215.9l0 1.7 3.2 -.9zM529.6 215.9l.2 1.7 3 -1.3zM534.1 215.9l.5 1.6 2.7 -1.7zM538.5 216l.7 1.5 2.4 -2zM543 216.1l.9 1.3 2 -2.3zM547.5 216.2l1.1 1.1 1.5 -2.5zM551.9 216.3l1.2 .9 1 -2.6zM556.5 216.4l1.4 .6 .4 -2.7zM561 216.6l1.4 .3 -.2 -2.6zM565.5 216.8l1.5 0 -.7 -2.5zM570.1 216.9l1.4 -.3 -1.3 -2.3zM574.7 217.1l1.4 -.6 -1.8 -2.1zM579.4 217.2l1.2 -.9 -2.2 -1.7zM584 217.3l1.1 -1.1 -2.6 -1.4zM588.7 217.4l.9 -1.3 -2.9 -1zM593.3 217.5l.7 -1.5 -3.1 -.5zM598 217.6l.5 -1.6 -3.2 -.1zM602.7 217.6l.2 -1.7 -3.2 .4zM607.4 217.6l0 -1.7 -3.2 .9zM461.5 213l-.7 -1.5 -2.4 1.9zM466.2 212.9l-.8 -1.3 -1.9 2.1zM502.7 211.6l-.8 1.3 2.7 .8zM507.2 211.5l-.7 1.5 3 .5zM543.1 211.5l.7 1.5 2.4 -1.9zM547.6 211.6l.8 1.3 1.9 -2.1zM584.1 212.9l.8 -1.3 -2.7 -.8zM588.8 213l.7 -1.5 -3 -.5zM461.4 208.5l-.4 -1.6 -2.7 1.5zM466 208.4l-.5 -1.4 -2.2 1.6zM502.6 207l-.5 1.4 2.7 .2zM507.1 206.9l-.4 1.6 3.1 -.1zM543.2 206.9l.4 1.6 2.7 -1.5zM547.7 207l.5 1.4 2.2 -1.6zM584.3 208.4l.5 -1.4 -2.7 -.2zM588.9 208.5l.4 -1.6 -3.1 .1zM465.8 203.9l-.2 -1.5 -2.5 1zM502.4 202.4l-.2 1.5 2.6 -.4zM547.9 202.4l.2 1.5 2.5 -1zM584.5 203.9l.2 -1.5 -2.6 .4z"/><path fill="#d29819" d="M471.2 230.5l-1.8 -.4 .2 3.6zM498.6 230.2l-1.8 .4 1.6 3.2zM551.7 230.2l1.8 .4 -.2 -3.6zM579.1 230.5l1.8 -.4 -1.6 -3.2zM471.1 226.1l-1.7 -.6 -.2 3.4zM475.8 226l-1.8 -.4 .2 3.5zM494.1 225.6l-1.8 .4 1.6 3.2zM498.6 225.5l-1.7 .6 1.9 2.8zM551.7 225.5l1.7 .6 .2 -3.4zM556.2 225.6l1.8 .4 -.2 -3.5zM574.5 226l1.8 -.4 -1.6 -3.2zM579.2 226.1l1.7 -.6 -1.9 -2.8zM475.7 221.5l-1.6 -.5 -.1 3.2zM480.3 221.4l-1.7 -.3 .4 3.2zM484.9 221.3l-1.7 0 .8 3.1zM489.4 221.2l-1.7 .3 1.3 2.9zM494 221l-1.6 .5 1.7 2.7zM556.3 221l1.6 .5 .1 -3.2zM560.9 221.2l1.7 .3 -.4 -3.2zM565.4 221.3l1.7 0 -.8 -3.1zM570 221.4l1.7 -.3 -1.3 -2.9zM574.6 221.5l1.6 -.5 -1.7 -2.7zM442.9 213.2l0 -1.9 -3.5 .9zM447.6 213.1l-.2 -1.8 -3.4 1.2zM452.2 213.1l-.3 -1.8 -3.2 1.5zM456.9 213l-.5 -1.6 -2.8 1.8zM511.7 211.4l-.5 1.6 3.3 .1zM516.2 211.3l-.3 1.8 3.5 -.2zM520.7 211.3l-.2 1.8 3.6 -.6zM525.2 211.3l0 1.9 3.5 -.9zM529.6 211.3l.2 1.8 3.4 -1.2zM534.1 211.3l.3 1.8 3.2 -1.5zM538.6 211.4l.5 1.6 2.8 -1.8zM593.4 213l.5 -1.6 -3.3 -.1zM598.1 213.1l.3 -1.8 -3.5 .2zM602.7 213.1l.2 -1.8 -3.6 .6zM607.4 213.2l0 -1.9 -3.5 .9zM456.8 208.6l-.3 -1.8 -3.1 1.5zM511.6 206.8l-.3 1.8 3.5 -.3zM538.7 206.8l.3 1.8 3.1 -1.5zM593.5 208.6l.3 -1.8 -3.5 .3zM456.7 204.1l-.1 -1.8 -3.4 1.1zM461.2 204l-.1 -1.6 -3 1.1zM506.9 202.3l-.1 1.6 3.1 -.6zM511.5 202.3l-.1 1.8 3.5 -.7zM538.8 202.3l.1 1.8 3.4 -1.1zM543.4 202.3l.1 1.6 3 -1.1zM589.1 204l.1 -1.6 -3.1 .6zM593.6 204.1l.1 -1.8 -3.5 .7z"/><path fill="#d25419" d="M471.3 239.4l-1.9 0 .9 3.6zM498.7 239.4l-1.9 0 .9 3.6zM551.6 239.4l1.9 0 -.9 -3.6zM579 239.4l1.9 0 -.9 -3.6zM471.3 235l-1.9 -.2 .6 3.7zM498.7 234.8l-1.9 .2 1.3 3.5zM551.6 234.8l1.9 .2 -.6 -3.7zM579 235l1.9 -.2 -1.3 -3.5zM475.8 230.5l-1.9 -.3 .5 3.8zM494.1 230.2l-1.9 .3 1.4 3.6zM556.2 230.2l1.9 .3 -.5 -3.8zM574.5 230.5l1.9 -.3 -1.4 -3.6zM480.4 225.9l-1.8 -.2 .6 3.6zM485 225.8l-1.9 0 .9 3.6zM489.5 225.7l-1.8 .2 1.3 3.4zM560.8 225.7l1.8 .2 -.6 -3.6zM565.3 225.8l1.9 0 -.9 -3.6zM569.9 225.9l1.8 -.2 -1.3 -3.4zM442.9 208.7l0 -2 -3.8 1zM447.5 208.7l-.1 -1.9 -3.7 1.2zM452.1 208.6l-.2 -1.9 -3.5 1.3zM516.1 206.8l-.2 1.9 3.7 -.5zM520.6 206.7l-.1 1.9 3.8 -.8zM525.2 206.7l0 2 3.8 -1zM529.7 206.7l.1 1.9 3.7 -1.2zM534.2 206.8l.2 1.9 3.5 -1.3zM598.2 208.6l.2 -1.9 -3.7 .5zM602.8 208.7l.1 -1.9 -3.8 .8zM607.4 208.7l0 -2 -3.8 1zM452.1 204.1l-.1 -1.9 -3.7 1.1zM516 202.2l-.1 1.9 3.7 -.8zM534.3 202.2l.1 1.9 3.7 -1.1zM598.2 204.1l.1 -1.9 -3.7 .8z"/><path fill="#d21919" d="M475.9 239.4l-2 0 1 3.9zM480.5 239.4l-2.1 0 1 4.1zM485.1 239.4l-2.1 0 1.1 4.2zM489.6 239.4l-2.1 0 1 4.1zM494.2 239.4l-2 0 1 3.9zM556.1 239.4l2 0 -1 -3.9zM560.7 239.4l2.1 0 -1 -4.1zM565.2 239.4l2.1 0 -1.1 -4.2zM569.8 239.4l2.1 0 -1 -4.1zM574.4 239.4l2 0 -1 -3.9zM475.9 234.9l-2 -.1 .7 3.9zM480.5 234.9l-2.1 -.1 .9 4.1zM485.1 234.9l-2.1 0 1 4.1zM489.6 234.8l-2.1 .1 1.2 4zM494.2 234.8l-2 .1 1.2 3.8zM556.1 234.8l2 .1 -.7 -3.9zM560.7 234.8l2.1 .1 -.9 -4.1zM565.2 234.9l2.1 0 -1 -4.1zM569.8 234.9l2.1 -.1 -1.2 -4zM574.4 234.9l2 -.1 -1.2 -3.8zM480.4 230.4l-2 -.1 .7 3.9zM485 230.3l-2 0 1 3.9zM489.6 230.3l-2 .1 1.2 3.8zM560.7 230.3l2 .1 -.7 -3.9zM565.3 230.3l2 0 -1 -3.9zM569.9 230.4l2 -.1 -1.2 -3.8zM442.9 204.2l0 -2 -3.9 1zM447.5 204.2l0 -2 -3.9 1.1zM520.6 202.2l0 2 3.9 -.9zM525.2 202.2l0 2 3.9 -1zM529.7 202.2l0 2 3.9 -1.1zM602.8 204.2l0 -2 -3.9 .9zM607.4 204.2l0 -2 -3.9 1z"/></g><use href="#h6" transform="matrix(1 0 0 -1 0 401.8)"/>
<g id="h7"><path fill="#58e5e8" d="M674.3 239.4l-.9 0 .4 1.1zM720 239.4l-.9 0 .4 1.1zM728.3 239.4l.9 0 -.4 -1.1zM674.3 234.9l-.9 0 .4 1.1zM720 234.9l-.9 0 .4 1.1zM728.3 234.9l.9 0 -.4 -1.1zM674.3 230.3l-.9 0 .4 1.1zM720 230.3l-.9 0 .4 1.1zM728.3 230.3l.9 0 -.4 -1.1zM674.3 225.8l-.9 0 .4 1.1zM720 225.8l-.9 0 .4 1.1zM728.3 225.8l.9 0 -.4 -1.1zM674.3 221.3l-.9 0 .4 1.1zM720 221.3l-.9 0 .4 1.1zM728.3 221.3l.9 0 -.4 -1.1zM674.3 216.8l-.9 0 .4 1.1zM720 216.8l-.9 0 .4 1.1zM728.3 216.8l.9 0 -.4 -1.1zM674.3 212.2l-.9 0 .4 1.1zM720 212.2l-.9 0 .4 1.1zM728.3 212.2l.9 0 -.4 -1.1zM674.3 207.7l-.9 0 .4 1.1zM720 207.7l-.9 0 .4 1.1zM728.3 207.7l.9 0 -.4 -1.1zM674.3 203.2l-.9 0 .4 1.1zM720 203.2l-.9 0 .4 1.1zM728.3 203.2l.9 0 -.4 -1.1zM674.3 198.6l-.9 0 .4 1.1zM720 198.6l-.9 0 .4 1.1zM728.3 198.6l.9 0 -.4 -1.1zM674.3 194.1l-.9 0 .4 1.1zM720 194.1l-.9 0 .4 1.1zM728.3 194.1l.9 0 -.4 -1.1zM674.3 189.6l-.9 0 .4 1.1zM720 189.6l-.9 0 .4 1.1zM728.3 189.6l.9 0 -.4 -1.1zM674.3 185l-.9 0 .4 1.1zM720 185l-.9 0 .4 1.1zM728.3 185l.9 0 -.4 -1.1zM674.3 180.5l-.9 0 .4 1.1zM720 180.5l-.9 0 .4 1.1zM728.3 180.5l.9 0 -.4 -1.1zM674.3 176l-.9 0 .4 1.1zM720 176l-.9 0 .4 1.1zM728.3 176l.9 0 -.4 -1.1zM674.3 171.5l-.9 0 .4 1.1zM720 171.5l-.9 0 .4 1.1zM728.3 171.5l.9 0 -.4 -1.1zM674.3 166.9l-.9 0 .4 1.1zM720 166.9l-.9 0 .4 1.1zM728.3 166.9l.9 0 -.4 -1.1zM674.3 162.4l-.9 0 .4 1.1zM720 162.4l-.9 0 .4 1.1zM728.3 162.4l.9 0 -.4 -1.1z"/><path fill="#47df5f" d="M679.1 239.4l-1.3 0 .6 2.1zM715.6 239.4l-1.3 0 .6 2.1zM732.6 239.4l1.3 0 -.6 -2.1zM679.1 234.9l-1.3 0 .6 2.1zM715.6 234.9l-1.3 0 .6 2.1zM732.6 234.9l1.3 0 -.6 -2.1zM679.1 230.3l-1.3 0 .6 2.1zM715.6 230.3l-1.3 0 .6 2.1zM732.6 230.3l1.3 0 -.6 -2.1zM679.1 225.8l-1.3 0 .6 2.1zM715.6 225.8l-1.3 0 .6 2.1zM732.6 225.8l1.3 0 -.6 -2.1zM679.1 221.3l-1.3 0 .6 2.1zM715.6 221.3l-1.3 0 .6 2.1zM732.6 221.3l1.3 0 -.6 -2.1zM679.1 216.8l-1.3 0 .6 2.1zM715.6 216.8l-1.3 0 .6 2.1zM732.6 216.8l1.3 0 -.6 -2.1zM679.1 212.2l-1.3 0 .6 2.1zM715.6 212.2l-1.3 0 .6 2.1zM732.6 212.2l1.3 0 -.6 -2.1zM679.1 207.7l-1.3 0 .6 2.1zM715.6 207.7l-1.3 0 .6 2.1zM732.6 207.7l1.3 0 -.6 -2.1zM679.1 203.2l-1.3 0 .6 2.1zM715.6 203.2l-1.3 0 .6 2.1zM732.6 203.2l1.3 0 -.6 -2.1zM679.1 198.6l-1.3 0 .6 2.1zM715.6 198.6l-1.3 0 .6 2.1zM732.6 198.6l1.3 0 -.6 -2.1zM679.1 194.1l-1.3 0 .6 2.1zM715.6 194.1l-1.3 0 .6 2.1zM732.6 194.1l1.3 0 -.6 -2.1zM679.1 189.6l-1.3 0 .6 2.1zM715.6 189.6l-1.3 0 .6 2.1zM732.6 189.6l1.3 0 -.6 -2.1zM679.1 185l-1.3 0 .6 2.1zM715.6 185l-1.3 0 .6 2.1zM732.6 185l1.3 0 -.6 -2.1zM679.1 180.5l-1.3 0 .6 2.1zM715.6 180.5l-1.3 0 .6 2.1zM732.6 180.5l1.3 0 -.6 -2.1zM679.1 176l-1.3 0 .6 2.1zM715.6 176l-1.3 0 .6 2.1zM732.6 176l1.3 0 -.6 -2.1zM679.1 171.5l-1.3 0 .6 2.1zM715.6 171.5l-1.3 0 .6 2.1zM732.6 171.5l1.3 0 -.6 -2.1zM679.1 166.9l-1.3 0 .6 2.1zM715.6 166.9l-1.3 0 .6 2.1zM732.6 166.9l1.3 0 -.6 -2.1zM679.1 162.4l-1.3 0 .6 2.1zM715.6 162.4l-1.3 0 .6 2.1zM732.6 162.4l1.3 0 -.6 -2.1z"/><path fill="#c4d728" d="M683.8 239.4l-1.6 0 .8 3zM711.2 239.4l-1.6 0 .8 3zM737 239.4l1.6 0 -.8 -3zM683.8 234.9l-1.6 0 .8 3zM711.2 234.9l-1.6 0 .8 3zM737 234.9l1.6 0 -.8 -3zM683.8 230.3l-1.6 0 .8 3zM711.2 230.3l-1.6 0 .8 3zM737 230.3l1.6 0 -.8 -3zM683.8 225.8l-1.6 0 .8 3zM711.2 225.8l-1.6 0 .8 3zM737 225.8l1.6 0 -.8 -3zM683.8 221.3l-1.6 0 .8 3zM711.2 221.3l-1.6 0 .8 3zM737 221.3l1.6 0 -.8 -3zM683.8 216.8l-1.6 0 .8 3zM711.2 216.8l-1.6 0 .8 3zM737 216.8l1.6 0 -.8 -3zM683.8 212.2l-1.6 0 .8 3zM711.2 212.2l-1.6 0 .8 3zM737 212.2l1.6 0 -.8 -3zM683.8 207.7l-1.6 0 .8 3zM711.2 207.7l-1.6 0 .8 3zM737 207.7l1.6 0 -.8 -3zM683.8 203.2l-1.6 0 .8 3zM711.2 203.2l-1.6 0 .8 3zM737 203.2l1.6 0 -.8 -3zM683.8 198.6l-1.6 0 .8 3zM711.2 198.6l-1.6 0 .8 3zM737 198.6l1.6 0 -.8 -3zM683.8 194.1l-1.6 0 .8 3zM711.2 194.1l-1.6 0 .8 3zM737 194.1l1.6 0 -.8 -3zM683.8 189.6l-1.6 0 .8 3zM711.2 189.6l-1.6 0 .8 3zM737 189.6l1.6 0 -.8 -3zM683.8 185l-1.6 0 .8 3zM711.2 185l-1.6 0 .8 3zM737 185l1.6 0 -.8 -3zM683.8 180.5l-1.6 0 .8 3zM711.2 180.5l-1.6 0 .8 3zM737 180.5l1.6 0 -.8 -3zM683.8 176l-1.6 0 .8 3zM711.2 176l-1.6 0 .8 3zM737 176l1.6 0 -.8 -3zM683.8 171.5l-1.6 0 .8 3zM711.2 171.5l-1.6 0 .8 3zM737 171.5l1.6 0 -.8 -3zM683.8 166.9l-1.6 0 .8 3zM711.2 166.9l-1.6 0 .8 3zM737 166.9l1.6 0 -.8 -3zM683.8 162.4l-1.6 0 .8 3zM711.2 162.4l-1.6 0 .8 3zM737 162.4l1.6 0 -.8 -3z"/><path fill="#d25419" d="M688.5 239.4l-1.9 0 .9 3.6zM706.8 239.4l-1.9 0 .9 3.6zM741.5 239.4l1.9 0 -.9 -3.6zM688.5 234.9l-1.9 0 .9 3.6zM706.8 234.9l-1.9 0 .9 3.6zM741.5 234.9l1.9 0 -.9 -3.6zM688.5 230.3l-1.9 0 .9 3.6zM706.8 230.3l-1.9 0 .9 3.6zM741.5 230.3l1.9 0 -.9 -3.6zM688.5 225.8l-1.9 0 .9 3.6zM706.8 225.8l-1.9 0 .9 3.6zM741.5 225.8l1.9 0 -.9 -3.6zM688.5 221.3l-1.9 0 .9 3.6zM706.8 221.3l-1.9 0 .9 3.6zM741.5 221.3l1.9 0 -.9 -3.6zM688.5 216.8l-1.9 0 .9 3.6zM706.8 216.8l-1.9 0 .9 3.6zM741.5 216.8l1.9 0 -.9 -3.6zM688.5 212.2l-1.9 0 .9 3.6zM706.8 212.2l-1.9 0 .9 3.6zM741.5 212.2l1.9 0 -.9 -3.6zM688.5 207.7l-1.9 0 .9 3.6zM706.8 207.7l-1.9 0 .9 3.6zM741.5 207.7l1.9 0 -.9 -3.6zM688.5 203.2l-1.9 0 .9 3.6zM706.8 203.2l-1.9 0 .9 3.6zM741.5 203.2l1.9 0 -.9 -3.6zM688.5 198.6l-1.9 0 .9 3.6zM706.8 198.6l-1.9 0 .9 3.6zM741.5 198.6l1.9 0 -.9 -3.6zM688.5 194.1l-1.9 0 .9 3.6zM706.8 194.1l-1.9 0 .9 3.6zM741.5 194.1l1.9 0 -.9 -3.6zM688.5 189.6l-1.9 0 .9 3.6zM706.8 189.6l-1.9 0 .9 3.6zM741.5 189.6l1.9 0 -.9 -3.6zM688.5 185l-1.9 0 .9 3.6zM706.8 185l-1.9 0 .9 3.6zM741.5 185l1.9 0 -.9 -3.6zM688.5 180.5l-1.9 0 .9 3.6zM706.8 180.5l-1.9 0 .9 3.6zM741.5 180.5l1.9 0 -.9 -3.6zM688.5 176l-1.9 0 .9 3.6zM706.8 176l-1.9 0 .9 3.6zM741.5 176l1.9 0 -.9 -3.6zM688.5 171.5l-1.9 0 .9 3.6zM706.8 171.5l-1.9 0 .9 3.6zM741.5 171.5l1.9 0 -.9 -3.6zM688.5 166.9l-1.9 0 .9 3.6zM706.8 166.9l-1.9 0 .9 3.6zM741.5 166.9l1.9 0 -.9 -3.6zM688.5 162.4l-1.9 0 .9 3.6zM706.8 162.4l-1.9 0 .9 3.6zM741.5 162.4l1.9 0 -.9 -3.6z"/><path fill="#d21919" d="M693.2 239.4l-2.1 0 1 4.1zM697.8 239.4l-2.1 0 1.1 4.2zM702.3 239.4l-2.1 0 1 4.1zM745.9 239.4l2.1 0 -1 -4.1zM693.2 234.9l-2.1 0 1 4.1zM697.8 234.9l-2.1 0 1.1 4.2zM702.3 234.9l-2.1 0 1 4.1zM745.9 234.9l2.1 0 -1 -4.1zM693.2 230.3l-2.1 0 1 4.1zM697.8 230.3l-2.1 0 1.1 4.2zM702.3 230.3l-2.1 0 1 4.1zM745.9 230.3l2.1 0 -1 -4.1zM693.2 225.8l-2.1 0 1 4.1zM697.8 225.8l-2.1 0 1.1 4.2zM702.3 225.8l-2.1 0 1 4.1zM745.9 225.8l2.1 0 -1 -4.1zM693.2 221.3l-2.1 0 1 4.1zM697.8 221.3l-2.1 0 1.1 4.2zM702.3 221.3l-2.1 0 1 4.1zM745.9 221.3l2.1 0 -1 -4.1zM693.2 216.8l-2.1 0 1 4.1zM697.8 216.8l-2.1 0 1.1 4.2zM702.3 216.8l-2.1 0 1 4.1zM745.9 216.8l2.1 0 -1 -4.1zM693.2 212.2l-2.1 0 1 4.1zM697.8 212.2l-2.1 0 1.1 4.2zM702.3 212.2l-2.1 0 1 4.1zM745.9 212.2l2.1 0 -1 -4.1zM693.2 207.7l-2.1 0 1 4.1zM697.8 207.7l-2.1 0 1.1 4.2zM702.3 207.7l-2.1 0 1 4.1zM745.9 207.7l2.1 0 -1 -4.1zM693.2 203.2l-2.1 0 1 4.1zM697.8 203.2l-2.1 0 1.1 4.2zM702.3 203.2l-2.1 0 1 4.1zM745.9 203.2l2.1 0 -1 -4.1zM693.2 198.6l-2.1 0 1 4.1zM697.8 198.6l-2.1 0 1.1 4.2zM702.3 198.6l-2.1 0 1 4.1zM745.9 198.6l2.1 0 -1 -4.1zM693.2 194.1l-2.1 0 1 4.1zM697.8 194.1l-2.1 0 1.1 4.2zM702.3 194.1l-2.1 0 1 4.1zM745.9 194.1l2.1 0 -1 -4.1zM693.2 189.6l-2.1 0 1 4.1zM697.8 189.6l-2.1 0 1.1 4.2zM702.3 189.6l-2.1 0 1 4.1zM745.9 189.6l2.1 0 -1 -4.1zM693.2 185l-2.1 0 1 4.1zM697.8 185l-2.1 0 1.1 4.2zM702.3 185l-2.1 0 1 4.1zM745.9 185l2.1 0 -1 -4.1zM693.2 180.5l-2.1 0 1 4.1zM697.8 180.5l-2.1 0 1.1 4.2zM702.3 180.5l-2.1 0 1 4.1zM745.9 180.5l2.1 0 -1 -4.1zM693.2 176l-2.1 0 1 4.1zM697.8 176l-2.1 0 1.1 4.2zM702.3 176l-2.1 0 1 4.1zM745.9 176l2.1 0 -1 -4.1zM693.2 171.5l-2.1 0 1 4.1zM697.8 171.5l-2.1 0 1.1 4.2zM702.3 171.5l-2.1 0 1 4.1zM745.9 171.5l2.1 0 -1 -4.1zM693.2 166.9l-2.1 0 1 4.1zM697.8 166.9l-2.1 0 1.1 4.2zM702.3 166.9l-2.1 0 1 4.1zM745.9 166.9l2.1 0 -1 -4.1zM693.2 162.4l-2.1 0 1 4.1zM697.8 162.4l-2.1 0 1.1 4.2zM702.3 162.4l-2.1 0 1 4.1zM745.9 162.4l2.1 0 -1 -4.1z"/></g><use href="#h7" transform="matrix(-1 0 0 1 1503.1 0)"/><path fill="#d21919" d="M750.5 239.4l2.1 0 -1.1 -4.2zM750.5 234.9l2.1 0 -1.1 -4.2zM750.5 230.3l2.1 0 -1.1 -4.2zM750.5 225.8l2.1 0 -1.1 -4.2zM750.5 221.3l2.1 0 -1.1 -4.2zM750.5 216.8l2.1 0 -1.1 -4.2zM750.5 212.2l2.1 0 -1.1 -4.2zM750.5 207.7l2.1 0 -1.1 -4.2zM750.5 203.2l2.1 0 -1.1 -4.2zM750.5 198.6l2.1 0 -1.1 -4.2zM750.5 194.1l2.1 0 -1.1 -4.2zM750.5 189.6l2.1 0 -1.1 -4.2zM750.5 185l2.1 0 -1.1 -4.2zM750.5 180.5l2.1 0 -1.1 -4.2zM750.5 176l2.1 0 -1.1 -4.2zM750.5 171.5l2.1 0 -1.1 -4.2zM750.5 166.9l2.1 0 -1.1 -4.2zM750.5 162.4l2.1 0 -1.1 -4.2z"/>
<g id="h8"><g id="q8"><path fill="#58e5e8" d="M13.4 359.6l.9 0 -.4 -1.1zM59.1 359.6l.9 0 -.4 -1.1zM69.1 359.6l-.9 0 .4 1.1zM13.5 355.3l.8 -.4 -.9 -.9zM59.2 354.9l.8 .4 .1 -1.3zM69.1 354.9l-.8 .4 .9 .9zM9.3 351l0 -.9 -1.1 .4zM64.1 350.1l0 .9 1.1 -.4zM36.3 327.9l.9 0 -.4 -1.1z"/><path fill="#57e4c0" d="M13.5 350.9l.7 -.7 -1.4 -.6zM59.2 350.2l.7 .7 .7 -1.4zM69.1 350.2l-.7 .7 1.4 .6zM31.7 328.2l.8 -.5 -1.1 -.8zM40.9 327.6l.8 .5 .3 -1.4zM87.4 327.6l-.8 .5 1.1 .8z"/><path fill="#4fe291" d="M9.3 346.5l0 -1.1 -1.6 .5zM13.6 346.5l.6 -1 -1.8 -.4zM59.3 345.5l.6 1 1.2 -1.4zM64.1 345.5l0 1.1 1.6 -.5zM69 345.5l-.6 1 1.8 .4zM27.3 328.4l.6 -.9 -1.8 -.5zM45.5 327.4l.6 .9 1.1 -1.5zM82.7 327.4l-.6 .9 1.8 .5zM27.5 323.9l.2 -1 -1.6 .2zM45.7 322.9l.2 1 1.4 -.8zM82.5 322.9l-.2 1 1.6 -.2z"/><path fill="#47df5f" d="M17.8 359.6l1.3 0 -.6 -2.1zM54.4 359.6l1.3 0 -.6 -2.1zM73.9 359.6l-1.3 0 .6 2.1zM9.3 342.1l0 -1.2 -2 .6zM13.6 342.1l.5 -1.2 -2.2 -.2zM59.3 340.9l.5 1.2 1.7 -1.4zM64.1 340.9l0 1.2 2 -.6zM68.9 340.9l-.5 1.2 2.2 .2zM27.1 332.8l1 -.8 -1.8 -1.2zM31.6 332.6l1.1 -.4 -1.3 -1.6zM36.1 332.4l1.2 0 -.6 -1.9zM40.7 332.2l1.1 .4 .1 -2zM45.4 332l1 .8 .8 -2zM82.9 332l-1 .8 1.8 1.2zM87.5 332.2l-1.1 .4 1.3 1.6z"/><path fill="#5adc3e" d="M17.8 355.2l1.3 -.3 -1.1 -1.9zM54.4 354.9l1.3 .3 -.2 -2.2zM73.9 354.9l-1.3 .3 1.1 1.9zM17.8 350.8l1.2 -.6 -1.5 -1.7zM54.4 350.3l1.2 .6 .3 -2.2zM73.9 350.3l-1.2 .6 1.5 1.7zM17.9 346.4l1.1 -.8 -1.9 -1.4zM54.5 345.6l1.1 .8 .8 -2.2zM73.8 345.6l-1.1 .8 1.9 1.4zM18 342l.9 -1 -2.2 -1zM54.5 341l.9 1 1.3 -2.1zM73.7 341l-.9 1 2.2 1zM9.3 337.6l0 -1.4 -2.4 .7zM13.7 337.6l.4 -1.3 -2.5 0zM59.4 336.3l.4 1.3 2.1 -1.3zM64.1 336.3l0 1.4 2.4 -.7zM68.9 336.3l-.4 1.3 2.5 0zM22.6 333l.8 -1.1 -2.3 -.8zM50 331.9l.8 1.1 1.5 -1.9zM78.2 331.9l-.8 1.1 2.3 .8zM22.8 328.5l.5 -1.2 -2.3 -.2zM50.2 327.3l.5 1.2 1.8 -1.4zM78.1 327.3l-.5 1.2 2.3 .2zM22.9 324l.2 -1.3 -2.2 .4zM50.3 322.7l.2 1.3 2 -.9zM77.9 322.7l-.2 1.3 2.2 -.4z"/><path fill="#8cda32" d="M22.4 341.9l1.2 -.8 -2 -1.8zM49.8 341.1l1.2 .8 .8 -2.6zM78.5 341.1l-1.2 .8 2 1.8zM18.1 337.6l.7 -1.2 -2.4 -.7zM22.5 337.4l1 -1 -2.2 -1.3zM26.9 337.3l1.3 -.7 -1.8 -1.9zM31.4 337.1l1.4 -.4 -1.3 -2.3zM36 337l1.5 0 -.7 -2.5zM40.6 336.8l1.4 .4 -.1 -2.6zM45.2 336.6l1.3 .7 .6 -2.5zM49.9 336.5l1 1 1.2 -2.3zM54.6 336.4l.7 1.2 1.7 -1.9zM73.6 336.4l-.7 1.2 2.4 .7zM78.4 336.5l-1 1 2.2 1.3zM83 336.6l-1.3 .7 1.8 1.9zM87.7 336.8l-1.4 .4 1.3 2.3zM9.3 333.2l0 -1.5 -2.7 .8zM13.7 333.2l.3 -1.5 -2.7 .2zM18.2 333.1l.5 -1.3 -2.6 -.3zM54.7 331.8l.5 1.3 2 -1.6zM59.4 331.7l.3 1.5 2.4 -1.2zM64.1 331.7l0 1.5 2.7 -.8zM68.8 331.7l-.3 1.5 2.7 -.2zM73.5 331.8l-.5 1.3 2.6 .3zM18.3 328.6l.3 -1.4 -2.6 .1zM54.8 327.2l.3 1.4 2.3 -1.3zM73.4 327.2l-.3 1.4 2.6 -.1zM18.4 324.1l.1 -1.5 -2.6 .5zM54.9 322.6l.1 1.5 2.5 -.9zM73.3 322.6l-.1 1.5 2.6 -.5z"/><path fill="#c4d728" d="M22.2 359.6l1.6 0 -.8 -3zM49.6 359.6l1.6 0 -.8 -3zM78.7 359.6l-1.6 0 .8 3zM22.2 355.2l1.6 -.2 -1.2 -2.8zM49.6 355l1.6 .2 -.4 -3zM78.6 355l-1.6 .2 1.2 2.8zM22.2 350.8l1.5 -.4 -1.5 -2.6zM49.7 350.3l1.5 .4 0 -3zM78.6 350.3l-1.5 .4 1.5 2.6zM22.3 346.3l1.4 -.6 -1.8 -2.2zM49.7 345.7l1.4 .6 .4 -2.8zM78.5 345.7l-1.4 .6 1.8 2.2zM26.8 341.8l1.5 -.6 -1.7 -2.4zM45.1 341.2l1.5 .6 .3 -3zM83.2 341.2l-1.5 .6 1.7 2.4zM9.3 328.7l0 -1.6 -2.9 .8zM13.8 328.7l.2 -1.5 -2.8 .5zM59.5 327.1l.2 1.5 2.7 -1.1zM64.1 327.1l0 1.6 2.9 -.8zM68.8 327.1l-.2 1.5 2.8 -.5zM9.3 324.2l0 -1.6 -3 .8zM13.8 324.2l.1 -1.6 -2.9 .7zM59.5 322.6l.1 1.6 2.8 -.9zM64.1 322.6l0 1.6 3 -.8zM68.7 322.6l-.1 1.6 2.9 -.7z"/><path fill="#d4d41f" d="M26.7 346.2l1.7 -.4 -1.6 -2.9zM45 345.8l1.7 .4 -.1 -3.3zM83.2 345.8l-1.7 .4 1.6 2.9zM31.3 341.6l1.6 -.3 -1.3 -2.9zM35.9 341.5l1.7 0 -.8 -3.1zM40.5 341.3l1.6 .3 -.3 -3.1zM87.8 341.3l-1.6 .3 1.3 2.9z"/><path fill="#d29819" d="M26.6 355.1l1.9 -.1 -1.2 -3.5zM44.9 355l1.9 .1 -.7 -3.6zM83.3 355l-1.9 .1 1.2 3.5zM26.7 350.7l1.8 -.3 -1.4 -3.3zM45 350.4l1.8 .3 -.4 -3.5zM83.3 350.4l-1.8 .3 1.4 3.3zM31.2 346.1l1.8 -.2 -1.3 -3.3zM35.8 346l1.9 0 -.9 -3.6zM40.4 345.9l1.8 .2 -.5 -3.6zM87.9 345.9l-1.8 .2 1.3 3.3z"/><path fill="#d25419" d="M26.6 359.6l1.9 0 -.9 -3.6zM44.9 359.6l1.9 0 -.9 -3.6zM83.4 359.6l-1.9 0 .9 3.6zM31.2 350.6l2 -.1 -1.3 -3.7zM40.3 350.5l2 .1 -.7 -3.9zM88 350.5l-2 .1 1.3 3.7z"/><path fill="#d21919" d="M31.1 359.6l2.1 0 -1 -4.1zM35.7 359.6l2.1 0 -1.1 -4.2zM40.3 359.6l2.1 0 -1 -4.1zM88 359.6l-2.1 0 1 4.1zM31.1 355.1l2 -.1 -1.2 -4zM35.7 355.1l2.1 0 -1 -4.1zM40.3 355l2 .1 -.9 -4zM88 355l-2 .1 1.2 4zM35.7 350.5l2 0 -1 -3.9z"/></g><use href="#q8" transform="matrix(-1 0 0 1 183.1 0)"/><path fill="#58e5e8" d="M92 327.9l-.9 0 .4 1.1z"/><path fill="#47df5f" d="M92.1 332.4l-1.2 0 .6 1.9z"/><path fill="#8cda32" d="M92.3 337l-1.5 0 .7 2.5z"/><path fill="#d4d41f" d="M92.4 341.5l-1.7 0 .8 3.1z"/><path fill="#d29819" d="M92.5 346l-1.9 0 .9 3.6z"/><path fill="#d21919" d="M92.6 359.6l-2.1 0 1.1 4.2zM92.6 355.1l-2.1 0 1 4.1zM92.6 350.5l-2 0 1 3.9z"/></g><use href="#h8" transform="matrix(1 0 0 -1 0 642.2)"/>
<g id="h9"><g id="q9"><path fill="#58e5e8" d="M227.3 355.4l-.6 -.6 -.4 1.1zM273 354.8l-.6 .6 1.1 .5zM281.5 354.8l.6 .6 .4 -1.1z"/><path fill="#57e4c0" d="M232.1 359.6l-1 0 .5 1.5zM268.6 359.6l-1 0 .5 1.5zM285.9 359.6l1 0 -.5 -1.5z"/><path fill="#4fe291" d="M232 355.3l-1 -.5 -.2 1.7zM268.6 354.8l-1 .5 1.2 1.2zM285.9 354.8l1 .5 .2 -1.7zM222.4 351.1l0 -1 -1.5 .5zM227.2 351l-.5 -1 -1.2 1.2zM272.9 350.1l-.5 1 1.7 .2zM277.2 350l0 1 1.5 -.5zM281.6 350.1l.5 1 1.2 -1.2z"/><path fill="#47df5f" d="M236.7 359.6l-1.3 0 .6 2.1zM264.2 359.6l-1.3 0 .6 2.1zM290.3 359.6l1.3 0 -.6 -2.1zM232 351l-.9 -.8 -.9 1.8zM268.5 350.1l-.9 .8 1.8 1zM285.9 350.1l.9 .8 .9 -1.8z"/><path fill="#5adc3e" d="M236.7 355.2l-1.3 -.3 .1 2.2zM264.2 354.9l-1.3 .3 1.2 1.9zM290.3 354.9l1.3 .3 -.1 -2.2zM236.7 350.9l-1.2 -.6 -.5 2.3zM264.1 350.2l-1.2 .6 1.7 1.6zM290.4 350.2l1.2 .6 .5 -2.3zM222.4 346.7l0 -1.3 -2.2 .7zM227.2 346.6l-.4 -1.3 -1.9 1.3zM231.9 346.6l-.7 -1.1 -1.5 1.8zM268.5 345.4l-.7 1.1 2.3 .7zM272.9 345.4l-.4 1.3 2.3 0zM277.2 345.3l0 1.3 2.2 -.7zM281.6 345.4l.4 1.3 1.9 -1.3zM286 345.4l.7 1.1 1.5 -1.8zM249.3 327.4h1v1h-1zM249.3 322.9h1v1h-1z"/><path fill="#8cda32" d="M241.4 359.6l-1.5 0 .7 2.6zM259.7 359.6l-1.5 0 .7 2.6zM294.8 359.6l1.5 0 -.7 -2.6zM241.4 355.2l-1.4 -.2 .3 2.6zM259.7 355l-1.4 .2 1.1 2.4zM294.8 355l1.4 .2 -.3 -2.6zM241.4 350.8l-1.4 -.4 -.1 2.6zM259.6 350.3l-1.4 .4 1.4 2.2zM294.8 350.3l1.4 .4 .1 -2.6zM236.6 346.5l-1 -.9 -1 2.2zM241.3 346.3l-1.3 -.6 -.5 2.5zM259.6 345.7l-1.3 .6 1.7 1.9zM264 345.6l-1 .9 2.1 1.3zM290.4 345.6l1 .9 1 -2.2zM294.9 345.7l1.3 .6 .5 -2.5zM245.9 341.7l-1.3 -.4 -.1 2.3zM250.5 341.5l-1.3 0 .7 2.2zM255 341.3l-1.3 .4 1.4 1.9zM299.4 341.3l1.3 .4 .1 -2.3zM245.8 337.2l-1.1 -.5 -.3 2zM250.4 337l-1.2 0 .6 1.8zM254.9 336.7l-1.1 .5 1.4 1.5zM299.5 336.7l1.1 .5 .3 -2zM245.7 332.8l-.9 -.7 -.5 1.6zM250.3 332.4l-1 0 .5 1.3zM254.8 332.1l-.9 .7 1.4 .9zM299.6 332.1l.9 .7 .5 -1.6zM245.5 328.3l-.6 -.8 -.8 1.2zM254.7 327.5l-.6 .8 1.3 .4zM299.8 327.5l.6 .8 .8 -1.2zM245.4 323.8l-.2 -.9 -1 .7zM254.5 322.9l-.2 .9 1.2 -.2zM300 322.9l.2 .9 1 -.7z"/><path fill="#c4d728" d="M246 359.6l-1.6 0 .8 2.9zM250.6 359.6l-1.6 0 .8 3zM255.2 359.6l-1.6 0 .8 2.9zM299.3 359.6l1.6 0 -.8 -2.9zM246 355.1l-1.6 -.1 .6 2.9zM250.6 355.1l-1.6 0 .8 2.9zM255.2 355l-1.6 .1 1 2.8zM299.3 355l1.6 .1 -.6 -2.9zM246 350.7l-1.5 -.2 .4 2.8zM250.6 350.5l-1.5 0 .8 2.8zM255.1 350.4l-1.5 .2 1.1 2.6zM299.3 350.4l1.5 .2 -.4 -2.8zM245.9 346.2l-1.4 -.3 .1 2.6zM250.5 346l-1.4 0 .7 2.5zM255.1 345.8l-1.4 .3 1.3 2.3zM299.4 345.8l1.4 .3 -.1 -2.6zM222.4 342.3l0 -1.6 -2.8 .8zM227.1 342.2l-.3 -1.5 -2.6 1.3zM231.8 342.2l-.6 -1.4 -2.1 1.8zM236.6 342.1l-.9 -1.1 -1.6 2.1zM241.2 341.9l-1.1 -.8 -.9 2.3zM259.5 341.1l-1.1 .8 2 1.5zM264 340.9l-.9 1.1 2.4 1zM268.4 340.8l-.6 1.4 2.8 .4zM272.8 340.7l-.3 1.5 2.9 -.2zM277.2 340.7l0 1.6 2.8 -.8zM281.6 340.7l.3 1.5 2.6 -1.3zM286.1 340.8l.6 1.4 2.1 -1.8zM290.5 340.9l.9 1.1 1.6 -2.1zM295 341.1l1.1 .8 .9 -2.3zM236.5 337.6l-.7 -1.3 -2 1.9zM241.1 337.4l-.9 -1 -1.2 2zM259.4 336.5l-.9 1 2.1 1.1zM263.9 336.3l-.7 1.3 2.7 .6zM290.6 336.3l.7 1.3 2 -1.9zM295.1 336.5l.9 1 1.2 -2zM241 333l-.7 -1.1 -1.5 1.7zM259.3 331.9l-.7 1.1 2.2 .6zM295.2 331.9l.7 1.1 1.5 -1.7zM240.9 328.5l-.4 -1.2 -1.8 1.3zM259.2 327.3l-.4 1.2 2.2 .1zM295.3 327.3l.4 1.2 1.8 -1.3zM240.8 324l-.1 -1.3 -2 .9zM259 322.7l-.1 1.3 2.2 -.4zM295.4 322.7l.1 1.3 2 -.9z"/><path fill="#d4d41f" d="M231.8 337.7l-.5 -1.6 -2.7 1.7zM268.3 336.2l-.5 1.6 3.1 .1zM286.1 336.2l.5 1.6 2.7 -1.7zM236.4 333.2l-.5 -1.5 -2.4 1.7zM263.8 331.7l-.5 1.5 2.9 .2zM290.7 331.7l.5 1.5 2.4 -1.7z"/><path fill="#d29819" d="M222.4 337.8l0 -1.8 -3.4 .9zM227.1 337.8l-.2 -1.7 -3.1 1.3zM272.8 336.1l-.2 1.7 3.4 -.4zM277.2 336.1l0 1.8 3.4 -.9zM281.7 336.1l.2 1.7 3.1 -1.3zM231.7 333.3l-.4 -1.7 -3.1 1.5zM268.3 331.6l-.4 1.7 3.4 -.2zM286.2 331.6l.4 1.7 3.1 -1.5zM236.3 328.7l-.3 -1.6 -2.7 1.4zM263.7 327.1l-.3 1.6 3 -.2zM290.8 327.1l.3 1.6 2.7 -1.4zM236.2 324.2l-.1 -1.6 -2.9 1zM263.6 322.6l-.1 1.6 3 -.6zM290.9 322.6l.1 1.6 2.9 -1z"/><path fill="#d25419" d="M222.4 333.4l0 -1.9 -3.8 1zM227.1 333.4l-.2 -1.9 -3.5 1.3zM272.8 331.5l-.2 1.9 3.7 -.6zM277.2 331.5l0 1.9 3.8 -1zM281.7 331.5l.2 1.9 3.5 -1.3zM231.6 328.8l-.2 -1.8 -3.4 1.3zM268.2 327l-.2 1.8 3.6 -.5zM286.3 327l.2 1.8 3.4 -1.3zM231.6 324.3l-.1 -1.9 -3.6 1.1zM268.1 322.4l-.1 1.9 3.7 -.8zM286.3 322.4l.1 1.9 3.6 -1.1z"/><path fill="#d21919" d="M222.4 328.9l0 -2.1 -4 1zM227 328.9l-.1 -2 -3.8 1.2zM272.7 326.9l-.1 2 4 -.8zM277.2 326.9l0 2.1 4 -1zM281.7 326.9l.1 2 3.8 -1.2zM222.4 324.4l0 -2.1 -4.2 1.1zM227 324.4l0 -2.1 -4 1.1zM272.7 322.3l0 2.1 4.1 -1zM277.2 322.3l0 2.1 4.2 -1.1zM281.8 322.3l0 2.1 4 -1.1z"/></g><use href="#q9" transform="matrix(-1 0 0 1 609.3 0)"/><path fill="#5adc3e" d="M304.1 327.4h1v1h-1zM304.1 322.9h1v1h-1z"/><path fill="#8cda32" d="M304 341.5l1.3 0 -.7 -2.2zM304.1 337l1.2 0 -.6 -1.8zM304.2 332.4l1 0 -.5 -1.3z"/><path fill="#c4d728" d="M303.8 359.6l1.6 0 -.8 -3zM303.8 355.1l1.6 0 -.8 -2.9zM303.9 350.5l1.5 0 -.8 -2.8zM303.9 346l1.4 0 -.7 -2.5z"/></g><use href="#h9" transform="matrix(1 0 0 -1 0 642.2)"/>
<g id="h10"><path fill="#57e4c0" d="M448 359.6l-1 0 .5 1.4zM480 359.6l-1 0 .5 1.4zM488.1 359.6l1 0 -.5 -1.4zM520.1 359.6l1 0 -.5 -1.4zM530.2 359.6l-1 0 .5 1.4zM562.2 359.6l-1 0 .5 1.4zM570.3 359.6l1 0 -.5 -1.4zM602.3 359.6l1 0 -.5 -1.4zM448 355.1l-1 0 .5 1.4zM480 355.1l-1 0 .5 1.4zM488.1 355.1l1 0 -.5 -1.4zM520.1 355.1l1 0 -.5 -1.4zM530.2 355.1l-1 0 .5 1.4zM562.2 355.1l-1 0 .5 1.4zM570.3 355.1l1 0 -.5 -1.4zM602.3 355.1l1 0 -.5 -1.4zM448 350.5l-1 0 .5 1.4zM480 350.5l-1 0 .5 1.4zM488.1 350.5l1 0 -.5 -1.4zM520.1 350.5l1 0 -.5 -1.4zM530.2 350.5l-1 0 .5 1.4zM562.2 350.5l-1 0 .5 1.4zM570.3 350.5l1 0 -.5 -1.4zM602.3 350.5l1 0 -.5 -1.4zM448 346l-1 0 .5 1.4zM480 346l-1 0 .5 1.4zM488.1 346l1 0 -.5 -1.4zM520.1 346l1 0 -.5 -1.4zM530.2 346l-1 0 .5 1.4zM562.2 346l-1 0 .5 1.4zM570.3 346l1 0 -.5 -1.4zM602.3 346l1 0 -.5 -1.4zM448 341.5l-1 0 .5 1.4zM480 341.5l-1 0 .5 1.4zM488.1 341.5l1 0 -.5 -1.4zM520.1 341.5l1 0 -.5 -1.4zM530.2 341.5l-1 0 .5 1.4zM562.2 341.5l-1 0 .5 1.4zM570.3 341.5l1 0 -.5 -1.4zM602.3 341.5l1 0 -.5 -1.4zM448 337l-1 0 .5 1.4zM480 337l-1 0 .5 1.4zM488.1 337l1 0 -.5 -1.4zM520.1 337l1 0 -.5 -1.4zM530.2 337l-1 0 .5 1.4zM562.2 337l-1 0 .5 1.4zM570.3 337l1 0 -.5 -1.4zM602.3 337l1 0 -.5 -1.4zM448 332.4l-1 0 .5 1.4zM480 332.4l-1 0 .5 1.4zM488.1 332.4l1 0 -.5 -1.4zM520.1 332.4l1 0 -.5 -1.4zM530.2 332.4l-1 0 .5 1.4zM562.2 332.4l-1 0 .5 1.4zM570.3 332.4l1 0 -.5 -1.4zM602.3 332.4l1 0 -.5 -1.4zM448 327.9l-1 0 .5 1.4zM480 327.9l-1 0 .5 1.4zM488.1 327.9l1 0 -.5 -1.4zM520.1 327.9l1 0 -.5 -1.4zM530.2 327.9l-1 0 .5 1.4zM562.2 327.9l-1 0 .5 1.4zM570.3 327.9l1 0 -.5 -1.4zM602.3 327.9l1 0 -.5 -1.4zM448 323.4l-1 0 .5 1.4zM480 323.4l-1 0 .5 1.4zM488.1 323.4l1 0 -.5 -1.4zM520.1 323.4l1 0 -.5 -1.4zM530.2 323.4l-1 0 .5 1.4zM562.2 323.4l-1 0 .5 1.4zM570.3 323.4l1 0 -.5 -1.4zM602.3 323.4l1 0 -.5 -1.4z"/><path fill="#8cda32" d="M452.8 359.6l-1.5 0 .8 2.7zM475.6 359.6l-1.5 0 .8 2.7zM492.4 359.6l1.5 0 -.8 -2.7zM515.3 359.6l1.5 0 -.8 -2.7zM535 359.6l-1.5 0 .8 2.7zM557.9 359.6l-1.5 0 .8 2.7zM574.7 359.6l1.5 0 -.8 -2.7zM597.5 359.6l1.5 0 -.8 -2.7zM452.8 355.1l-1.5 0 .8 2.7zM475.6 355.1l-1.5 0 .8 2.7zM492.4 355.1l1.5 0 -.8 -2.7zM515.3 355.1l1.5 0 -.8 -2.7zM535 355.1l-1.5 0 .8 2.7zM557.9 355.1l-1.5 0 .8 2.7zM574.7 355.1l1.5 0 -.8 -2.7zM597.5 355.1l1.5 0 -.8 -2.7zM452.8 350.5l-1.5 0 .8 2.7zM475.6 350.5l-1.5 0 .8 2.7zM492.4 350.5l1.5 0 -.8 -2.7zM515.3 350.5l1.5 0 -.8 -2.7zM535 350.5l-1.5 0 .8 2.7zM557.9 350.5l-1.5 0 .8 2.7zM574.7 350.5l1.5 0 -.8 -2.7zM597.5 350.5l1.5 0 -.8 -2.7zM452.8 346l-1.5 0 .8 2.7zM475.6 346l-1.5 0 .8 2.7zM492.4 346l1.5 0 -.8 -2.7zM515.3 346l1.5 0 -.8 -2.7zM535 346l-1.5 0 .8 2.7zM557.9 346l-1.5 0 .8 2.7zM574.7 346l1.5 0 -.8 -2.7zM597.5 346l1.5 0 -.8 -2.7zM452.8 341.5l-1.5 0 .8 2.7zM475.6 341.5l-1.5 0 .8 2.7zM492.4 341.5l1.5 0 -.8 -2.7zM515.3 341.5l1.5 0 -.8 -2.7zM535 341.5l-1.5 0 .8 2.7zM557.9 341.5l-1.5 0 .8 2.7zM574.7 341.5l1.5 0 -.8 -2.7zM597.5 341.5l1.5 0 -.8 -2.7zM452.8 337l-1.5 0 .8 2.7zM475.6 337l-1.5 0 .8 2.7zM492.4 337l1.5 0 -.8 -2.7zM515.3 337l1.5 0 -.8 -2.7zM535 337l-1.5 0 .8 2.7zM557.9 337l-1.5 0 .8 2.7zM574.7 337l1.5 0 -.8 -2.7zM597.5 337l1.5 0 -.8 -2.7zM452.8 332.4l-1.5 0 .8 2.7zM475.6 332.4l-1.5 0 .8 2.7zM492.4 332.4l1.5 0 -.8 -2.7zM515.3 332.4l1.5 0 -.8 -2.7zM535 332.4l-1.5 0 .8 2.7zM557.9 332.4l-1.5 0 .8 2.7zM574.7 332.4l1.5 0 -.8 -2.7zM597.5 332.4l1.5 0 -.8 -2.7zM452.8 327.9l-1.5 0 .8 2.7zM475.6 327.9l-1.5 0 .8 2.7zM492.4 327.9l1.5 0 -.8 -2.7zM515.3 327.9l1.5 0 -.8 -2.7zM535 327.9l-1.5 0 .8 2.7zM557.9 327.9l-1.5 0 .8 2.7zM574.7 327.9l1.5 0 -.8 -2.7zM597.5 327.9l1.5 0 -.8 -2.7zM452.8 323.4l-1.5 0 .8 2.7zM475.6 323.4l-1.5 0 .8 2.7zM492.4 323.4l1.5 0 -.8 -2.7zM515.3 323.4l1.5 0 -.8 -2.7zM535 323.4l-1.5 0 .8 2.7zM557.9 323.4l-1.5 0 .8 2.7zM574.7 323.4l1.5 0 -.8 -2.7zM597.5 323.4l1.5 0 -.8 -2.7z"/><path fill="#d25419" d="M457.6 359.6l-1.9 0 .9 3.6zM471.3 359.6l-1.9 0 .9 3.6zM496.8 359.6l1.9 0 -.9 -3.6zM510.5 359.6l1.9 0 -.9 -3.6zM539.8 359.6l-1.9 0 .9 3.6zM553.5 359.6l-1.9 0 .9 3.6zM579 359.6l1.9 0 -.9 -3.6zM592.7 359.6l1.9 0 -.9 -3.6zM457.6 355.1l-1.9 0 .9 3.6zM471.3 355.1l-1.9 0 .9 3.6zM496.8 355.1l1.9 0 -.9 -3.6zM510.5 355.1l1.9 0 -.9 -3.6zM539.8 355.1l-1.9 0 .9 3.6zM553.5 355.1l-1.9 0 .9 3.6zM579 355.1l1.9 0 -.9 -3.6zM592.7 355.1l1.9 0 -.9 -3.6zM457.6 350.5l-1.9 0 .9 3.6zM471.3 350.5l-1.9 0 .9 3.6zM496.8 350.5l1.9 0 -.9 -3.6zM510.5 350.5l1.9 0 -.9 -3.6zM539.8 350.5l-1.9 0 .9 3.6zM553.5 350.5l-1.9 0 .9 3.6zM579 350.5l1.9 0 -.9 -3.6zM592.7 350.5l1.9 0 -.9 -3.6zM457.6 346l-1.9 0 .9 3.6zM471.3 346l-1.9 0 .9 3.6zM496.8 346l1.9 0 -.9 -3.6zM510.5 346l1.9 0 -.9 -3.6zM539.8 346l-1.9 0 .9 3.6zM553.5 346l-1.9 0 .9 3.6zM579 346l1.9 0 -.9 -3.6zM592.7 346l1.9 0 -.9 -3.6zM457.6 341.5l-1.9 0 .9 3.6zM471.3 341.5l-1.9 0 .9 3.6zM496.8 341.5l1.9 0 -.9 -3.6zM510.5 341.5l1.9 0 -.9 -3.6zM539.8 341.5l-1.9 0 .9 3.6zM553.5 341.5l-1.9 0 .9 3.6zM579 341.5l1.9 0 -.9 -3.6zM592.7 341.5l1.9 0 -.9 -3.6zM457.6 337l-1.9 0 .9 3.6zM471.3 337l-1.9 0 .9 3.6zM496.8 337l1.9 0 -.9 -3.6zM510.5 337l1.9 0 -.9 -3.6zM539.8 337l-1.9 0 .9 3.6zM553.5 337l-1.9 0 .9 3.6zM579 337l1.9 0 -.9 -3.6zM592.7 337l1.9 0 -.9 -3.6zM457.6 332.4l-1.9 0 .9 3.6zM471.3 332.4l-1.9 0 .9 3.6zM496.8 332.4l1.9 0 -.9 -3.6zM510.5 332.4l1.9 0 -.9 -3.6zM539.8 332.4l-1.9 0 .9 3.6zM553.5 332.4l-1.9 0 .9 3.6zM579 332.4l1.9 0 -.9 -3.6zM592.7 332.4l1.9 0 -.9 -3.6zM457.6 327.9l-1.9 0 .9 3.6zM471.3 327.9l-1.9 0 .9 3.6zM496.8 327.9l1.9 0 -.9 -3.6zM510.5 327.9l1.9 0 -.9 -3.6zM539.8 327.9l-1.9 0 .9 3.6zM553.5 327.9l-1.9 0 .9 3.6zM579 327.9l1.9 0 -.9 -3.6zM592.7 327.9l1.9 0 -.9 -3.6zM457.6 323.4l-1.9 0 .9 3.6zM471.3 323.4l-1.9 0 .9 3.6zM496.8 323.4l1.9 0 -.9 -3.6zM510.5 323.4l1.9 0 -.9 -3.6zM539.8 323.4l-1.9 0 .9 3.6zM553.5 323.4l-1.9 0 .9 3.6zM579 323.4l1.9 0 -.9 -3.6zM592.7 323.4l1.9 0 -.9 -3.6z"/><path fill="#d21919" d="M462.2 359.6l-2.1 0 1 4.1zM466.8 359.6l-2.1 0 1 4.1zM501.3 359.6l2.1 0 -1 -4.1zM505.8 359.6l2.1 0 -1 -4.1zM544.5 359.6l-2.1 0 1 4.1zM549 359.6l-2.1 0 1 4.1zM583.5 359.6l2.1 0 -1 -4.1zM588.1 359.6l2.1 0 -1 -4.1zM462.2 355.1l-2.1 0 1 4.1zM466.8 355.1l-2.1 0 1 4.1zM501.3 355.1l2.1 0 -1 -4.1zM505.8 355.1l2.1 0 -1 -4.1zM544.5 355.1l-2.1 0 1 4.1zM549 355.1l-2.1 0 1 4.1zM583.5 355.1l2.1 0 -1 -4.1zM588.1 355.1l2.1 0 -1 -4.1zM462.2 350.5l-2.1 0 1 4.1zM466.8 350.5l-2.1 0 1 4.1zM501.3 350.5l2.1 0 -1 -4.1zM505.8 350.5l2.1 0 -1 -4.1zM544.5 350.5l-2.1 0 1 4.1zM549 350.5l-2.1 0 1 4.1zM583.5 350.5l2.1 0 -1 -4.1zM588.1 350.5l2.1 0 -1 -4.1zM462.2 346l-2.1 0 1 4.1zM466.8 346l-2.1 0 1 4.1zM501.3 346l2.1 0 -1 -4.1zM505.8 346l2.1 0 -1 -4.1zM544.5 346l-2.1 0 1 4.1zM549 346l-2.1 0 1 4.1zM583.5 346l2.1 0 -1 -4.1zM588.1 346l2.1 0 -1 -4.1zM462.2 341.5l-2.1 0 1 4.1zM466.8 341.5l-2.1 0 1 4.1zM501.3 341.5l2.1 0 -1 -4.1zM505.8 341.5l2.1 0 -1 -4.1zM544.5 341.5l-2.1 0 1 4.1zM549 341.5l-2.1 0 1 4.1zM583.5 341.5l2.1 0 -1 -4.1zM588.1 341.5l2.1 0 -1 -4.1zM462.2 337l-2.1 0 1 4.1zM466.8 337l-2.1 0 1 4.1zM501.3 337l2.1 0 -1 -4.1zM505.8 337l2.1 0 -1 -4.1zM544.5 337l-2.1 0 1 4.1zM549 337l-2.1 0 1 4.1zM583.5 337l2.1 0 -1 -4.1zM588.1 337l2.1 0 -1 -4.1zM462.2 332.4l-2.1 0 1 4.1zM466.8 332.4l-2.1 0 1 4.1zM501.3 332.4l2.1 0 -1 -4.1zM505.8 332.4l2.1 0 -1 -4.1zM544.5 332.4l-2.1 0 1 4.1zM549 332.4l-2.1 0 1 4.1zM583.5 332.4l2.1 0 -1 -4.1zM588.1 332.4l2.1 0 -1 -4.1zM462.2 327.9l-2.1 0 1 4.1zM466.8 327.9l-2.1 0 1 4.1zM501.3 327.9l2.1 0 -1 -4.1zM505.8 327.9l2.1 0 -1 -4.1zM544.5 327.9l-2.1 0 1 4.1zM549 327.9l-2.1 0 1 4.1zM583.5 327.9l2.1 0 -1 -4.1zM588.1 327.9l2.1 0 -1 -4.1zM462.2 323.4l-2.1 0 1 4.1zM466.8 323.4l-2.1 0 1 4.1zM501.3 323.4l2.1 0 -1 -4.1zM505.8 323.4l2.1 0 -1 -4.1zM544.5 323.4l-2.1 0 1 4.1zM549 323.4l-2.1 0 1 4.1zM583.5 323.4l2.1 0 -1 -4.1zM588.1 323.4l2.1 0 -1 -4.1z"/></g><use href="#h10" transform="matrix(-1 0 0 -1 1050.3 642.2)"/>
<g id="h11"><path fill="#4fe291" d="M669.3 355.6l0 -1 -1.5 .5zM673.9 355.6l0 -1 -1.5 .5zM678.4 355.6l0 -1 -1.5 .5zM683 355.6l0 -1 -1.5 .5zM687.6 355.6l0 -1 -1.5 .5zM692.1 355.6l0 -1 -1.5 .5zM696.7 355.6l0 -1 -1.5 .5zM701.3 355.6l0 -1 -1.5 .5zM705.9 355.6l0 -1 -1.5 .5zM710.4 355.6l0 -1 -1.5 .5zM715 355.6l0 -1 -1.5 .5zM719.6 355.6l0 -1 -1.5 .5zM724.1 355.6l0 -1 -1.5 .5zM728.7 355.6l0 -1 -1.5 .5zM733.3 355.6l0 -1 -1.5 .5zM737.8 355.6l0 -1 -1.5 .5zM742.4 355.6l0 -1 -1.5 .5zM747 355.6l0 -1 -1.5 .5zM751.5 355.6l0 -1 -1.5 .5zM756.1 355.6l0 -1 -1.5 .5zM760.7 355.6l0 -1 -1.5 .5zM765.3 355.6l0 -1 -1.5 .5zM769.8 355.6l0 -1 -1.5 .5zM774.4 355.6l0 -1 -1.5 .5zM779 355.6l0 -1 -1.5 .5zM783.5 355.6l0 -1 -1.5 .5zM788.1 355.6l0 -1 -1.5 .5zM792.7 355.6l0 -1 -1.5 .5zM797.2 355.6l0 -1 -1.5 .5zM801.8 355.6l0 -1 -1.5 .5zM806.4 355.6l0 -1 -1.5 .5zM811 355.6l0 -1 -1.5 .5zM815.5 355.6l0 -1 -1.5 .5zM820.1 355.6l0 -1 -1.5 .5zM824.7 355.6l0 -1 -1.5 .5zM829.2 355.6l0 -1 -1.5 .5zM833.8 355.6l0 -1 -1.5 .5z"/><path fill="#5adc3e" d="M669.3 328.6l0 -1.3 -2.2 .7zM673.9 328.6l0 -1.3 -2.2 .7zM678.4 328.6l0 -1.3 -2.2 .7zM683 328.6l0 -1.3 -2.2 .7zM687.6 328.6l0 -1.3 -2.2 .7zM692.1 328.6l0 -1.3 -2.2 .7zM696.7 328.6l0 -1.3 -2.2 .7zM701.3 328.6l0 -1.3 -2.2 .7zM705.9 328.6l0 -1.3 -2.2 .7zM710.4 328.6l0 -1.3 -2.2 .7zM715 328.6l0 -1.3 -2.2 .7zM719.6 328.6l0 -1.3 -2.2 .7zM724.1 328.6l0 -1.3 -2.2 .7zM728.7 328.6l0 -1.3 -2.2 .7zM733.3 328.6l0 -1.3 -2.2 .7zM737.8 328.6l0 -1.3 -2.2 .7zM742.4 328.6l0 -1.3 -2.2 .7zM747 328.6l0 -1.3 -2.2 .7zM751.5 328.6l0 -1.3 -2.2 .7zM756.1 328.6l0 -1.3 -2.2 .7zM760.7 328.6l0 -1.3 -2.2 .7zM765.3 328.6l0 -1.3 -2.2 .7zM769.8 328.6l0 -1.3 -2.2 .7zM774.4 328.6l0 -1.3 -2.2 .7zM779 328.6l0 -1.3 -2.2 .7zM783.5 328.6l0 -1.3 -2.2 .7zM788.1 328.6l0 -1.3 -2.2 .7zM792.7 328.6l0 -1.3 -2.2 .7zM797.2 328.6l0 -1.3 -2.2 .7zM801.8 328.6l0 -1.3 -2.2 .7zM806.4 328.6l0 -1.3 -2.2 .7zM811 328.6l0 -1.3 -2.2 .7zM815.5 328.6l0 -1.3 -2.2 .7zM820.1 328.6l0 -1.3 -2.2 .7zM824.7 328.6l0 -1.3 -2.2 .7zM829.2 328.6l0 -1.3 -2.2 .7zM833.8 328.6l0 -1.3 -2.2 .7z"/><path fill="#c4d728" d="M669.3 351.3l0 -1.6 -2.8 .8zM673.9 351.3l0 -1.6 -2.8 .8zM678.4 351.3l0 -1.6 -2.8 .8zM683 351.3l0 -1.6 -2.8 .8zM687.6 351.3l0 -1.6 -2.8 .8zM692.1 351.3l0 -1.6 -2.8 .8zM696.7 351.3l0 -1.6 -2.8 .8zM701.3 351.3l0 -1.6 -2.8 .8zM705.9 351.3l0 -1.6 -2.8 .8zM710.4 351.3l0 -1.6 -2.8 .8zM715 351.3l0 -1.6 -2.8 .8zM719.6 351.3l0 -1.6 -2.8 .8zM724.1 351.3l0 -1.6 -2.8 .8zM728.7 351.3l0 -1.6 -2.8 .8zM733.3 351.3l0 -1.6 -2.8 .8zM737.8 351.3l0 -1.6 -2.8 .8zM742.4 351.3l0 -1.6 -2.8 .8zM747 351.3l0 -1.6 -2.8 .8zM751.5 351.3l0 -1.6 -2.8 .8zM756.1 351.3l0 -1.6 -2.8 .8zM760.7 351.3l0 -1.6 -2.8 .8zM765.3 351.3l0 -1.6 -2.8 .8zM769.8 351.3l0 -1.6 -2.8 .8zM774.4 351.3l0 -1.6 -2.8 .8zM779 351.3l0 -1.6 -2.8 .8zM783.5 351.3l0 -1.6 -2.8 .8zM788.1 351.3l0 -1.6 -2.8 .8zM792.7 351.3l0 -1.6 -2.8 .8zM797.2 351.3l0 -1.6 -2.8 .8zM801.8 351.3l0 -1.6 -2.8 .8zM806.4 351.3l0 -1.6 -2.8 .8zM811 351.3l0 -1.6 -2.8 .8zM815.5 351.3l0 -1.6 -2.8 .8zM820.1 351.3l0 -1.6 -2.8 .8zM824.7 351.3l0 -1.6 -2.8 .8zM829.2 351.3l0 -1.6 -2.8 .8zM833.8 351.3l0 -1.6 -2.8 .8z"/><path fill="#d29819" d="M669.3 333.3l0 -1.8 -3.4 .9zM673.9 333.3l0 -1.8 -3.4 .9zM678.4 333.3l0 -1.8 -3.4 .9zM683 333.3l0 -1.8 -3.4 .9zM687.6 333.3l0 -1.8 -3.4 .9zM692.1 333.3l0 -1.8 -3.4 .9zM696.7 333.3l0 -1.8 -3.4 .9zM701.3 333.3l0 -1.8 -3.4 .9zM705.9 333.3l0 -1.8 -3.4 .9zM710.4 333.3l0 -1.8 -3.4 .9zM715 333.3l0 -1.8 -3.4 .9zM719.6 333.3l0 -1.8 -3.4 .9zM724.1 333.3l0 -1.8 -3.4 .9zM728.7 333.3l0 -1.8 -3.4 .9zM733.3 333.3l0 -1.8 -3.4 .9zM737.8 333.3l0 -1.8 -3.4 .9zM742.4 333.3l0 -1.8 -3.4 .9zM747 333.3l0 -1.8 -3.4 .9zM751.5 333.3l0 -1.8 -3.4 .9zM756.1 333.3l0 -1.8 -3.4 .9zM760.7 333.3l0 -1.8 -3.4 .9zM765.3 333.3l0 -1.8 -3.4 .9zM769.8 333.3l0 -1.8 -3.4 .9zM774.4 333.3l0 -1.8 -3.4 .9zM779 333.3l0 -1.8 -3.4 .9zM783.5 333.3l0 -1.8 -3.4 .9zM788.1 333.3l0 -1.8 -3.4 .9zM792.7 333.3l0 -1.8 -3.4 .9zM797.2 333.3l0 -1.8 -3.4 .9zM801.8 333.3l0 -1.8 -3.4 .9zM806.4 333.3l0 -1.8 -3.4 .9zM811 333.3l0 -1.8 -3.4 .9zM815.5 333.3l0 -1.8 -3.4 .9zM820.1 333.3l0 -1.8 -3.4 .9zM824.7 333.3l0 -1.8 -3.4 .9zM829.2 333.3l0 -1.8 -3.4 .9zM833.8 333.3l0 -1.8 -3.4 .9z"/><path fill="#d25419" d="M669.3 347l0 -1.9 -3.8 1zM673.9 347l0 -1.9 -3.8 1zM678.4 347l0 -1.9 -3.8 1zM683 347l0 -1.9 -3.8 1zM687.6 347l0 -1.9 -3.8 1zM692.1 347l0 -1.9 -3.8 1zM696.7 347l0 -1.9 -3.8 1zM701.3 347l0 -1.9 -3.8 1zM705.9 347l0 -1.9 -3.8 1zM710.4 347l0 -1.9 -3.8 1zM715 347l0 -1.9 -3.8 1zM719.6 347l0 -1.9 -3.8 1zM724.1 347l0 -1.9 -3.8 1zM728.7 347l0 -1.9 -3.8 1zM733.3 347l0 -1.9 -3.8 1zM737.8 347l0 -1.9 -3.8 1zM742.4 347l0 -1.9 -3.8 1zM747 347l0 -1.9 -3.8 1zM751.5 347l0 -1.9 -3.8 1zM756.1 347l0 -1.9 -3.8 1zM760.7 347l0 -1.9 -3.8 1zM765.3 347l0 -1.9 -3.8 1zM769.8 347l0 -1.9 -3.8 1zM774.4 347l0 -1.9 -3.8 1zM779 347l0 -1.9 -3.8 1zM783.5 347l0 -1.9 -3.8 1zM788.1 347l0 -1.9 -3.8 1zM792.7 347l0 -1.9 -3.8 1zM797.2 347l0 -1.9 -3.8 1zM801.8 347l0 -1.9 -3.8 1zM806.4 347l0 -1.9 -3.8 1zM811 347l0 -1.9 -3.8 1zM815.5 347l0 -1.9 -3.8 1zM820.1 347l0 -1.9 -3.8 1zM824.7 347l0 -1.9 -3.8 1zM829.2 347l0 -1.9 -3.8 1zM833.8 347l0 -1.9 -3.8 1z"/><path fill="#d21919" d="M669.3 342.5l0 -2.1 -4.2 1.1zM673.9 342.5l0 -2.1 -4.2 1.1zM678.4 342.5l0 -2.1 -4.2 1.1zM683 342.5l0 -2.1 -4.2 1.1zM687.6 342.5l0 -2.1 -4.2 1.1zM692.1 342.5l0 -2.1 -4.2 1.1zM696.7 342.5l0 -2.1 -4.2 1.1zM701.3 342.5l0 -2.1 -4.2 1.1zM705.9 342.5l0 -2.1 -4.2 1.1zM710.4 342.5l0 -2.1 -4.2 1.1zM715 342.5l0 -2.1 -4.2 1.1zM719.6 342.5l0 -2.1 -4.2 1.1zM724.1 342.5l0 -2.1 -4.2 1.1zM728.7 342.5l0 -2.1 -4.2 1.1zM733.3 342.5l0 -2.1 -4.2 1.1zM737.8 342.5l0 -2.1 -4.2 1.1zM742.4 342.5l0 -2.1 -4.2 1.1zM747 342.5l0 -2.1 -4.2 1.1zM751.5 342.5l0 -2.1 -4.2 1.1zM756.1 342.5l0 -2.1 -4.2 1.1zM760.7 342.5l0 -2.1 -4.2 1.1zM765.3 342.5l0 -2.1 -4.2 1.1zM769.8 342.5l0 -2.1 -4.2 1.1zM774.4 342.5l0 -2.1 -4.2 1.1zM779 342.5l0 -2.1 -4.2 1.1zM783.5 342.5l0 -2.1 -4.2 1.1zM788.1 342.5l0 -2.1 -4.2 1.1zM792.7 342.5l0 -2.1 -4.2 1.1zM797.2 342.5l0 -2.1 -4.2 1.1zM801.8 342.5l0 -2.1 -4.2 1.1zM806.4 342.5l0 -2.1 -4.2 1.1zM811 342.5l0 -2.1 -4.2 1.1zM815.5 342.5l0 -2.1 -4.2 1.1zM820.1 342.5l0 -2.1 -4.2 1.1zM824.7 342.5l0 -2.1 -4.2 1.1zM829.2 342.5l0 -2.1 -4.2 1.1zM833.8 342.5l0 -2.1 -4.2 1.1zM669.3 338l0 -2.1 -4 1zM673.9 338l0 -2.1 -4 1zM678.4 338l0 -2.1 -4 1zM683 338l0 -2.1 -4 1zM687.6 338l0 -2.1 -4 1zM692.1 338l0 -2.1 -4 1zM696.7 338l0 -2.1 -4 1zM701.3 338l0 -2.1 -4 1zM705.9 338l0 -2.1 -4 1zM710.4 338l0 -2.1 -4 1zM715 338l0 -2.1 -4 1zM719.6 338l0 -2.1 -4 1zM724.1 338l0 -2.1 -4 1zM728.7 338l0 -2.1 -4 1zM733.3 338l0 -2.1 -4 1zM737.8 338l0 -2.1 -4 1zM742.4 338l0 -2.1 -4 1zM747 338l0 -2.1 -4 1zM751.5 338l0 -2.1 -4 1zM756.1 338l0 -2.1 -4 1zM760.7 338l0 -2.1 -4 1zM765.3 338l0 -2.1 -4 1zM769.8 338l0 -2.1 -4 1zM774.4 338l0 -2.1 -4 1zM779 338l0 -2.1 -4 1zM783.5 338l0 -2.1 -4 1zM788.1 338l0 -2.1 -4 1zM792.7 338l0 -2.1 -4 1zM797.2 338l0 -2.1 -4 1zM801.8 338l0 -2.1 -4 1zM806.4 338l0 -2.1 -4 1zM811 338l0 -2.1 -4 1zM815.5 338l0 -2.1 -4 1zM820.1 338l0 -2.1 -4 1zM824.7 338l0 -2.1 -4 1zM829.2 338l0 -2.1 -4 1zM833.8 338l0 -2.1 -4 1z"/></g><use href="#h11" transform="matrix(-1 0 0 -1 1503.1 642.2)"/>
<g id="h12"><path fill="#58e5e8" d="M59.9 476.3l-.6 .7 1.2 .4zM64.5 476.4l-.6 .6 1.1 .5zM69 476.4l-.7 .5 1 .6zM73.6 476.5l-.7 .4 .9 .7zM73.5 471.8l-.5 .7 1.2 .3zM78.1 471.8l-.6 .6 1 .4zM78 467.2l-.3 .8 1.1 0zM77.9 462.6l-.1 .9 1.1 -.3zM77.7 458.1l.2 .8 .9 -.7zM77.6 453.7l.5 .7 .6 -.9zM73 449.2l.6 .6 .4 -1.1zM73 436.2l.6 -.6 -1.1 -.5zM77.6 431.7l.5 -.7 -1.1 -.2zM77.7 427.3l.2 -.8 -1.2 .2zM77.9 422.8l-.1 -.9 -1 .5zM78 418.2l-.3 -.8 -.8 .8zM73.5 413.6l-.5 -.7 -.7 1.1zM78.1 413.6l-.6 -.6 -.4 1zM59.9 409.1l-.6 -.7 -.6 1.1zM64.5 409l-.6 -.6 -.4 1.1zM69 409l-.7 -.5 -.3 1.1zM73.6 408.9l-.7 -.4 -.2 1.1z"/><path fill="#57e4c0" d="M23.1 476.2l-.2 1 1.5 -.3zM27.7 476.2l-.2 1 1.5 -.2zM32.3 476.2l-.3 1 1.5 -.1zM36.9 476.2l-.3 .9 1.5 0zM41.5 476.2l-.4 .9 1.4 .1zM46.1 476.2l-.4 .9 1.4 .2zM50.7 476.3l-.5 .8 1.3 .3zM55.3 476.3l-.5 .7 1.2 .3zM68.9 471.7l-.5 .9 1.4 .2zM73.4 467.1l-.3 .9 1.4 -.1zM73.3 462.6l-.1 1 1.5 -.4zM73.2 458.1l.2 1 1.3 -.7zM73.1 453.6l.4 .9 .9 -1zM59.3 449l.5 .9 1 -1.1zM63.9 449.1l.5 .8 .8 -1.1zM68.4 449.1l.6 .7 .6 -1.1zM59.3 436.4l.5 -.9 -1.5 -.2zM63.9 436.3l.5 -.8 -1.4 -.3zM68.4 436.3l.6 -.7 -1.2 -.4zM73.1 431.8l.4 -.9 -1.4 -.1zM73.2 427.3l.2 -1 -1.5 .2zM73.3 422.8l-.1 -1 -1.4 .6zM73.4 418.3l-.3 -.9 -1.1 .9zM68.9 413.7l-.5 -.9 -1 1.1zM23.1 409.2l-.2 -1 -1.4 .7zM27.7 409.2l-.2 -1 -1.3 .8zM32.3 409.2l-.3 -1 -1.2 .9zM36.9 409.2l-.3 -.9 -1.1 .9zM41.5 409.2l-.4 -.9 -1.1 1zM46.1 409.2l-.4 -.9 -.9 1zM50.7 409.1l-.5 -.8 -.8 1.1zM55.3 409.1l-.5 -.7 -.7 1.1z"/><path fill="#4fe291" d="M9.3 476.1l0 1 1.5 -.5zM13.9 476.1l-.1 1 1.5 -.4zM18.5 476.2l-.1 1 1.5 -.4zM59.8 471.6l-.4 1.1 1.8 .1zM64.4 471.7l-.4 1 1.6 .2zM68.8 467.1l-.3 1.1 1.7 -.1zM68.7 462.5l-.1 1.1 1.8 -.5zM68.6 458l.2 1.1 1.6 -.8zM64 453.5l.3 1.1 1.5 -1.1zM68.5 453.5l.4 1 1.2 -1zM45.7 448.9l.4 1.1 1.5 -1.1zM50.2 449l.4 1 1.4 -1.1zM54.8 449l.4 1 1.2 -1.1zM45.7 436.5l.4 -1.1 -1.9 0zM50.2 436.4l.4 -1 -1.8 -.1zM54.8 436.4l.4 -1 -1.6 -.2zM64 431.9l.3 -1.1 -1.8 0zM68.5 431.9l.4 -1 -1.6 -.1zM68.6 427.4l.2 -1.1 -1.8 .3zM68.7 422.9l-.1 -1.1 -1.7 .7zM68.8 418.3l-.3 -1.1 -1.5 .9zM59.8 413.8l-.4 -1.1 -1.4 1.1zM64.4 413.7l-.4 -1 -1.2 1.1zM9.3 409.3l0 -1 -1.5 .5zM13.9 409.3l-.1 -1 -1.5 .6zM18.5 409.2l-.1 -1 -1.4 .7z"/><path fill="#47df5f" d="M50.6 471.5l-.3 1.2 2.2 -.1zM55.2 471.6l-.4 1.1 2 0zM64.3 467l-.2 1.2 2 -.2zM64.2 462.4l0 1.3 2.1 -.6zM64.1 457.9l.1 1.2 1.9 -.9zM59.4 453.4l.3 1.2 1.8 -1.1zM27.5 448.9l.2 1.3 2 -.9zM32 448.9l.2 1.2 1.9 -1zM36.6 448.9l.3 1.2 1.8 -1zM41.1 448.9l.3 1.1 1.7 -1.1zM27.5 436.5l.2 -1.3 -2.2 .3zM32 436.5l.2 -1.2 -2.1 .3zM36.6 436.5l.3 -1.2 -2 .2zM41.1 436.5l.3 -1.1 -2 .1zM59.4 432l.3 -1.2 -2.1 .1zM64.1 427.5l.1 -1.2 -2.1 .4zM64.2 423l0 -1.3 -2.1 .7zM64.3 418.4l-.2 -1.2 -1.8 1zM50.6 413.9l-.3 -1.2 -1.8 1.1zM55.2 413.8l-.4 -1.1 -1.6 1.1z"/><path fill="#5adc3e" d="M41.4 471.5l-.2 1.4 2.4 -.3zM46 471.5l-.3 1.3 2.3 -.2zM59.7 467l-.2 1.3 2.3 -.3zM59.6 462.4l0 1.4 2.4 -.6zM59.5 457.9l.1 1.4 2.3 -.9zM54.9 453.4l.3 1.3 2 -1.1zM9.3 448.8l0 1.3 2.2 -.7zM13.8 448.8l0 1.3 2.2 -.7zM18.4 448.8l.1 1.3 2.1 -.8zM22.9 448.8l.1 1.3 2.1 -.9zM9.3 436.6l0 -1.3 -2.2 .7zM13.8 436.6l0 -1.3 -2.2 .6zM18.4 436.6l.1 -1.3 -2.2 .5zM22.9 436.6l.1 -1.3 -2.2 .4zM54.9 432l.3 -1.3 -2.3 .2zM59.5 427.5l.1 -1.4 -2.4 .5zM59.6 423l0 -1.4 -2.4 .8zM59.7 418.4l-.2 -1.3 -2 1zM41.4 413.9l-.2 -1.4 -2.2 1.1zM46 413.9l-.3 -1.3 -2 1.1z"/><path fill="#8cda32" d="M27.6 471.4l-.1 1.5 2.7 -.5zM32.2 471.4l-.2 1.5 2.7 -.4zM36.8 471.4l-.2 1.4 2.6 -.3zM50.5 466.9l-.2 1.5 2.7 -.4zM55.1 466.9l-.2 1.4 2.5 -.4zM55 462.3l0 1.5 2.7 -.7zM54.9 457.8l.1 1.5 2.5 -.9zM45.7 453.3l.2 1.5 2.5 -1.1zM50.3 453.3l.2 1.4 2.2 -1.1zM45.7 432.1l.2 -1.5 -2.7 .3zM50.3 432.1l.2 -1.4 -2.5 .3zM54.9 427.6l.1 -1.5 -2.7 .5zM55 423.1l0 -1.5 -2.7 .8zM50.5 418.5l-.2 -1.5 -2.6 1.1zM55.1 418.5l-.2 -1.4 -2.3 1zM27.6 414l-.1 -1.5 -2.6 1zM32.2 414l-.2 -1.5 -2.5 1zM36.8 414l-.2 -1.4 -2.3 1.1z"/><path fill="#c4d728" d="M9.3 471.4l0 1.6 2.8 -.8zM13.9 471.4l0 1.6 2.8 -.7zM18.5 471.4l-.1 1.6 2.8 -.6zM23.1 471.4l-.1 1.5 2.8 -.6zM45.9 466.8l-.2 1.6 3 -.5zM50.4 462.3l0 1.6 3 -.7zM50.4 457.8l.1 1.6 2.8 -1zM36.6 453.2l.2 1.6 2.8 -1.1zM41.2 453.3l.2 1.5 2.6 -1.1zM36.6 432.2l.2 -1.6 -3 .5zM41.2 432.1l.2 -1.5 -2.8 .4zM50.4 427.6l.1 -1.6 -2.9 .6zM50.4 423.1l0 -1.6 -2.9 .9zM45.9 418.6l-.2 -1.6 -2.8 1.1zM9.3 414l0 -1.6 -2.8 .8zM13.9 414l0 -1.6 -2.8 .8zM18.5 414l-.1 -1.6 -2.8 .9zM23.1 414l-.1 -1.5 -2.7 1z"/><path fill="#d4d41f" d="M36.8 466.7l-.1 1.7 3.3 -.6zM41.4 466.8l-.1 1.7 3.1 -.6zM45.9 462.2l0 1.7 3.2 -.8zM45.8 457.7l.1 1.7 3 -1zM23 453.2l.1 1.7 3.2 -1zM27.5 453.2l.1 1.7 3.1 -1.1zM32.1 453.2l.1 1.7 3 -1.1zM23 432.2l.1 -1.7 -3.3 .7zM27.5 432.2l.1 -1.7 -3.2 .6zM32.1 432.2l.1 -1.7 -3.1 .6zM45.8 427.7l.1 -1.7 -3.1 .7zM45.9 423.2l0 -1.7 -3.2 .9zM36.8 418.7l-.1 -1.7 -3.2 1.1zM41.4 418.6l-.1 -1.7 -3 1.1z"/><path fill="#d29819" d="M27.6 466.7l-.1 1.9 3.6 -.8zM32.2 466.7l-.1 1.8 3.5 -.7zM41.3 462.2l0 1.8 3.4 -.9zM36.7 457.6l.1 1.8 3.5 -1.1zM41.2 457.7l.1 1.8 3.3 -1zM9.3 453.1l0 1.8 3.4 -.9zM13.9 453.1l0 1.8 3.3 -.9zM18.4 453.1l.1 1.8 3.3 -1zM9.3 432.3l0 -1.8 -3.4 .9zM13.9 432.3l0 -1.8 -3.4 .8zM18.4 432.3l.1 -1.8 -3.3 .8zM36.7 427.8l.1 -1.8 -3.5 .8zM41.2 427.7l.1 -1.8 -3.4 .7zM41.3 423.2l0 -1.8 -3.4 1zM27.6 418.7l-.1 -1.9 -3.5 1.1zM32.2 418.7l-.1 -1.8 -3.4 1.1z"/><path fill="#d25419" d="M9.3 466.6l0 1.9 3.8 -1zM13.9 466.6l0 1.9 3.8 -.9zM18.5 466.7l0 1.9 3.7 -.9zM23 466.7l-.1 1.9 3.7 -.8zM32.2 462.1l0 2 3.8 -.9zM36.7 462.1l0 1.9 3.6 -.9zM27.6 457.6l0 2 3.8 -1.1zM32.1 457.6l.1 1.9 3.6 -1.1zM27.6 427.8l0 -2 -3.8 .9zM32.1 427.8l.1 -1.9 -3.7 .8zM32.2 423.3l0 -2 -3.8 1zM36.7 423.3l0 -1.9 -3.6 1zM9.3 418.8l0 -1.9 -3.8 1zM13.9 418.8l0 -1.9 -3.7 1zM18.5 418.7l0 -1.9 -3.7 1zM23 418.7l-.1 -1.9 -3.6 1.1z"/><path fill="#d21919" d="M9.3 462l0 2.1 4.2 -1.1zM13.9 462l0 2.1 4.2 -1zM18.4 462l0 2.1 4.1 -1zM23 462.1l0 2.1 4 -1zM27.6 462.1l0 2 3.9 -1zM9.3 457.5l0 2.1 4 -1zM13.9 457.5l0 2 4 -1zM18.4 457.5l0 2 4 -1.1zM23 457.6l0 2 3.9 -1.1zM9.3 427.9l0 -2.1 -4 1zM13.9 427.9l0 -2 -4 1zM18.4 427.9l0 -2 -4 1zM23 427.8l0 -2 -3.9 .9zM9.3 423.4l0 -2.1 -4.2 1.1zM13.9 423.4l0 -2.1 -4.2 1.1zM18.4 423.4l0 -2.1 -4.1 1.1zM23 423.3l0 -2.1 -4 1.1zM27.6 423.3l0 -2 -3.9 1z"/></g><use href="#h12" transform="matrix(-1 0 0 1 183.1 0)"/>
<g id="h13"><path fill="#58e5e8" d="M235.7 481.2l.9 0 -.4 -1.1zM235.7 476.5l.8 .3 -.1 -1.2zM235.8 471.9l.7 .5 .3 -1.1zM236.4 453.7l-.5 .6 1 .3zM236.5 449.3l-.8 .4 .9 .7zM236.5 444.9l-.9 .1 .6 1zM236.5 440.5l-.9 -.1 .3 1.1zM236.5 436.1l-.8 -.4 -.1 1.1zM236.4 431.7l-.5 -.6 -.5 1zM235.8 413.5l.7 -.5 -1 -.5zM235.7 408.9l.8 -.3 -.8 -.9zM235.7 404.2l.9 0 -.4 -1.1z"/><path fill="#57e4c0" d="M240.2 481.2l1 0 -.5 -1.4zM240.2 476.5l1 .2 -.1 -1.5zM240.3 471.9l.8 .5 .2 -1.3zM240.4 467.3l.5 .7 .6 -1zM244.9 467.3l.6 .6 .5 -1.1zM241 453.7l-.7 .6 1.1 .6zM241.1 449.3l-.9 .4 .9 1zM241.2 444.9l-1 .1 .7 1.4zM241.2 440.5l-1 -.1 .3 1.5zM241.1 436.1l-.9 -.4 0 1.4zM241 431.7l-.7 -.6 -.4 1.2zM240.4 418.1l.5 -.7 -1.1 -.3zM244.9 418.1l.6 -.6 -1.1 -.5zM240.3 413.5l.8 -.5 -1 -.8zM240.2 408.9l1 -.2 -.8 -1.2zM240.2 404.2l1 0 -.5 -1.4z"/><path fill="#4fe291" d="M244.7 481.2l1.1 0 -.6 -1.8zM244.7 476.6l1.1 .2 -.2 -1.8zM244.8 471.9l.9 .4 .1 -1.5zM249.5 467.3l.7 .6 .4 -1.2zM258.5 462.6h1v1h-1zM250.1 458.2l-.5 .7 1.1 .2zM254.7 458.2l-.5 .6 1.1 .3zM245.6 453.8l-.8 .5 1.1 .8zM250.3 453.8l-.9 .5 1.1 1zM245.8 449.3l-1 .3 1 1.3zM245.8 444.9l-1.1 .1 .7 1.7zM245.8 440.5l-1.1 -.1 .4 1.8zM245.8 436.1l-1 -.3 0 1.7zM245.6 431.6l-.8 -.5 -.3 1.3zM250.3 431.6l-.9 -.5 -.2 1.5zM250.1 427.2l-.5 -.7 -.6 .9zM254.7 427.2l-.5 -.6 -.5 1zM258.5 421.8h1v1h-1zM249.5 418.1l.7 -.6 -1.1 -.6zM244.8 413.5l.9 -.4 -1.1 -1.1zM244.7 408.8l1.1 -.2 -.9 -1.5zM244.7 404.2l1.1 0 -.6 -1.8z"/><path fill="#47df5f" d="M249.2 481.2l1.3 0 -.6 -2.1zM249.2 476.6l1.2 .2 -.3 -2.1zM249.3 471.9l1 .4 .1 -1.7zM254 467.3l.8 .5 .3 -1.3zM258.5 467.4l.9 .5 .2 -1.4zM263 462.6h1v1h-1zM267.6 462.6h1v1h-1zM259.3 458.3l-.6 .6 1 .4zM263.9 458.3l-.7 .6 1 .5zM254.9 453.8l-1 .4 1.1 1.2zM250.4 449.3l-1.1 .3 1 1.6zM250.4 444.9l-1.3 .1 .8 2zM250.4 440.5l-1.3 -.1 .5 2.1zM250.4 436.1l-1.1 -.3 .1 1.9zM254.9 431.6l-1 -.4 -.2 1.7zM259.3 427.1l-.6 -.6 -.4 1zM263.9 427.1l-.7 -.6 -.3 1.1zM263 421.8h1v1h-1zM267.6 421.8h1v1h-1zM254 418.1l.8 -.5 -1.1 -.8zM258.5 418l.9 -.5 -1.1 -1zM249.3 413.5l1 -.4 -1.1 -1.4zM249.2 408.8l1.2 -.2 -.9 -1.9zM249.2 404.2l1.3 0 -.6 -2.1z"/><path fill="#5adc3e" d="M253.7 476.6l1.3 .2 -.4 -2.3zM253.8 472l1.1 .3 0 -2zM258.3 472l1.2 .3 -.1 -2.2zM263.1 467.4l.9 .4 .2 -1.5zM267.6 467.4l1 .4 .1 -1.6zM272.2 462.6h1v1h-1zM276.7 462.6h1v1h-1zM281.3 462.6h1v1h-1zM268.5 458.3l-.7 .5 1 .6zM273 458.3l-.8 .4 .9 .7zM277.6 458.4l-.8 .4 .9 .8zM259.5 453.8l-1.1 .4 1.1 1.4zM264.1 453.8l-1.1 .4 1.1 1.6zM255 449.4l-1.3 .3 1.1 1.9zM255.1 444.9l-1.4 .1 .8 2.3zM255.1 440.5l-1.4 -.1 .5 2.4zM255 436l-1.3 -.3 .2 2.2zM259.5 431.6l-1.1 -.4 -.1 1.8zM264.1 431.6l-1.1 -.4 0 2zM268.5 427.1l-.7 -.5 -.3 1.1zM273 427.1l-.8 -.4 -.2 1.2zM277.6 427l-.8 -.4 -.1 1.2zM272.2 421.8h1v1h-1zM276.7 421.8h1v1h-1zM281.3 421.8h1v1h-1zM263.1 418l.9 -.4 -1.1 -1.1zM267.6 418l1 -.4 -1.1 -1.2zM253.8 413.4l1.1 -.3 -1.1 -1.6zM258.3 413.4l1.2 -.3 -1.1 -1.8zM253.7 408.8l1.3 -.2 -1 -2.2z"/><path fill="#8cda32" d="M253.7 481.2l1.4 0 -.7 -2.4zM258.2 481.2l1.5 0 -.8 -2.7zM258.2 476.6l1.4 .2 -.4 -2.6zM262.9 472l1.3 .3 -.2 -2.3zM272.1 467.4l1 .3 0 -1.7zM276.7 467.5l1.1 .3 -.1 -1.8zM281.2 467.5l1.1 .2 -.2 -1.8zM285.9 462.6h1v1h-1zM290.4 462.6h1v1h-1zM295 462.6h1v1h-1zM299.6 462.6h1v1h-1zM282.2 458.4l-.8 .3 .8 .9zM286.8 458.4l-.9 .3 .8 1zM291.4 458.5l-.9 .2 .7 1zM296 458.5l-.9 .1 .6 1.1zM300.5 458.5l-.9 .1 .5 1.1zM268.7 453.9l-1.2 .3 1.1 1.8zM273.3 453.9l-1.3 .3 1.1 1.9zM259.6 449.4l-1.4 .2 1.1 2.2zM259.7 444.9l-1.5 .1 .9 2.6zM259.7 440.5l-1.5 -.1 .6 2.7zM259.6 436l-1.4 -.2 .3 2.4zM268.7 431.5l-1.2 -.3 .1 2.1zM273.3 431.5l-1.3 -.3 .2 2.2zM282.2 427l-.8 -.3 0 1.2zM286.8 427l-.9 -.3 .1 1.2zM291.4 426.9l-.9 -.2 .2 1.2zM296 426.9l-.9 -.1 .3 1.2zM300.5 426.9l-.9 -.1 .4 1.2zM285.9 421.8h1v1h-1zM290.4 421.8h1v1h-1zM295 421.8h1v1h-1zM299.6 421.8h1v1h-1zM272.1 418l1 -.3 -1 -1.4zM276.7 417.9l1.1 -.3 -1 -1.5zM281.2 417.9l1.1 -.2 -.9 -1.6zM262.9 413.4l1.3 -.3 -1.1 -2.1zM258.2 408.8l1.4 -.2 -1 -2.4zM253.7 404.2l1.4 0 -.7 -2.4zM258.2 404.2l1.5 0 -.8 -2.7z"/><path fill="#c4d728" d="M262.7 481.2l1.6 0 -.8 -3zM262.8 476.6l1.5 .1 -.5 -2.8zM267.4 472l1.4 .2 -.3 -2.5zM271.9 472l1.5 .2 -.3 -2.7zM285.8 467.5l1.1 .2 -.3 -1.9zM290.4 467.5l1.2 .1 -.4 -1.9zM294.9 467.6l1.2 .1 -.4 -1.9zM299.5 467.6l1.2 0 -.5 -1.9zM277.9 453.9l-1.3 .2 1.1 2.1zM282.5 453.9l-1.4 .2 1 2.2zM264.2 449.4l-1.4 .2 1.1 2.4zM268.9 449.4l-1.5 .2 1.1 2.6zM264.3 444.9l-1.6 .1 .9 2.9zM264.3 440.5l-1.6 -.1 .7 3zM264.2 436l-1.4 -.2 .4 2.6zM268.9 436l-1.5 -.2 .4 2.8zM277.9 431.5l-1.3 -.2 .3 2.3zM282.5 431.5l-1.4 -.2 .3 2.4zM285.8 417.9l1.1 -.2 -.9 -1.7zM290.4 417.9l1.2 -.1 -.8 -1.7zM294.9 417.8l1.2 -.1 -.7 -1.8zM299.5 417.8l1.2 0 -.7 -1.8zM267.4 413.4l1.4 -.2 -1.1 -2.3zM271.9 413.4l1.5 -.2 -1.1 -2.4zM262.8 408.8l1.5 -.1 -1 -2.7zM262.7 404.2l1.6 0 -.8 -3z"/><path fill="#d4d41f" d="M267.2 481.2l1.7 0 -.9 -3.2zM267.3 476.6l1.6 .1 -.6 -3.1zM276.5 472l1.5 .2 -.4 -2.8zM281 472.1l1.6 .2 -.5 -2.9zM287.1 453.9l-1.4 .2 1 2.3zM291.6 454l-1.4 .1 .9 2.4zM296.2 454l-1.4 .1 .9 2.5zM300.8 454l-1.4 0 .8 2.5zM273.5 449.4l-1.6 .2 1.1 2.8zM268.9 444.9l-1.7 .1 1 3.1zM268.9 440.5l-1.7 -.1 .7 3.2zM273.5 436l-1.6 -.2 .5 3zM287.1 431.5l-1.4 -.2 .4 2.5zM291.6 431.4l-1.4 -.1 .5 2.5zM296.2 431.4l-1.4 -.1 .6 2.5zM300.8 431.4l-1.4 0 .7 2.5zM276.5 413.4l1.5 -.2 -1.1 -2.6zM281 413.3l1.6 -.2 -1.1 -2.7zM267.3 408.8l1.6 -.1 -1 -2.9zM267.2 404.2l1.7 0 -.9 -3.2z"/><path fill="#d29819" d="M271.8 481.2l1.8 0 -.9 -3.4zM271.8 476.6l1.7 .1 -.7 -3.3zM276.3 476.6l1.8 .1 -.7 -3.4zM285.6 472.1l1.6 .1 -.6 -3zM290.1 472.1l1.6 .1 -.6 -3zM294.7 472.1l1.7 .1 -.7 -3.1zM299.2 472.1l1.7 0 -.8 -3.1zM278.1 449.4l-1.7 .1 1.1 3zM282.7 449.4l-1.7 .1 1.1 3.2zM287.3 449.4l-1.8 .1 1.1 3.3zM273.6 444.9l-1.8 .1 1 3.4zM278.2 444.9l-1.9 0 1 3.6zM273.6 440.5l-1.8 -.1 .8 3.4zM278.2 440.5l-1.9 0 .8 3.6zM278.1 436l-1.7 -.1 .6 3.2zM282.7 436l-1.7 -.1 .6 3.3zM287.3 436l-1.8 -.1 .7 3.4zM285.6 413.3l1.6 -.1 -1 -2.9zM290.1 413.3l1.6 -.1 -1 -3zM294.7 413.3l1.7 -.1 -.9 -3zM299.2 413.3l1.7 0 -.9 -3.1zM271.8 408.8l1.7 -.1 -1.1 -3.2zM276.3 408.8l1.8 -.1 -1.1 -3.3zM271.8 404.2l1.8 0 -.9 -3.4z"/><path fill="#d25419" d="M276.3 481.2l1.9 0 -.9 -3.6zM280.8 481.2l2 0 -1 -3.8zM280.9 476.6l1.9 .1 -.8 -3.6zM285.4 476.6l1.9 .1 -.8 -3.7zM290 476.6l2 0 -.9 -3.8zM291.9 449.5l-1.8 .1 1 3.4zM296.4 449.5l-1.8 0 1 3.5zM301 449.5l-1.9 0 1 3.5zM282.8 444.9l-1.9 0 1 3.7zM282.8 440.5l-1.9 0 .9 3.8zM291.9 435.9l-1.8 -.1 .8 3.5zM296.4 435.9l-1.8 0 .8 3.5zM301 435.9l-1.9 0 .9 3.6zM280.9 408.8l1.9 -.1 -1.1 -3.5zM285.4 408.8l1.9 -.1 -1.1 -3.6zM290 408.8l2 0 -1.1 -3.8zM276.3 404.2l1.9 0 -.9 -3.6zM280.8 404.2l2 0 -1 -3.8z"/><path fill="#d21919" d="M285.4 481.2l2 0 -1 -3.9zM289.9 481.2l2.1 0 -1 -4.1zM294.5 481.2l2.1 0 -1 -4.1zM299 481.2l2.1 0 -1.1 -4.2zM294.5 476.7l2 0 -.9 -3.9zM299.1 476.7l2 0 -1 -3.9zM287.4 444.9l-2 0 1.1 3.9zM292 445l-2 0 1.1 4zM296.5 445l-2.1 0 1.1 4.1zM301.1 445l-2.1 0 1.1 4.1zM287.4 440.5l-2 0 .9 3.9zM292 440.4l-2 0 1 4zM296.5 440.4l-2.1 0 1 4.1zM301.1 440.4l-2.1 0 1 4.1zM294.5 408.7l2 0 -1.1 -3.8zM299.1 408.7l2 0 -1 -3.9zM285.4 404.2l2 0 -1 -3.9zM289.9 404.2l2.1 0 -1 -4.1zM294.5 404.2l2.1 0 -1 -4.1zM299 404.2l2.1 0 -1.1 -4.2z"/></g><use href="#h13" transform="matrix(-1 0 0 1 609.3 0)"/><path fill="#8cda32" d="M304.1 462.6h1v1h-1zM305.1 458.6l-.9 0 .4 1.1zM305.1 426.8l-.9 0 .4 1.1zM304.1 421.8h1v1h-1z"/><path fill="#c4d728" d="M304.1 467.6l1.2 0 -.6 -1.9zM304.1 417.8l1.2 0 -.6 -1.9z"/><path fill="#d4d41f" d="M305.4 454l-1.5 0 .7 2.5zM305.4 431.4l-1.5 0 .7 2.5z"/><path fill="#d29819" d="M303.8 472.1l1.7 0 -.8 -3.1zM303.8 413.3l1.7 0 -.8 -3.1z"/><path fill="#d25419" d="M305.6 449.5l-1.9 0 .9 3.6zM305.6 435.9l-1.9 0 .9 3.6z"/><path fill="#d21919" d="M303.6 481.2l2.1 0 -1.1 -4.2zM303.6 476.7l2 0 -1 -3.9zM305.7 445l-2.1 0 1 4.1zM305.7 440.4l-2.1 0 1 4.1zM303.6 408.7l2 0 -1 -3.9zM303.6 404.2l2.1 0 -1.1 -4.2z"/>
<g id="h14"><path fill="#58e5e8" d="M442.9 467.2l0 .9 1.2 -.5zM484 468.1l0 -.9 -1.2 .5zM525.2 467.2l0 .9 1.2 -.5zM566.3 468.1l0 -.9 -1.2 .5zM607.4 467.2l0 .9 1.2 -.5zM461.6 449.4l-.9 .3 .8 1zM466.2 449.6l-.9 -.3 .1 1.3zM501.9 449.6l.9 -.3 -.8 -1zM506.4 449.4l.9 .3 -.1 -1.3zM543.9 449.4l-.9 .3 .8 1zM548.4 449.6l-.9 -.3 .1 1.3zM584.1 449.6l.9 -.3 -.8 -1zM588.7 449.4l.9 .3 -.1 -1.3zM456.7 444.5l-.3 .9 1.2 -.1zM470.4 445.4l-.3 -.9 -1 .8zM497.6 445.4l.3 -.9 -1.2 .1zM511.3 444.5l.3 .9 1 -.8zM539 444.5l-.3 .9 1.2 -.1zM552.7 445.4l-.3 -.9 -1 .8zM579.9 445.4l.3 -.9 -1.2 .1zM593.6 444.5l.3 .9 1 -.8z"/><path fill="#57e4c0" d="M448 481.2l-1 0 .5 1.4zM480 481.2l-1 0 .5 1.4zM488.1 481.2l1 0 -.5 -1.4zM520.1 481.2l1 0 -.5 -1.4zM530.2 481.2l-1 0 .5 1.4zM562.2 481.2l-1 0 .5 1.4zM570.3 481.2l1 0 -.5 -1.4zM602.3 481.2l1 0 -.5 -1.4zM448 476.5l-1 .3 .9 1.3zM480 476.8l-1 -.3 .1 1.5zM488.1 476.8l1 -.3 -.9 -1.3zM520.1 476.5l1 .3 -.1 -1.5zM530.2 476.5l-1 .3 .9 1.3zM562.2 476.8l-1 -.3 .1 1.5zM570.3 476.8l1 -.3 -.9 -1.3zM602.3 476.5l1 .3 -.1 -1.5zM442.9 462.6l0 1 1.5 -.5zM484 463.6l0 -1 -1.5 .5zM525.2 462.6l0 1 1.5 -.5zM566.3 463.6l0 -1 -1.5 .5zM607.4 462.6l0 1 1.5 -.5zM457 449.1l-.7 .8 1.4 .6zM470.7 449.9l-.7 -.8 -.7 1.4zM497.4 449.9l.7 -.8 -1.4 -.6zM511.1 449.1l.7 .8 .7 -1.4zM539.2 449.1l-.7 .8 1.4 .6zM552.9 449.9l-.7 -.8 -.7 1.4zM579.6 449.9l.7 -.8 -1.4 -.6zM593.3 449.1l.7 .8 .7 -1.4z"/><path fill="#4fe291" d="M447.9 471.9l-.9 .5 1.2 1.1zM479.9 472.4l-.9 -.5 -.3 1.6zM488.1 472.4l.9 -.5 -1.2 -1.1zM520.1 471.9l.9 .5 .3 -1.6zM530.2 471.9l-.9 .5 1.2 1.1zM562.2 472.4l-.9 -.5 -.3 1.6zM570.4 472.4l.9 -.5 -1.2 -1.1zM602.4 471.9l.9 .5 .3 -1.6zM447.9 467.2l-.8 .7 1.5 .9zM479.9 468l-.8 -.7 -.7 1.6zM488.2 468l.8 -.7 -1.5 -.9zM520.2 467.2l.8 .7 .7 -1.6zM530.1 467.2l-.8 .7 1.5 .9zM562.1 468l-.8 -.7 -.7 1.6zM570.4 468l.8 -.7 -1.5 -.9zM602.4 467.2l.8 .7 .7 -1.6zM447.8 462.6l-.7 .9 1.8 .6zM479.8 463.5l-.7 -.9 -1.1 1.5zM488.2 463.5l.7 -.9 -1.8 -.6zM520.2 462.6l.7 .9 1.1 -1.5zM530.1 462.6l-.7 .9 1.8 .6zM562.1 463.5l-.7 -.9 -1.1 1.5zM570.5 463.5l.7 -.9 -1.8 -.6zM602.5 462.6l.7 .9 1.1 -1.5zM442.9 458l0 1.2 1.8 -.6zM484 459.1l0 -1.2 -1.8 .6zM525.2 458l0 1.2 1.8 -.6zM566.3 459.1l0 -1.2 -1.8 .6zM607.4 458l0 1.2 1.8 -.6zM452.3 449l-.5 1.1 1.9 .2zM475.1 450l-.5 -1.1 -1.4 1.3zM492.9 450l.5 -1.1 -1.9 -.2zM515.8 449l.5 1.1 1.4 -1.3zM534.5 449l-.5 1.1 1.9 .2zM557.4 450l-.5 -1.1 -1.4 1.3zM575.2 450l.5 -1.1 -1.9 -.2zM598 449l.5 1.1 1.4 -1.3zM452.1 444.4l-.2 1.1 1.8 -.3zM475 445.5l-.2 -1.1 -1.6 .8zM493.1 445.5l.2 -1.1 -1.8 .3zM515.9 444.4l.2 1.1 1.6 -.8zM534.4 444.4l-.2 1.1 1.8 -.3zM557.2 445.5l-.2 -1.1 -1.6 .8zM575.3 445.5l.2 -1.1 -1.8 .3zM598.2 444.4l.2 1.1 1.6 -.8z"/><path fill="#47df5f" d="M447.7 458l-.5 1.1 1.9 .3zM479.7 459.1l-.5 -1.1 -1.4 1.4zM488.3 459.1l.5 -1.1 -1.9 -.3zM520.3 458l.5 1.1 1.4 -1.4zM530 458l-.5 1.1 1.9 .3zM562 459.1l-.5 -1.1 -1.4 1.4zM570.6 459.1l.5 -1.1 -1.9 -.3zM602.6 458l.5 1.1 1.4 -1.4zM442.9 453.4l0 1.2 2 -.6zM447.7 453.4l-.4 1.2 2.1 .1zM452.4 453.5l-.8 1 1.9 .7zM457.1 453.7l-1 .6 1.5 1.3zM461.8 453.9l-1.2 .2 .9 1.7zM466.3 454.1l-1.2 -.2 .2 2zM470.8 454.3l-1 -.6 -.5 1.9zM475.3 454.5l-.8 -1 -1.1 1.7zM479.7 454.6l-.4 -1.2 -1.7 1.2zM484 454.6l0 -1.2 -2 .6zM488.4 454.6l.4 -1.2 -2.1 -.1zM492.8 454.5l.8 -1 -1.9 -.7zM497.2 454.3l1 -.6 -1.5 -1.3zM501.7 454.1l1.2 -.2 -.9 -1.7zM506.3 453.9l1.2 .2 -.2 -2zM510.9 453.7l1 .6 .5 -1.9zM515.6 453.5l.8 1 1.1 -1.7zM520.4 453.4l.4 1.2 1.7 -1.2zM525.2 453.4l0 1.2 2 -.6zM529.9 453.4l-.4 1.2 2.1 .1zM534.7 453.5l-.8 1 1.9 .7zM539.4 453.7l-1 .6 1.5 1.3zM544 453.9l-1.2 .2 .9 1.7zM548.6 454.1l-1.2 -.2 .2 2zM553.1 454.3l-1 -.6 -.5 1.9zM557.5 454.5l-.8 -1 -1.1 1.7zM561.9 454.6l-.4 -1.2 -1.7 1.2zM566.3 454.6l0 -1.2 -2 .6zM570.6 454.6l.4 -1.2 -2.1 -.1zM575 454.5l.8 -1 -1.9 -.7zM579.5 454.3l1 -.6 -1.5 -1.3zM584 454.1l1.2 -.2 -.9 -1.7zM588.5 453.9l1.2 .2 -.2 -2zM593.2 453.7l1 .6 .5 -1.9zM597.9 453.5l.8 1 1.1 -1.7zM602.6 453.4l.4 1.2 1.7 -1.2zM607.4 453.4l0 1.2 2 -.6zM447.6 448.9l-.2 1.2 2.1 -.2zM479.6 450.1l-.2 -1.2 -1.9 1zM488.5 450.1l.2 -1.2 -2.1 .2zM520.5 448.9l.2 1.2 1.9 -1zM529.8 448.9l-.2 1.2 2.1 -.2zM561.8 450.1l-.2 -1.2 -1.9 1zM570.7 450.1l.2 -1.2 -2.1 .2zM602.7 448.9l.2 1.2 1.9 -1zM447.5 444.3l-.1 1.3 2.1 -.5zM479.5 445.6l-.1 -1.3 -2 .8zM488.6 445.6l.1 -1.3 -2.1 .5zM520.5 444.3l.1 1.3 2 -.8zM529.8 444.3l-.1 1.3 2.1 -.5zM561.7 445.6l-.1 -1.3 -2 .8zM570.8 445.6l.1 -1.3 -2.1 .5zM602.8 444.3l.1 1.3 2 -.8z"/><path fill="#5adc3e" d="M452.6 462.7l-1.2 .7 1.7 1.7zM475.5 463.4l-1.2 -.7 -.6 2.3zM492.6 463.4l1.2 -.7 -1.7 -1.7zM515.4 462.7l1.2 .7 .6 -2.3zM534.9 462.7l-1.2 .7 1.7 1.7zM557.7 463.4l-1.2 -.7 -.6 2.3zM574.8 463.4l1.2 -.7 -1.7 -1.7zM597.7 462.7l1.2 .7 .6 -2.3zM452.5 458.1l-1 .8 1.9 1.2zM457.3 458.3l-1.3 .5 1.5 1.9zM471 458.8l-1.3 -.5 -.2 2.5zM475.4 459l-1 -.8 -.9 2zM492.7 459l1 -.8 -1.9 -1.2zM497.1 458.8l1.3 -.5 -1.5 -1.9zM510.8 458.3l1.3 .5 .2 -2.5zM515.5 458.1l1 .8 .9 -2zM534.8 458.1l-1 .8 1.9 1.2zM539.5 458.3l-1.3 .5 1.5 1.9zM553.2 458.8l-1.3 -.5 -.2 2.5zM557.6 459l-1 -.8 -.9 2zM574.9 459l1 -.8 -1.9 -1.2zM579.3 458.8l1.3 -.5 -1.5 -1.9zM593 458.3l1.3 .5 .2 -2.5zM597.8 458.1l1 .8 .9 -2zM442.9 448.8l0 1.3 2.1 -.6zM484 450.1l0 -1.3 -2.1 .6zM525.2 448.8l0 1.3 2.1 -.6zM566.3 450.1l0 -1.3 -2.1 .6zM607.4 448.8l0 1.3 2.1 -.6zM442.9 444.3l0 1.3 2.2 -.7zM484 445.6l0 -1.3 -2.2 .7zM525.2 444.3l0 1.3 2.2 -.7zM566.3 445.6l0 -1.3 -2.2 .7zM607.4 444.3l0 1.3 2.2 -.7z"/><path fill="#8cda32" d="M452.8 481.2l-1.5 0 .8 2.7zM475.6 481.2l-1.5 0 .8 2.7zM492.4 481.2l1.5 0 -.8 -2.7zM515.3 481.2l1.5 0 -.8 -2.7zM535 481.2l-1.5 0 .8 2.7zM557.9 481.2l-1.5 0 .8 2.7zM574.7 481.2l1.5 0 -.8 -2.7zM597.5 481.2l1.5 0 -.8 -2.7zM452.8 476.6l-1.5 .2 1.1 2.6zM475.6 476.8l-1.5 -.2 .4 2.7zM492.4 476.8l1.5 -.2 -1.1 -2.6zM515.3 476.6l1.5 .2 -.4 -2.7zM535 476.6l-1.5 .2 1.1 2.6zM557.9 476.8l-1.5 -.2 .4 2.7zM574.7 476.8l1.5 -.2 -1.1 -2.6zM597.5 476.6l1.5 .2 -.4 -2.7zM452.8 472l-1.4 .4 1.3 2.3zM475.6 472.3l-1.4 -.4 .1 2.7zM492.4 472.3l1.4 -.4 -1.3 -2.3zM515.3 472l1.4 .4 -.1 -2.7zM535 472l-1.4 .4 1.3 2.3zM557.9 472.3l-1.4 -.4 .1 2.7zM574.7 472.3l1.4 -.4 -1.3 -2.3zM597.5 472l1.4 .4 -.1 -2.7zM452.7 467.4l-1.3 .5 1.6 2zM475.6 467.9l-1.3 -.5 -.2 2.6zM492.5 467.9l1.3 -.5 -1.6 -2zM515.3 467.4l1.3 .5 .2 -2.6zM535 467.4l-1.3 .5 1.6 2zM557.8 467.9l-1.3 -.5 -.2 2.6zM574.7 467.9l1.3 -.5 -1.6 -2zM597.6 467.4l1.3 .5 .2 -2.6zM461.9 458.5l-1.4 .2 1 2.4zM466.5 458.6l-1.4 -.2 .4 2.6zM501.6 458.6l1.4 -.2 -1 -2.4zM506.2 458.5l1.4 .2 -.4 -2.6zM544.1 458.5l-1.4 .2 1 2.4zM548.7 458.6l-1.4 -.2 .4 2.6zM583.8 458.6l1.4 -.2 -1 -2.4zM588.4 458.5l1.4 .2 -.4 -2.6z"/><path fill="#c4d728" d="M457.4 462.9l-1.5 .4 1.5 2.5zM471.1 463.3l-1.5 -.4 0 2.9zM497 463.3l1.5 -.4 -1.5 -2.5zM510.7 462.9l1.5 .4 0 -2.9zM539.6 462.9l-1.5 .4 1.5 2.5zM553.3 463.3l-1.5 -.4 0 2.9zM579.2 463.3l1.5 -.4 -1.5 -2.5zM592.9 462.9l1.5 .4 0 -2.9z"/><path fill="#d4d41f" d="M457.4 467.5l-1.7 .3 1.4 2.9zM471.2 467.8l-1.7 -.3 .2 3.3zM496.9 467.8l1.7 -.3 -1.4 -2.9zM510.6 467.5l1.7 .3 -.2 -3.3zM539.7 467.5l-1.7 .3 1.4 2.9zM553.4 467.8l-1.7 -.3 .2 3.3zM579.1 467.8l1.7 -.3 -1.4 -2.9zM592.9 467.5l1.7 .3 -.2 -3.3zM462 463l-1.7 .1 1.1 3zM466.6 463.2l-1.7 -.1 .6 3.1zM501.5 463.2l1.7 -.1 -1.1 -3zM506 463l1.7 .1 -.6 -3.1zM544.3 463l-1.7 .1 1.1 3zM548.8 463.2l-1.7 -.1 .6 3.1zM583.7 463.2l1.7 -.1 -1.1 -3zM588.3 463l1.7 .1 -.6 -3.1z"/><path fill="#d29819" d="M457.5 476.6l-1.9 .1 1.1 3.5zM471.3 476.7l-1.9 -.1 .7 3.6zM496.8 476.7l1.9 -.1 -1.1 -3.5zM510.5 476.6l1.9 .1 -.7 -3.6zM539.8 476.6l-1.9 .1 1.1 3.5zM553.5 476.7l-1.9 -.1 .7 3.6zM579 476.7l1.9 -.1 -1.1 -3.5zM592.8 476.6l1.9 .1 -.7 -3.6zM457.5 472l-1.8 .2 1.3 3.3zM471.2 472.2l-1.8 -.2 .5 3.5zM496.8 472.2l1.8 -.2 -1.3 -3.3zM510.5 472l1.8 .2 -.5 -3.5zM539.8 472l-1.8 .2 1.3 3.3zM553.5 472.2l-1.8 -.2 .5 3.5zM579.1 472.2l1.8 -.2 -1.3 -3.3zM592.8 472l1.8 .2 -.5 -3.5zM462.1 467.6l-1.8 .1 1.1 3.5zM466.7 467.7l-1.8 -.1 .7 3.6zM501.4 467.7l1.8 -.1 -1.1 -3.5zM505.9 467.6l1.8 .1 -.7 -3.6zM544.4 467.6l-1.8 .1 1.1 3.5zM548.9 467.7l-1.8 -.1 .7 3.6zM583.6 467.7l1.8 -.1 -1.1 -3.5zM588.2 467.6l1.8 .1 -.7 -3.6z"/><path fill="#d25419" d="M457.6 481.2l-1.9 0 .9 3.6zM471.3 481.2l-1.9 0 .9 3.6zM496.8 481.2l1.9 0 -.9 -3.6zM510.5 481.2l1.9 0 -.9 -3.6zM539.8 481.2l-1.9 0 .9 3.6zM553.5 481.2l-1.9 0 .9 3.6zM579 481.2l1.9 0 -.9 -3.6zM592.7 481.2l1.9 0 -.9 -3.6zM462.2 472.1l-2 .1 1.1 3.8zM466.7 472.2l-2 -.1 .9 3.9zM501.3 472.2l2 -.1 -1.1 -3.8zM505.9 472.1l2 .1 -.9 -3.9zM544.4 472.1l-2 .1 1.1 3.8zM549 472.2l-2 -.1 .9 3.9zM583.6 472.2l2 -.1 -1.1 -3.8zM588.1 472.1l2 .1 -.9 -3.9z"/><path fill="#d21919" d="M462.2 481.2l-2.1 0 1 4.1zM466.8 481.2l-2.1 0 1 4.1zM501.3 481.2l2.1 0 -1 -4.1zM505.8 481.2l2.1 0 -1 -4.1zM544.5 481.2l-2.1 0 1 4.1zM549 481.2l-2.1 0 1 4.1zM583.5 481.2l2.1 0 -1 -4.1zM588.1 481.2l2.1 0 -1 -4.1zM462.2 476.7l-2.1 0 1.1 4zM466.8 476.7l-2.1 0 1 4.1zM501.3 476.7l2.1 0 -1.1 -4zM505.8 476.7l2.1 0 -1 -4.1zM544.5 476.7l-2.1 0 1.1 4zM549 476.7l-2.1 0 1 4.1zM583.5 476.7l2.1 0 -1.1 -4zM588.1 476.7l2.1 0 -1 -4.1z"/></g><use href="#h14" transform="matrix(1 0 0 -1 0 885.4)"/>
<g id="h15"><path fill="#58e5e8" d="M674.2 477l-.6 -.6 -.4 1zM706.2 476.4l-.6 .6 1 .5zM714.7 476.4l.6 .6 .4 -1zM746.7 477l.6 -.6 -1 -.5zM756.4 477l-.6 -.6 -.4 1zM788.4 476.4l-.6 .6 1 .5zM796.9 476.4l.6 .6 .4 -1zM828.9 477l.6 -.6 -1 -.5z"/><path fill="#57e4c0" d="M678.9 481.2l-1 0 .5 1.4zM701.8 481.2l-1 0 .5 1.4zM719.1 481.2l1 0 -.5 -1.4zM741.9 481.2l1 0 -.5 -1.4zM761.2 481.2l-1 0 .5 1.4zM784 481.2l-1 0 .5 1.4zM801.3 481.2l1 0 -.5 -1.4zM824.2 481.2l1 0 -.5 -1.4z"/><path fill="#4fe291" d="M678.9 476.9l-1 -.4 -.1 1.6zM701.8 476.5l-1 .4 1.1 1.2zM719.1 476.5l1 .4 .1 -1.6zM741.9 476.9l1 -.4 -1.1 -1.2zM761.2 476.9l-1 -.4 -.1 1.6zM784 476.5l-1 .4 1.1 1.2zM801.3 476.5l1 .4 .1 -1.6zM824.2 476.9l1 -.4 -1.1 -1.2zM669.3 472.7l0 -1 -1.5 .5zM674.1 472.6l-.5 -1 -1.2 1.2zM706.1 471.7l-.5 1 1.7 .2zM710.4 471.6l0 1 1.5 -.5zM714.8 471.7l.5 1 1.2 -1.2zM746.7 472.6l.5 -1 -1.7 -.2zM751.5 472.7l0 -1 -1.5 .5zM756.4 472.6l-.5 -1 -1.2 1.2zM788.3 471.7l-.5 1 1.7 .2zM792.7 471.6l0 1 1.5 -.5zM797 471.7l.5 1 1.2 -1.2zM829 472.6l.5 -1 -1.7 -.2zM833.8 472.7l0 -1 -1.5 .5z"/><path fill="#47df5f" d="M683.6 481.2l-1.2 0 .6 1.9zM697.3 481.2l-1.2 0 .6 1.9zM723.5 481.2l1.2 0 -.6 -1.9zM737.2 481.2l1.2 0 -.6 -1.9zM765.9 481.2l-1.2 0 .6 1.9zM779.6 481.2l-1.2 0 .6 1.9zM805.8 481.2l1.2 0 -.6 -1.9zM819.5 481.2l1.2 0 -.6 -1.9zM683.6 476.8l-1.2 -.2 .2 2zM697.3 476.5l-1.2 .2 1 1.8zM723.5 476.5l1.2 .2 -.2 -2zM737.2 476.8l1.2 -.2 -1 -1.8zM765.9 476.8l-1.2 -.2 .2 2zM779.6 476.5l-1.2 .2 1 1.8zM805.8 476.5l1.2 .2 -.2 -2zM819.5 476.8l1.2 -.2 -1 -1.8zM678.9 472.5l-.9 -.8 -.7 1.7zM701.7 471.8l-.9 .8 1.6 1zM719.1 471.8l.9 .8 .7 -1.7zM742 472.5l.9 -.8 -1.6 -1zM761.1 472.5l-.9 -.8 -.7 1.7zM784 471.8l-.9 .8 1.6 1zM801.4 471.8l.9 .8 .7 -1.7zM824.2 472.5l.9 -.8 -1.6 -1z"/><path fill="#5adc3e" d="M688.2 481.2l-1.3 0 .7 2.2zM692.8 481.2l-1.3 0 .7 2.2zM728 481.2l1.3 0 -.7 -2.2zM732.6 481.2l1.3 0 -.7 -2.2zM770.5 481.2l-1.3 0 .7 2.2zM775.1 481.2l-1.3 0 .7 2.2zM810.3 481.2l1.3 0 -.7 -2.2zM814.9 481.2l1.3 0 -.7 -2.2zM688.2 476.7l-1.3 -.1 .5 2.2zM692.8 476.6l-1.3 .1 .8 2.1zM728.1 476.6l1.3 .1 -.5 -2.2zM732.6 476.7l1.3 -.1 -.8 -2.1zM770.5 476.7l-1.3 -.1 .5 2.2zM775 476.6l-1.3 .1 .8 2.1zM810.3 476.6l1.3 .1 -.5 -2.2zM814.9 476.7l1.3 -.1 -.8 -2.1zM683.6 472.4l-1.1 -.5 -.2 2zM688.2 472.2l-1.3 -.2 .4 2.1zM692.8 472.1l-1.3 .2 .9 2zM697.3 471.9l-1.1 .5 1.3 1.6zM723.6 471.9l1.1 .5 .2 -2zM728.1 472.1l1.3 .2 -.4 -2.1zM732.6 472.2l1.3 -.2 -.9 -2zM737.3 472.4l1.1 -.5 -1.3 -1.6zM765.8 472.4l-1.1 -.5 -.2 2zM770.5 472.2l-1.3 -.2 .4 2.1zM775 472.1l-1.3 .2 .9 2zM779.5 471.9l-1.1 .5 1.3 1.6zM805.8 471.9l1.1 .5 .2 -2zM810.3 472.1l1.3 .2 -.4 -2.1zM814.9 472.2l1.3 -.2 -.9 -2zM819.5 472.4l1.1 -.5 -1.3 -1.6zM669.3 468.3l0 -1.3 -2.2 .7zM674.1 468.2l-.4 -1.3 -1.9 1.3zM678.8 468.1l-.7 -1 -1.3 1.7zM683.5 468l-1 -.7 -.6 2zM688.2 467.7l-1.2 -.2 .2 2zM692.7 467.5l-1.2 .2 1 1.7zM697.2 467.3l-1 .7 1.6 1.3zM701.7 467.1l-.7 1 2.1 .7zM706.1 467l-.4 1.3 2.3 0zM710.4 466.9l0 1.3 2.2 -.7zM714.8 467l.4 1.3 1.9 -1.3zM719.2 467.1l.7 1 1.3 -1.7zM723.6 467.3l1 .7 .6 -2zM728.1 467.5l1.2 .2 -.2 -2zM732.7 467.7l1.2 -.2 -1 -1.7zM737.3 468l1 -.7 -1.6 -1.3zM742 468.1l.7 -1 -2.1 -.7zM746.8 468.2l.4 -1.3 -2.3 0zM751.5 468.3l0 -1.3 -2.2 .7zM756.3 468.2l-.4 -1.3 -1.9 1.3zM761.1 468.1l-.7 -1 -1.3 1.7zM765.8 468l-1 -.7 -.6 2zM770.4 467.7l-1.2 -.2 .2 2zM775 467.5l-1.2 .2 1 1.7zM779.5 467.3l-1 .7 1.6 1.3zM783.9 467.1l-.7 1 2.1 .7zM788.3 467l-.4 1.3 2.3 0zM792.7 466.9l0 1.3 2.2 -.7zM797 467l.4 1.3 1.9 -1.3zM801.4 467.1l.7 1 1.3 -1.7zM805.9 467.3l1 .7 .6 -2zM810.4 467.5l1.2 .2 -.2 -2zM814.9 467.7l1.2 -.2 -1 -1.7zM819.6 468l1 -.7 -1.6 -1.3zM824.3 468.1l.7 -1 -2.1 -.7zM829 468.2l.4 -1.3 -2.3 0zM833.8 468.3l0 -1.3 -2.2 .7z"/><path fill="#8cda32" d="M678.7 463.7l-.6 -1.3 -1.9 1.7zM683.4 463.5l-.9 -.9 -1 1.9zM688.1 463.2l-1.1 -.3 0 1.8zM692.7 462.9l-1.1 .3 1 1.5zM697.2 462.6l-.9 .9 1.9 1zM701.6 462.5l-.6 1.3 2.5 .4zM719.3 462.5l.6 1.3 1.9 -1.7zM723.7 462.6l.9 .9 1 -1.9zM728.2 462.9l1.1 .3 0 -1.8zM732.7 463.2l1.1 -.3 -1 -1.5zM737.4 463.5l.9 -.9 -1.9 -1zM742.1 463.7l.6 -1.3 -2.5 -.4zM761 463.7l-.6 -1.3 -1.9 1.7zM765.7 463.5l-.9 -.9 -1 1.9zM770.4 463.2l-1.1 -.3 0 1.8zM774.9 462.9l-1.1 .3 1 1.5zM779.4 462.6l-.9 .9 1.9 1zM783.8 462.5l-.6 1.3 2.5 .4zM801.5 462.5l.6 1.3 1.9 -1.7zM805.9 462.6l.9 .9 1 -1.9zM810.4 462.9l1.1 .3 0 -1.8zM815 463.2l1.1 -.3 -1 -1.5zM819.7 463.5l.9 -.9 -1.9 -1zM824.4 463.7l.6 -1.3 -2.5 -.4zM688 458.8l-.9 -.4 -.1 1.5zM692.6 458.3l-.9 .4 1 1.1zM728.2 458.3l.9 .4 .1 -1.5zM732.8 458.8l.9 -.4 -1 -1.1zM770.3 458.8l-.9 -.4 -.1 1.5zM774.9 458.3l-.9 .4 1 1.1zM810.5 458.3l.9 .4 .1 -1.5zM815.1 458.8l.9 -.4 -1 -1.1zM688 454.3l-.8 -.5 -.3 1.2zM692.5 453.8l-.8 .5 1 .7zM728.3 453.8l.8 .5 .3 -1.2zM732.9 454.3l.8 -.5 -1 -.7zM770.2 454.3l-.8 -.5 -.3 1.2zM774.8 453.8l-.8 .5 1 .7zM810.6 453.8l.8 .5 .3 -1.2zM815.1 454.3l.8 -.5 -1 -.7zM687.1 449h1v1h-1zM691.6 449h1v1h-1zM728.2 449h1v1h-1zM732.8 449h1v1h-1zM769.3 449h1v1h-1zM773.9 449h1v1h-1zM810.5 449h1v1h-1zM815 449h1v1h-1zM687.1 444.5h1v1h-1zM691.6 444.5h1v1h-1zM728.2 444.5h1v1h-1zM732.8 444.5h1v1h-1zM769.3 444.5h1v1h-1zM773.9 444.5h1v1h-1zM810.5 444.5h1v1h-1zM815 444.5h1v1h-1z"/><path fill="#c4d728" d="M669.3 463.9l0 -1.6 -2.8 .8zM674 463.8l-.3 -1.5 -2.5 1.3zM706 462.3l-.3 1.5 2.8 -.2zM710.4 462.3l0 1.6 2.8 -.8zM714.8 462.3l.3 1.5 2.5 -1.3zM746.8 463.8l.3 -1.5 -2.8 .2zM751.5 463.9l0 -1.6 -2.8 .8zM756.3 463.8l-.3 -1.5 -2.5 1.3zM788.3 462.3l-.3 1.5 2.8 -.2zM792.7 462.3l0 1.6 2.8 -.8zM797.1 462.3l.3 1.5 2.5 -1.3zM829.1 463.8l.3 -1.5 -2.8 .2zM833.8 463.9l0 -1.6 -2.8 .8zM683.4 459.1l-.7 -1 -1.3 1.7zM697.1 458l-.7 1 2 .6zM723.8 458l.7 1 1.3 -1.7zM737.5 459.1l.7 -1 -2 -.6zM765.6 459.1l-.7 -1 -1.3 1.7zM779.3 458l-.7 1 2 .6zM806 458l.7 1 1.3 -1.7zM819.7 459.1l.7 -1 -2 -.6zM683.3 454.6l-.5 -1.2 -1.6 1.4zM697 453.4l-.5 1.2 2.1 .3zM723.9 453.4l.5 1.2 1.6 -1.4zM737.6 454.6l.5 -1.2 -2.1 -.3zM765.5 454.6l-.5 -1.2 -1.6 1.4zM779.2 453.4l-.5 1.2 2.1 .3zM806.1 453.4l.5 1.2 1.6 -1.4zM819.8 454.6l.5 -1.2 -2.1 -.3z"/><path fill="#d4d41f" d="M674 459.4l-.2 -1.7 -3 1.3zM678.7 459.3l-.5 -1.4 -2.3 1.6zM701.5 457.8l-.5 1.4 2.8 .1zM706 457.7l-.2 1.7 3.3 -.4zM714.9 457.7l.2 1.7 3 -1.3zM719.3 457.8l.5 1.4 2.3 -1.6zM742.2 459.3l.5 -1.4 -2.8 -.1zM746.9 459.4l.2 -1.7 -3.3 .4zM756.2 459.4l-.2 -1.7 -3 1.3zM760.9 459.3l-.5 -1.4 -2.3 1.6zM783.8 457.8l-.5 1.4 2.8 .1zM788.2 457.7l-.2 1.7 3.3 -.4zM797.1 457.7l.2 1.7 3 -1.3zM801.6 457.8l.5 1.4 2.3 -1.6zM824.4 459.3l.5 -1.4 -2.8 -.1zM829.1 459.4l.2 -1.7 -3.3 .4zM683.2 450.1l-.3 -1.2 -1.9 1.1zM696.9 448.9l-.3 1.2 2.2 -.1zM724 448.9l.3 1.2 1.9 -1.1zM737.7 450.1l.3 -1.2 -2.2 .1zM765.4 450.1l-.3 -1.2 -1.9 1.1zM779.1 448.9l-.3 1.2 2.2 -.1zM806.2 448.9l.3 1.2 1.9 -1.1zM819.9 450.1l.3 -1.2 -2.2 .1zM683.1 445.6l-.1 -1.3 -2 .8zM696.8 444.3l-.1 1.3 2.1 -.5zM724.1 444.3l.1 1.3 2 -.8zM737.8 445.6l.1 -1.3 -2.1 .5zM765.3 445.6l-.1 -1.3 -2 .8zM779 444.3l-.1 1.3 2.1 -.5zM806.3 444.3l.1 1.3 2 -.8zM820 445.6l.1 -1.3 -2.1 .5z"/><path fill="#d29819" d="M669.3 459.4l0 -1.8 -3.4 .9zM710.4 457.7l0 1.8 3.4 -.9zM751.5 459.4l0 -1.8 -3.4 .9zM792.7 457.7l0 1.8 3.4 -.9zM833.8 459.4l0 -1.8 -3.4 .9zM678.6 454.8l-.4 -1.6 -2.7 1.4zM701.5 453.2l-.4 1.6 3.1 -.2zM719.4 453.2l.4 1.6 2.7 -1.4zM742.2 454.8l.4 -1.6 -3.1 .2zM760.9 454.8l-.4 -1.6 -2.7 1.4zM783.7 453.2l-.4 1.6 3.1 -.2zM801.6 453.2l.4 1.6 2.7 -1.4zM824.5 454.8l.4 -1.6 -3.1 .2zM678.5 450.3l-.2 -1.7 -3 1.2zM701.4 448.7l-.2 1.7 3.2 -.4zM719.5 448.7l.2 1.7 3 -1.2zM742.3 450.3l.2 -1.7 -3.2 .4zM760.8 450.3l-.2 -1.7 -3 1.2zM783.6 448.7l-.2 1.7 3.2 -.4zM801.7 448.7l.2 1.7 3 -1.2zM824.6 450.3l.2 -1.7 -3.2 .4z"/><path fill="#d25419" d="M669.3 455l0 -1.9 -3.8 1zM674 454.9l-.2 -1.9 -3.4 1.3zM705.9 453.1l-.2 1.9 3.6 -.6zM710.4 453.1l0 1.9 3.8 -1zM714.9 453.1l.2 1.9 3.4 -1.3zM746.9 454.9l.2 -1.9 -3.6 .6zM751.5 455l0 -1.9 -3.8 1zM756.2 454.9l-.2 -1.9 -3.4 1.3zM788.2 453.1l-.2 1.9 3.6 -.6zM792.7 453.1l0 1.9 3.8 -1zM797.2 453.1l.2 1.9 3.4 -1.3zM829.1 454.9l.2 -1.9 -3.6 .6zM833.8 455l0 -1.9 -3.8 1zM673.9 450.5l-.1 -2 -3.7 1.2zM705.9 448.5l-.1 2 3.8 -.8zM714.9 448.5l.1 2 3.7 -1.2zM746.9 450.5l.1 -2 -3.8 .8zM756.2 450.5l-.1 -2 -3.7 1.2zM788.2 448.5l-.1 2 3.8 -.8zM797.2 448.5l.1 2 3.7 -1.2zM829.2 450.5l.1 -2 -3.8 .8zM678.5 445.8l-.1 -1.7 -3.2 1zM701.3 444.1l-.1 1.7 3.2 -.7zM719.5 444.1l.1 1.7 3.2 -1zM742.4 445.8l.1 -1.7 -3.2 .7zM760.7 445.8l-.1 -1.7 -3.2 1zM783.6 444.1l-.1 1.7 3.2 -.7zM801.8 444.1l.1 1.7 3.2 -1zM824.6 445.8l.1 -1.7 -3.2 .7z"/><path fill="#d21919" d="M669.3 450.5l0 -2.1 -4 1zM710.4 448.5l0 2.1 4 -1zM751.5 450.5l0 -2.1 -4 1zM792.7 448.5l0 2.1 4 -1zM833.8 450.5l0 -2.1 -4 1zM669.3 446l0 -2.1 -4.2 1.1zM673.9 446l0 -2 -3.9 1.1zM705.9 444l0 2 3.9 -.9zM710.4 443.9l0 2.1 4.2 -1.1zM715 444l0 2 3.9 -1.1zM747 446l0 -2 -3.9 .9zM751.5 446l0 -2.1 -4.2 1.1zM756.1 446l0 -2 -3.9 1.1zM788.1 444l0 2 3.9 -.9zM792.7 443.9l0 2.1 4.2 -1.1zM797.2 444l0 2 3.9 -1.1zM829.2 446l0 -2 -3.9 .9zM833.8 446l0 -2.1 -4.2 1.1z"/></g><use href="#h15" transform="matrix(1 0 0 -1 0 885.4)"/>
</g></defs>
<use href="#ar" filter="url(#bl)" opacity=".22"/><use href="#ar" opacity=".85"/>
<rect x="9.1" y="39.1" width="164.4" height="76.6" fill="none" stroke="#1a1a40" stroke-opacity=".26" stroke-width="1.2"/>
<rect x="222.2" y="39.1" width="164.4" height="76.6" fill="none" stroke="#1a1a40" stroke-opacity=".26" stroke-width="1.2"/>
<rect x="442.7" y="39.1" width="164.4" height="76.6" fill="none" stroke="#1a1a40" stroke-opacity=".26" stroke-width="1.2"/>
<rect x="669.1" y="39.1" width="164.4" height="76.6" fill="none" stroke="#1a1a40" stroke-opacity=".26" stroke-width="1.2"/>
<rect x="9.1" y="162.6" width="164.4" height="76.6" fill="none" stroke="#1a1a40" stroke-opacity=".26" stroke-width="1.2"/>
<rect x="222.2" y="162.6" width="164.4" height="76.6" fill="none" stroke="#1a1a40" stroke-opacity=".26" stroke-width="1.2"/>
<rect x="442.7" y="162.6" width="164.4" height="76.6" fill="none" stroke="#1a1a40" stroke-opacity=".26" stroke-width="1.2"/>
<rect x="669.1" y="162.6" width="164.4" height="76.6" fill="none" stroke="#1a1a40" stroke-opacity=".26" stroke-width="1.2"/>
<rect x="9.1" y="282.8" width="164.4" height="76.6" fill="none" stroke="#1a1a40" stroke-opacity=".26" stroke-width="1.2"/>
<rect x="222.2" y="282.8" width="164.4" height="76.6" fill="none" stroke="#1a1a40" stroke-opacity=".26" stroke-width="1.2"/>
<rect x="442.7" y="282.8" width="164.4" height="76.6" fill="none" stroke="#1a1a40" stroke-opacity=".26" stroke-width="1.2"/>
<rect x="669.1" y="282.8" width="164.4" height="76.6" fill="none" stroke="#1a1a40" stroke-opacity=".26" stroke-width="1.2"/>
<rect x="9.1" y="404.4" width="164.4" height="76.6" fill="none" stroke="#1a1a40" stroke-opacity=".26" stroke-width="1.2"/>
<rect x="222.2" y="404.4" width="164.4" height="76.6" fill="none" stroke="#1a1a40" stroke-opacity=".26" stroke-width="1.2"/>
<rect x="442.7" y="404.4" width="164.4" height="76.6" fill="none" stroke="#1a1a40" stroke-opacity=".26" stroke-width="1.2"/>
<rect x="669.1" y="404.4" width="164.4" height="76.6" fill="none" stroke="#1a1a40" stroke-opacity=".26" stroke-width="1.2"/>
</svg>
</div></body></html>
